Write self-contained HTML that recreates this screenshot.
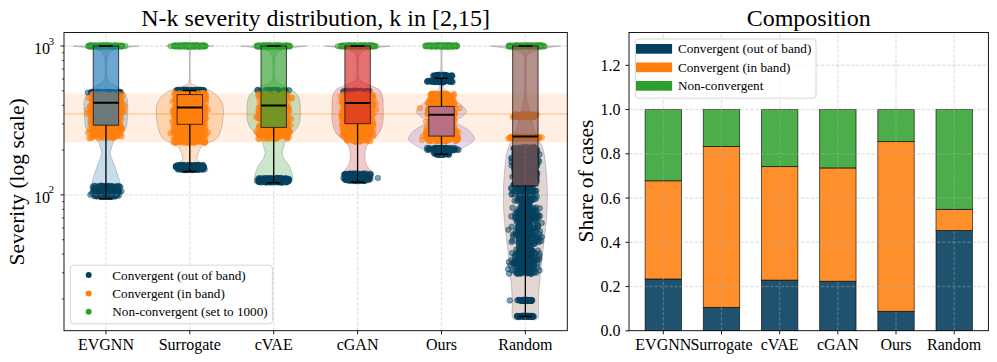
<!DOCTYPE html>
<html><head><meta charset="utf-8"><style>
html,body{margin:0;padding:0;background:#fff;width:997px;height:362px;overflow:hidden;position:relative}
svg text{font-family:"Liberation Serif",serif;fill:#000}
.tk{font-size:16px}.sup{font-size:11.2px}.ti{font-size:24px}.lb{font-size:21.5px}.lg{font-size:13.2px}
</style></head><body>
<svg width="997" height="362" viewBox="0 0 997 362" style="position:absolute;left:0;top:0">
<rect width="997" height="362" fill="#fff"/>
<defs><clipPath id="cl"><rect x="64.0" y="32.5" width="503.29999999999995" height="298.2"/></clipPath><clipPath id="cr"><rect x="629" y="32.5" width="359.4" height="298.2"/></clipPath></defs>
<g clip-path="url(#cl)">
<rect x="64.0" y="93.5" width="503.29999999999995" height="48.80000000000001" fill="rgb(255,127,14)" fill-opacity="0.12"/>
<line x1="64.0" x2="567.3" y1="114" y2="114" stroke="rgb(255,127,14)" stroke-opacity="0.45" stroke-width="1.2"/>
<path d="M138.94,46.00 C136.94,46.25 130.44,47.00 126.94,47.50 C123.44,48.00 120.52,48.42 117.94,49.00 C115.36,49.58 113.02,50.17 111.44,51.00 C109.86,51.83 109.19,52.50 108.44,54.00 C107.69,55.50 107.19,56.17 106.94,60.00 C106.69,63.83 106.36,73.17 106.94,77.00 C107.52,80.83 108.94,81.50 110.44,83.00 C111.94,84.50 113.86,84.50 115.94,86.00 C118.02,87.50 121.02,89.67 122.94,92.00 C124.86,94.33 126.69,96.17 127.44,100.00 C128.19,103.83 127.69,110.33 127.44,115.00 C127.19,119.67 127.19,124.67 125.94,128.00 C124.69,131.33 121.91,132.83 119.94,135.00 C117.97,137.17 115.47,139.17 114.14,141.00 C112.81,142.83 112.54,144.33 111.94,146.00 C111.34,147.67 110.79,149.50 110.54,151.00 C110.29,152.50 109.82,152.67 110.44,155.00 C111.06,157.33 113.02,161.67 114.24,165.00 C115.46,168.33 116.84,172.17 117.74,175.00 C118.64,177.83 119.11,179.50 119.64,182.00 C120.17,184.50 121.22,187.67 120.94,190.00 C120.66,192.33 120.44,194.42 117.94,196.00 C115.44,197.58 107.94,198.92 105.94,199.50 L105.94,199.50 C103.94,198.92 96.44,197.58 93.94,196.00 C91.44,194.42 91.22,192.33 90.94,190.00 C90.66,187.67 91.71,184.50 92.24,182.00 C92.77,179.50 93.24,177.83 94.14,175.00 C95.04,172.17 96.42,168.33 97.64,165.00 C98.86,161.67 100.82,157.33 101.44,155.00 C102.06,152.67 101.59,152.50 101.34,151.00 C101.09,149.50 100.54,147.67 99.94,146.00 C99.34,144.33 99.07,142.83 97.74,141.00 C96.41,139.17 93.91,137.17 91.94,135.00 C89.97,132.83 87.19,131.33 85.94,128.00 C84.69,124.67 84.69,119.67 84.44,115.00 C84.19,110.33 83.69,103.83 84.44,100.00 C85.19,96.17 87.02,94.33 88.94,92.00 C90.86,89.67 93.86,87.50 95.94,86.00 C98.02,84.50 99.94,84.50 101.44,83.00 C102.94,81.50 104.36,80.83 104.94,77.00 C105.52,73.17 105.19,63.83 104.94,60.00 C104.69,56.17 104.19,55.50 103.44,54.00 C102.69,52.50 102.02,51.83 100.44,51.00 C98.86,50.17 96.52,49.58 93.94,49.00 C91.36,48.42 88.44,48.00 84.94,47.50 C81.44,47.00 74.94,46.25 72.94,46.00Z" fill="rgb(31,119,180)" fill-opacity="0.25" stroke="rgb(128,128,128)" stroke-opacity="0.5" stroke-width="0.8"/>
<path d="M213.82,46.00 C211.16,46.25 201.49,46.92 197.82,47.50 C194.16,48.08 193.06,48.58 191.82,49.50 C190.59,50.42 190.66,47.92 190.42,53.00 C190.19,58.08 189.86,74.67 190.42,80.00 C190.99,85.33 191.17,83.50 193.82,85.00 C196.47,86.50 202.57,87.33 206.32,89.00 C210.07,90.67 213.57,92.33 216.32,95.00 C219.07,97.67 221.74,100.83 222.82,105.00 C223.91,109.17 223.16,115.83 222.82,120.00 C222.49,124.17 221.66,127.17 220.82,130.00 C219.99,132.83 219.16,135.17 217.82,137.00 C216.49,138.83 214.82,139.83 212.82,141.00 C210.82,142.17 207.74,143.00 205.82,144.00 C203.91,145.00 202.52,145.67 201.32,147.00 C200.12,148.33 199.34,150.33 198.62,152.00 C197.91,153.67 197.16,155.58 197.02,157.00 C196.89,158.42 196.69,159.00 197.82,160.50 C198.96,162.00 203.16,164.42 203.82,166.00 C204.49,167.58 204.16,168.92 201.82,170.00 C199.49,171.08 191.82,172.08 189.82,172.50 L189.82,172.50 C187.82,172.08 180.16,171.08 177.82,170.00 C175.49,168.92 175.16,167.58 175.82,166.00 C176.49,164.42 180.69,162.00 181.82,160.50 C182.96,159.00 182.76,158.42 182.62,157.00 C182.49,155.58 181.74,153.67 181.02,152.00 C180.31,150.33 179.52,148.33 178.32,147.00 C177.12,145.67 175.74,145.00 173.82,144.00 C171.91,143.00 168.82,142.17 166.82,141.00 C164.82,139.83 163.16,138.83 161.82,137.00 C160.49,135.17 159.66,132.83 158.82,130.00 C157.99,127.17 157.16,124.17 156.82,120.00 C156.49,115.83 155.74,109.17 156.82,105.00 C157.91,100.83 160.57,97.67 163.32,95.00 C166.07,92.33 169.57,90.67 173.32,89.00 C177.07,87.33 183.17,86.50 185.82,85.00 C188.47,83.50 188.66,85.33 189.22,80.00 C189.79,74.67 189.46,58.08 189.22,53.00 C188.99,47.92 189.06,50.42 187.82,49.50 C186.59,48.58 185.49,48.08 181.82,47.50 C178.16,46.92 168.49,46.25 165.82,46.00Z" fill="rgb(255,127,14)" fill-opacity="0.25" stroke="rgb(128,128,128)" stroke-opacity="0.5" stroke-width="0.8"/>
<path d="M306.71,46.00 C304.71,46.25 298.21,47.00 294.71,47.50 C291.21,48.00 288.29,48.42 285.71,49.00 C283.12,49.58 280.79,50.17 279.21,51.00 C277.62,51.83 276.96,52.50 276.21,54.00 C275.46,55.50 274.96,56.17 274.71,60.00 C274.46,63.83 274.12,73.17 274.71,77.00 C275.29,80.83 276.54,81.50 278.21,83.00 C279.87,84.50 282.29,84.83 284.71,86.00 C287.12,87.17 290.37,88.17 292.71,90.00 C295.04,91.83 297.46,94.50 298.71,97.00 C299.96,99.50 299.96,101.50 300.21,105.00 C300.46,108.50 300.54,114.50 300.21,118.00 C299.87,121.50 299.62,123.33 298.21,126.00 C296.79,128.67 293.79,131.50 291.71,134.00 C289.62,136.50 287.04,138.83 285.71,141.00 C284.37,143.17 284.27,145.00 283.71,147.00 C283.14,149.00 282.22,151.00 282.31,153.00 C282.39,155.00 283.14,157.00 284.21,159.00 C285.27,161.00 287.54,163.00 288.71,165.00 C289.87,167.00 290.54,169.00 291.21,171.00 C291.87,173.00 292.62,175.33 292.71,177.00 C292.79,178.67 292.87,179.83 291.71,181.00 C290.54,182.17 288.71,183.25 285.71,184.00 C282.71,184.75 275.71,185.25 273.71,185.50 L273.71,185.50 C271.71,185.25 264.71,184.75 261.71,184.00 C258.71,183.25 256.87,182.17 255.71,181.00 C254.54,179.83 254.62,178.67 254.71,177.00 C254.79,175.33 255.54,173.00 256.21,171.00 C256.87,169.00 257.54,167.00 258.71,165.00 C259.87,163.00 262.14,161.00 263.21,159.00 C264.27,157.00 265.02,155.00 265.11,153.00 C265.19,151.00 264.27,149.00 263.71,147.00 C263.14,145.00 263.04,143.17 261.71,141.00 C260.37,138.83 257.79,136.50 255.71,134.00 C253.62,131.50 250.62,128.67 249.21,126.00 C247.79,123.33 247.54,121.50 247.21,118.00 C246.87,114.50 246.96,108.50 247.21,105.00 C247.46,101.50 247.46,99.50 248.71,97.00 C249.96,94.50 252.37,91.83 254.71,90.00 C257.04,88.17 260.29,87.17 262.71,86.00 C265.12,84.83 267.54,84.50 269.21,83.00 C270.87,81.50 272.12,80.83 272.71,77.00 C273.29,73.17 272.96,63.83 272.71,60.00 C272.46,56.17 271.96,55.50 271.21,54.00 C270.46,52.50 269.79,51.83 268.21,51.00 C266.62,50.17 264.29,49.58 261.71,49.00 C259.12,48.42 256.21,48.00 252.71,47.50 C249.21,47.00 242.71,46.25 240.71,46.00Z" fill="rgb(44,160,44)" fill-opacity="0.25" stroke="rgb(128,128,128)" stroke-opacity="0.5" stroke-width="0.8"/>
<path d="M390.59,46.00 C388.59,46.25 382.09,47.00 378.59,47.50 C375.09,48.00 372.17,48.42 369.59,49.00 C367.01,49.58 364.67,50.17 363.09,51.00 C361.51,51.83 360.84,52.50 360.09,54.00 C359.34,55.50 358.84,56.17 358.59,60.00 C358.34,63.83 357.92,73.33 358.59,77.00 C359.26,80.67 360.42,80.50 362.59,82.00 C364.76,83.50 368.76,84.67 371.59,86.00 C374.42,87.33 377.76,88.17 379.59,90.00 C381.42,91.83 382.01,94.50 382.59,97.00 C383.17,99.50 383.01,101.17 383.09,105.00 C383.17,108.83 383.51,115.83 383.09,120.00 C382.67,124.17 381.67,127.33 380.59,130.00 C379.51,132.67 378.26,134.17 376.59,136.00 C374.92,137.83 372.26,139.33 370.59,141.00 C368.92,142.67 367.51,144.17 366.59,146.00 C365.67,147.83 365.34,149.67 365.09,152.00 C364.84,154.33 364.76,157.67 365.09,160.00 C365.42,162.33 366.01,164.00 367.09,166.00 C368.17,168.00 370.51,170.00 371.59,172.00 C372.67,174.00 373.59,176.33 373.59,178.00 C373.59,179.67 374.26,181.00 371.59,182.00 C368.92,183.00 359.92,183.67 357.59,184.00 L357.59,184.00 C355.26,183.67 346.26,183.00 343.59,182.00 C340.92,181.00 341.59,179.67 341.59,178.00 C341.59,176.33 342.51,174.00 343.59,172.00 C344.67,170.00 347.01,168.00 348.09,166.00 C349.17,164.00 349.76,162.33 350.09,160.00 C350.42,157.67 350.34,154.33 350.09,152.00 C349.84,149.67 349.51,147.83 348.59,146.00 C347.67,144.17 346.26,142.67 344.59,141.00 C342.92,139.33 340.26,137.83 338.59,136.00 C336.92,134.17 335.67,132.67 334.59,130.00 C333.51,127.33 332.51,124.17 332.09,120.00 C331.67,115.83 332.01,108.83 332.09,105.00 C332.17,101.17 332.01,99.50 332.59,97.00 C333.17,94.50 333.76,91.83 335.59,90.00 C337.42,88.17 340.76,87.33 343.59,86.00 C346.42,84.67 350.42,83.50 352.59,82.00 C354.76,80.50 355.92,80.67 356.59,77.00 C357.26,73.33 356.84,63.83 356.59,60.00 C356.34,56.17 355.84,55.50 355.09,54.00 C354.34,52.50 353.67,51.83 352.09,51.00 C350.51,50.17 348.17,49.58 345.59,49.00 C343.01,48.42 340.09,48.00 336.59,47.50 C333.09,47.00 326.59,46.25 324.59,46.00Z" fill="rgb(214,39,40)" fill-opacity="0.25" stroke="rgb(128,128,128)" stroke-opacity="0.5" stroke-width="0.8"/>
<path d="M453.47,46.00 C452.14,46.17 447.27,46.50 445.47,47.00 C443.67,47.50 443.24,48.17 442.67,49.00 C442.11,49.83 442.17,48.83 442.07,52.00 C441.97,55.17 441.84,64.67 442.07,68.00 C442.31,71.33 443.07,70.33 443.47,72.00 C443.87,73.67 444.39,76.00 444.47,78.00 C444.56,80.00 444.14,82.33 443.97,84.00 C443.81,85.67 442.72,86.50 443.47,88.00 C444.22,89.50 446.81,91.00 448.47,93.00 C450.14,95.00 451.31,98.00 453.47,100.00 C455.64,102.00 459.31,103.07 461.47,105.00 C463.64,106.93 466.47,109.60 466.47,111.60 C466.47,113.60 463.47,115.35 461.47,117.00 C459.47,118.65 454.47,120.00 454.47,121.50 C454.47,123.00 458.97,124.42 461.47,126.00 C463.97,127.58 467.31,128.85 469.47,131.00 C471.64,133.15 474.47,136.73 474.47,138.90 C474.47,141.07 471.81,142.32 469.47,144.00 C467.14,145.68 463.64,147.23 460.47,149.00 C457.31,150.77 453.64,153.27 450.47,154.60 C447.31,155.93 442.97,156.60 441.47,157.00 L441.47,157.00 C439.97,156.60 435.64,155.93 432.47,154.60 C429.31,153.27 425.64,150.77 422.47,149.00 C419.31,147.23 415.81,145.68 413.47,144.00 C411.14,142.32 408.47,141.07 408.47,138.90 C408.47,136.73 411.31,133.15 413.47,131.00 C415.64,128.85 418.97,127.58 421.47,126.00 C423.97,124.42 428.47,123.00 428.47,121.50 C428.47,120.00 423.47,118.65 421.47,117.00 C419.47,115.35 416.47,113.60 416.47,111.60 C416.47,109.60 419.31,106.93 421.47,105.00 C423.64,103.07 427.31,102.00 429.47,100.00 C431.64,98.00 432.81,95.00 434.47,93.00 C436.14,91.00 438.72,89.50 439.47,88.00 C440.22,86.50 439.14,85.67 438.97,84.00 C438.81,82.33 438.39,80.00 438.47,78.00 C438.56,76.00 439.07,73.67 439.47,72.00 C439.87,70.33 440.64,71.33 440.87,68.00 C441.11,64.67 440.97,55.17 440.87,52.00 C440.77,48.83 440.84,49.83 440.27,49.00 C439.71,48.17 439.27,47.50 437.47,47.00 C435.67,46.50 430.81,46.17 429.47,46.00Z" fill="rgb(148,103,189)" fill-opacity="0.25" stroke="rgb(128,128,128)" stroke-opacity="0.5" stroke-width="0.8"/>
<path d="M560.36,46.00 C558.52,46.25 552.86,46.92 549.36,47.50 C545.86,48.08 542.36,48.75 539.36,49.50 C536.36,50.25 533.27,51.08 531.36,52.00 C529.44,52.92 528.71,53.67 527.86,55.00 C527.01,56.33 526.51,53.33 526.26,60.00 C526.01,66.67 525.84,86.67 526.36,95.00 C526.87,103.33 528.27,105.00 529.36,110.00 C530.44,115.00 531.69,120.83 532.86,125.00 C534.02,129.17 534.62,130.83 536.36,135.00 C538.09,139.17 541.64,144.17 543.26,150.00 C544.87,155.83 545.37,162.50 546.06,170.00 C546.74,177.50 547.31,186.67 547.36,195.00 C547.41,203.33 547.19,210.00 546.36,220.00 C545.52,230.00 543.44,245.00 542.36,255.00 C541.27,265.00 540.52,272.50 539.86,280.00 C539.19,287.50 538.72,293.58 538.36,300.00 C537.99,306.42 539.82,315.40 537.66,318.50 C535.49,321.60 527.41,318.58 525.36,318.60 L525.36,318.60 C523.31,318.58 515.22,321.60 513.06,318.50 C510.89,315.40 512.72,306.42 512.36,300.00 C511.99,293.58 511.52,287.50 510.86,280.00 C510.19,272.50 509.44,265.00 508.36,255.00 C507.27,245.00 505.19,230.00 504.36,220.00 C503.52,210.00 503.31,203.33 503.36,195.00 C503.41,186.67 503.97,177.50 504.66,170.00 C505.34,162.50 505.84,155.83 507.46,150.00 C509.07,144.17 512.62,139.17 514.36,135.00 C516.09,130.83 516.69,129.17 517.86,125.00 C519.02,120.83 520.27,115.00 521.36,110.00 C522.44,105.00 523.84,103.33 524.36,95.00 C524.87,86.67 524.71,66.67 524.46,60.00 C524.21,53.33 523.71,56.33 522.86,55.00 C522.01,53.67 521.27,52.92 519.36,52.00 C517.44,51.08 514.36,50.25 511.36,49.50 C508.36,48.75 504.86,48.08 501.36,47.50 C497.86,46.92 492.19,46.25 490.36,46.00Z" fill="rgb(140,86,75)" fill-opacity="0.25" stroke="rgb(128,128,128)" stroke-opacity="0.5" stroke-width="0.8"/>
<g fill="rgb(5,65,95)" fill-opacity="0.5" stroke="rgb(5,65,95)" stroke-opacity="0.5" stroke-width="0.8">
<circle cx="108.4" cy="92.1" r="2.8"/><circle cx="99.2" cy="92.4" r="2.8"/><circle cx="97.8" cy="92.1" r="2.8"/><circle cx="91.3" cy="92.1" r="2.8"/><circle cx="90.8" cy="92.5" r="2.8"/><circle cx="105.7" cy="92.3" r="2.8"/><circle cx="103.7" cy="92.6" r="2.8"/><circle cx="120.7" cy="92.1" r="2.8"/><circle cx="106.2" cy="92.7" r="2.8"/><circle cx="96.8" cy="92.6" r="2.8"/><circle cx="96.5" cy="92.1" r="2.8"/><circle cx="93.1" cy="92.6" r="2.8"/><circle cx="105.5" cy="92.5" r="2.8"/><circle cx="108.8" cy="92.2" r="2.8"/><circle cx="97.4" cy="92.1" r="2.8"/><circle cx="119.7" cy="92.3" r="2.8"/><circle cx="103.7" cy="92.1" r="2.8"/><circle cx="105.6" cy="92.5" r="2.8"/><circle cx="99.0" cy="92.0" r="2.8"/><circle cx="106.5" cy="92.4" r="2.8"/><circle cx="120.0" cy="92.1" r="2.8"/><circle cx="110.0" cy="92.3" r="2.8"/><circle cx="109.5" cy="92.5" r="2.8"/><circle cx="115.0" cy="92.2" r="2.8"/><circle cx="109.4" cy="92.0" r="2.8"/><circle cx="97.0" cy="92.0" r="2.8"/><circle cx="103.5" cy="92.5" r="2.8"/><circle cx="107.2" cy="92.5" r="2.8"/><circle cx="95.6" cy="92.2" r="2.8"/><circle cx="105.2" cy="92.8" r="2.8"/><circle cx="112.7" cy="92.8" r="2.8"/><circle cx="105.3" cy="92.1" r="2.8"/><circle cx="104.3" cy="92.5" r="2.8"/><circle cx="99.1" cy="92.2" r="2.8"/><circle cx="107.9" cy="92.2" r="2.8"/><circle cx="113.3" cy="92.4" r="2.8"/><circle cx="109.8" cy="92.2" r="2.8"/><circle cx="107.8" cy="92.6" r="2.8"/><circle cx="117.4" cy="92.6" r="2.8"/><circle cx="116.8" cy="92.6" r="2.8"/><circle cx="96.8" cy="92.0" r="2.8"/><circle cx="100.0" cy="92.6" r="2.8"/><circle cx="105.3" cy="92.1" r="2.8"/><circle cx="113.2" cy="92.8" r="2.8"/><circle cx="110.6" cy="92.3" r="2.8"/><circle cx="107.3" cy="92.6" r="2.8"/><circle cx="108.9" cy="92.1" r="2.8"/><circle cx="108.1" cy="92.4" r="2.8"/><circle cx="117.7" cy="92.4" r="2.8"/><circle cx="98.7" cy="92.1" r="2.8"/><circle cx="107.9" cy="92.4" r="2.8"/><circle cx="98.3" cy="92.0" r="2.8"/><circle cx="101.3" cy="92.8" r="2.8"/><circle cx="87.8" cy="92.6" r="2.8"/><circle cx="111.6" cy="92.1" r="2.8"/><circle cx="97.1" cy="92.5" r="2.8"/><circle cx="92.2" cy="92.0" r="2.8"/><circle cx="107.9" cy="92.0" r="2.8"/><circle cx="97.5" cy="92.4" r="2.8"/><circle cx="100.5" cy="92.5" r="2.8"/><circle cx="94.9" cy="92.2" r="2.8"/><circle cx="118.5" cy="92.3" r="2.8"/><circle cx="108.8" cy="92.1" r="2.8"/><circle cx="104.6" cy="92.5" r="2.8"/><circle cx="107.0" cy="92.6" r="2.8"/><circle cx="117.3" cy="92.0" r="2.8"/><circle cx="111.1" cy="92.3" r="2.8"/><circle cx="104.6" cy="92.5" r="2.8"/><circle cx="100.4" cy="92.4" r="2.8"/><circle cx="118.6" cy="92.5" r="2.8"/><circle cx="97.8" cy="92.8" r="2.8"/><circle cx="102.6" cy="92.6" r="2.8"/><circle cx="96.8" cy="189.7" r="2.8"/><circle cx="99.4" cy="192.9" r="2.8"/><circle cx="108.2" cy="188.3" r="2.8"/><circle cx="98.2" cy="190.7" r="2.8"/><circle cx="118.4" cy="186.1" r="2.8"/><circle cx="113.7" cy="193.1" r="2.8"/><circle cx="97.8" cy="191.1" r="2.8"/><circle cx="104.1" cy="187.7" r="2.8"/><circle cx="109.0" cy="192.7" r="2.8"/><circle cx="100.9" cy="187.6" r="2.8"/><circle cx="105.5" cy="191.7" r="2.8"/><circle cx="100.8" cy="192.4" r="2.8"/><circle cx="109.1" cy="193.1" r="2.8"/><circle cx="98.4" cy="194.1" r="2.8"/><circle cx="101.0" cy="190.5" r="2.8"/><circle cx="101.1" cy="191.9" r="2.8"/><circle cx="111.5" cy="196.2" r="2.8"/><circle cx="109.0" cy="192.8" r="2.8"/><circle cx="116.7" cy="186.2" r="2.8"/><circle cx="104.0" cy="188.7" r="2.8"/><circle cx="104.7" cy="187.7" r="2.8"/><circle cx="114.9" cy="195.3" r="2.8"/><circle cx="115.7" cy="193.2" r="2.8"/><circle cx="105.8" cy="188.0" r="2.8"/><circle cx="101.5" cy="189.4" r="2.8"/><circle cx="109.3" cy="186.5" r="2.8"/><circle cx="100.3" cy="187.1" r="2.8"/><circle cx="117.2" cy="188.8" r="2.8"/><circle cx="113.9" cy="196.4" r="2.8"/><circle cx="98.3" cy="188.8" r="2.8"/><circle cx="106.4" cy="194.5" r="2.8"/><circle cx="109.0" cy="195.7" r="2.8"/><circle cx="111.3" cy="195.0" r="2.8"/><circle cx="108.9" cy="190.8" r="2.8"/><circle cx="118.3" cy="190.7" r="2.8"/><circle cx="108.4" cy="188.8" r="2.8"/><circle cx="98.5" cy="193.2" r="2.8"/><circle cx="101.5" cy="188.1" r="2.8"/><circle cx="106.0" cy="189.7" r="2.8"/><circle cx="105.5" cy="186.1" r="2.8"/><circle cx="101.8" cy="189.6" r="2.8"/><circle cx="92.2" cy="193.6" r="2.8"/><circle cx="96.6" cy="190.1" r="2.8"/><circle cx="106.1" cy="195.6" r="2.8"/><circle cx="111.9" cy="194.2" r="2.8"/><circle cx="110.4" cy="189.6" r="2.8"/><circle cx="102.6" cy="192.6" r="2.8"/><circle cx="104.3" cy="192.0" r="2.8"/><circle cx="109.0" cy="185.8" r="2.8"/><circle cx="97.3" cy="188.5" r="2.8"/><circle cx="113.4" cy="192.5" r="2.8"/><circle cx="103.0" cy="188.9" r="2.8"/><circle cx="108.8" cy="194.2" r="2.8"/><circle cx="99.3" cy="193.0" r="2.8"/><circle cx="103.6" cy="187.8" r="2.8"/><circle cx="98.4" cy="191.3" r="2.8"/><circle cx="96.5" cy="195.1" r="2.8"/><circle cx="97.6" cy="187.8" r="2.8"/><circle cx="104.3" cy="190.9" r="2.8"/><circle cx="121.4" cy="191.2" r="2.8"/><circle cx="113.2" cy="187.9" r="2.8"/><circle cx="98.3" cy="191.9" r="2.8"/><circle cx="112.1" cy="194.2" r="2.8"/><circle cx="109.9" cy="188.2" r="2.8"/><circle cx="94.2" cy="189.8" r="2.8"/><circle cx="107.6" cy="192.7" r="2.8"/><circle cx="112.2" cy="187.4" r="2.8"/><circle cx="107.4" cy="186.9" r="2.8"/><circle cx="99.3" cy="188.5" r="2.8"/><circle cx="99.2" cy="186.7" r="2.8"/><circle cx="102.5" cy="189.0" r="2.8"/><circle cx="104.4" cy="194.2" r="2.8"/><circle cx="92.7" cy="187.0" r="2.8"/><circle cx="111.3" cy="189.3" r="2.8"/><circle cx="106.4" cy="194.1" r="2.8"/><circle cx="117.6" cy="193.9" r="2.8"/><circle cx="94.4" cy="190.0" r="2.8"/><circle cx="104.3" cy="195.9" r="2.8"/><circle cx="107.7" cy="190.5" r="2.8"/><circle cx="97.3" cy="194.7" r="2.8"/><circle cx="97.6" cy="190.1" r="2.8"/><circle cx="108.0" cy="191.8" r="2.8"/><circle cx="115.8" cy="188.4" r="2.8"/><circle cx="116.2" cy="186.7" r="2.8"/><circle cx="109.4" cy="196.3" r="2.8"/><circle cx="111.4" cy="192.6" r="2.8"/><circle cx="100.5" cy="190.8" r="2.8"/><circle cx="108.7" cy="193.4" r="2.8"/><circle cx="115.2" cy="192.8" r="2.8"/><circle cx="101.2" cy="186.0" r="2.8"/><circle cx="95.9" cy="192.2" r="2.8"/><circle cx="113.8" cy="193.0" r="2.8"/><circle cx="114.3" cy="189.1" r="2.8"/><circle cx="120.4" cy="187.0" r="2.8"/><circle cx="112.5" cy="186.1" r="2.8"/><circle cx="103.1" cy="189.7" r="2.8"/><circle cx="95.7" cy="191.2" r="2.8"/><circle cx="118.6" cy="191.4" r="2.8"/><circle cx="98.6" cy="189.9" r="2.8"/><circle cx="109.9" cy="196.2" r="2.8"/><circle cx="112.8" cy="194.7" r="2.8"/><circle cx="93.6" cy="188.8" r="2.8"/><circle cx="108.1" cy="190.6" r="2.8"/><circle cx="96.6" cy="194.0" r="2.8"/><circle cx="117.8" cy="191.4" r="2.8"/><circle cx="107.6" cy="195.4" r="2.8"/><circle cx="104.4" cy="190.3" r="2.8"/><circle cx="108.3" cy="195.6" r="2.8"/><circle cx="117.4" cy="193.4" r="2.8"/><circle cx="111.8" cy="187.0" r="2.8"/><circle cx="95.9" cy="186.0" r="2.8"/><circle cx="96.5" cy="190.9" r="2.8"/><circle cx="94.9" cy="188.2" r="2.8"/><circle cx="96.1" cy="187.9" r="2.8"/><circle cx="99.2" cy="194.6" r="2.8"/><circle cx="112.9" cy="188.4" r="2.8"/><circle cx="119.2" cy="186.3" r="2.8"/><circle cx="115.7" cy="190.2" r="2.8"/><circle cx="111.2" cy="186.9" r="2.8"/><circle cx="115.3" cy="192.1" r="2.8"/><circle cx="97.5" cy="188.8" r="2.8"/><circle cx="108.3" cy="190.5" r="2.8"/><circle cx="109.8" cy="189.0" r="2.8"/><circle cx="101.1" cy="186.7" r="2.8"/><circle cx="106.0" cy="187.0" r="2.8"/><circle cx="103.6" cy="193.5" r="2.8"/><circle cx="118.9" cy="195.4" r="2.8"/><circle cx="106.1" cy="195.4" r="2.8"/><circle cx="114.4" cy="195.9" r="2.8"/><circle cx="119.4" cy="192.3" r="2.8"/><circle cx="103.4" cy="192.7" r="2.8"/><circle cx="99.4" cy="195.0" r="2.8"/><circle cx="104.9" cy="192.4" r="2.8"/><circle cx="110.3" cy="193.4" r="2.8"/><circle cx="110.0" cy="186.9" r="2.8"/><circle cx="97.6" cy="193.2" r="2.8"/><circle cx="103.9" cy="196.1" r="2.8"/><circle cx="105.0" cy="189.8" r="2.8"/><circle cx="98.8" cy="193.7" r="2.8"/><circle cx="118.1" cy="191.3" r="2.8"/><circle cx="111.0" cy="196.1" r="2.8"/><circle cx="115.1" cy="196.4" r="2.8"/><circle cx="102.5" cy="188.4" r="2.8"/><circle cx="90.4" cy="194.7" r="2.8"/><circle cx="100.2" cy="188.7" r="2.8"/><circle cx="106.8" cy="189.7" r="2.8"/><circle cx="103.9" cy="194.8" r="2.8"/><circle cx="98.2" cy="187.5" r="2.8"/><circle cx="96.6" cy="189.4" r="2.8"/><circle cx="115.3" cy="193.5" r="2.8"/><circle cx="102.3" cy="189.3" r="2.8"/><circle cx="103.1" cy="189.0" r="2.8"/><circle cx="102.7" cy="185.9" r="2.8"/><circle cx="105.8" cy="185.9" r="2.8"/><circle cx="99.3" cy="196.1" r="2.8"/><circle cx="111.6" cy="186.1" r="2.8"/><circle cx="99.1" cy="192.0" r="2.8"/><circle cx="106.1" cy="188.9" r="2.8"/><circle cx="108.6" cy="189.8" r="2.8"/><circle cx="111.6" cy="194.9" r="2.8"/><circle cx="103.7" cy="194.5" r="2.8"/><circle cx="110.7" cy="191.7" r="2.8"/><circle cx="97.6" cy="188.6" r="2.8"/><circle cx="113.5" cy="193.4" r="2.8"/><circle cx="117.3" cy="192.5" r="2.8"/><circle cx="101.2" cy="194.5" r="2.8"/><circle cx="95.2" cy="195.7" r="2.8"/><circle cx="112.9" cy="189.4" r="2.8"/><circle cx="97.6" cy="195.8" r="2.8"/><circle cx="104.9" cy="194.1" r="2.8"/><circle cx="95.4" cy="193.9" r="2.8"/><circle cx="92.4" cy="192.4" r="2.8"/><circle cx="108.7" cy="188.5" r="2.8"/><circle cx="101.5" cy="187.3" r="2.8"/><circle cx="103.7" cy="196.0" r="2.8"/><circle cx="103.1" cy="190.6" r="2.8"/><circle cx="94.5" cy="196.2" r="2.8"/><circle cx="105.4" cy="190.6" r="2.8"/><circle cx="102.9" cy="190.2" r="2.8"/><circle cx="107.6" cy="190.2" r="2.8"/><circle cx="105.7" cy="188.3" r="2.8"/><circle cx="97.1" cy="190.0" r="2.8"/><circle cx="108.8" cy="191.2" r="2.8"/><circle cx="101.5" cy="196.5" r="2.8"/><circle cx="93.9" cy="185.9" r="2.8"/><circle cx="100.3" cy="190.3" r="2.8"/><circle cx="108.1" cy="194.8" r="2.8"/><circle cx="99.5" cy="185.9" r="2.8"/><circle cx="107.1" cy="192.4" r="2.8"/><circle cx="103.4" cy="189.8" r="2.8"/><circle cx="108.8" cy="186.9" r="2.8"/><circle cx="116.0" cy="187.0" r="2.8"/><circle cx="97.3" cy="196.4" r="2.8"/><circle cx="103.2" cy="186.3" r="2.8"/><circle cx="101.3" cy="195.6" r="2.8"/><circle cx="108.0" cy="195.4" r="2.8"/><circle cx="113.0" cy="189.9" r="2.8"/><circle cx="107.1" cy="192.4" r="2.8"/><circle cx="117.1" cy="195.7" r="2.8"/><circle cx="113.3" cy="191.9" r="2.8"/><circle cx="107.3" cy="191.7" r="2.8"/><circle cx="96.5" cy="196.2" r="2.8"/><circle cx="107.3" cy="191.5" r="2.8"/><circle cx="101.1" cy="195.9" r="2.8"/><circle cx="113.8" cy="195.2" r="2.8"/><circle cx="107.5" cy="186.1" r="2.8"/><circle cx="111.5" cy="189.9" r="2.8"/><circle cx="101.2" cy="191.5" r="2.8"/><circle cx="118.2" cy="189.3" r="2.8"/><circle cx="106.1" cy="194.1" r="2.8"/><circle cx="114.1" cy="189.9" r="2.8"/><circle cx="113.3" cy="187.7" r="2.8"/><circle cx="99.8" cy="195.8" r="2.8"/><circle cx="114.1" cy="191.1" r="2.8"/><circle cx="99.2" cy="187.5" r="2.8"/><circle cx="101.3" cy="195.7" r="2.8"/><circle cx="100.6" cy="187.5" r="2.8"/><circle cx="95.7" cy="193.3" r="2.8"/><circle cx="96.3" cy="194.4" r="2.8"/><circle cx="111.1" cy="194.6" r="2.8"/><circle cx="107.7" cy="188.1" r="2.8"/><circle cx="101.4" cy="185.8" r="2.8"/><circle cx="113.1" cy="194.6" r="2.8"/><circle cx="115.6" cy="194.1" r="2.8"/><circle cx="111.1" cy="189.3" r="2.8"/><circle cx="186.8" cy="90.4" r="2.8"/><circle cx="184.5" cy="90.1" r="2.8"/><circle cx="187.4" cy="90.0" r="2.8"/><circle cx="194.0" cy="90.5" r="2.8"/><circle cx="186.4" cy="90.0" r="2.8"/><circle cx="190.5" cy="90.0" r="2.8"/><circle cx="197.7" cy="90.3" r="2.8"/><circle cx="183.7" cy="90.0" r="2.8"/><circle cx="185.4" cy="90.6" r="2.8"/><circle cx="177.5" cy="90.5" r="2.8"/><circle cx="194.7" cy="90.0" r="2.8"/><circle cx="194.6" cy="90.6" r="2.8"/><circle cx="188.1" cy="90.2" r="2.8"/><circle cx="198.2" cy="90.5" r="2.8"/><circle cx="190.4" cy="90.3" r="2.8"/><circle cx="194.8" cy="90.1" r="2.8"/><circle cx="196.8" cy="90.1" r="2.8"/><circle cx="195.0" cy="90.1" r="2.8"/><circle cx="184.5" cy="90.2" r="2.8"/><circle cx="183.5" cy="90.7" r="2.8"/><circle cx="176.6" cy="90.1" r="2.8"/><circle cx="178.3" cy="90.3" r="2.8"/><circle cx="183.9" cy="90.0" r="2.8"/><circle cx="198.1" cy="90.2" r="2.8"/><circle cx="189.3" cy="90.6" r="2.8"/><circle cx="197.2" cy="90.5" r="2.8"/><circle cx="197.0" cy="90.4" r="2.8"/><circle cx="183.9" cy="90.3" r="2.8"/><circle cx="189.3" cy="90.6" r="2.8"/><circle cx="197.2" cy="90.7" r="2.8"/><circle cx="202.0" cy="90.4" r="2.8"/><circle cx="186.1" cy="90.2" r="2.8"/><circle cx="203.7" cy="90.6" r="2.8"/><circle cx="192.0" cy="90.6" r="2.8"/><circle cx="197.1" cy="90.3" r="2.8"/><circle cx="194.1" cy="90.5" r="2.8"/><circle cx="203.7" cy="90.1" r="2.8"/><circle cx="202.1" cy="90.2" r="2.8"/><circle cx="203.3" cy="90.4" r="2.8"/><circle cx="178.7" cy="90.0" r="2.8"/><circle cx="190.4" cy="90.4" r="2.8"/><circle cx="197.3" cy="90.2" r="2.8"/><circle cx="189.0" cy="90.0" r="2.8"/><circle cx="182.2" cy="90.2" r="2.8"/><circle cx="184.5" cy="90.3" r="2.8"/><circle cx="184.9" cy="90.7" r="2.8"/><circle cx="190.5" cy="90.0" r="2.8"/><circle cx="192.1" cy="90.5" r="2.8"/><circle cx="190.9" cy="90.3" r="2.8"/><circle cx="202.4" cy="90.3" r="2.8"/><circle cx="177.2" cy="90.4" r="2.8"/><circle cx="177.9" cy="90.6" r="2.8"/><circle cx="200.9" cy="90.0" r="2.8"/><circle cx="186.9" cy="89.9" r="2.8"/><circle cx="185.6" cy="89.9" r="2.8"/><circle cx="185.7" cy="90.3" r="2.8"/><circle cx="180.7" cy="90.0" r="2.8"/><circle cx="185.7" cy="90.3" r="2.8"/><circle cx="182.3" cy="90.4" r="2.8"/><circle cx="200.6" cy="90.2" r="2.8"/><circle cx="197.0" cy="90.4" r="2.8"/><circle cx="187.7" cy="90.2" r="2.8"/><circle cx="199.8" cy="89.9" r="2.8"/><circle cx="187.3" cy="90.6" r="2.8"/><circle cx="188.6" cy="90.1" r="2.8"/><circle cx="183.8" cy="90.1" r="2.8"/><circle cx="182.6" cy="90.4" r="2.8"/><circle cx="199.7" cy="90.7" r="2.8"/><circle cx="190.8" cy="90.6" r="2.8"/><circle cx="191.1" cy="90.2" r="2.8"/><circle cx="189.7" cy="90.2" r="2.8"/><circle cx="198.1" cy="90.3" r="2.8"/><circle cx="186.1" cy="167.5" r="2.8"/><circle cx="198.7" cy="168.1" r="2.8"/><circle cx="195.7" cy="169.4" r="2.8"/><circle cx="204.7" cy="169.3" r="2.8"/><circle cx="190.0" cy="165.4" r="2.8"/><circle cx="201.1" cy="168.4" r="2.8"/><circle cx="202.4" cy="169.0" r="2.8"/><circle cx="196.4" cy="169.8" r="2.8"/><circle cx="189.8" cy="168.4" r="2.8"/><circle cx="183.1" cy="167.5" r="2.8"/><circle cx="186.4" cy="169.2" r="2.8"/><circle cx="194.5" cy="167.6" r="2.8"/><circle cx="203.0" cy="165.0" r="2.8"/><circle cx="178.0" cy="166.0" r="2.8"/><circle cx="179.7" cy="166.3" r="2.8"/><circle cx="194.0" cy="165.2" r="2.8"/><circle cx="176.4" cy="166.3" r="2.8"/><circle cx="202.4" cy="166.9" r="2.8"/><circle cx="190.4" cy="167.7" r="2.8"/><circle cx="198.9" cy="166.3" r="2.8"/><circle cx="190.3" cy="166.2" r="2.8"/><circle cx="195.7" cy="168.4" r="2.8"/><circle cx="178.0" cy="166.6" r="2.8"/><circle cx="180.5" cy="169.2" r="2.8"/><circle cx="184.9" cy="166.7" r="2.8"/><circle cx="179.6" cy="168.7" r="2.8"/><circle cx="176.2" cy="166.2" r="2.8"/><circle cx="179.6" cy="165.2" r="2.8"/><circle cx="196.8" cy="169.4" r="2.8"/><circle cx="191.0" cy="169.0" r="2.8"/><circle cx="184.6" cy="170.0" r="2.8"/><circle cx="188.8" cy="166.9" r="2.8"/><circle cx="184.7" cy="166.5" r="2.8"/><circle cx="188.2" cy="168.3" r="2.8"/><circle cx="185.7" cy="170.0" r="2.8"/><circle cx="197.2" cy="167.5" r="2.8"/><circle cx="195.7" cy="168.9" r="2.8"/><circle cx="189.2" cy="168.4" r="2.8"/><circle cx="183.7" cy="166.3" r="2.8"/><circle cx="200.8" cy="167.7" r="2.8"/><circle cx="181.0" cy="166.4" r="2.8"/><circle cx="194.5" cy="165.6" r="2.8"/><circle cx="185.9" cy="169.6" r="2.8"/><circle cx="186.9" cy="169.5" r="2.8"/><circle cx="182.8" cy="166.5" r="2.8"/><circle cx="182.9" cy="167.5" r="2.8"/><circle cx="191.8" cy="167.4" r="2.8"/><circle cx="179.2" cy="166.7" r="2.8"/><circle cx="192.8" cy="165.5" r="2.8"/><circle cx="198.3" cy="169.4" r="2.8"/><circle cx="185.8" cy="169.2" r="2.8"/><circle cx="202.6" cy="165.4" r="2.8"/><circle cx="202.2" cy="166.1" r="2.8"/><circle cx="178.5" cy="168.8" r="2.8"/><circle cx="194.5" cy="168.2" r="2.8"/><circle cx="189.2" cy="168.4" r="2.8"/><circle cx="182.5" cy="166.1" r="2.8"/><circle cx="200.6" cy="168.1" r="2.8"/><circle cx="192.4" cy="168.9" r="2.8"/><circle cx="182.0" cy="167.5" r="2.8"/><circle cx="190.3" cy="167.7" r="2.8"/><circle cx="190.4" cy="166.1" r="2.8"/><circle cx="191.9" cy="169.4" r="2.8"/><circle cx="188.7" cy="167.9" r="2.8"/><circle cx="197.9" cy="167.5" r="2.8"/><circle cx="197.8" cy="169.4" r="2.8"/><circle cx="183.1" cy="168.4" r="2.8"/><circle cx="189.6" cy="166.6" r="2.8"/><circle cx="189.2" cy="166.5" r="2.8"/><circle cx="183.1" cy="168.5" r="2.8"/><circle cx="196.4" cy="165.8" r="2.8"/><circle cx="188.1" cy="169.4" r="2.8"/><circle cx="198.4" cy="166.6" r="2.8"/><circle cx="188.8" cy="167.1" r="2.8"/><circle cx="200.2" cy="168.6" r="2.8"/><circle cx="176.0" cy="165.9" r="2.8"/><circle cx="180.8" cy="166.0" r="2.8"/><circle cx="194.1" cy="167.4" r="2.8"/><circle cx="195.0" cy="167.1" r="2.8"/><circle cx="199.3" cy="166.6" r="2.8"/><circle cx="183.8" cy="168.8" r="2.8"/><circle cx="195.3" cy="166.5" r="2.8"/><circle cx="184.8" cy="165.7" r="2.8"/><circle cx="187.7" cy="165.3" r="2.8"/><circle cx="192.4" cy="169.9" r="2.8"/><circle cx="182.6" cy="165.4" r="2.8"/><circle cx="189.8" cy="168.7" r="2.8"/><circle cx="191.3" cy="166.2" r="2.8"/><circle cx="180.7" cy="165.4" r="2.8"/><circle cx="185.4" cy="169.6" r="2.8"/><circle cx="191.9" cy="166.4" r="2.8"/><circle cx="193.1" cy="166.9" r="2.8"/><circle cx="177.8" cy="165.5" r="2.8"/><circle cx="178.6" cy="166.7" r="2.8"/><circle cx="197.2" cy="168.6" r="2.8"/><circle cx="181.7" cy="166.0" r="2.8"/><circle cx="186.4" cy="169.3" r="2.8"/><circle cx="197.4" cy="165.8" r="2.8"/><circle cx="191.7" cy="166.3" r="2.8"/><circle cx="190.5" cy="168.6" r="2.8"/><circle cx="191.8" cy="168.2" r="2.8"/><circle cx="195.1" cy="165.0" r="2.8"/><circle cx="185.8" cy="167.6" r="2.8"/><circle cx="177.9" cy="169.6" r="2.8"/><circle cx="191.1" cy="167.4" r="2.8"/><circle cx="186.9" cy="167.1" r="2.8"/><circle cx="196.7" cy="166.1" r="2.8"/><circle cx="199.5" cy="169.4" r="2.8"/><circle cx="196.7" cy="165.6" r="2.8"/><circle cx="180.5" cy="168.9" r="2.8"/><circle cx="188.6" cy="169.8" r="2.8"/><circle cx="179.0" cy="168.3" r="2.8"/><circle cx="200.7" cy="167.9" r="2.8"/><circle cx="179.2" cy="168.3" r="2.8"/><circle cx="184.9" cy="165.7" r="2.8"/><circle cx="181.1" cy="167.9" r="2.8"/><circle cx="188.3" cy="165.5" r="2.8"/><circle cx="197.3" cy="166.3" r="2.8"/><circle cx="179.6" cy="168.2" r="2.8"/><circle cx="199.6" cy="165.4" r="2.8"/><circle cx="187.6" cy="167.7" r="2.8"/><circle cx="190.6" cy="168.3" r="2.8"/><circle cx="198.1" cy="165.4" r="2.8"/><circle cx="195.8" cy="165.6" r="2.8"/><circle cx="182.0" cy="166.0" r="2.8"/><circle cx="187.4" cy="167.1" r="2.8"/><circle cx="202.5" cy="169.7" r="2.8"/><circle cx="197.1" cy="167.1" r="2.8"/><circle cx="198.5" cy="165.1" r="2.8"/><circle cx="190.6" cy="165.6" r="2.8"/><circle cx="178.9" cy="167.6" r="2.8"/><circle cx="178.4" cy="168.4" r="2.8"/><circle cx="203.8" cy="167.4" r="2.8"/><circle cx="177.9" cy="165.2" r="2.8"/><circle cx="189.8" cy="167.8" r="2.8"/><circle cx="190.9" cy="168.9" r="2.8"/><circle cx="187.3" cy="166.8" r="2.8"/><circle cx="190.6" cy="166.3" r="2.8"/><circle cx="178.3" cy="166.9" r="2.8"/><circle cx="180.6" cy="167.1" r="2.8"/><circle cx="196.9" cy="167.0" r="2.8"/><circle cx="181.7" cy="169.1" r="2.8"/><circle cx="197.3" cy="166.0" r="2.8"/><circle cx="180.7" cy="165.1" r="2.8"/><circle cx="204.0" cy="166.8" r="2.8"/><circle cx="191.7" cy="165.5" r="2.8"/><circle cx="198.8" cy="169.7" r="2.8"/><circle cx="175.8" cy="167.2" r="2.8"/><circle cx="182.6" cy="165.2" r="2.8"/><circle cx="190.5" cy="165.7" r="2.8"/><circle cx="180.1" cy="168.0" r="2.8"/><circle cx="203.0" cy="165.9" r="2.8"/><circle cx="200.0" cy="166.3" r="2.8"/><circle cx="188.9" cy="167.2" r="2.8"/><circle cx="183.7" cy="165.6" r="2.8"/><circle cx="187.3" cy="165.9" r="2.8"/><circle cx="176.0" cy="166.8" r="2.8"/><circle cx="184.1" cy="169.5" r="2.8"/><circle cx="191.6" cy="167.2" r="2.8"/><circle cx="199.4" cy="166.6" r="2.8"/><circle cx="191.0" cy="166.7" r="2.8"/><circle cx="192.5" cy="169.9" r="2.8"/><circle cx="198.1" cy="166.8" r="2.8"/><circle cx="197.9" cy="167.8" r="2.8"/><circle cx="187.5" cy="167.4" r="2.8"/><circle cx="186.8" cy="169.6" r="2.8"/><circle cx="177.6" cy="165.7" r="2.8"/><circle cx="181.5" cy="165.9" r="2.8"/><circle cx="188.0" cy="166.9" r="2.8"/><circle cx="190.5" cy="165.3" r="2.8"/><circle cx="194.7" cy="168.2" r="2.8"/><circle cx="182.8" cy="165.1" r="2.8"/><circle cx="185.7" cy="167.1" r="2.8"/><circle cx="203.7" cy="167.6" r="2.8"/><circle cx="185.8" cy="166.7" r="2.8"/><circle cx="181.6" cy="169.1" r="2.8"/><circle cx="182.1" cy="169.2" r="2.8"/><circle cx="188.5" cy="165.1" r="2.8"/><circle cx="190.2" cy="169.8" r="2.8"/><circle cx="178.8" cy="167.0" r="2.8"/><circle cx="180.5" cy="168.8" r="2.8"/><circle cx="181.2" cy="169.4" r="2.8"/><circle cx="193.4" cy="167.4" r="2.8"/><circle cx="201.8" cy="169.0" r="2.8"/><circle cx="184.5" cy="165.1" r="2.8"/><circle cx="194.7" cy="169.2" r="2.8"/><circle cx="194.0" cy="169.4" r="2.8"/><circle cx="189.4" cy="169.0" r="2.8"/><circle cx="182.6" cy="166.1" r="2.8"/><circle cx="179.5" cy="168.7" r="2.8"/><circle cx="201.8" cy="166.4" r="2.8"/><circle cx="202.7" cy="168.8" r="2.8"/><circle cx="182.9" cy="169.9" r="2.8"/><circle cx="182.8" cy="166.0" r="2.8"/><circle cx="184.6" cy="168.9" r="2.8"/><circle cx="185.1" cy="168.3" r="2.8"/><circle cx="179.7" cy="165.2" r="2.8"/><circle cx="199.3" cy="168.7" r="2.8"/><circle cx="181.6" cy="168.3" r="2.8"/><circle cx="185.3" cy="169.9" r="2.8"/><circle cx="201.6" cy="166.7" r="2.8"/><circle cx="199.2" cy="165.3" r="2.8"/><circle cx="268.9" cy="90.5" r="2.8"/><circle cx="269.0" cy="90.0" r="2.8"/><circle cx="270.5" cy="90.4" r="2.8"/><circle cx="275.6" cy="90.2" r="2.8"/><circle cx="285.7" cy="90.5" r="2.8"/><circle cx="277.2" cy="90.4" r="2.8"/><circle cx="269.1" cy="90.7" r="2.8"/><circle cx="265.9" cy="90.2" r="2.8"/><circle cx="273.9" cy="90.6" r="2.8"/><circle cx="274.7" cy="90.2" r="2.8"/><circle cx="272.3" cy="90.7" r="2.8"/><circle cx="266.8" cy="90.0" r="2.8"/><circle cx="267.8" cy="90.3" r="2.8"/><circle cx="274.6" cy="90.2" r="2.8"/><circle cx="277.9" cy="90.6" r="2.8"/><circle cx="276.3" cy="90.3" r="2.8"/><circle cx="277.9" cy="89.9" r="2.8"/><circle cx="274.4" cy="90.1" r="2.8"/><circle cx="257.8" cy="89.9" r="2.8"/><circle cx="274.2" cy="90.8" r="2.8"/><circle cx="278.7" cy="90.4" r="2.8"/><circle cx="284.6" cy="90.5" r="2.8"/><circle cx="266.3" cy="90.0" r="2.8"/><circle cx="257.5" cy="90.2" r="2.8"/><circle cx="279.1" cy="90.7" r="2.8"/><circle cx="274.5" cy="90.7" r="2.8"/><circle cx="275.0" cy="90.5" r="2.8"/><circle cx="267.7" cy="90.6" r="2.8"/><circle cx="279.5" cy="90.8" r="2.8"/><circle cx="274.5" cy="90.4" r="2.8"/><circle cx="282.9" cy="90.2" r="2.8"/><circle cx="270.3" cy="90.6" r="2.8"/><circle cx="289.0" cy="90.4" r="2.8"/><circle cx="272.1" cy="90.3" r="2.8"/><circle cx="260.6" cy="90.9" r="2.8"/><circle cx="272.4" cy="89.9" r="2.8"/><circle cx="264.9" cy="180.8" r="2.8"/><circle cx="277.3" cy="181.8" r="2.8"/><circle cx="281.0" cy="181.7" r="2.8"/><circle cx="282.6" cy="180.4" r="2.8"/><circle cx="272.2" cy="178.8" r="2.8"/><circle cx="272.4" cy="180.4" r="2.8"/><circle cx="270.2" cy="179.5" r="2.8"/><circle cx="274.3" cy="181.9" r="2.8"/><circle cx="268.8" cy="180.7" r="2.8"/><circle cx="283.1" cy="182.3" r="2.8"/><circle cx="278.4" cy="180.5" r="2.8"/><circle cx="270.2" cy="181.3" r="2.8"/><circle cx="265.4" cy="181.2" r="2.8"/><circle cx="263.5" cy="178.4" r="2.8"/><circle cx="269.7" cy="179.3" r="2.8"/><circle cx="266.9" cy="179.9" r="2.8"/><circle cx="270.6" cy="180.4" r="2.8"/><circle cx="264.5" cy="180.5" r="2.8"/><circle cx="264.8" cy="179.6" r="2.8"/><circle cx="259.5" cy="178.4" r="2.8"/><circle cx="261.8" cy="179.9" r="2.8"/><circle cx="277.5" cy="181.4" r="2.8"/><circle cx="272.4" cy="179.9" r="2.8"/><circle cx="275.2" cy="181.1" r="2.8"/><circle cx="269.9" cy="179.2" r="2.8"/><circle cx="277.7" cy="178.2" r="2.8"/><circle cx="287.1" cy="178.5" r="2.8"/><circle cx="271.6" cy="178.2" r="2.8"/><circle cx="280.4" cy="181.1" r="2.8"/><circle cx="258.4" cy="178.4" r="2.8"/><circle cx="272.6" cy="179.2" r="2.8"/><circle cx="266.5" cy="182.0" r="2.8"/><circle cx="270.6" cy="182.0" r="2.8"/><circle cx="264.9" cy="178.3" r="2.8"/><circle cx="273.8" cy="180.8" r="2.8"/><circle cx="267.1" cy="181.7" r="2.8"/><circle cx="272.7" cy="179.9" r="2.8"/><circle cx="277.6" cy="180.0" r="2.8"/><circle cx="262.1" cy="180.1" r="2.8"/><circle cx="278.9" cy="180.4" r="2.8"/><circle cx="278.8" cy="180.2" r="2.8"/><circle cx="270.6" cy="180.7" r="2.8"/><circle cx="282.2" cy="182.4" r="2.8"/><circle cx="263.7" cy="180.5" r="2.8"/><circle cx="271.6" cy="179.9" r="2.8"/><circle cx="276.0" cy="179.2" r="2.8"/><circle cx="272.4" cy="178.5" r="2.8"/><circle cx="272.8" cy="179.1" r="2.8"/><circle cx="276.5" cy="181.0" r="2.8"/><circle cx="259.9" cy="180.7" r="2.8"/><circle cx="268.8" cy="180.3" r="2.8"/><circle cx="266.3" cy="181.2" r="2.8"/><circle cx="274.4" cy="178.6" r="2.8"/><circle cx="280.1" cy="178.4" r="2.8"/><circle cx="285.7" cy="181.5" r="2.8"/><circle cx="264.6" cy="179.8" r="2.8"/><circle cx="266.0" cy="182.0" r="2.8"/><circle cx="270.4" cy="178.4" r="2.8"/><circle cx="286.8" cy="180.2" r="2.8"/><circle cx="259.2" cy="180.4" r="2.8"/><circle cx="270.7" cy="180.6" r="2.8"/><circle cx="258.7" cy="181.9" r="2.8"/><circle cx="276.2" cy="178.3" r="2.8"/><circle cx="260.3" cy="179.9" r="2.8"/><circle cx="271.1" cy="181.9" r="2.8"/><circle cx="277.7" cy="181.9" r="2.8"/><circle cx="282.0" cy="179.0" r="2.8"/><circle cx="266.9" cy="181.6" r="2.8"/><circle cx="287.8" cy="179.4" r="2.8"/><circle cx="279.9" cy="182.4" r="2.8"/><circle cx="278.7" cy="182.1" r="2.8"/><circle cx="286.7" cy="182.1" r="2.8"/><circle cx="269.4" cy="181.6" r="2.8"/><circle cx="266.1" cy="181.1" r="2.8"/><circle cx="286.4" cy="178.9" r="2.8"/><circle cx="260.9" cy="182.5" r="2.8"/><circle cx="274.3" cy="181.1" r="2.8"/><circle cx="268.9" cy="178.6" r="2.8"/><circle cx="273.4" cy="179.6" r="2.8"/><circle cx="285.3" cy="179.1" r="2.8"/><circle cx="274.6" cy="181.5" r="2.8"/><circle cx="268.7" cy="180.2" r="2.8"/><circle cx="273.2" cy="181.6" r="2.8"/><circle cx="265.8" cy="180.7" r="2.8"/><circle cx="264.2" cy="181.3" r="2.8"/><circle cx="260.8" cy="180.4" r="2.8"/><circle cx="277.0" cy="181.3" r="2.8"/><circle cx="279.3" cy="180.0" r="2.8"/><circle cx="263.2" cy="181.6" r="2.8"/><circle cx="260.9" cy="178.2" r="2.8"/><circle cx="276.4" cy="181.3" r="2.8"/><circle cx="277.7" cy="178.4" r="2.8"/><circle cx="266.7" cy="179.5" r="2.8"/><circle cx="269.9" cy="181.6" r="2.8"/><circle cx="285.9" cy="178.8" r="2.8"/><circle cx="256.9" cy="180.7" r="2.8"/><circle cx="276.5" cy="181.1" r="2.8"/><circle cx="267.7" cy="180.6" r="2.8"/><circle cx="258.7" cy="181.6" r="2.8"/><circle cx="265.9" cy="182.3" r="2.8"/><circle cx="273.5" cy="181.2" r="2.8"/><circle cx="269.0" cy="182.2" r="2.8"/><circle cx="277.9" cy="178.2" r="2.8"/><circle cx="259.8" cy="179.9" r="2.8"/><circle cx="271.5" cy="180.2" r="2.8"/><circle cx="286.3" cy="181.4" r="2.8"/><circle cx="279.1" cy="180.7" r="2.8"/><circle cx="266.5" cy="180.6" r="2.8"/><circle cx="273.0" cy="182.1" r="2.8"/><circle cx="276.6" cy="179.5" r="2.8"/><circle cx="283.1" cy="182.0" r="2.8"/><circle cx="265.6" cy="179.0" r="2.8"/><circle cx="270.4" cy="181.6" r="2.8"/><circle cx="264.7" cy="179.7" r="2.8"/><circle cx="261.4" cy="181.1" r="2.8"/><circle cx="288.8" cy="179.7" r="2.8"/><circle cx="288.3" cy="179.7" r="2.8"/><circle cx="270.5" cy="181.2" r="2.8"/><circle cx="272.9" cy="179.0" r="2.8"/><circle cx="273.0" cy="180.9" r="2.8"/><circle cx="277.8" cy="178.8" r="2.8"/><circle cx="275.3" cy="179.6" r="2.8"/><circle cx="264.8" cy="179.7" r="2.8"/><circle cx="266.0" cy="180.8" r="2.8"/><circle cx="280.1" cy="178.6" r="2.8"/><circle cx="269.9" cy="180.4" r="2.8"/><circle cx="280.6" cy="179.5" r="2.8"/><circle cx="275.7" cy="180.2" r="2.8"/><circle cx="267.3" cy="178.5" r="2.8"/><circle cx="280.0" cy="178.8" r="2.8"/><circle cx="279.0" cy="180.4" r="2.8"/><circle cx="273.9" cy="179.9" r="2.8"/><circle cx="274.7" cy="180.6" r="2.8"/><circle cx="268.8" cy="179.7" r="2.8"/><circle cx="277.8" cy="179.1" r="2.8"/><circle cx="262.3" cy="180.5" r="2.8"/><circle cx="288.9" cy="181.3" r="2.8"/><circle cx="269.0" cy="182.1" r="2.8"/><circle cx="283.3" cy="179.2" r="2.8"/><circle cx="279.2" cy="178.5" r="2.8"/><circle cx="285.1" cy="178.2" r="2.8"/><circle cx="288.3" cy="180.3" r="2.8"/><circle cx="280.1" cy="181.5" r="2.8"/><circle cx="267.9" cy="179.7" r="2.8"/><circle cx="266.7" cy="179.0" r="2.8"/><circle cx="284.5" cy="178.9" r="2.8"/><circle cx="283.4" cy="179.7" r="2.8"/><circle cx="287.7" cy="181.1" r="2.8"/><circle cx="266.7" cy="182.2" r="2.8"/><circle cx="269.9" cy="180.9" r="2.8"/><circle cx="287.6" cy="181.1" r="2.8"/><circle cx="286.5" cy="181.6" r="2.8"/><circle cx="286.4" cy="182.4" r="2.8"/><circle cx="281.5" cy="178.0" r="2.8"/><circle cx="277.9" cy="180.0" r="2.8"/><circle cx="265.8" cy="181.5" r="2.8"/><circle cx="258.8" cy="181.5" r="2.8"/><circle cx="278.5" cy="179.4" r="2.8"/><circle cx="272.2" cy="179.2" r="2.8"/><circle cx="265.1" cy="182.0" r="2.8"/><circle cx="269.7" cy="178.1" r="2.8"/><circle cx="259.5" cy="180.9" r="2.8"/><circle cx="259.9" cy="181.8" r="2.8"/><circle cx="267.1" cy="178.4" r="2.8"/><circle cx="281.3" cy="180.6" r="2.8"/><circle cx="268.5" cy="179.3" r="2.8"/><circle cx="277.6" cy="180.6" r="2.8"/><circle cx="276.2" cy="178.0" r="2.8"/><circle cx="266.4" cy="178.8" r="2.8"/><circle cx="283.2" cy="180.9" r="2.8"/><circle cx="264.3" cy="181.8" r="2.8"/><circle cx="274.0" cy="179.6" r="2.8"/><circle cx="281.4" cy="182.4" r="2.8"/><circle cx="266.4" cy="179.5" r="2.8"/><circle cx="267.8" cy="181.2" r="2.8"/><circle cx="261.2" cy="180.0" r="2.8"/><circle cx="270.5" cy="182.1" r="2.8"/><circle cx="287.1" cy="181.0" r="2.8"/><circle cx="276.4" cy="178.9" r="2.8"/><circle cx="276.9" cy="180.0" r="2.8"/><circle cx="281.4" cy="178.4" r="2.8"/><circle cx="272.0" cy="181.6" r="2.8"/><circle cx="259.5" cy="179.8" r="2.8"/><circle cx="275.7" cy="181.4" r="2.8"/><circle cx="287.7" cy="179.2" r="2.8"/><circle cx="270.0" cy="180.8" r="2.8"/><circle cx="285.3" cy="180.7" r="2.8"/><circle cx="265.0" cy="178.3" r="2.8"/><circle cx="286.8" cy="180.7" r="2.8"/><circle cx="286.6" cy="179.0" r="2.8"/><circle cx="269.8" cy="181.2" r="2.8"/><circle cx="280.6" cy="181.3" r="2.8"/><circle cx="289.1" cy="179.0" r="2.8"/><circle cx="263.2" cy="181.9" r="2.8"/><circle cx="281.4" cy="182.1" r="2.8"/><circle cx="268.6" cy="179.3" r="2.8"/><circle cx="262.6" cy="181.1" r="2.8"/><circle cx="270.9" cy="181.8" r="2.8"/><circle cx="279.4" cy="179.1" r="2.8"/><circle cx="274.5" cy="179.7" r="2.8"/><circle cx="266.0" cy="182.3" r="2.8"/><circle cx="274.7" cy="180.2" r="2.8"/><circle cx="357.5" cy="90.8" r="2.8"/><circle cx="346.7" cy="91.2" r="2.8"/><circle cx="364.6" cy="91.6" r="2.8"/><circle cx="356.1" cy="90.8" r="2.8"/><circle cx="354.5" cy="90.8" r="2.8"/><circle cx="348.6" cy="90.9" r="2.8"/><circle cx="365.4" cy="91.3" r="2.8"/><circle cx="356.9" cy="91.2" r="2.8"/><circle cx="365.8" cy="91.3" r="2.8"/><circle cx="366.7" cy="91.0" r="2.8"/><circle cx="367.0" cy="91.0" r="2.8"/><circle cx="368.0" cy="91.3" r="2.8"/><circle cx="343.1" cy="91.5" r="2.8"/><circle cx="349.7" cy="91.1" r="2.8"/><circle cx="367.8" cy="91.5" r="2.8"/><circle cx="355.5" cy="91.1" r="2.8"/><circle cx="353.6" cy="90.7" r="2.8"/><circle cx="347.1" cy="90.9" r="2.8"/><circle cx="361.2" cy="90.8" r="2.8"/><circle cx="353.4" cy="90.8" r="2.8"/><circle cx="353.1" cy="91.2" r="2.8"/><circle cx="353.2" cy="91.2" r="2.8"/><circle cx="357.6" cy="91.5" r="2.8"/><circle cx="346.5" cy="91.3" r="2.8"/><circle cx="346.9" cy="90.7" r="2.8"/><circle cx="347.9" cy="91.0" r="2.8"/><circle cx="369.4" cy="90.8" r="2.8"/><circle cx="359.6" cy="91.5" r="2.8"/><circle cx="360.1" cy="91.0" r="2.8"/><circle cx="356.4" cy="91.4" r="2.8"/><circle cx="357.0" cy="90.9" r="2.8"/><circle cx="362.2" cy="91.4" r="2.8"/><circle cx="344.2" cy="91.2" r="2.8"/><circle cx="354.8" cy="91.3" r="2.8"/><circle cx="358.6" cy="91.6" r="2.8"/><circle cx="347.0" cy="91.4" r="2.8"/><circle cx="356.6" cy="178.3" r="2.8"/><circle cx="359.6" cy="175.1" r="2.8"/><circle cx="358.6" cy="180.2" r="2.8"/><circle cx="357.1" cy="180.6" r="2.8"/><circle cx="369.6" cy="177.5" r="2.8"/><circle cx="349.5" cy="180.8" r="2.8"/><circle cx="365.9" cy="177.5" r="2.8"/><circle cx="348.8" cy="180.4" r="2.8"/><circle cx="347.6" cy="174.1" r="2.8"/><circle cx="354.1" cy="177.5" r="2.8"/><circle cx="350.9" cy="174.7" r="2.8"/><circle cx="345.5" cy="180.0" r="2.8"/><circle cx="354.8" cy="178.6" r="2.8"/><circle cx="347.9" cy="176.3" r="2.8"/><circle cx="355.7" cy="178.4" r="2.8"/><circle cx="348.5" cy="179.1" r="2.8"/><circle cx="362.1" cy="175.5" r="2.8"/><circle cx="350.4" cy="178.3" r="2.8"/><circle cx="347.5" cy="177.9" r="2.8"/><circle cx="366.6" cy="178.2" r="2.8"/><circle cx="361.6" cy="180.6" r="2.8"/><circle cx="367.4" cy="175.3" r="2.8"/><circle cx="358.9" cy="175.5" r="2.8"/><circle cx="349.5" cy="173.6" r="2.8"/><circle cx="349.5" cy="179.5" r="2.8"/><circle cx="370.7" cy="174.2" r="2.8"/><circle cx="345.9" cy="174.7" r="2.8"/><circle cx="364.9" cy="179.0" r="2.8"/><circle cx="369.5" cy="178.9" r="2.8"/><circle cx="358.3" cy="175.7" r="2.8"/><circle cx="345.9" cy="177.7" r="2.8"/><circle cx="346.7" cy="179.9" r="2.8"/><circle cx="355.7" cy="177.3" r="2.8"/><circle cx="350.5" cy="178.9" r="2.8"/><circle cx="370.2" cy="174.7" r="2.8"/><circle cx="360.6" cy="178.2" r="2.8"/><circle cx="361.9" cy="175.4" r="2.8"/><circle cx="362.4" cy="174.3" r="2.8"/><circle cx="364.3" cy="180.7" r="2.8"/><circle cx="344.5" cy="174.6" r="2.8"/><circle cx="358.5" cy="173.7" r="2.8"/><circle cx="355.1" cy="174.6" r="2.8"/><circle cx="366.1" cy="175.9" r="2.8"/><circle cx="357.0" cy="174.3" r="2.8"/><circle cx="360.7" cy="174.6" r="2.8"/><circle cx="356.3" cy="180.9" r="2.8"/><circle cx="360.8" cy="178.5" r="2.8"/><circle cx="362.1" cy="177.6" r="2.8"/><circle cx="354.5" cy="178.6" r="2.8"/><circle cx="358.8" cy="179.6" r="2.8"/><circle cx="358.5" cy="177.6" r="2.8"/><circle cx="354.4" cy="176.4" r="2.8"/><circle cx="352.7" cy="174.0" r="2.8"/><circle cx="348.2" cy="176.9" r="2.8"/><circle cx="363.1" cy="173.6" r="2.8"/><circle cx="364.3" cy="180.6" r="2.8"/><circle cx="362.3" cy="177.9" r="2.8"/><circle cx="350.3" cy="179.6" r="2.8"/><circle cx="368.1" cy="176.6" r="2.8"/><circle cx="363.7" cy="177.9" r="2.8"/><circle cx="344.3" cy="174.6" r="2.8"/><circle cx="356.6" cy="177.8" r="2.8"/><circle cx="349.8" cy="177.7" r="2.8"/><circle cx="357.6" cy="177.9" r="2.8"/><circle cx="364.2" cy="180.4" r="2.8"/><circle cx="345.5" cy="174.0" r="2.8"/><circle cx="354.5" cy="175.0" r="2.8"/><circle cx="355.8" cy="174.7" r="2.8"/><circle cx="365.3" cy="174.0" r="2.8"/><circle cx="363.1" cy="177.6" r="2.8"/><circle cx="346.1" cy="178.1" r="2.8"/><circle cx="350.1" cy="176.9" r="2.8"/><circle cx="349.0" cy="179.5" r="2.8"/><circle cx="363.3" cy="178.2" r="2.8"/><circle cx="349.7" cy="177.0" r="2.8"/><circle cx="370.4" cy="173.8" r="2.8"/><circle cx="360.9" cy="177.8" r="2.8"/><circle cx="355.3" cy="180.8" r="2.8"/><circle cx="361.9" cy="179.7" r="2.8"/><circle cx="355.7" cy="175.2" r="2.8"/><circle cx="368.8" cy="179.5" r="2.8"/><circle cx="363.6" cy="177.1" r="2.8"/><circle cx="345.0" cy="174.5" r="2.8"/><circle cx="350.1" cy="179.9" r="2.8"/><circle cx="352.4" cy="180.8" r="2.8"/><circle cx="358.3" cy="174.5" r="2.8"/><circle cx="363.8" cy="179.5" r="2.8"/><circle cx="365.2" cy="179.8" r="2.8"/><circle cx="355.6" cy="180.0" r="2.8"/><circle cx="350.2" cy="178.3" r="2.8"/><circle cx="363.7" cy="178.6" r="2.8"/><circle cx="355.7" cy="174.4" r="2.8"/><circle cx="362.8" cy="174.7" r="2.8"/><circle cx="360.8" cy="174.5" r="2.8"/><circle cx="357.6" cy="179.2" r="2.8"/><circle cx="359.2" cy="179.8" r="2.8"/><circle cx="360.2" cy="178.0" r="2.8"/><circle cx="362.1" cy="176.4" r="2.8"/><circle cx="348.3" cy="180.1" r="2.8"/><circle cx="366.4" cy="175.4" r="2.8"/><circle cx="357.9" cy="178.4" r="2.8"/><circle cx="354.7" cy="179.6" r="2.8"/><circle cx="358.8" cy="180.9" r="2.8"/><circle cx="343.4" cy="178.0" r="2.8"/><circle cx="355.7" cy="176.9" r="2.8"/><circle cx="345.5" cy="178.1" r="2.8"/><circle cx="352.2" cy="177.1" r="2.8"/><circle cx="351.0" cy="179.8" r="2.8"/><circle cx="353.6" cy="175.0" r="2.8"/><circle cx="365.9" cy="176.9" r="2.8"/><circle cx="351.4" cy="174.7" r="2.8"/><circle cx="357.4" cy="178.3" r="2.8"/><circle cx="349.3" cy="179.9" r="2.8"/><circle cx="355.2" cy="174.0" r="2.8"/><circle cx="357.3" cy="180.3" r="2.8"/><circle cx="353.2" cy="179.0" r="2.8"/><circle cx="349.1" cy="174.0" r="2.8"/><circle cx="356.9" cy="180.6" r="2.8"/><circle cx="368.2" cy="178.3" r="2.8"/><circle cx="359.6" cy="180.4" r="2.8"/><circle cx="360.8" cy="179.3" r="2.8"/><circle cx="362.8" cy="178.9" r="2.8"/><circle cx="351.8" cy="176.8" r="2.8"/><circle cx="363.2" cy="179.4" r="2.8"/><circle cx="362.4" cy="177.9" r="2.8"/><circle cx="357.8" cy="175.4" r="2.8"/><circle cx="358.1" cy="180.4" r="2.8"/><circle cx="359.8" cy="174.6" r="2.8"/><circle cx="362.9" cy="179.2" r="2.8"/><circle cx="348.7" cy="176.0" r="2.8"/><circle cx="347.1" cy="176.6" r="2.8"/><circle cx="363.8" cy="180.5" r="2.8"/><circle cx="348.0" cy="176.1" r="2.8"/><circle cx="362.7" cy="175.6" r="2.8"/><circle cx="354.0" cy="176.3" r="2.8"/><circle cx="351.3" cy="178.5" r="2.8"/><circle cx="361.7" cy="176.0" r="2.8"/><circle cx="348.5" cy="177.8" r="2.8"/><circle cx="358.3" cy="176.7" r="2.8"/><circle cx="364.4" cy="176.5" r="2.8"/><circle cx="360.2" cy="179.0" r="2.8"/><circle cx="362.5" cy="180.9" r="2.8"/><circle cx="350.4" cy="175.2" r="2.8"/><circle cx="357.6" cy="174.7" r="2.8"/><circle cx="357.1" cy="179.6" r="2.8"/><circle cx="354.2" cy="173.8" r="2.8"/><circle cx="353.5" cy="173.6" r="2.8"/><circle cx="352.3" cy="174.5" r="2.8"/><circle cx="368.9" cy="179.5" r="2.8"/><circle cx="345.6" cy="179.8" r="2.8"/><circle cx="347.2" cy="175.3" r="2.8"/><circle cx="345.4" cy="174.5" r="2.8"/><circle cx="350.9" cy="175.7" r="2.8"/><circle cx="367.1" cy="175.3" r="2.8"/><circle cx="356.0" cy="173.6" r="2.8"/><circle cx="357.1" cy="180.2" r="2.8"/><circle cx="349.1" cy="174.3" r="2.8"/><circle cx="363.1" cy="175.1" r="2.8"/><circle cx="345.0" cy="178.8" r="2.8"/><circle cx="353.4" cy="177.8" r="2.8"/><circle cx="347.3" cy="180.0" r="2.8"/><circle cx="353.1" cy="178.7" r="2.8"/><circle cx="347.9" cy="177.8" r="2.8"/><circle cx="352.2" cy="173.9" r="2.8"/><circle cx="347.2" cy="176.7" r="2.8"/><circle cx="350.9" cy="178.7" r="2.8"/><circle cx="353.0" cy="177.9" r="2.8"/><circle cx="359.1" cy="179.6" r="2.8"/><circle cx="364.3" cy="176.3" r="2.8"/><circle cx="355.4" cy="180.0" r="2.8"/><circle cx="361.3" cy="177.6" r="2.8"/><circle cx="369.6" cy="178.1" r="2.8"/><circle cx="354.9" cy="180.6" r="2.8"/><circle cx="366.0" cy="175.5" r="2.8"/><circle cx="368.5" cy="178.0" r="2.8"/><circle cx="352.6" cy="177.4" r="2.8"/><circle cx="345.9" cy="178.4" r="2.8"/><circle cx="350.8" cy="177.1" r="2.8"/><circle cx="355.3" cy="174.8" r="2.8"/><circle cx="349.4" cy="179.1" r="2.8"/><circle cx="367.9" cy="178.3" r="2.8"/><circle cx="366.5" cy="173.6" r="2.8"/><circle cx="358.0" cy="179.2" r="2.8"/><circle cx="346.3" cy="176.5" r="2.8"/><circle cx="362.3" cy="175.2" r="2.8"/><circle cx="359.2" cy="174.9" r="2.8"/><circle cx="355.3" cy="178.7" r="2.8"/><circle cx="363.3" cy="173.6" r="2.8"/><circle cx="349.7" cy="176.3" r="2.8"/><circle cx="352.9" cy="177.2" r="2.8"/><circle cx="358.3" cy="174.3" r="2.8"/><circle cx="367.6" cy="176.0" r="2.8"/><circle cx="352.0" cy="173.9" r="2.8"/><circle cx="356.0" cy="173.9" r="2.8"/><circle cx="354.3" cy="178.7" r="2.8"/><circle cx="353.2" cy="180.3" r="2.8"/><circle cx="359.2" cy="179.4" r="2.8"/><circle cx="352.2" cy="175.3" r="2.8"/><circle cx="350.6" cy="173.7" r="2.8"/><circle cx="363.1" cy="175.0" r="2.8"/><circle cx="365.7" cy="180.6" r="2.8"/><circle cx="349.3" cy="175.8" r="2.8"/><circle cx="377.9" cy="178.0" r="2.8"/><circle cx="434.8" cy="75.9" r="2.8"/><circle cx="437.5" cy="75.5" r="2.8"/><circle cx="438.5" cy="75.7" r="2.8"/><circle cx="451.7" cy="75.2" r="2.8"/><circle cx="436.0" cy="75.6" r="2.8"/><circle cx="440.3" cy="75.6" r="2.8"/><circle cx="450.4" cy="76.0" r="2.8"/><circle cx="446.2" cy="76.0" r="2.8"/><circle cx="437.0" cy="76.0" r="2.8"/><circle cx="436.8" cy="75.8" r="2.8"/><circle cx="444.2" cy="75.8" r="2.8"/><circle cx="435.8" cy="76.0" r="2.8"/><circle cx="442.8" cy="75.6" r="2.8"/><circle cx="438.6" cy="75.1" r="2.8"/><circle cx="445.5" cy="75.7" r="2.8"/><circle cx="437.8" cy="75.1" r="2.8"/><circle cx="434.6" cy="75.5" r="2.8"/><circle cx="434.0" cy="75.9" r="2.8"/><circle cx="449.2" cy="75.9" r="2.8"/><circle cx="438.4" cy="75.1" r="2.8"/><circle cx="440.1" cy="75.2" r="2.8"/><circle cx="452.3" cy="75.9" r="2.8"/><circle cx="452.0" cy="76.0" r="2.8"/><circle cx="441.8" cy="75.9" r="2.8"/><circle cx="437.5" cy="75.6" r="2.8"/><circle cx="444.7" cy="75.3" r="2.8"/><circle cx="443.8" cy="75.8" r="2.8"/><circle cx="441.3" cy="75.7" r="2.8"/><circle cx="438.3" cy="75.1" r="2.8"/><circle cx="441.5" cy="75.3" r="2.8"/><circle cx="440.5" cy="75.5" r="2.8"/><circle cx="437.2" cy="75.4" r="2.8"/><circle cx="444.3" cy="75.1" r="2.8"/><circle cx="445.5" cy="75.9" r="2.8"/><circle cx="439.6" cy="75.8" r="2.8"/><circle cx="444.1" cy="75.0" r="2.8"/><circle cx="451.4" cy="75.7" r="2.8"/><circle cx="433.0" cy="75.6" r="2.8"/><circle cx="442.7" cy="75.6" r="2.8"/><circle cx="441.0" cy="75.8" r="2.8"/><circle cx="436.3" cy="75.5" r="2.8"/><circle cx="435.3" cy="75.6" r="2.8"/><circle cx="444.2" cy="75.2" r="2.8"/><circle cx="440.8" cy="75.6" r="2.8"/><circle cx="445.3" cy="75.0" r="2.8"/><circle cx="441.2" cy="75.0" r="2.8"/><circle cx="434.9" cy="75.9" r="2.8"/><circle cx="446.8" cy="75.5" r="2.8"/><circle cx="447.2" cy="75.3" r="2.8"/><circle cx="440.7" cy="75.0" r="2.8"/><circle cx="445.8" cy="75.9" r="2.8"/><circle cx="443.7" cy="75.2" r="2.8"/><circle cx="442.0" cy="75.3" r="2.8"/><circle cx="440.8" cy="75.1" r="2.8"/><circle cx="443.4" cy="82.0" r="2.8"/><circle cx="447.9" cy="80.6" r="2.8"/><circle cx="443.0" cy="80.9" r="2.8"/><circle cx="432.9" cy="81.7" r="2.8"/><circle cx="434.4" cy="82.0" r="2.8"/><circle cx="437.9" cy="81.7" r="2.8"/><circle cx="443.3" cy="80.6" r="2.8"/><circle cx="450.6" cy="81.2" r="2.8"/><circle cx="434.9" cy="81.0" r="2.8"/><circle cx="451.8" cy="81.3" r="2.8"/><circle cx="434.6" cy="81.8" r="2.8"/><circle cx="452.6" cy="82.0" r="2.8"/><circle cx="428.1" cy="80.8" r="2.8"/><circle cx="445.9" cy="80.7" r="2.8"/><circle cx="441.2" cy="81.1" r="2.8"/><circle cx="444.2" cy="80.6" r="2.8"/><circle cx="437.6" cy="81.2" r="2.8"/><circle cx="443.6" cy="81.0" r="2.8"/><circle cx="440.5" cy="81.3" r="2.8"/><circle cx="438.9" cy="81.2" r="2.8"/><circle cx="443.5" cy="81.7" r="2.8"/><circle cx="427.7" cy="81.2" r="2.8"/><circle cx="430.3" cy="80.7" r="2.8"/><circle cx="431.5" cy="80.8" r="2.8"/><circle cx="448.9" cy="81.5" r="2.8"/><circle cx="444.1" cy="81.3" r="2.8"/><circle cx="430.3" cy="81.7" r="2.8"/><circle cx="427.1" cy="81.8" r="2.8"/><circle cx="438.2" cy="81.9" r="2.8"/><circle cx="443.1" cy="81.8" r="2.8"/><circle cx="451.7" cy="81.6" r="2.8"/><circle cx="442.6" cy="81.4" r="2.8"/><circle cx="440.3" cy="81.4" r="2.8"/><circle cx="449.0" cy="81.2" r="2.8"/><circle cx="440.1" cy="80.6" r="2.8"/><circle cx="434.5" cy="81.5" r="2.8"/><circle cx="449.1" cy="80.9" r="2.8"/><circle cx="438.3" cy="81.0" r="2.8"/><circle cx="450.6" cy="81.7" r="2.8"/><circle cx="444.6" cy="81.2" r="2.8"/><circle cx="442.2" cy="82.0" r="2.8"/><circle cx="444.5" cy="81.7" r="2.8"/><circle cx="440.1" cy="80.6" r="2.8"/><circle cx="436.7" cy="81.6" r="2.8"/><circle cx="438.8" cy="81.2" r="2.8"/><circle cx="438.2" cy="80.8" r="2.8"/><circle cx="438.3" cy="82.0" r="2.8"/><circle cx="437.7" cy="80.9" r="2.8"/><circle cx="432.5" cy="81.2" r="2.8"/><circle cx="443.2" cy="80.6" r="2.8"/><circle cx="442.1" cy="81.2" r="2.8"/><circle cx="434.5" cy="81.8" r="2.8"/><circle cx="438.1" cy="80.7" r="2.8"/><circle cx="443.3" cy="82.2" r="2.8"/><circle cx="436.3" cy="81.3" r="2.8"/><circle cx="434.1" cy="80.7" r="2.8"/><circle cx="435.2" cy="80.8" r="2.8"/><circle cx="436.4" cy="81.8" r="2.8"/><circle cx="437.8" cy="81.3" r="2.8"/><circle cx="439.4" cy="81.3" r="2.8"/><circle cx="442.7" cy="82.1" r="2.8"/><circle cx="427.3" cy="81.2" r="2.8"/><circle cx="431.8" cy="81.7" r="2.8"/><circle cx="438.0" cy="81.2" r="2.8"/><circle cx="444.2" cy="80.9" r="2.8"/><circle cx="450.1" cy="81.7" r="2.8"/><circle cx="442.6" cy="82.0" r="2.8"/><circle cx="442.7" cy="81.7" r="2.8"/><circle cx="431.7" cy="81.1" r="2.8"/><circle cx="447.0" cy="81.0" r="2.8"/><circle cx="439.3" cy="81.8" r="2.8"/><circle cx="447.2" cy="80.5" r="2.8"/><circle cx="440.6" cy="149.3" r="2.8"/><circle cx="437.8" cy="149.3" r="2.8"/><circle cx="447.8" cy="149.1" r="2.8"/><circle cx="448.6" cy="150.2" r="2.8"/><circle cx="438.1" cy="148.2" r="2.8"/><circle cx="452.8" cy="149.8" r="2.8"/><circle cx="445.3" cy="148.2" r="2.8"/><circle cx="452.4" cy="148.6" r="2.8"/><circle cx="453.5" cy="149.3" r="2.8"/><circle cx="436.7" cy="149.9" r="2.8"/><circle cx="443.8" cy="149.5" r="2.8"/><circle cx="448.9" cy="149.8" r="2.8"/><circle cx="444.6" cy="148.6" r="2.8"/><circle cx="447.7" cy="149.6" r="2.8"/><circle cx="441.6" cy="148.6" r="2.8"/><circle cx="433.4" cy="148.6" r="2.8"/><circle cx="445.3" cy="149.1" r="2.8"/><circle cx="450.6" cy="149.6" r="2.8"/><circle cx="445.3" cy="150.3" r="2.8"/><circle cx="434.9" cy="148.8" r="2.8"/><circle cx="430.0" cy="149.5" r="2.8"/><circle cx="433.5" cy="150.1" r="2.8"/><circle cx="427.1" cy="147.9" r="2.8"/><circle cx="447.0" cy="149.2" r="2.8"/><circle cx="449.2" cy="149.0" r="2.8"/><circle cx="457.2" cy="149.4" r="2.8"/><circle cx="427.3" cy="149.9" r="2.8"/><circle cx="453.9" cy="150.0" r="2.8"/><circle cx="435.6" cy="148.8" r="2.8"/><circle cx="435.1" cy="147.9" r="2.8"/><circle cx="433.6" cy="148.8" r="2.8"/><circle cx="434.3" cy="148.8" r="2.8"/><circle cx="453.1" cy="150.1" r="2.8"/><circle cx="449.0" cy="148.7" r="2.8"/><circle cx="440.7" cy="148.2" r="2.8"/><circle cx="439.9" cy="148.1" r="2.8"/><circle cx="435.3" cy="149.6" r="2.8"/><circle cx="440.3" cy="150.5" r="2.8"/><circle cx="433.6" cy="149.5" r="2.8"/><circle cx="440.0" cy="148.9" r="2.8"/><circle cx="439.0" cy="148.9" r="2.8"/><circle cx="440.7" cy="149.9" r="2.8"/><circle cx="448.2" cy="148.4" r="2.8"/><circle cx="441.8" cy="150.4" r="2.8"/><circle cx="438.3" cy="148.4" r="2.8"/><circle cx="435.2" cy="148.1" r="2.8"/><circle cx="441.4" cy="148.9" r="2.8"/><circle cx="436.4" cy="150.2" r="2.8"/><circle cx="432.7" cy="150.0" r="2.8"/><circle cx="433.6" cy="149.6" r="2.8"/><circle cx="438.7" cy="148.5" r="2.8"/><circle cx="450.8" cy="147.9" r="2.8"/><circle cx="443.3" cy="149.4" r="2.8"/><circle cx="453.8" cy="149.5" r="2.8"/><circle cx="434.0" cy="149.6" r="2.8"/><circle cx="437.3" cy="148.1" r="2.8"/><circle cx="455.1" cy="149.9" r="2.8"/><circle cx="443.2" cy="148.4" r="2.8"/><circle cx="454.8" cy="149.0" r="2.8"/><circle cx="440.0" cy="147.9" r="2.8"/><circle cx="435.3" cy="148.2" r="2.8"/><circle cx="429.4" cy="147.9" r="2.8"/><circle cx="446.7" cy="148.7" r="2.8"/><circle cx="433.9" cy="149.5" r="2.8"/><circle cx="458.5" cy="149.9" r="2.8"/><circle cx="437.5" cy="148.7" r="2.8"/><circle cx="445.9" cy="148.5" r="2.8"/><circle cx="454.4" cy="147.9" r="2.8"/><circle cx="439.7" cy="148.5" r="2.8"/><circle cx="443.6" cy="147.9" r="2.8"/><circle cx="437.2" cy="148.2" r="2.8"/><circle cx="440.2" cy="148.7" r="2.8"/><circle cx="444.0" cy="149.5" r="2.8"/><circle cx="451.7" cy="149.5" r="2.8"/><circle cx="434.3" cy="149.3" r="2.8"/><circle cx="433.3" cy="150.1" r="2.8"/><circle cx="446.1" cy="148.0" r="2.8"/><circle cx="442.4" cy="148.0" r="2.8"/><circle cx="437.9" cy="148.4" r="2.8"/><circle cx="437.1" cy="149.3" r="2.8"/><circle cx="428.9" cy="148.9" r="2.8"/><circle cx="433.9" cy="148.4" r="2.8"/><circle cx="444.3" cy="148.3" r="2.8"/><circle cx="437.7" cy="149.4" r="2.8"/><circle cx="428.6" cy="149.3" r="2.8"/><circle cx="437.6" cy="149.5" r="2.8"/><circle cx="436.4" cy="148.2" r="2.8"/><circle cx="447.3" cy="148.2" r="2.8"/><circle cx="437.8" cy="148.5" r="2.8"/><circle cx="447.2" cy="148.7" r="2.8"/><circle cx="448.7" cy="153.9" r="2.8"/><circle cx="446.5" cy="153.2" r="2.8"/><circle cx="436.7" cy="154.5" r="2.8"/><circle cx="441.1" cy="154.6" r="2.8"/><circle cx="434.7" cy="153.2" r="2.8"/><circle cx="438.4" cy="154.6" r="2.8"/><circle cx="442.0" cy="154.0" r="2.8"/><circle cx="445.7" cy="153.0" r="2.8"/><circle cx="440.4" cy="154.9" r="2.8"/><circle cx="442.0" cy="154.2" r="2.8"/><circle cx="445.9" cy="154.5" r="2.8"/><circle cx="447.8" cy="154.0" r="2.8"/><circle cx="439.0" cy="153.4" r="2.8"/><circle cx="437.9" cy="153.1" r="2.8"/><circle cx="435.6" cy="153.4" r="2.8"/><circle cx="439.3" cy="154.6" r="2.8"/><circle cx="434.1" cy="153.7" r="2.8"/><circle cx="445.6" cy="153.6" r="2.8"/><circle cx="438.2" cy="153.6" r="2.8"/><circle cx="438.4" cy="154.2" r="2.8"/><circle cx="440.6" cy="154.2" r="2.8"/><circle cx="444.2" cy="153.9" r="2.8"/><circle cx="440.9" cy="154.0" r="2.8"/><circle cx="442.6" cy="154.8" r="2.8"/><circle cx="445.7" cy="153.6" r="2.8"/><circle cx="440.6" cy="153.7" r="2.8"/><circle cx="438.3" cy="155.0" r="2.8"/><circle cx="446.1" cy="153.4" r="2.8"/><circle cx="437.1" cy="154.1" r="2.8"/><circle cx="441.1" cy="154.1" r="2.8"/><circle cx="448.9" cy="154.9" r="2.8"/><circle cx="436.3" cy="154.2" r="2.8"/><circle cx="442.2" cy="154.9" r="2.8"/><circle cx="438.3" cy="154.2" r="2.8"/><circle cx="441.0" cy="153.8" r="2.8"/><circle cx="441.9" cy="153.9" r="2.8"/><circle cx="443.0" cy="154.9" r="2.8"/><circle cx="448.4" cy="153.5" r="2.8"/><circle cx="447.1" cy="153.4" r="2.8"/><circle cx="449.2" cy="153.0" r="2.8"/><circle cx="438.3" cy="154.1" r="2.8"/><circle cx="438.4" cy="154.5" r="2.8"/><circle cx="441.2" cy="153.2" r="2.8"/><circle cx="438.5" cy="153.3" r="2.8"/><circle cx="437.5" cy="153.8" r="2.8"/><circle cx="529.1" cy="160.2" r="2.8"/><circle cx="522.6" cy="177.5" r="2.8"/><circle cx="525.8" cy="172.9" r="2.8"/><circle cx="534.6" cy="174.4" r="2.8"/><circle cx="521.8" cy="154.4" r="2.8"/><circle cx="528.0" cy="181.8" r="2.8"/><circle cx="530.2" cy="161.0" r="2.8"/><circle cx="522.2" cy="153.5" r="2.8"/><circle cx="529.6" cy="167.2" r="2.8"/><circle cx="528.9" cy="150.1" r="2.8"/><circle cx="526.2" cy="176.9" r="2.8"/><circle cx="529.3" cy="153.2" r="2.8"/><circle cx="525.8" cy="171.0" r="2.8"/><circle cx="520.4" cy="161.8" r="2.8"/><circle cx="516.0" cy="158.9" r="2.8"/><circle cx="527.3" cy="174.1" r="2.8"/><circle cx="526.9" cy="182.2" r="2.8"/><circle cx="532.7" cy="178.1" r="2.8"/><circle cx="520.0" cy="147.5" r="2.8"/><circle cx="527.0" cy="172.8" r="2.8"/><circle cx="532.2" cy="157.9" r="2.8"/><circle cx="524.2" cy="147.4" r="2.8"/><circle cx="528.9" cy="178.4" r="2.8"/><circle cx="519.3" cy="176.9" r="2.8"/><circle cx="519.2" cy="177.1" r="2.8"/><circle cx="531.7" cy="170.3" r="2.8"/><circle cx="527.2" cy="180.1" r="2.8"/><circle cx="524.1" cy="149.6" r="2.8"/><circle cx="513.5" cy="148.8" r="2.8"/><circle cx="517.6" cy="173.8" r="2.8"/><circle cx="529.8" cy="179.9" r="2.8"/><circle cx="529.1" cy="172.2" r="2.8"/><circle cx="520.6" cy="178.3" r="2.8"/><circle cx="530.4" cy="165.8" r="2.8"/><circle cx="527.3" cy="176.4" r="2.8"/><circle cx="536.4" cy="159.0" r="2.8"/><circle cx="520.8" cy="164.5" r="2.8"/><circle cx="527.2" cy="167.6" r="2.8"/><circle cx="525.4" cy="154.1" r="2.8"/><circle cx="521.7" cy="176.9" r="2.8"/><circle cx="517.6" cy="183.9" r="2.8"/><circle cx="519.4" cy="160.2" r="2.8"/><circle cx="532.6" cy="178.3" r="2.8"/><circle cx="535.9" cy="149.9" r="2.8"/><circle cx="518.5" cy="169.9" r="2.8"/><circle cx="535.7" cy="177.6" r="2.8"/><circle cx="530.9" cy="163.3" r="2.8"/><circle cx="526.6" cy="175.1" r="2.8"/><circle cx="525.1" cy="147.4" r="2.8"/><circle cx="523.7" cy="181.8" r="2.8"/><circle cx="520.3" cy="160.3" r="2.8"/><circle cx="514.3" cy="165.4" r="2.8"/><circle cx="520.0" cy="159.2" r="2.8"/><circle cx="522.2" cy="160.6" r="2.8"/><circle cx="536.2" cy="173.0" r="2.8"/><circle cx="530.8" cy="150.0" r="2.8"/><circle cx="520.2" cy="171.8" r="2.8"/><circle cx="532.7" cy="174.2" r="2.8"/><circle cx="529.5" cy="181.5" r="2.8"/><circle cx="534.8" cy="155.9" r="2.8"/><circle cx="526.9" cy="171.1" r="2.8"/><circle cx="526.4" cy="159.9" r="2.8"/><circle cx="519.4" cy="160.7" r="2.8"/><circle cx="528.7" cy="154.9" r="2.8"/><circle cx="528.2" cy="150.4" r="2.8"/><circle cx="533.9" cy="153.0" r="2.8"/><circle cx="521.2" cy="166.8" r="2.8"/><circle cx="523.3" cy="166.6" r="2.8"/><circle cx="527.9" cy="154.0" r="2.8"/><circle cx="527.1" cy="165.2" r="2.8"/><circle cx="530.6" cy="161.8" r="2.8"/><circle cx="524.1" cy="159.2" r="2.8"/><circle cx="537.0" cy="163.2" r="2.8"/><circle cx="516.4" cy="162.2" r="2.8"/><circle cx="515.1" cy="152.6" r="2.8"/><circle cx="534.7" cy="167.8" r="2.8"/><circle cx="532.7" cy="179.3" r="2.8"/><circle cx="518.1" cy="175.4" r="2.8"/><circle cx="525.3" cy="154.7" r="2.8"/><circle cx="528.4" cy="156.2" r="2.8"/><circle cx="523.2" cy="163.3" r="2.8"/><circle cx="519.9" cy="178.8" r="2.8"/><circle cx="532.4" cy="166.1" r="2.8"/><circle cx="520.3" cy="154.3" r="2.8"/><circle cx="531.9" cy="183.8" r="2.8"/><circle cx="522.2" cy="183.6" r="2.8"/><circle cx="531.9" cy="184.4" r="2.8"/><circle cx="524.2" cy="178.7" r="2.8"/><circle cx="521.8" cy="182.0" r="2.8"/><circle cx="527.1" cy="151.4" r="2.8"/><circle cx="527.1" cy="158.7" r="2.8"/><circle cx="535.1" cy="170.3" r="2.8"/><circle cx="514.4" cy="153.3" r="2.8"/><circle cx="518.3" cy="167.7" r="2.8"/><circle cx="529.8" cy="166.0" r="2.8"/><circle cx="523.5" cy="152.1" r="2.8"/><circle cx="539.5" cy="154.4" r="2.8"/><circle cx="530.1" cy="156.5" r="2.8"/><circle cx="520.5" cy="181.2" r="2.8"/><circle cx="527.6" cy="177.6" r="2.8"/><circle cx="533.0" cy="174.0" r="2.8"/><circle cx="519.0" cy="168.1" r="2.8"/><circle cx="535.1" cy="147.4" r="2.8"/><circle cx="511.7" cy="165.5" r="2.8"/><circle cx="517.4" cy="149.9" r="2.8"/><circle cx="522.7" cy="180.1" r="2.8"/><circle cx="519.3" cy="154.3" r="2.8"/><circle cx="525.0" cy="170.0" r="2.8"/><circle cx="522.1" cy="164.2" r="2.8"/><circle cx="514.3" cy="164.3" r="2.8"/><circle cx="521.8" cy="183.8" r="2.8"/><circle cx="515.6" cy="184.2" r="2.8"/><circle cx="528.9" cy="180.1" r="2.8"/><circle cx="518.6" cy="158.3" r="2.8"/><circle cx="529.3" cy="176.1" r="2.8"/><circle cx="529.7" cy="174.7" r="2.8"/><circle cx="523.8" cy="154.4" r="2.8"/><circle cx="532.0" cy="179.0" r="2.8"/><circle cx="536.6" cy="178.4" r="2.8"/><circle cx="532.8" cy="151.1" r="2.8"/><circle cx="527.4" cy="155.3" r="2.8"/><circle cx="523.6" cy="173.5" r="2.8"/><circle cx="517.5" cy="160.7" r="2.8"/><circle cx="516.0" cy="157.2" r="2.8"/><circle cx="519.6" cy="168.9" r="2.8"/><circle cx="524.8" cy="148.7" r="2.8"/><circle cx="516.5" cy="148.6" r="2.8"/><circle cx="517.3" cy="172.1" r="2.8"/><circle cx="518.9" cy="157.7" r="2.8"/><circle cx="521.5" cy="161.6" r="2.8"/><circle cx="528.1" cy="171.0" r="2.8"/><circle cx="530.3" cy="176.9" r="2.8"/><circle cx="531.0" cy="157.8" r="2.8"/><circle cx="520.7" cy="177.9" r="2.8"/><circle cx="523.0" cy="167.2" r="2.8"/><circle cx="535.7" cy="158.4" r="2.8"/><circle cx="523.3" cy="160.3" r="2.8"/><circle cx="518.1" cy="153.8" r="2.8"/><circle cx="523.3" cy="151.0" r="2.8"/><circle cx="525.7" cy="165.7" r="2.8"/><circle cx="521.6" cy="172.8" r="2.8"/><circle cx="526.0" cy="148.4" r="2.8"/><circle cx="514.6" cy="184.8" r="2.8"/><circle cx="527.0" cy="167.1" r="2.8"/><circle cx="517.9" cy="155.9" r="2.8"/><circle cx="519.9" cy="179.1" r="2.8"/><circle cx="513.9" cy="160.7" r="2.8"/><circle cx="523.2" cy="178.6" r="2.8"/><circle cx="530.2" cy="182.4" r="2.8"/><circle cx="532.2" cy="181.8" r="2.8"/><circle cx="530.4" cy="159.1" r="2.8"/><circle cx="530.1" cy="152.5" r="2.8"/><circle cx="533.9" cy="160.1" r="2.8"/><circle cx="528.2" cy="153.1" r="2.8"/><circle cx="518.6" cy="155.9" r="2.8"/><circle cx="535.4" cy="171.1" r="2.8"/><circle cx="532.2" cy="182.6" r="2.8"/><circle cx="528.5" cy="158.7" r="2.8"/><circle cx="520.7" cy="183.3" r="2.8"/><circle cx="528.3" cy="154.0" r="2.8"/><circle cx="530.1" cy="182.4" r="2.8"/><circle cx="537.3" cy="150.1" r="2.8"/><circle cx="522.7" cy="169.6" r="2.8"/><circle cx="525.1" cy="171.7" r="2.8"/><circle cx="536.4" cy="156.2" r="2.8"/><circle cx="523.9" cy="182.0" r="2.8"/><circle cx="520.2" cy="171.5" r="2.8"/><circle cx="526.2" cy="149.9" r="2.8"/><circle cx="531.1" cy="147.9" r="2.8"/><circle cx="527.0" cy="156.2" r="2.8"/><circle cx="532.1" cy="176.1" r="2.8"/><circle cx="535.6" cy="155.1" r="2.8"/><circle cx="528.7" cy="160.3" r="2.8"/><circle cx="522.6" cy="149.7" r="2.8"/><circle cx="536.7" cy="152.6" r="2.8"/><circle cx="519.5" cy="148.4" r="2.8"/><circle cx="528.2" cy="177.9" r="2.8"/><circle cx="532.8" cy="183.9" r="2.8"/><circle cx="537.3" cy="165.3" r="2.8"/><circle cx="534.5" cy="152.3" r="2.8"/><circle cx="534.7" cy="175.3" r="2.8"/><circle cx="535.3" cy="148.5" r="2.8"/><circle cx="523.0" cy="181.9" r="2.8"/><circle cx="530.5" cy="174.7" r="2.8"/><circle cx="515.9" cy="153.6" r="2.8"/><circle cx="536.8" cy="181.4" r="2.8"/><circle cx="527.8" cy="151.1" r="2.8"/><circle cx="522.9" cy="161.1" r="2.8"/><circle cx="534.7" cy="157.0" r="2.8"/><circle cx="532.2" cy="167.4" r="2.8"/><circle cx="525.2" cy="150.9" r="2.8"/><circle cx="524.4" cy="179.6" r="2.8"/><circle cx="522.6" cy="170.8" r="2.8"/><circle cx="519.2" cy="167.5" r="2.8"/><circle cx="517.6" cy="172.0" r="2.8"/><circle cx="528.1" cy="147.1" r="2.8"/><circle cx="519.0" cy="179.0" r="2.8"/><circle cx="522.9" cy="183.8" r="2.8"/><circle cx="517.8" cy="183.0" r="2.8"/><circle cx="527.0" cy="155.8" r="2.8"/><circle cx="527.3" cy="159.3" r="2.8"/><circle cx="523.1" cy="182.1" r="2.8"/><circle cx="514.1" cy="167.9" r="2.8"/><circle cx="513.9" cy="148.1" r="2.8"/><circle cx="524.8" cy="180.0" r="2.8"/><circle cx="526.0" cy="152.7" r="2.8"/><circle cx="535.6" cy="172.7" r="2.8"/><circle cx="533.6" cy="169.4" r="2.8"/><circle cx="533.2" cy="150.5" r="2.8"/><circle cx="534.8" cy="156.0" r="2.8"/><circle cx="527.9" cy="173.6" r="2.8"/><circle cx="532.9" cy="158.3" r="2.8"/><circle cx="519.4" cy="162.2" r="2.8"/><circle cx="531.3" cy="177.4" r="2.8"/><circle cx="534.5" cy="183.7" r="2.8"/><circle cx="514.3" cy="170.8" r="2.8"/><circle cx="518.5" cy="174.2" r="2.8"/><circle cx="536.0" cy="167.3" r="2.8"/><circle cx="529.1" cy="179.2" r="2.8"/><circle cx="525.2" cy="165.4" r="2.8"/><circle cx="530.7" cy="181.3" r="2.8"/><circle cx="520.2" cy="168.0" r="2.8"/><circle cx="519.3" cy="155.4" r="2.8"/><circle cx="518.3" cy="183.6" r="2.8"/><circle cx="514.2" cy="184.3" r="2.8"/><circle cx="529.1" cy="161.9" r="2.8"/><circle cx="529.9" cy="180.0" r="2.8"/><circle cx="526.9" cy="147.5" r="2.8"/><circle cx="526.4" cy="178.3" r="2.8"/><circle cx="528.7" cy="182.4" r="2.8"/><circle cx="516.0" cy="176.1" r="2.8"/><circle cx="535.6" cy="173.4" r="2.8"/><circle cx="516.8" cy="165.3" r="2.8"/><circle cx="529.0" cy="167.4" r="2.8"/><circle cx="526.4" cy="150.5" r="2.8"/><circle cx="533.4" cy="176.4" r="2.8"/><circle cx="518.6" cy="148.0" r="2.8"/><circle cx="530.6" cy="184.4" r="2.8"/><circle cx="525.6" cy="160.7" r="2.8"/><circle cx="528.0" cy="166.0" r="2.8"/><circle cx="528.2" cy="179.0" r="2.8"/><circle cx="533.9" cy="167.4" r="2.8"/><circle cx="536.7" cy="152.2" r="2.8"/><circle cx="531.0" cy="157.3" r="2.8"/><circle cx="526.0" cy="172.2" r="2.8"/><circle cx="530.4" cy="163.7" r="2.8"/><circle cx="528.4" cy="162.5" r="2.8"/><circle cx="523.0" cy="150.5" r="2.8"/><circle cx="514.7" cy="173.0" r="2.8"/><circle cx="515.1" cy="173.5" r="2.8"/><circle cx="520.6" cy="148.7" r="2.8"/><circle cx="514.9" cy="166.1" r="2.8"/><circle cx="514.5" cy="168.2" r="2.8"/><circle cx="527.3" cy="167.6" r="2.8"/><circle cx="528.3" cy="151.1" r="2.8"/><circle cx="522.7" cy="147.1" r="2.8"/><circle cx="516.9" cy="179.9" r="2.8"/><circle cx="526.3" cy="152.5" r="2.8"/><circle cx="522.2" cy="160.3" r="2.8"/><circle cx="521.4" cy="170.5" r="2.8"/><circle cx="533.4" cy="160.6" r="2.8"/><circle cx="525.8" cy="184.1" r="2.8"/><circle cx="519.5" cy="174.7" r="2.8"/><circle cx="513.4" cy="184.5" r="2.8"/><circle cx="518.7" cy="166.5" r="2.8"/><circle cx="535.7" cy="154.5" r="2.8"/><circle cx="511.4" cy="161.7" r="2.8"/><circle cx="516.6" cy="152.4" r="2.8"/><circle cx="514.7" cy="176.5" r="2.8"/><circle cx="533.9" cy="184.0" r="2.8"/><circle cx="523.9" cy="181.9" r="2.8"/><circle cx="517.7" cy="172.8" r="2.8"/><circle cx="533.6" cy="147.0" r="2.8"/><circle cx="520.6" cy="167.2" r="2.8"/><circle cx="532.2" cy="159.6" r="2.8"/><circle cx="526.0" cy="180.6" r="2.8"/><circle cx="523.6" cy="170.4" r="2.8"/><circle cx="532.7" cy="149.6" r="2.8"/><circle cx="524.3" cy="160.4" r="2.8"/><circle cx="527.8" cy="153.6" r="2.8"/><circle cx="515.8" cy="180.5" r="2.8"/><circle cx="516.3" cy="154.3" r="2.8"/><circle cx="520.6" cy="153.0" r="2.8"/><circle cx="519.9" cy="173.3" r="2.8"/><circle cx="530.2" cy="167.2" r="2.8"/><circle cx="519.7" cy="174.2" r="2.8"/><circle cx="525.7" cy="173.9" r="2.8"/><circle cx="525.3" cy="168.7" r="2.8"/><circle cx="525.8" cy="150.2" r="2.8"/><circle cx="522.4" cy="177.9" r="2.8"/><circle cx="527.5" cy="184.1" r="2.8"/><circle cx="529.6" cy="151.6" r="2.8"/><circle cx="518.6" cy="168.4" r="2.8"/><circle cx="519.8" cy="173.1" r="2.8"/><circle cx="534.9" cy="163.9" r="2.8"/><circle cx="514.7" cy="175.1" r="2.8"/><circle cx="532.8" cy="159.4" r="2.8"/><circle cx="535.9" cy="172.8" r="2.8"/><circle cx="515.2" cy="164.6" r="2.8"/><circle cx="522.4" cy="152.6" r="2.8"/><circle cx="526.1" cy="173.9" r="2.8"/><circle cx="527.9" cy="160.5" r="2.8"/><circle cx="525.0" cy="157.1" r="2.8"/><circle cx="529.4" cy="173.2" r="2.8"/><circle cx="527.0" cy="164.9" r="2.8"/><circle cx="531.8" cy="153.3" r="2.8"/><circle cx="530.0" cy="150.5" r="2.8"/><circle cx="515.6" cy="175.4" r="2.8"/><circle cx="537.3" cy="173.1" r="2.8"/><circle cx="523.6" cy="164.9" r="2.8"/><circle cx="525.5" cy="162.6" r="2.8"/><circle cx="528.2" cy="156.5" r="2.8"/><circle cx="524.9" cy="179.6" r="2.8"/><circle cx="536.8" cy="175.5" r="2.8"/><circle cx="527.3" cy="151.6" r="2.8"/><circle cx="522.6" cy="156.3" r="2.8"/><circle cx="539.2" cy="161.4" r="2.8"/><circle cx="532.3" cy="147.2" r="2.8"/><circle cx="511.2" cy="158.0" r="2.8"/><circle cx="524.2" cy="161.8" r="2.8"/><circle cx="515.7" cy="148.0" r="2.8"/><circle cx="514.7" cy="154.4" r="2.8"/><circle cx="526.3" cy="170.9" r="2.8"/><circle cx="512.5" cy="158.3" r="2.8"/><circle cx="538.0" cy="160.0" r="2.8"/><circle cx="515.5" cy="156.0" r="2.8"/><circle cx="515.6" cy="148.9" r="2.8"/><circle cx="518.8" cy="165.7" r="2.8"/><circle cx="521.6" cy="164.9" r="2.8"/><circle cx="521.1" cy="159.5" r="2.8"/><circle cx="529.1" cy="173.6" r="2.8"/><circle cx="523.3" cy="151.3" r="2.8"/><circle cx="529.5" cy="172.7" r="2.8"/><circle cx="524.2" cy="169.0" r="2.8"/><circle cx="527.6" cy="160.2" r="2.8"/><circle cx="517.0" cy="181.4" r="2.8"/><circle cx="515.3" cy="158.0" r="2.8"/><circle cx="512.4" cy="176.8" r="2.8"/><circle cx="535.9" cy="155.4" r="2.8"/><circle cx="531.1" cy="168.4" r="2.8"/><circle cx="524.5" cy="161.1" r="2.8"/><circle cx="524.0" cy="176.7" r="2.8"/><circle cx="518.5" cy="187.4" r="2.8"/><circle cx="532.5" cy="196.8" r="2.8"/><circle cx="526.2" cy="191.9" r="2.8"/><circle cx="535.6" cy="199.0" r="2.8"/><circle cx="532.7" cy="194.9" r="2.8"/><circle cx="522.6" cy="199.5" r="2.8"/><circle cx="517.4" cy="200.6" r="2.8"/><circle cx="527.2" cy="195.6" r="2.8"/><circle cx="527.6" cy="199.9" r="2.8"/><circle cx="530.6" cy="189.5" r="2.8"/><circle cx="522.0" cy="188.2" r="2.8"/><circle cx="518.5" cy="195.0" r="2.8"/><circle cx="525.7" cy="196.3" r="2.8"/><circle cx="528.5" cy="189.6" r="2.8"/><circle cx="532.3" cy="192.5" r="2.8"/><circle cx="524.8" cy="189.6" r="2.8"/><circle cx="528.6" cy="188.9" r="2.8"/><circle cx="524.3" cy="194.3" r="2.8"/><circle cx="523.2" cy="200.6" r="2.8"/><circle cx="526.0" cy="190.6" r="2.8"/><circle cx="522.9" cy="196.0" r="2.8"/><circle cx="525.1" cy="200.5" r="2.8"/><circle cx="530.6" cy="188.8" r="2.8"/><circle cx="528.8" cy="198.0" r="2.8"/><circle cx="525.2" cy="191.1" r="2.8"/><circle cx="536.2" cy="190.6" r="2.8"/><circle cx="526.2" cy="198.4" r="2.8"/><circle cx="520.3" cy="196.1" r="2.8"/><circle cx="517.9" cy="188.8" r="2.8"/><circle cx="519.5" cy="197.7" r="2.8"/><circle cx="520.8" cy="200.6" r="2.8"/><circle cx="530.4" cy="195.6" r="2.8"/><circle cx="524.3" cy="190.5" r="2.8"/><circle cx="523.6" cy="198.6" r="2.8"/><circle cx="523.2" cy="199.2" r="2.8"/><circle cx="531.6" cy="194.3" r="2.8"/><circle cx="530.7" cy="199.6" r="2.8"/><circle cx="520.1" cy="199.8" r="2.8"/><circle cx="514.5" cy="189.5" r="2.8"/><circle cx="533.3" cy="190.9" r="2.8"/><circle cx="535.4" cy="191.0" r="2.8"/><circle cx="518.3" cy="198.8" r="2.8"/><circle cx="521.6" cy="198.0" r="2.8"/><circle cx="526.3" cy="199.4" r="2.8"/><circle cx="525.3" cy="198.4" r="2.8"/><circle cx="534.0" cy="199.3" r="2.8"/><circle cx="530.9" cy="192.8" r="2.8"/><circle cx="527.4" cy="198.8" r="2.8"/><circle cx="525.9" cy="195.4" r="2.8"/><circle cx="533.0" cy="195.4" r="2.8"/><circle cx="520.5" cy="199.6" r="2.8"/><circle cx="523.4" cy="193.1" r="2.8"/><circle cx="525.1" cy="192.3" r="2.8"/><circle cx="531.5" cy="191.0" r="2.8"/><circle cx="531.9" cy="200.1" r="2.8"/><circle cx="529.8" cy="199.5" r="2.8"/><circle cx="523.6" cy="199.8" r="2.8"/><circle cx="523.0" cy="196.5" r="2.8"/><circle cx="528.6" cy="189.5" r="2.8"/><circle cx="511.1" cy="187.9" r="2.8"/><circle cx="529.6" cy="198.9" r="2.8"/><circle cx="530.1" cy="187.9" r="2.8"/><circle cx="518.3" cy="188.6" r="2.8"/><circle cx="533.5" cy="189.3" r="2.8"/><circle cx="520.9" cy="196.8" r="2.8"/><circle cx="527.6" cy="189.8" r="2.8"/><circle cx="526.6" cy="191.0" r="2.8"/><circle cx="520.2" cy="188.0" r="2.8"/><circle cx="525.4" cy="188.1" r="2.8"/><circle cx="524.1" cy="198.9" r="2.8"/><circle cx="520.4" cy="189.4" r="2.8"/><circle cx="522.9" cy="188.2" r="2.8"/><circle cx="528.4" cy="187.7" r="2.8"/><circle cx="528.7" cy="195.0" r="2.8"/><circle cx="517.5" cy="200.5" r="2.8"/><circle cx="528.4" cy="191.3" r="2.8"/><circle cx="529.2" cy="194.0" r="2.8"/><circle cx="523.5" cy="191.1" r="2.8"/><circle cx="511.9" cy="194.6" r="2.8"/><circle cx="519.8" cy="195.4" r="2.8"/><circle cx="535.7" cy="194.1" r="2.8"/><circle cx="519.9" cy="198.0" r="2.8"/><circle cx="521.7" cy="189.3" r="2.8"/><circle cx="531.6" cy="200.4" r="2.8"/><circle cx="532.1" cy="193.6" r="2.8"/><circle cx="517.9" cy="188.8" r="2.8"/><circle cx="527.8" cy="193.6" r="2.8"/><circle cx="514.6" cy="200.8" r="2.8"/><circle cx="514.2" cy="191.9" r="2.8"/><circle cx="529.2" cy="197.5" r="2.8"/><circle cx="525.5" cy="190.0" r="2.8"/><circle cx="522.7" cy="200.9" r="2.8"/><circle cx="520.5" cy="194.4" r="2.8"/><circle cx="533.3" cy="196.5" r="2.8"/><circle cx="526.1" cy="196.8" r="2.8"/><circle cx="526.2" cy="196.3" r="2.8"/><circle cx="523.8" cy="196.8" r="2.8"/><circle cx="520.4" cy="193.3" r="2.8"/><circle cx="526.4" cy="197.7" r="2.8"/><circle cx="522.9" cy="199.5" r="2.8"/><circle cx="511.5" cy="189.1" r="2.8"/><circle cx="530.5" cy="195.9" r="2.8"/><circle cx="530.2" cy="199.7" r="2.8"/><circle cx="530.9" cy="200.0" r="2.8"/><circle cx="527.8" cy="198.8" r="2.8"/><circle cx="520.9" cy="193.9" r="2.8"/><circle cx="528.9" cy="192.0" r="2.8"/><circle cx="529.5" cy="195.3" r="2.8"/><circle cx="532.8" cy="195.0" r="2.8"/><circle cx="530.4" cy="194.3" r="2.8"/><circle cx="525.3" cy="194.4" r="2.8"/><circle cx="523.7" cy="195.4" r="2.8"/><circle cx="526.2" cy="191.8" r="2.8"/><circle cx="530.4" cy="195.6" r="2.8"/><circle cx="527.0" cy="190.4" r="2.8"/><circle cx="523.1" cy="199.7" r="2.8"/><circle cx="511.5" cy="194.0" r="2.8"/><circle cx="524.6" cy="188.9" r="2.8"/><circle cx="532.9" cy="190.2" r="2.8"/><circle cx="515.2" cy="192.5" r="2.8"/><circle cx="523.9" cy="190.6" r="2.8"/><circle cx="524.3" cy="194.4" r="2.8"/><circle cx="526.0" cy="189.1" r="2.8"/><circle cx="524.8" cy="196.5" r="2.8"/><circle cx="522.8" cy="190.1" r="2.8"/><circle cx="519.1" cy="188.9" r="2.8"/><circle cx="523.1" cy="199.2" r="2.8"/><circle cx="531.5" cy="195.2" r="2.8"/><circle cx="526.1" cy="188.6" r="2.8"/><circle cx="516.4" cy="188.3" r="2.8"/><circle cx="531.3" cy="200.0" r="2.8"/><circle cx="530.2" cy="189.0" r="2.8"/><circle cx="536.7" cy="196.7" r="2.8"/><circle cx="514.3" cy="194.4" r="2.8"/><circle cx="519.6" cy="196.0" r="2.8"/><circle cx="524.9" cy="204.9" r="2.8"/><circle cx="528.9" cy="204.8" r="2.8"/><circle cx="527.2" cy="205.1" r="2.8"/><circle cx="523.1" cy="204.0" r="2.8"/><circle cx="522.9" cy="205.4" r="2.8"/><circle cx="526.9" cy="205.0" r="2.8"/><circle cx="523.3" cy="204.2" r="2.8"/><circle cx="528.4" cy="204.5" r="2.8"/><circle cx="527.0" cy="204.8" r="2.8"/><circle cx="521.4" cy="203.6" r="2.8"/><circle cx="521.6" cy="204.8" r="2.8"/><circle cx="529.6" cy="204.8" r="2.8"/><circle cx="529.0" cy="204.9" r="2.8"/><circle cx="524.1" cy="204.9" r="2.8"/><circle cx="521.7" cy="205.4" r="2.8"/><circle cx="528.0" cy="204.7" r="2.8"/><circle cx="528.9" cy="205.2" r="2.8"/><circle cx="528.8" cy="204.2" r="2.8"/><circle cx="530.0" cy="219.5" r="2.8"/><circle cx="527.3" cy="215.3" r="2.8"/><circle cx="527.2" cy="212.2" r="2.8"/><circle cx="528.5" cy="216.6" r="2.8"/><circle cx="524.1" cy="217.6" r="2.8"/><circle cx="533.4" cy="208.0" r="2.8"/><circle cx="519.1" cy="214.8" r="2.8"/><circle cx="511.3" cy="216.4" r="2.8"/><circle cx="527.5" cy="207.5" r="2.8"/><circle cx="526.5" cy="208.1" r="2.8"/><circle cx="527.7" cy="208.0" r="2.8"/><circle cx="520.2" cy="221.6" r="2.8"/><circle cx="527.4" cy="212.5" r="2.8"/><circle cx="533.2" cy="212.9" r="2.8"/><circle cx="534.8" cy="218.9" r="2.8"/><circle cx="527.5" cy="217.4" r="2.8"/><circle cx="525.2" cy="218.4" r="2.8"/><circle cx="533.8" cy="216.8" r="2.8"/><circle cx="528.3" cy="218.2" r="2.8"/><circle cx="522.3" cy="215.0" r="2.8"/><circle cx="519.8" cy="219.3" r="2.8"/><circle cx="530.1" cy="210.4" r="2.8"/><circle cx="515.5" cy="213.4" r="2.8"/><circle cx="523.3" cy="221.6" r="2.8"/><circle cx="527.3" cy="207.2" r="2.8"/><circle cx="527.5" cy="213.5" r="2.8"/><circle cx="538.2" cy="218.2" r="2.8"/><circle cx="534.5" cy="208.6" r="2.8"/><circle cx="519.1" cy="217.2" r="2.8"/><circle cx="531.1" cy="211.1" r="2.8"/><circle cx="525.4" cy="209.8" r="2.8"/><circle cx="520.7" cy="217.9" r="2.8"/><circle cx="535.7" cy="216.6" r="2.8"/><circle cx="523.0" cy="220.6" r="2.8"/><circle cx="526.1" cy="218.0" r="2.8"/><circle cx="536.1" cy="207.5" r="2.8"/><circle cx="530.6" cy="216.1" r="2.8"/><circle cx="529.9" cy="217.5" r="2.8"/><circle cx="520.8" cy="207.3" r="2.8"/><circle cx="519.2" cy="211.0" r="2.8"/><circle cx="536.4" cy="211.2" r="2.8"/><circle cx="536.5" cy="220.9" r="2.8"/><circle cx="527.9" cy="219.8" r="2.8"/><circle cx="523.1" cy="217.9" r="2.8"/><circle cx="530.2" cy="209.3" r="2.8"/><circle cx="530.1" cy="221.8" r="2.8"/><circle cx="523.6" cy="208.9" r="2.8"/><circle cx="517.8" cy="219.3" r="2.8"/><circle cx="536.1" cy="216.1" r="2.8"/><circle cx="528.1" cy="220.1" r="2.8"/><circle cx="533.9" cy="214.4" r="2.8"/><circle cx="530.1" cy="219.2" r="2.8"/><circle cx="534.6" cy="210.5" r="2.8"/><circle cx="522.1" cy="211.5" r="2.8"/><circle cx="525.3" cy="216.5" r="2.8"/><circle cx="531.1" cy="221.8" r="2.8"/><circle cx="515.1" cy="216.1" r="2.8"/><circle cx="539.7" cy="208.3" r="2.8"/><circle cx="522.4" cy="208.2" r="2.8"/><circle cx="525.2" cy="211.7" r="2.8"/><circle cx="528.3" cy="215.8" r="2.8"/><circle cx="531.0" cy="212.0" r="2.8"/><circle cx="519.1" cy="220.0" r="2.8"/><circle cx="525.8" cy="216.2" r="2.8"/><circle cx="527.2" cy="210.9" r="2.8"/><circle cx="518.2" cy="208.9" r="2.8"/><circle cx="525.1" cy="220.0" r="2.8"/><circle cx="526.0" cy="211.7" r="2.8"/><circle cx="523.7" cy="218.3" r="2.8"/><circle cx="523.1" cy="214.4" r="2.8"/><circle cx="528.3" cy="207.4" r="2.8"/><circle cx="524.8" cy="213.7" r="2.8"/><circle cx="518.2" cy="219.6" r="2.8"/><circle cx="521.5" cy="217.1" r="2.8"/><circle cx="526.2" cy="216.9" r="2.8"/><circle cx="532.9" cy="217.0" r="2.8"/><circle cx="534.6" cy="211.1" r="2.8"/><circle cx="523.8" cy="207.5" r="2.8"/><circle cx="531.2" cy="219.1" r="2.8"/><circle cx="528.0" cy="211.0" r="2.8"/><circle cx="527.6" cy="209.9" r="2.8"/><circle cx="526.0" cy="217.6" r="2.8"/><circle cx="521.0" cy="221.5" r="2.8"/><circle cx="525.4" cy="211.0" r="2.8"/><circle cx="526.6" cy="218.4" r="2.8"/><circle cx="516.7" cy="221.9" r="2.8"/><circle cx="539.9" cy="215.9" r="2.8"/><circle cx="521.3" cy="211.3" r="2.8"/><circle cx="521.9" cy="211.7" r="2.8"/><circle cx="517.3" cy="211.9" r="2.8"/><circle cx="521.1" cy="218.2" r="2.8"/><circle cx="538.5" cy="216.1" r="2.8"/><circle cx="537.7" cy="214.4" r="2.8"/><circle cx="532.7" cy="213.1" r="2.8"/><circle cx="519.5" cy="221.7" r="2.8"/><circle cx="523.9" cy="214.4" r="2.8"/><circle cx="519.4" cy="214.2" r="2.8"/><circle cx="515.4" cy="218.7" r="2.8"/><circle cx="534.0" cy="213.6" r="2.8"/><circle cx="520.9" cy="209.0" r="2.8"/><circle cx="512.5" cy="207.8" r="2.8"/><circle cx="516.0" cy="217.9" r="2.8"/><circle cx="522.0" cy="220.1" r="2.8"/><circle cx="519.3" cy="212.7" r="2.8"/><circle cx="535.7" cy="219.9" r="2.8"/><circle cx="531.4" cy="210.5" r="2.8"/><circle cx="527.5" cy="213.1" r="2.8"/><circle cx="529.7" cy="207.6" r="2.8"/><circle cx="526.4" cy="213.6" r="2.8"/><circle cx="529.1" cy="209.9" r="2.8"/><circle cx="525.9" cy="211.6" r="2.8"/><circle cx="528.8" cy="219.1" r="2.8"/><circle cx="536.6" cy="215.4" r="2.8"/><circle cx="518.9" cy="211.7" r="2.8"/><circle cx="519.2" cy="219.7" r="2.8"/><circle cx="534.5" cy="219.1" r="2.8"/><circle cx="516.6" cy="213.1" r="2.8"/><circle cx="525.1" cy="237.1" r="2.8"/><circle cx="527.3" cy="236.2" r="2.8"/><circle cx="512.5" cy="240.6" r="2.8"/><circle cx="521.9" cy="231.4" r="2.8"/><circle cx="528.2" cy="223.8" r="2.8"/><circle cx="520.9" cy="223.6" r="2.8"/><circle cx="526.5" cy="232.6" r="2.8"/><circle cx="520.2" cy="224.5" r="2.8"/><circle cx="516.3" cy="234.8" r="2.8"/><circle cx="519.2" cy="230.5" r="2.8"/><circle cx="526.0" cy="232.9" r="2.8"/><circle cx="525.0" cy="235.0" r="2.8"/><circle cx="524.8" cy="240.7" r="2.8"/><circle cx="524.8" cy="223.8" r="2.8"/><circle cx="525.2" cy="243.8" r="2.8"/><circle cx="527.0" cy="223.2" r="2.8"/><circle cx="525.1" cy="226.3" r="2.8"/><circle cx="529.1" cy="230.7" r="2.8"/><circle cx="519.5" cy="239.1" r="2.8"/><circle cx="519.1" cy="239.8" r="2.8"/><circle cx="518.5" cy="243.1" r="2.8"/><circle cx="537.1" cy="236.7" r="2.8"/><circle cx="518.5" cy="233.2" r="2.8"/><circle cx="526.5" cy="230.5" r="2.8"/><circle cx="520.2" cy="231.1" r="2.8"/><circle cx="536.8" cy="224.3" r="2.8"/><circle cx="521.9" cy="233.9" r="2.8"/><circle cx="523.8" cy="224.5" r="2.8"/><circle cx="527.8" cy="243.3" r="2.8"/><circle cx="518.1" cy="232.8" r="2.8"/><circle cx="523.4" cy="238.5" r="2.8"/><circle cx="539.7" cy="237.7" r="2.8"/><circle cx="522.2" cy="227.7" r="2.8"/><circle cx="528.1" cy="232.3" r="2.8"/><circle cx="529.1" cy="223.8" r="2.8"/><circle cx="534.9" cy="231.1" r="2.8"/><circle cx="518.9" cy="243.2" r="2.8"/><circle cx="535.0" cy="241.2" r="2.8"/><circle cx="528.1" cy="230.7" r="2.8"/><circle cx="523.1" cy="223.5" r="2.8"/><circle cx="536.4" cy="238.3" r="2.8"/><circle cx="535.2" cy="239.2" r="2.8"/><circle cx="535.0" cy="243.7" r="2.8"/><circle cx="533.2" cy="235.4" r="2.8"/><circle cx="530.9" cy="229.2" r="2.8"/><circle cx="530.1" cy="242.5" r="2.8"/><circle cx="539.4" cy="234.2" r="2.8"/><circle cx="511.8" cy="226.7" r="2.8"/><circle cx="533.0" cy="235.8" r="2.8"/><circle cx="522.6" cy="230.5" r="2.8"/><circle cx="524.4" cy="242.0" r="2.8"/><circle cx="508.4" cy="229.7" r="2.8"/><circle cx="527.7" cy="224.6" r="2.8"/><circle cx="531.9" cy="234.4" r="2.8"/><circle cx="518.7" cy="237.0" r="2.8"/><circle cx="526.3" cy="230.8" r="2.8"/><circle cx="528.9" cy="243.2" r="2.8"/><circle cx="518.8" cy="225.5" r="2.8"/><circle cx="529.5" cy="239.6" r="2.8"/><circle cx="523.1" cy="237.3" r="2.8"/><circle cx="521.4" cy="225.5" r="2.8"/><circle cx="534.1" cy="235.8" r="2.8"/><circle cx="521.7" cy="243.8" r="2.8"/><circle cx="527.8" cy="240.4" r="2.8"/><circle cx="529.8" cy="232.9" r="2.8"/><circle cx="528.6" cy="235.3" r="2.8"/><circle cx="526.1" cy="225.3" r="2.8"/><circle cx="530.6" cy="239.6" r="2.8"/><circle cx="534.0" cy="243.7" r="2.8"/><circle cx="538.2" cy="225.9" r="2.8"/><circle cx="533.0" cy="229.8" r="2.8"/><circle cx="524.3" cy="242.2" r="2.8"/><circle cx="527.7" cy="237.1" r="2.8"/><circle cx="522.2" cy="237.3" r="2.8"/><circle cx="530.5" cy="226.3" r="2.8"/><circle cx="532.2" cy="227.8" r="2.8"/><circle cx="517.7" cy="229.8" r="2.8"/><circle cx="538.9" cy="241.9" r="2.8"/><circle cx="537.4" cy="228.7" r="2.8"/><circle cx="519.0" cy="229.2" r="2.8"/><circle cx="538.8" cy="241.0" r="2.8"/><circle cx="515.4" cy="234.1" r="2.8"/><circle cx="540.0" cy="231.3" r="2.8"/><circle cx="518.0" cy="235.3" r="2.8"/><circle cx="541.8" cy="237.0" r="2.8"/><circle cx="534.0" cy="242.4" r="2.8"/><circle cx="524.6" cy="225.4" r="2.8"/><circle cx="528.8" cy="242.9" r="2.8"/><circle cx="522.7" cy="229.8" r="2.8"/><circle cx="520.9" cy="229.2" r="2.8"/><circle cx="513.1" cy="234.5" r="2.8"/><circle cx="527.3" cy="239.1" r="2.8"/><circle cx="534.5" cy="225.9" r="2.8"/><circle cx="529.8" cy="243.5" r="2.8"/><circle cx="534.2" cy="228.1" r="2.8"/><circle cx="521.6" cy="233.6" r="2.8"/><circle cx="517.3" cy="227.7" r="2.8"/><circle cx="526.7" cy="234.4" r="2.8"/><circle cx="519.7" cy="227.7" r="2.8"/><circle cx="529.6" cy="233.7" r="2.8"/><circle cx="529.4" cy="223.3" r="2.8"/><circle cx="518.5" cy="242.5" r="2.8"/><circle cx="521.3" cy="229.9" r="2.8"/><circle cx="518.6" cy="223.0" r="2.8"/><circle cx="526.3" cy="235.9" r="2.8"/><circle cx="529.6" cy="231.1" r="2.8"/><circle cx="541.7" cy="223.0" r="2.8"/><circle cx="522.2" cy="243.9" r="2.8"/><circle cx="531.2" cy="233.5" r="2.8"/><circle cx="537.9" cy="226.6" r="2.8"/><circle cx="526.4" cy="239.1" r="2.8"/><circle cx="518.8" cy="240.0" r="2.8"/><circle cx="526.1" cy="236.4" r="2.8"/><circle cx="532.9" cy="238.0" r="2.8"/><circle cx="533.9" cy="234.5" r="2.8"/><circle cx="526.2" cy="240.3" r="2.8"/><circle cx="521.4" cy="226.0" r="2.8"/><circle cx="515.6" cy="231.7" r="2.8"/><circle cx="520.8" cy="224.4" r="2.8"/><circle cx="511.5" cy="242.0" r="2.8"/><circle cx="513.2" cy="236.4" r="2.8"/><circle cx="524.4" cy="237.8" r="2.8"/><circle cx="528.9" cy="229.5" r="2.8"/><circle cx="518.7" cy="227.5" r="2.8"/><circle cx="526.8" cy="236.6" r="2.8"/><circle cx="527.1" cy="234.3" r="2.8"/><circle cx="541.1" cy="241.0" r="2.8"/><circle cx="525.4" cy="223.3" r="2.8"/><circle cx="526.3" cy="226.4" r="2.8"/><circle cx="521.8" cy="233.3" r="2.8"/><circle cx="525.4" cy="243.7" r="2.8"/><circle cx="521.7" cy="232.4" r="2.8"/><circle cx="518.4" cy="225.5" r="2.8"/><circle cx="519.9" cy="223.8" r="2.8"/><circle cx="536.2" cy="231.1" r="2.8"/><circle cx="519.7" cy="247.2" r="2.8"/><circle cx="521.5" cy="247.1" r="2.8"/><circle cx="526.2" cy="246.0" r="2.8"/><circle cx="525.0" cy="247.1" r="2.8"/><circle cx="518.8" cy="247.4" r="2.8"/><circle cx="531.2" cy="247.2" r="2.8"/><circle cx="525.6" cy="246.6" r="2.8"/><circle cx="526.7" cy="247.7" r="2.8"/><circle cx="529.1" cy="246.2" r="2.8"/><circle cx="529.9" cy="246.7" r="2.8"/><circle cx="524.1" cy="246.1" r="2.8"/><circle cx="526.0" cy="246.5" r="2.8"/><circle cx="521.6" cy="247.8" r="2.8"/><circle cx="529.3" cy="247.0" r="2.8"/><circle cx="525.9" cy="246.4" r="2.8"/><circle cx="526.2" cy="246.3" r="2.8"/><circle cx="524.1" cy="246.5" r="2.8"/><circle cx="521.4" cy="246.1" r="2.8"/><circle cx="529.9" cy="260.3" r="2.8"/><circle cx="527.6" cy="249.8" r="2.8"/><circle cx="539.4" cy="259.1" r="2.8"/><circle cx="523.8" cy="256.8" r="2.8"/><circle cx="536.7" cy="258.9" r="2.8"/><circle cx="533.4" cy="259.3" r="2.8"/><circle cx="533.3" cy="259.3" r="2.8"/><circle cx="530.0" cy="254.9" r="2.8"/><circle cx="520.7" cy="257.9" r="2.8"/><circle cx="531.6" cy="252.1" r="2.8"/><circle cx="521.7" cy="252.6" r="2.8"/><circle cx="526.3" cy="249.5" r="2.8"/><circle cx="529.5" cy="258.8" r="2.8"/><circle cx="530.2" cy="251.0" r="2.8"/><circle cx="532.3" cy="250.3" r="2.8"/><circle cx="527.8" cy="261.0" r="2.8"/><circle cx="524.1" cy="251.0" r="2.8"/><circle cx="515.4" cy="256.9" r="2.8"/><circle cx="523.0" cy="260.5" r="2.8"/><circle cx="524.4" cy="253.5" r="2.8"/><circle cx="517.5" cy="258.4" r="2.8"/><circle cx="532.0" cy="254.3" r="2.8"/><circle cx="525.7" cy="256.1" r="2.8"/><circle cx="521.5" cy="258.5" r="2.8"/><circle cx="526.1" cy="254.6" r="2.8"/><circle cx="520.9" cy="254.9" r="2.8"/><circle cx="525.9" cy="258.9" r="2.8"/><circle cx="526.5" cy="259.9" r="2.8"/><circle cx="525.6" cy="256.5" r="2.8"/><circle cx="529.1" cy="255.6" r="2.8"/><circle cx="532.0" cy="251.9" r="2.8"/><circle cx="528.9" cy="254.8" r="2.8"/><circle cx="522.8" cy="255.5" r="2.8"/><circle cx="516.4" cy="249.5" r="2.8"/><circle cx="530.7" cy="253.2" r="2.8"/><circle cx="515.8" cy="260.8" r="2.8"/><circle cx="530.6" cy="256.4" r="2.8"/><circle cx="522.5" cy="260.5" r="2.8"/><circle cx="526.7" cy="255.7" r="2.8"/><circle cx="534.2" cy="253.2" r="2.8"/><circle cx="511.7" cy="259.8" r="2.8"/><circle cx="520.0" cy="260.5" r="2.8"/><circle cx="528.2" cy="253.2" r="2.8"/><circle cx="515.0" cy="259.7" r="2.8"/><circle cx="528.3" cy="256.9" r="2.8"/><circle cx="532.2" cy="250.7" r="2.8"/><circle cx="519.1" cy="252.6" r="2.8"/><circle cx="522.5" cy="259.0" r="2.8"/><circle cx="534.2" cy="254.7" r="2.8"/><circle cx="537.9" cy="250.5" r="2.8"/><circle cx="529.7" cy="254.3" r="2.8"/><circle cx="529.9" cy="251.4" r="2.8"/><circle cx="530.3" cy="261.9" r="2.8"/><circle cx="527.0" cy="251.8" r="2.8"/><circle cx="520.6" cy="254.6" r="2.8"/><circle cx="516.4" cy="253.4" r="2.8"/><circle cx="515.0" cy="255.1" r="2.8"/><circle cx="526.3" cy="249.8" r="2.8"/><circle cx="524.3" cy="259.2" r="2.8"/><circle cx="531.3" cy="250.6" r="2.8"/><circle cx="524.5" cy="251.1" r="2.8"/><circle cx="520.5" cy="250.3" r="2.8"/><circle cx="520.1" cy="250.4" r="2.8"/><circle cx="520.1" cy="249.5" r="2.8"/><circle cx="525.9" cy="255.5" r="2.8"/><circle cx="519.8" cy="250.1" r="2.8"/><circle cx="519.7" cy="250.0" r="2.8"/><circle cx="523.2" cy="254.2" r="2.8"/><circle cx="518.5" cy="252.1" r="2.8"/><circle cx="534.6" cy="260.5" r="2.8"/><circle cx="523.5" cy="254.9" r="2.8"/><circle cx="530.5" cy="250.4" r="2.8"/><circle cx="519.5" cy="259.5" r="2.8"/><circle cx="535.8" cy="253.2" r="2.8"/><circle cx="527.4" cy="249.6" r="2.8"/><circle cx="519.4" cy="250.0" r="2.8"/><circle cx="522.9" cy="256.6" r="2.8"/><circle cx="539.5" cy="253.7" r="2.8"/><circle cx="515.1" cy="261.6" r="2.8"/><circle cx="539.2" cy="256.3" r="2.8"/><circle cx="518.4" cy="254.0" r="2.8"/><circle cx="526.0" cy="250.2" r="2.8"/><circle cx="531.1" cy="253.8" r="2.8"/><circle cx="519.4" cy="254.6" r="2.8"/><circle cx="521.3" cy="250.4" r="2.8"/><circle cx="512.2" cy="253.1" r="2.8"/><circle cx="526.2" cy="254.8" r="2.8"/><circle cx="520.0" cy="255.9" r="2.8"/><circle cx="537.7" cy="260.3" r="2.8"/><circle cx="534.7" cy="261.0" r="2.8"/><circle cx="527.5" cy="269.0" r="2.8"/><circle cx="526.0" cy="264.9" r="2.8"/><circle cx="521.0" cy="265.9" r="2.8"/><circle cx="532.3" cy="265.4" r="2.8"/><circle cx="526.1" cy="271.5" r="2.8"/><circle cx="537.3" cy="267.2" r="2.8"/><circle cx="523.5" cy="271.4" r="2.8"/><circle cx="524.9" cy="266.9" r="2.8"/><circle cx="508.9" cy="262.0" r="2.8"/><circle cx="523.8" cy="266.8" r="2.8"/><circle cx="513.3" cy="263.6" r="2.8"/><circle cx="516.8" cy="262.7" r="2.8"/><circle cx="527.2" cy="273.0" r="2.8"/><circle cx="521.2" cy="269.1" r="2.8"/><circle cx="521.8" cy="270.2" r="2.8"/><circle cx="517.3" cy="265.9" r="2.8"/><circle cx="520.2" cy="268.1" r="2.8"/><circle cx="524.5" cy="267.8" r="2.8"/><circle cx="515.1" cy="262.6" r="2.8"/><circle cx="521.1" cy="270.1" r="2.8"/><circle cx="523.9" cy="263.0" r="2.8"/><circle cx="536.2" cy="272.7" r="2.8"/><circle cx="517.7" cy="271.4" r="2.8"/><circle cx="523.5" cy="268.5" r="2.8"/><circle cx="509.1" cy="273.6" r="2.8"/><circle cx="520.7" cy="273.3" r="2.8"/><circle cx="522.9" cy="263.3" r="2.8"/><circle cx="529.2" cy="270.4" r="2.8"/><circle cx="531.4" cy="273.6" r="2.8"/><circle cx="527.2" cy="271.8" r="2.8"/><circle cx="527.0" cy="271.9" r="2.8"/><circle cx="522.9" cy="265.8" r="2.8"/><circle cx="518.8" cy="270.3" r="2.8"/><circle cx="526.3" cy="268.1" r="2.8"/><circle cx="528.3" cy="262.8" r="2.8"/><circle cx="531.1" cy="273.9" r="2.8"/><circle cx="518.9" cy="263.3" r="2.8"/><circle cx="524.4" cy="268.5" r="2.8"/><circle cx="519.8" cy="273.2" r="2.8"/><circle cx="508.1" cy="269.3" r="2.8"/><circle cx="517.3" cy="264.0" r="2.8"/><circle cx="512.4" cy="270.4" r="2.8"/><circle cx="526.0" cy="268.4" r="2.8"/><circle cx="522.4" cy="265.7" r="2.8"/><circle cx="528.7" cy="272.9" r="2.8"/><circle cx="522.5" cy="264.3" r="2.8"/><circle cx="525.8" cy="267.3" r="2.8"/><circle cx="526.2" cy="267.7" r="2.8"/><circle cx="531.0" cy="262.6" r="2.8"/><circle cx="513.5" cy="263.7" r="2.8"/><circle cx="533.8" cy="268.8" r="2.8"/><circle cx="527.6" cy="263.7" r="2.8"/><circle cx="520.6" cy="272.5" r="2.8"/><circle cx="530.4" cy="270.3" r="2.8"/><circle cx="525.4" cy="267.9" r="2.8"/><circle cx="531.7" cy="263.3" r="2.8"/><circle cx="517.5" cy="273.9" r="2.8"/><circle cx="534.0" cy="263.2" r="2.8"/><circle cx="522.6" cy="271.4" r="2.8"/><circle cx="531.6" cy="268.5" r="2.8"/><circle cx="529.5" cy="262.9" r="2.8"/><circle cx="513.4" cy="263.0" r="2.8"/><circle cx="526.9" cy="263.7" r="2.8"/><circle cx="528.6" cy="268.2" r="2.8"/><circle cx="517.8" cy="267.3" r="2.8"/><circle cx="522.4" cy="272.5" r="2.8"/><circle cx="526.7" cy="268.3" r="2.8"/><circle cx="520.3" cy="268.8" r="2.8"/><circle cx="514.8" cy="263.0" r="2.8"/><circle cx="525.1" cy="264.3" r="2.8"/><circle cx="530.3" cy="273.3" r="2.8"/><circle cx="510.2" cy="265.2" r="2.8"/><circle cx="534.8" cy="271.6" r="2.8"/><circle cx="525.8" cy="264.8" r="2.8"/><circle cx="520.8" cy="273.5" r="2.8"/><circle cx="524.3" cy="262.6" r="2.8"/><circle cx="537.5" cy="263.6" r="2.8"/><circle cx="517.7" cy="273.3" r="2.8"/><circle cx="531.8" cy="270.9" r="2.8"/><circle cx="525.1" cy="267.8" r="2.8"/><circle cx="527.2" cy="273.3" r="2.8"/><circle cx="516.0" cy="266.1" r="2.8"/><circle cx="523.6" cy="270.9" r="2.8"/><circle cx="533.8" cy="267.5" r="2.8"/><circle cx="524.5" cy="272.6" r="2.8"/><circle cx="516.2" cy="272.9" r="2.8"/><circle cx="534.0" cy="265.6" r="2.8"/><circle cx="514.5" cy="270.2" r="2.8"/><circle cx="518.5" cy="263.7" r="2.8"/><circle cx="533.8" cy="272.5" r="2.8"/><circle cx="539.5" cy="270.4" r="2.8"/><circle cx="515.3" cy="262.1" r="2.8"/><circle cx="532.2" cy="265.5" r="2.8"/><circle cx="528.4" cy="262.4" r="2.8"/><circle cx="521.5" cy="262.6" r="2.8"/><circle cx="523.2" cy="262.1" r="2.8"/><circle cx="531.4" cy="272.1" r="2.8"/><circle cx="517.0" cy="272.5" r="2.8"/><circle cx="522.3" cy="262.5" r="2.8"/><circle cx="529.7" cy="300.4" r="2.8"/><circle cx="531.6" cy="300.3" r="2.8"/><circle cx="525.6" cy="299.9" r="2.8"/><circle cx="527.0" cy="300.1" r="2.8"/><circle cx="517.3" cy="300.3" r="2.8"/><circle cx="531.2" cy="300.2" r="2.8"/><circle cx="528.0" cy="300.6" r="2.8"/><circle cx="525.4" cy="300.7" r="2.8"/><circle cx="527.3" cy="300.0" r="2.8"/><circle cx="522.2" cy="300.2" r="2.8"/><circle cx="527.6" cy="300.9" r="2.8"/><circle cx="525.7" cy="300.3" r="2.8"/><circle cx="523.0" cy="300.1" r="2.8"/><circle cx="531.2" cy="300.4" r="2.8"/><circle cx="527.6" cy="300.8" r="2.8"/><circle cx="526.5" cy="300.1" r="2.8"/><circle cx="525.0" cy="300.8" r="2.8"/><circle cx="518.6" cy="300.1" r="2.8"/><circle cx="525.6" cy="300.7" r="2.8"/><circle cx="522.9" cy="300.2" r="2.8"/><circle cx="521.6" cy="300.7" r="2.8"/><circle cx="530.3" cy="300.9" r="2.8"/><circle cx="524.4" cy="300.0" r="2.8"/><circle cx="523.2" cy="299.9" r="2.8"/><circle cx="529.0" cy="300.4" r="2.8"/><circle cx="527.1" cy="300.4" r="2.8"/><circle cx="523.7" cy="300.3" r="2.8"/><circle cx="523.5" cy="300.4" r="2.8"/><circle cx="527.8" cy="300.4" r="2.8"/><circle cx="518.8" cy="300.0" r="2.8"/><circle cx="525.0" cy="300.7" r="2.8"/><circle cx="526.9" cy="300.0" r="2.8"/><circle cx="524.6" cy="300.6" r="2.8"/><circle cx="523.0" cy="300.7" r="2.8"/><circle cx="528.3" cy="300.4" r="2.8"/><circle cx="522.9" cy="300.5" r="2.8"/><circle cx="525.4" cy="300.7" r="2.8"/><circle cx="530.6" cy="300.9" r="2.8"/><circle cx="520.9" cy="300.9" r="2.8"/><circle cx="521.9" cy="300.9" r="2.8"/><circle cx="526.5" cy="300.9" r="2.8"/><circle cx="529.2" cy="300.2" r="2.8"/><circle cx="531.5" cy="300.6" r="2.8"/><circle cx="531.8" cy="300.8" r="2.8"/><circle cx="528.7" cy="300.4" r="2.8"/><circle cx="522.8" cy="300.1" r="2.8"/><circle cx="520.5" cy="300.6" r="2.8"/><circle cx="531.7" cy="300.7" r="2.8"/><circle cx="532.1" cy="300.0" r="2.8"/><circle cx="520.0" cy="300.0" r="2.8"/><circle cx="526.2" cy="300.5" r="2.8"/><circle cx="529.9" cy="300.6" r="2.8"/><circle cx="522.1" cy="300.3" r="2.8"/><circle cx="524.4" cy="300.3" r="2.8"/><circle cx="509.8" cy="300.4" r="2.8"/><circle cx="528.8" cy="316.3" r="2.8"/><circle cx="528.6" cy="316.3" r="2.8"/><circle cx="524.4" cy="316.8" r="2.8"/><circle cx="522.2" cy="316.0" r="2.8"/><circle cx="517.4" cy="316.6" r="2.8"/><circle cx="531.3" cy="316.4" r="2.8"/><circle cx="532.3" cy="316.5" r="2.8"/><circle cx="529.6" cy="316.6" r="2.8"/><circle cx="530.5" cy="316.1" r="2.8"/><circle cx="525.5" cy="315.9" r="2.8"/><circle cx="533.0" cy="316.7" r="2.8"/><circle cx="523.3" cy="316.3" r="2.8"/><circle cx="530.2" cy="316.6" r="2.8"/><circle cx="522.1" cy="316.3" r="2.8"/><circle cx="528.9" cy="315.8" r="2.8"/><circle cx="526.9" cy="316.5" r="2.8"/><circle cx="517.8" cy="315.9" r="2.8"/><circle cx="524.7" cy="316.0" r="2.8"/><circle cx="523.1" cy="315.8" r="2.8"/><circle cx="531.0" cy="316.4" r="2.8"/><circle cx="521.5" cy="316.2" r="2.8"/><circle cx="527.4" cy="316.0" r="2.8"/><circle cx="519.5" cy="316.6" r="2.8"/><circle cx="518.6" cy="316.4" r="2.8"/><circle cx="532.5" cy="316.5" r="2.8"/><circle cx="524.1" cy="315.9" r="2.8"/><circle cx="526.8" cy="316.3" r="2.8"/><circle cx="532.5" cy="316.3" r="2.8"/><circle cx="523.6" cy="316.3" r="2.8"/><circle cx="525.0" cy="316.6" r="2.8"/><circle cx="524.1" cy="316.7" r="2.8"/><circle cx="518.6" cy="316.8" r="2.8"/><circle cx="531.6" cy="316.7" r="2.8"/><circle cx="524.2" cy="316.4" r="2.8"/><circle cx="526.8" cy="316.8" r="2.8"/><circle cx="527.2" cy="316.2" r="2.8"/><circle cx="531.6" cy="315.9" r="2.8"/><circle cx="527.4" cy="316.8" r="2.8"/><circle cx="533.5" cy="316.4" r="2.8"/><circle cx="522.1" cy="315.9" r="2.8"/><circle cx="530.6" cy="316.5" r="2.8"/><circle cx="530.0" cy="316.7" r="2.8"/><circle cx="522.5" cy="316.4" r="2.8"/><circle cx="526.7" cy="316.0" r="2.8"/><circle cx="517.1" cy="316.4" r="2.8"/><circle cx="527.6" cy="316.3" r="2.8"/><circle cx="526.0" cy="315.8" r="2.8"/><circle cx="519.4" cy="316.4" r="2.8"/><circle cx="527.1" cy="316.2" r="2.8"/><circle cx="523.4" cy="316.3" r="2.8"/><circle cx="523.1" cy="315.9" r="2.8"/><circle cx="529.7" cy="316.5" r="2.8"/><circle cx="516.8" cy="316.0" r="2.8"/><circle cx="520.9" cy="316.6" r="2.8"/><circle cx="533.5" cy="316.5" r="2.8"/><circle cx="523.9" cy="316.4" r="2.8"/><circle cx="532.6" cy="315.9" r="2.8"/><circle cx="527.6" cy="316.3" r="2.8"/><circle cx="527.5" cy="316.4" r="2.8"/><circle cx="520.8" cy="316.1" r="2.8"/><circle cx="526.6" cy="316.3" r="2.8"/><circle cx="528.0" cy="316.0" r="2.8"/><circle cx="521.2" cy="316.2" r="2.8"/>
</g>
<g fill="rgb(255,127,14)" fill-opacity="0.5" stroke="rgb(255,127,14)" stroke-opacity="0.5" stroke-width="0.8">
<circle cx="105.8" cy="130.7" r="2.8"/><circle cx="103.7" cy="98.2" r="2.8"/><circle cx="91.5" cy="129.7" r="2.8"/><circle cx="108.2" cy="104.7" r="2.8"/><circle cx="117.7" cy="135.4" r="2.8"/><circle cx="94.9" cy="134.9" r="2.8"/><circle cx="123.0" cy="94.8" r="2.8"/><circle cx="115.8" cy="125.6" r="2.8"/><circle cx="93.3" cy="101.2" r="2.8"/><circle cx="119.0" cy="129.0" r="2.8"/><circle cx="117.2" cy="134.8" r="2.8"/><circle cx="94.8" cy="118.7" r="2.8"/><circle cx="105.8" cy="120.5" r="2.8"/><circle cx="107.4" cy="97.5" r="2.8"/><circle cx="90.2" cy="106.9" r="2.8"/><circle cx="116.5" cy="127.2" r="2.8"/><circle cx="93.9" cy="130.1" r="2.8"/><circle cx="103.7" cy="122.9" r="2.8"/><circle cx="98.8" cy="98.9" r="2.8"/><circle cx="103.8" cy="98.2" r="2.8"/><circle cx="112.1" cy="131.8" r="2.8"/><circle cx="110.5" cy="107.5" r="2.8"/><circle cx="119.5" cy="100.6" r="2.8"/><circle cx="93.6" cy="94.3" r="2.8"/><circle cx="106.6" cy="124.8" r="2.8"/><circle cx="109.5" cy="114.3" r="2.8"/><circle cx="104.1" cy="122.9" r="2.8"/><circle cx="119.0" cy="126.6" r="2.8"/><circle cx="111.7" cy="125.9" r="2.8"/><circle cx="118.0" cy="131.8" r="2.8"/><circle cx="98.0" cy="102.0" r="2.8"/><circle cx="105.8" cy="113.7" r="2.8"/><circle cx="93.0" cy="109.5" r="2.8"/><circle cx="112.7" cy="113.7" r="2.8"/><circle cx="107.1" cy="123.1" r="2.8"/><circle cx="90.8" cy="138.2" r="2.8"/><circle cx="103.1" cy="106.2" r="2.8"/><circle cx="118.3" cy="94.9" r="2.8"/><circle cx="114.6" cy="135.0" r="2.8"/><circle cx="108.7" cy="128.5" r="2.8"/><circle cx="96.5" cy="98.7" r="2.8"/><circle cx="99.3" cy="108.0" r="2.8"/><circle cx="106.9" cy="137.0" r="2.8"/><circle cx="120.0" cy="122.9" r="2.8"/><circle cx="113.3" cy="112.1" r="2.8"/><circle cx="110.6" cy="124.7" r="2.8"/><circle cx="108.9" cy="106.8" r="2.8"/><circle cx="112.8" cy="94.6" r="2.8"/><circle cx="104.0" cy="138.0" r="2.8"/><circle cx="105.6" cy="124.6" r="2.8"/><circle cx="90.8" cy="105.1" r="2.8"/><circle cx="98.2" cy="124.8" r="2.8"/><circle cx="92.6" cy="136.9" r="2.8"/><circle cx="95.9" cy="120.3" r="2.8"/><circle cx="92.1" cy="107.5" r="2.8"/><circle cx="94.5" cy="94.6" r="2.8"/><circle cx="121.0" cy="99.0" r="2.8"/><circle cx="114.6" cy="124.6" r="2.8"/><circle cx="99.6" cy="101.9" r="2.8"/><circle cx="98.8" cy="112.2" r="2.8"/><circle cx="121.3" cy="113.8" r="2.8"/><circle cx="116.4" cy="109.2" r="2.8"/><circle cx="108.3" cy="95.4" r="2.8"/><circle cx="121.5" cy="129.7" r="2.8"/><circle cx="96.0" cy="106.4" r="2.8"/><circle cx="111.0" cy="134.3" r="2.8"/><circle cx="107.8" cy="120.1" r="2.8"/><circle cx="110.0" cy="98.3" r="2.8"/><circle cx="100.8" cy="111.0" r="2.8"/><circle cx="117.2" cy="96.9" r="2.8"/><circle cx="103.5" cy="99.8" r="2.8"/><circle cx="115.0" cy="110.2" r="2.8"/><circle cx="106.7" cy="105.2" r="2.8"/><circle cx="115.4" cy="99.0" r="2.8"/><circle cx="114.4" cy="106.7" r="2.8"/><circle cx="97.0" cy="104.0" r="2.8"/><circle cx="110.5" cy="111.1" r="2.8"/><circle cx="116.7" cy="115.0" r="2.8"/><circle cx="109.0" cy="96.3" r="2.8"/><circle cx="93.6" cy="95.3" r="2.8"/><circle cx="100.9" cy="114.5" r="2.8"/><circle cx="105.3" cy="98.2" r="2.8"/><circle cx="104.0" cy="101.7" r="2.8"/><circle cx="101.5" cy="99.3" r="2.8"/><circle cx="103.0" cy="114.9" r="2.8"/><circle cx="104.9" cy="103.9" r="2.8"/><circle cx="121.3" cy="119.0" r="2.8"/><circle cx="102.2" cy="98.9" r="2.8"/><circle cx="95.4" cy="117.4" r="2.8"/><circle cx="92.6" cy="132.5" r="2.8"/><circle cx="93.4" cy="105.8" r="2.8"/><circle cx="100.1" cy="97.3" r="2.8"/><circle cx="109.1" cy="103.1" r="2.8"/><circle cx="121.4" cy="110.1" r="2.8"/><circle cx="90.3" cy="115.4" r="2.8"/><circle cx="90.7" cy="123.1" r="2.8"/><circle cx="100.3" cy="114.9" r="2.8"/><circle cx="104.6" cy="116.2" r="2.8"/><circle cx="115.7" cy="123.0" r="2.8"/><circle cx="110.7" cy="136.1" r="2.8"/><circle cx="97.2" cy="134.2" r="2.8"/><circle cx="100.0" cy="120.6" r="2.8"/><circle cx="91.1" cy="97.6" r="2.8"/><circle cx="96.1" cy="113.5" r="2.8"/><circle cx="120.0" cy="127.3" r="2.8"/><circle cx="107.5" cy="111.9" r="2.8"/><circle cx="106.3" cy="104.4" r="2.8"/><circle cx="121.7" cy="136.2" r="2.8"/><circle cx="116.6" cy="121.6" r="2.8"/><circle cx="100.4" cy="103.0" r="2.8"/><circle cx="103.0" cy="136.8" r="2.8"/><circle cx="107.5" cy="109.3" r="2.8"/><circle cx="95.1" cy="95.0" r="2.8"/><circle cx="109.4" cy="130.8" r="2.8"/><circle cx="107.9" cy="105.5" r="2.8"/><circle cx="97.6" cy="125.7" r="2.8"/><circle cx="108.5" cy="99.4" r="2.8"/><circle cx="118.3" cy="117.2" r="2.8"/><circle cx="95.3" cy="96.5" r="2.8"/><circle cx="103.0" cy="120.1" r="2.8"/><circle cx="109.4" cy="133.5" r="2.8"/><circle cx="103.7" cy="132.3" r="2.8"/><circle cx="119.2" cy="112.1" r="2.8"/><circle cx="99.2" cy="98.6" r="2.8"/><circle cx="124.9" cy="106.9" r="2.8"/><circle cx="106.9" cy="132.7" r="2.8"/><circle cx="100.5" cy="131.8" r="2.8"/><circle cx="111.0" cy="99.2" r="2.8"/><circle cx="98.1" cy="120.1" r="2.8"/><circle cx="107.1" cy="134.0" r="2.8"/><circle cx="95.8" cy="133.9" r="2.8"/><circle cx="97.5" cy="124.8" r="2.8"/><circle cx="111.6" cy="110.3" r="2.8"/><circle cx="108.9" cy="97.3" r="2.8"/><circle cx="111.4" cy="121.8" r="2.8"/><circle cx="105.2" cy="129.6" r="2.8"/><circle cx="102.9" cy="124.2" r="2.8"/><circle cx="101.9" cy="136.7" r="2.8"/><circle cx="120.6" cy="104.4" r="2.8"/><circle cx="120.7" cy="103.2" r="2.8"/><circle cx="113.5" cy="134.1" r="2.8"/><circle cx="106.4" cy="110.0" r="2.8"/><circle cx="98.5" cy="103.9" r="2.8"/><circle cx="102.9" cy="95.6" r="2.8"/><circle cx="108.6" cy="112.7" r="2.8"/><circle cx="101.3" cy="135.9" r="2.8"/><circle cx="95.6" cy="125.3" r="2.8"/><circle cx="111.6" cy="115.4" r="2.8"/><circle cx="120.7" cy="101.2" r="2.8"/><circle cx="101.8" cy="128.1" r="2.8"/><circle cx="100.1" cy="122.6" r="2.8"/><circle cx="104.0" cy="102.7" r="2.8"/><circle cx="111.8" cy="130.6" r="2.8"/><circle cx="101.4" cy="131.8" r="2.8"/><circle cx="113.2" cy="94.7" r="2.8"/><circle cx="90.1" cy="106.1" r="2.8"/><circle cx="103.1" cy="101.7" r="2.8"/><circle cx="98.4" cy="94.2" r="2.8"/><circle cx="109.9" cy="125.6" r="2.8"/><circle cx="106.4" cy="135.6" r="2.8"/><circle cx="106.7" cy="100.6" r="2.8"/><circle cx="105.3" cy="108.2" r="2.8"/><circle cx="92.6" cy="105.5" r="2.8"/><circle cx="109.9" cy="101.2" r="2.8"/><circle cx="115.3" cy="125.0" r="2.8"/><circle cx="105.7" cy="126.4" r="2.8"/><circle cx="103.5" cy="102.4" r="2.8"/><circle cx="105.0" cy="100.8" r="2.8"/><circle cx="107.8" cy="111.1" r="2.8"/><circle cx="108.7" cy="129.7" r="2.8"/><circle cx="120.1" cy="102.5" r="2.8"/><circle cx="106.4" cy="129.8" r="2.8"/><circle cx="94.4" cy="123.5" r="2.8"/><circle cx="93.4" cy="102.6" r="2.8"/><circle cx="98.2" cy="122.2" r="2.8"/><circle cx="113.1" cy="112.8" r="2.8"/><circle cx="109.5" cy="95.4" r="2.8"/><circle cx="110.4" cy="103.8" r="2.8"/><circle cx="110.4" cy="124.8" r="2.8"/><circle cx="102.8" cy="107.8" r="2.8"/><circle cx="97.2" cy="105.6" r="2.8"/><circle cx="101.7" cy="128.3" r="2.8"/><circle cx="100.0" cy="129.3" r="2.8"/><circle cx="109.4" cy="126.1" r="2.8"/><circle cx="106.4" cy="98.0" r="2.8"/><circle cx="112.3" cy="100.7" r="2.8"/><circle cx="106.2" cy="102.8" r="2.8"/><circle cx="112.9" cy="117.2" r="2.8"/><circle cx="99.7" cy="117.6" r="2.8"/><circle cx="102.3" cy="98.7" r="2.8"/><circle cx="111.3" cy="115.5" r="2.8"/><circle cx="105.2" cy="103.9" r="2.8"/><circle cx="99.9" cy="125.7" r="2.8"/><circle cx="112.2" cy="135.3" r="2.8"/><circle cx="104.5" cy="121.5" r="2.8"/><circle cx="91.1" cy="122.3" r="2.8"/><circle cx="112.1" cy="137.7" r="2.8"/><circle cx="92.1" cy="121.6" r="2.8"/><circle cx="112.4" cy="127.4" r="2.8"/><circle cx="102.5" cy="113.5" r="2.8"/><circle cx="112.2" cy="98.2" r="2.8"/><circle cx="93.4" cy="128.2" r="2.8"/><circle cx="107.0" cy="97.1" r="2.8"/><circle cx="95.5" cy="131.1" r="2.8"/><circle cx="100.8" cy="128.0" r="2.8"/><circle cx="121.0" cy="99.5" r="2.8"/><circle cx="113.6" cy="99.2" r="2.8"/><circle cx="108.0" cy="133.7" r="2.8"/><circle cx="100.7" cy="115.0" r="2.8"/><circle cx="101.9" cy="114.7" r="2.8"/><circle cx="96.1" cy="126.7" r="2.8"/><circle cx="116.0" cy="136.6" r="2.8"/><circle cx="98.1" cy="109.1" r="2.8"/><circle cx="115.3" cy="114.9" r="2.8"/><circle cx="113.8" cy="108.3" r="2.8"/><circle cx="103.3" cy="109.2" r="2.8"/><circle cx="118.6" cy="130.6" r="2.8"/><circle cx="114.4" cy="119.6" r="2.8"/><circle cx="112.7" cy="121.0" r="2.8"/><circle cx="103.8" cy="131.8" r="2.8"/><circle cx="101.9" cy="105.8" r="2.8"/><circle cx="93.5" cy="109.7" r="2.8"/><circle cx="96.3" cy="104.1" r="2.8"/><circle cx="112.0" cy="133.5" r="2.8"/><circle cx="114.1" cy="104.9" r="2.8"/><circle cx="108.3" cy="126.4" r="2.8"/><circle cx="116.8" cy="123.2" r="2.8"/><circle cx="100.7" cy="99.9" r="2.8"/><circle cx="116.9" cy="130.5" r="2.8"/><circle cx="100.3" cy="131.7" r="2.8"/><circle cx="105.5" cy="100.2" r="2.8"/><circle cx="117.8" cy="123.0" r="2.8"/><circle cx="100.8" cy="118.4" r="2.8"/><circle cx="93.9" cy="128.8" r="2.8"/><circle cx="100.8" cy="132.7" r="2.8"/><circle cx="100.4" cy="105.1" r="2.8"/><circle cx="106.4" cy="95.2" r="2.8"/><circle cx="109.0" cy="97.0" r="2.8"/><circle cx="102.8" cy="102.8" r="2.8"/><circle cx="101.8" cy="129.7" r="2.8"/><circle cx="118.7" cy="133.8" r="2.8"/><circle cx="117.9" cy="126.7" r="2.8"/><circle cx="108.7" cy="119.5" r="2.8"/><circle cx="105.4" cy="130.9" r="2.8"/><circle cx="116.5" cy="112.5" r="2.8"/><circle cx="101.5" cy="123.6" r="2.8"/><circle cx="104.6" cy="110.2" r="2.8"/><circle cx="108.8" cy="134.7" r="2.8"/><circle cx="102.0" cy="113.2" r="2.8"/><circle cx="106.7" cy="113.1" r="2.8"/><circle cx="102.4" cy="130.5" r="2.8"/><circle cx="110.4" cy="127.1" r="2.8"/><circle cx="114.5" cy="103.7" r="2.8"/><circle cx="105.5" cy="110.9" r="2.8"/><circle cx="99.6" cy="135.4" r="2.8"/><circle cx="109.8" cy="108.6" r="2.8"/><circle cx="115.2" cy="116.3" r="2.8"/><circle cx="116.2" cy="100.4" r="2.8"/><circle cx="119.1" cy="129.4" r="2.8"/><circle cx="105.9" cy="118.5" r="2.8"/><circle cx="119.5" cy="132.6" r="2.8"/><circle cx="106.0" cy="103.2" r="2.8"/><circle cx="115.1" cy="134.0" r="2.8"/><circle cx="94.5" cy="135.5" r="2.8"/><circle cx="103.3" cy="122.1" r="2.8"/><circle cx="105.6" cy="112.9" r="2.8"/><circle cx="104.9" cy="112.7" r="2.8"/><circle cx="100.8" cy="98.1" r="2.8"/><circle cx="112.4" cy="125.9" r="2.8"/><circle cx="106.5" cy="104.5" r="2.8"/><circle cx="110.4" cy="101.8" r="2.8"/><circle cx="102.9" cy="120.1" r="2.8"/><circle cx="104.4" cy="127.3" r="2.8"/><circle cx="99.8" cy="131.3" r="2.8"/><circle cx="102.8" cy="96.3" r="2.8"/><circle cx="107.1" cy="97.1" r="2.8"/><circle cx="104.7" cy="124.2" r="2.8"/><circle cx="98.9" cy="122.4" r="2.8"/><circle cx="95.1" cy="104.9" r="2.8"/><circle cx="117.6" cy="112.3" r="2.8"/><circle cx="96.9" cy="107.5" r="2.8"/><circle cx="100.0" cy="97.8" r="2.8"/><circle cx="105.3" cy="116.5" r="2.8"/><circle cx="86.8" cy="113.6" r="2.8"/><circle cx="108.9" cy="115.0" r="2.8"/><circle cx="92.3" cy="100.4" r="2.8"/><circle cx="107.6" cy="125.2" r="2.8"/><circle cx="103.5" cy="112.0" r="2.8"/><circle cx="102.4" cy="109.7" r="2.8"/><circle cx="90.1" cy="132.5" r="2.8"/><circle cx="108.8" cy="131.8" r="2.8"/><circle cx="113.1" cy="109.8" r="2.8"/><circle cx="107.7" cy="113.2" r="2.8"/><circle cx="102.0" cy="123.5" r="2.8"/><circle cx="101.6" cy="136.2" r="2.8"/><circle cx="95.8" cy="131.9" r="2.8"/><circle cx="99.5" cy="109.1" r="2.8"/><circle cx="95.8" cy="118.4" r="2.8"/><circle cx="106.5" cy="99.1" r="2.8"/><circle cx="105.8" cy="108.4" r="2.8"/><circle cx="104.2" cy="110.2" r="2.8"/><circle cx="119.7" cy="109.6" r="2.8"/><circle cx="100.6" cy="122.4" r="2.8"/><circle cx="107.3" cy="111.2" r="2.8"/><circle cx="101.6" cy="110.5" r="2.8"/><circle cx="98.8" cy="134.6" r="2.8"/><circle cx="99.9" cy="108.8" r="2.8"/><circle cx="111.1" cy="101.1" r="2.8"/><circle cx="106.7" cy="96.6" r="2.8"/><circle cx="91.8" cy="100.5" r="2.8"/><circle cx="102.7" cy="105.7" r="2.8"/><circle cx="119.4" cy="136.1" r="2.8"/><circle cx="88.7" cy="98.0" r="2.8"/><circle cx="113.9" cy="113.3" r="2.8"/><circle cx="92.9" cy="132.2" r="2.8"/><circle cx="87.9" cy="132.8" r="2.8"/><circle cx="93.9" cy="95.7" r="2.8"/><circle cx="93.4" cy="95.0" r="2.8"/><circle cx="95.1" cy="122.0" r="2.8"/><circle cx="96.0" cy="102.1" r="2.8"/><circle cx="87.3" cy="110.0" r="2.8"/><circle cx="98.0" cy="113.3" r="2.8"/><circle cx="118.5" cy="104.4" r="2.8"/><circle cx="94.8" cy="101.8" r="2.8"/><circle cx="105.5" cy="109.6" r="2.8"/><circle cx="111.7" cy="96.6" r="2.8"/><circle cx="115.3" cy="95.5" r="2.8"/><circle cx="118.1" cy="119.6" r="2.8"/><circle cx="102.6" cy="120.7" r="2.8"/><circle cx="114.8" cy="136.0" r="2.8"/><circle cx="102.2" cy="100.3" r="2.8"/><circle cx="115.6" cy="124.7" r="2.8"/><circle cx="90.1" cy="129.0" r="2.8"/><circle cx="111.4" cy="129.5" r="2.8"/><circle cx="100.7" cy="119.4" r="2.8"/><circle cx="123.6" cy="112.2" r="2.8"/><circle cx="102.0" cy="121.4" r="2.8"/><circle cx="100.9" cy="106.0" r="2.8"/><circle cx="116.5" cy="129.3" r="2.8"/><circle cx="114.2" cy="124.6" r="2.8"/><circle cx="114.5" cy="105.7" r="2.8"/><circle cx="119.5" cy="115.7" r="2.8"/><circle cx="119.2" cy="97.7" r="2.8"/><circle cx="114.3" cy="127.7" r="2.8"/><circle cx="98.7" cy="119.5" r="2.8"/><circle cx="114.8" cy="135.5" r="2.8"/><circle cx="93.6" cy="98.6" r="2.8"/><circle cx="113.2" cy="132.8" r="2.8"/><circle cx="101.6" cy="105.4" r="2.8"/><circle cx="105.7" cy="122.9" r="2.8"/><circle cx="110.9" cy="126.1" r="2.8"/><circle cx="119.4" cy="106.4" r="2.8"/><circle cx="96.6" cy="136.0" r="2.8"/><circle cx="110.6" cy="130.0" r="2.8"/><circle cx="90.0" cy="114.3" r="2.8"/><circle cx="113.9" cy="115.0" r="2.8"/><circle cx="117.3" cy="100.4" r="2.8"/><circle cx="93.2" cy="96.4" r="2.8"/><circle cx="102.6" cy="99.8" r="2.8"/><circle cx="116.0" cy="110.8" r="2.8"/><circle cx="92.7" cy="95.5" r="2.8"/><circle cx="114.7" cy="131.9" r="2.8"/><circle cx="107.9" cy="114.9" r="2.8"/><circle cx="119.8" cy="126.4" r="2.8"/><circle cx="116.0" cy="102.2" r="2.8"/><circle cx="105.9" cy="99.3" r="2.8"/><circle cx="119.7" cy="109.0" r="2.8"/><circle cx="105.9" cy="115.1" r="2.8"/><circle cx="123.6" cy="103.8" r="2.8"/><circle cx="107.4" cy="121.3" r="2.8"/><circle cx="94.7" cy="117.7" r="2.8"/><circle cx="119.2" cy="113.7" r="2.8"/><circle cx="105.7" cy="129.8" r="2.8"/><circle cx="100.1" cy="114.6" r="2.8"/><circle cx="112.4" cy="136.8" r="2.8"/><circle cx="95.3" cy="118.7" r="2.8"/><circle cx="105.7" cy="100.1" r="2.8"/><circle cx="107.7" cy="105.9" r="2.8"/><circle cx="95.1" cy="127.9" r="2.8"/><circle cx="120.7" cy="133.4" r="2.8"/><circle cx="108.6" cy="137.7" r="2.8"/><circle cx="107.5" cy="137.0" r="2.8"/><circle cx="96.5" cy="108.0" r="2.8"/><circle cx="110.1" cy="99.5" r="2.8"/><circle cx="116.2" cy="119.1" r="2.8"/><circle cx="120.3" cy="124.5" r="2.8"/><circle cx="117.5" cy="122.2" r="2.8"/><circle cx="109.3" cy="123.8" r="2.8"/><circle cx="106.7" cy="107.4" r="2.8"/><circle cx="107.6" cy="96.9" r="2.8"/><circle cx="93.7" cy="103.2" r="2.8"/><circle cx="98.6" cy="131.2" r="2.8"/><circle cx="89.2" cy="138.1" r="2.8"/><circle cx="91.5" cy="125.7" r="2.8"/><circle cx="101.9" cy="113.0" r="2.8"/><circle cx="118.8" cy="94.4" r="2.8"/><circle cx="115.5" cy="120.2" r="2.8"/><circle cx="95.7" cy="94.6" r="2.8"/><circle cx="119.8" cy="131.0" r="2.8"/><circle cx="98.9" cy="105.9" r="2.8"/><circle cx="112.3" cy="137.0" r="2.8"/><circle cx="105.3" cy="97.0" r="2.8"/><circle cx="113.8" cy="137.7" r="2.8"/><circle cx="101.6" cy="106.0" r="2.8"/><circle cx="105.0" cy="123.5" r="2.8"/><circle cx="112.8" cy="121.7" r="2.8"/><circle cx="118.7" cy="118.5" r="2.8"/><circle cx="95.0" cy="105.4" r="2.8"/><circle cx="115.6" cy="100.6" r="2.8"/><circle cx="108.3" cy="101.1" r="2.8"/><circle cx="107.3" cy="118.9" r="2.8"/><circle cx="103.5" cy="94.7" r="2.8"/><circle cx="116.9" cy="104.5" r="2.8"/><circle cx="106.1" cy="104.8" r="2.8"/><circle cx="100.7" cy="115.2" r="2.8"/><circle cx="111.4" cy="128.0" r="2.8"/><circle cx="106.0" cy="131.1" r="2.8"/><circle cx="109.5" cy="135.1" r="2.8"/><circle cx="92.6" cy="102.1" r="2.8"/><circle cx="110.7" cy="108.8" r="2.8"/><circle cx="106.3" cy="112.8" r="2.8"/><circle cx="94.9" cy="135.7" r="2.8"/><circle cx="119.1" cy="107.6" r="2.8"/><circle cx="95.3" cy="125.4" r="2.8"/><circle cx="117.1" cy="96.0" r="2.8"/><circle cx="109.9" cy="122.8" r="2.8"/><circle cx="100.7" cy="96.6" r="2.8"/><circle cx="104.0" cy="98.6" r="2.8"/><circle cx="96.6" cy="101.5" r="2.8"/><circle cx="120.4" cy="113.3" r="2.8"/><circle cx="102.7" cy="94.2" r="2.8"/><circle cx="111.9" cy="102.8" r="2.8"/><circle cx="98.5" cy="138.2" r="2.8"/><circle cx="102.8" cy="123.8" r="2.8"/><circle cx="94.9" cy="124.6" r="2.8"/><circle cx="121.6" cy="97.1" r="2.8"/><circle cx="106.0" cy="134.9" r="2.8"/><circle cx="111.4" cy="115.7" r="2.8"/><circle cx="115.3" cy="116.1" r="2.8"/><circle cx="109.5" cy="107.0" r="2.8"/><circle cx="94.0" cy="100.3" r="2.8"/><circle cx="97.6" cy="124.5" r="2.8"/><circle cx="118.1" cy="119.7" r="2.8"/><circle cx="100.2" cy="129.6" r="2.8"/><circle cx="113.1" cy="96.4" r="2.8"/><circle cx="109.5" cy="109.5" r="2.8"/><circle cx="102.2" cy="110.3" r="2.8"/><circle cx="92.9" cy="113.5" r="2.8"/><circle cx="102.9" cy="126.3" r="2.8"/><circle cx="102.4" cy="132.8" r="2.8"/><circle cx="111.4" cy="99.1" r="2.8"/><circle cx="101.3" cy="94.2" r="2.8"/><circle cx="98.7" cy="132.9" r="2.8"/><circle cx="121.9" cy="129.0" r="2.8"/><circle cx="93.9" cy="120.2" r="2.8"/><circle cx="106.5" cy="119.2" r="2.8"/><circle cx="101.9" cy="115.5" r="2.8"/><circle cx="97.1" cy="116.7" r="2.8"/><circle cx="106.1" cy="106.3" r="2.8"/><circle cx="90.6" cy="112.6" r="2.8"/><circle cx="98.8" cy="102.3" r="2.8"/><circle cx="107.8" cy="128.3" r="2.8"/><circle cx="96.5" cy="105.1" r="2.8"/><circle cx="99.2" cy="116.7" r="2.8"/><circle cx="109.8" cy="111.9" r="2.8"/><circle cx="104.4" cy="126.5" r="2.8"/><circle cx="101.4" cy="109.9" r="2.8"/><circle cx="97.6" cy="127.6" r="2.8"/><circle cx="115.0" cy="103.2" r="2.8"/><circle cx="97.8" cy="123.1" r="2.8"/><circle cx="101.5" cy="106.1" r="2.8"/><circle cx="96.7" cy="95.4" r="2.8"/><circle cx="120.1" cy="117.4" r="2.8"/><circle cx="93.4" cy="104.2" r="2.8"/><circle cx="102.9" cy="129.4" r="2.8"/><circle cx="98.6" cy="115.7" r="2.8"/><circle cx="118.3" cy="115.7" r="2.8"/><circle cx="103.4" cy="132.6" r="2.8"/><circle cx="96.4" cy="108.0" r="2.8"/><circle cx="98.9" cy="102.2" r="2.8"/><circle cx="98.3" cy="135.0" r="2.8"/><circle cx="96.1" cy="133.6" r="2.8"/><circle cx="93.8" cy="128.4" r="2.8"/><circle cx="102.7" cy="134.2" r="2.8"/><circle cx="90.6" cy="120.5" r="2.8"/><circle cx="90.3" cy="111.4" r="2.8"/><circle cx="119.6" cy="110.5" r="2.8"/><circle cx="102.3" cy="108.8" r="2.8"/><circle cx="102.3" cy="94.9" r="2.8"/><circle cx="96.3" cy="121.2" r="2.8"/><circle cx="107.1" cy="132.1" r="2.8"/><circle cx="91.1" cy="119.6" r="2.8"/><circle cx="116.5" cy="108.5" r="2.8"/><circle cx="93.9" cy="120.8" r="2.8"/><circle cx="103.3" cy="103.5" r="2.8"/><circle cx="123.4" cy="110.2" r="2.8"/><circle cx="121.6" cy="104.7" r="2.8"/><circle cx="102.0" cy="104.8" r="2.8"/><circle cx="108.3" cy="95.7" r="2.8"/><circle cx="121.5" cy="128.5" r="2.8"/><circle cx="97.2" cy="96.4" r="2.8"/><circle cx="100.1" cy="121.8" r="2.8"/><circle cx="102.3" cy="131.5" r="2.8"/><circle cx="98.3" cy="129.6" r="2.8"/><circle cx="121.7" cy="127.5" r="2.8"/><circle cx="96.7" cy="98.0" r="2.8"/><circle cx="92.9" cy="94.1" r="2.8"/><circle cx="106.2" cy="110.4" r="2.8"/><circle cx="103.7" cy="106.9" r="2.8"/><circle cx="105.7" cy="101.5" r="2.8"/><circle cx="110.1" cy="110.5" r="2.8"/><circle cx="109.6" cy="109.9" r="2.8"/><circle cx="92.6" cy="119.1" r="2.8"/><circle cx="93.6" cy="136.5" r="2.8"/><circle cx="100.4" cy="123.2" r="2.8"/><circle cx="121.8" cy="108.6" r="2.8"/><circle cx="120.6" cy="109.1" r="2.8"/><circle cx="174.5" cy="130.8" r="2.8"/><circle cx="188.9" cy="131.6" r="2.8"/><circle cx="195.3" cy="93.0" r="2.8"/><circle cx="177.3" cy="131.2" r="2.8"/><circle cx="191.0" cy="126.4" r="2.8"/><circle cx="194.5" cy="122.9" r="2.8"/><circle cx="184.6" cy="102.9" r="2.8"/><circle cx="197.4" cy="97.8" r="2.8"/><circle cx="197.5" cy="121.9" r="2.8"/><circle cx="192.1" cy="98.8" r="2.8"/><circle cx="182.2" cy="105.6" r="2.8"/><circle cx="192.8" cy="137.2" r="2.8"/><circle cx="186.3" cy="107.2" r="2.8"/><circle cx="179.8" cy="105.7" r="2.8"/><circle cx="184.2" cy="140.8" r="2.8"/><circle cx="187.5" cy="109.1" r="2.8"/><circle cx="200.9" cy="137.9" r="2.8"/><circle cx="203.0" cy="108.4" r="2.8"/><circle cx="177.2" cy="106.6" r="2.8"/><circle cx="179.3" cy="111.4" r="2.8"/><circle cx="188.0" cy="105.5" r="2.8"/><circle cx="198.9" cy="108.3" r="2.8"/><circle cx="203.6" cy="129.2" r="2.8"/><circle cx="189.0" cy="132.6" r="2.8"/><circle cx="202.5" cy="109.5" r="2.8"/><circle cx="203.9" cy="123.4" r="2.8"/><circle cx="196.4" cy="137.4" r="2.8"/><circle cx="200.9" cy="104.9" r="2.8"/><circle cx="195.3" cy="110.5" r="2.8"/><circle cx="200.4" cy="102.6" r="2.8"/><circle cx="196.2" cy="102.4" r="2.8"/><circle cx="190.8" cy="98.9" r="2.8"/><circle cx="191.5" cy="101.7" r="2.8"/><circle cx="192.6" cy="97.8" r="2.8"/><circle cx="186.5" cy="103.9" r="2.8"/><circle cx="185.5" cy="116.5" r="2.8"/><circle cx="205.2" cy="140.9" r="2.8"/><circle cx="191.3" cy="137.6" r="2.8"/><circle cx="201.3" cy="140.1" r="2.8"/><circle cx="196.9" cy="131.7" r="2.8"/><circle cx="205.0" cy="123.0" r="2.8"/><circle cx="188.6" cy="98.1" r="2.8"/><circle cx="198.1" cy="127.2" r="2.8"/><circle cx="182.7" cy="95.2" r="2.8"/><circle cx="175.0" cy="112.2" r="2.8"/><circle cx="174.2" cy="108.1" r="2.8"/><circle cx="201.7" cy="117.5" r="2.8"/><circle cx="205.5" cy="126.9" r="2.8"/><circle cx="192.5" cy="140.3" r="2.8"/><circle cx="188.2" cy="97.1" r="2.8"/><circle cx="178.7" cy="93.8" r="2.8"/><circle cx="200.2" cy="114.9" r="2.8"/><circle cx="203.8" cy="106.8" r="2.8"/><circle cx="177.8" cy="106.5" r="2.8"/><circle cx="191.0" cy="142.7" r="2.8"/><circle cx="194.3" cy="137.9" r="2.8"/><circle cx="187.0" cy="122.2" r="2.8"/><circle cx="187.2" cy="140.3" r="2.8"/><circle cx="206.0" cy="95.9" r="2.8"/><circle cx="202.3" cy="135.1" r="2.8"/><circle cx="180.2" cy="95.1" r="2.8"/><circle cx="199.8" cy="100.3" r="2.8"/><circle cx="190.2" cy="99.6" r="2.8"/><circle cx="181.2" cy="114.0" r="2.8"/><circle cx="174.1" cy="116.0" r="2.8"/><circle cx="206.0" cy="118.6" r="2.8"/><circle cx="184.2" cy="103.8" r="2.8"/><circle cx="187.1" cy="108.7" r="2.8"/><circle cx="182.5" cy="94.7" r="2.8"/><circle cx="185.5" cy="117.2" r="2.8"/><circle cx="197.4" cy="130.9" r="2.8"/><circle cx="193.0" cy="103.3" r="2.8"/><circle cx="184.7" cy="131.8" r="2.8"/><circle cx="177.2" cy="134.2" r="2.8"/><circle cx="180.3" cy="141.9" r="2.8"/><circle cx="189.5" cy="98.3" r="2.8"/><circle cx="191.9" cy="132.0" r="2.8"/><circle cx="177.9" cy="139.1" r="2.8"/><circle cx="189.6" cy="125.8" r="2.8"/><circle cx="177.6" cy="130.8" r="2.8"/><circle cx="187.6" cy="114.3" r="2.8"/><circle cx="186.2" cy="121.0" r="2.8"/><circle cx="205.4" cy="114.3" r="2.8"/><circle cx="197.1" cy="97.5" r="2.8"/><circle cx="192.9" cy="112.8" r="2.8"/><circle cx="173.8" cy="111.3" r="2.8"/><circle cx="187.8" cy="136.7" r="2.8"/><circle cx="202.8" cy="109.2" r="2.8"/><circle cx="181.7" cy="134.8" r="2.8"/><circle cx="198.8" cy="127.9" r="2.8"/><circle cx="181.0" cy="116.5" r="2.8"/><circle cx="192.4" cy="132.9" r="2.8"/><circle cx="186.7" cy="122.7" r="2.8"/><circle cx="178.1" cy="128.8" r="2.8"/><circle cx="203.5" cy="96.0" r="2.8"/><circle cx="202.7" cy="126.3" r="2.8"/><circle cx="196.1" cy="139.6" r="2.8"/><circle cx="187.2" cy="98.0" r="2.8"/><circle cx="189.3" cy="105.5" r="2.8"/><circle cx="192.2" cy="104.4" r="2.8"/><circle cx="200.2" cy="109.2" r="2.8"/><circle cx="185.7" cy="102.1" r="2.8"/><circle cx="196.8" cy="109.5" r="2.8"/><circle cx="186.9" cy="123.3" r="2.8"/><circle cx="187.6" cy="124.2" r="2.8"/><circle cx="177.4" cy="110.1" r="2.8"/><circle cx="183.4" cy="121.0" r="2.8"/><circle cx="183.5" cy="123.9" r="2.8"/><circle cx="199.1" cy="122.3" r="2.8"/><circle cx="187.8" cy="100.8" r="2.8"/><circle cx="179.7" cy="138.4" r="2.8"/><circle cx="184.3" cy="99.6" r="2.8"/><circle cx="189.2" cy="112.8" r="2.8"/><circle cx="186.4" cy="113.2" r="2.8"/><circle cx="173.2" cy="131.7" r="2.8"/><circle cx="198.2" cy="105.5" r="2.8"/><circle cx="185.0" cy="119.3" r="2.8"/><circle cx="194.3" cy="99.8" r="2.8"/><circle cx="180.0" cy="111.0" r="2.8"/><circle cx="184.4" cy="103.3" r="2.8"/><circle cx="173.4" cy="127.1" r="2.8"/><circle cx="175.6" cy="128.5" r="2.8"/><circle cx="200.5" cy="106.0" r="2.8"/><circle cx="181.5" cy="120.5" r="2.8"/><circle cx="184.8" cy="107.6" r="2.8"/><circle cx="192.3" cy="132.5" r="2.8"/><circle cx="187.5" cy="127.9" r="2.8"/><circle cx="181.8" cy="95.2" r="2.8"/><circle cx="186.5" cy="119.4" r="2.8"/><circle cx="181.3" cy="122.3" r="2.8"/><circle cx="188.5" cy="142.1" r="2.8"/><circle cx="201.3" cy="142.1" r="2.8"/><circle cx="192.0" cy="98.9" r="2.8"/><circle cx="188.7" cy="110.8" r="2.8"/><circle cx="193.5" cy="102.9" r="2.8"/><circle cx="187.0" cy="141.9" r="2.8"/><circle cx="205.8" cy="106.6" r="2.8"/><circle cx="183.7" cy="95.2" r="2.8"/><circle cx="187.7" cy="110.5" r="2.8"/><circle cx="178.8" cy="139.5" r="2.8"/><circle cx="184.6" cy="124.5" r="2.8"/><circle cx="179.1" cy="136.7" r="2.8"/><circle cx="189.0" cy="105.1" r="2.8"/><circle cx="189.5" cy="120.7" r="2.8"/><circle cx="174.7" cy="137.7" r="2.8"/><circle cx="183.8" cy="134.5" r="2.8"/><circle cx="190.7" cy="100.2" r="2.8"/><circle cx="185.6" cy="107.7" r="2.8"/><circle cx="196.0" cy="127.5" r="2.8"/><circle cx="178.4" cy="132.7" r="2.8"/><circle cx="177.7" cy="126.0" r="2.8"/><circle cx="177.5" cy="101.2" r="2.8"/><circle cx="191.5" cy="112.3" r="2.8"/><circle cx="196.1" cy="113.2" r="2.8"/><circle cx="193.7" cy="139.7" r="2.8"/><circle cx="175.7" cy="139.0" r="2.8"/><circle cx="181.8" cy="121.6" r="2.8"/><circle cx="186.6" cy="97.9" r="2.8"/><circle cx="191.1" cy="109.1" r="2.8"/><circle cx="194.0" cy="98.0" r="2.8"/><circle cx="178.1" cy="137.1" r="2.8"/><circle cx="175.7" cy="131.1" r="2.8"/><circle cx="178.4" cy="111.6" r="2.8"/><circle cx="200.1" cy="134.6" r="2.8"/><circle cx="190.3" cy="110.0" r="2.8"/><circle cx="182.2" cy="130.3" r="2.8"/><circle cx="199.9" cy="113.2" r="2.8"/><circle cx="185.3" cy="131.0" r="2.8"/><circle cx="192.0" cy="106.7" r="2.8"/><circle cx="205.1" cy="97.2" r="2.8"/><circle cx="183.1" cy="95.0" r="2.8"/><circle cx="191.1" cy="119.4" r="2.8"/><circle cx="176.3" cy="113.5" r="2.8"/><circle cx="177.9" cy="139.0" r="2.8"/><circle cx="194.2" cy="126.6" r="2.8"/><circle cx="173.7" cy="139.5" r="2.8"/><circle cx="177.9" cy="104.8" r="2.8"/><circle cx="198.7" cy="100.6" r="2.8"/><circle cx="203.0" cy="100.8" r="2.8"/><circle cx="189.1" cy="130.4" r="2.8"/><circle cx="192.4" cy="106.9" r="2.8"/><circle cx="177.6" cy="108.2" r="2.8"/><circle cx="178.6" cy="117.3" r="2.8"/><circle cx="191.9" cy="127.2" r="2.8"/><circle cx="205.0" cy="133.2" r="2.8"/><circle cx="202.7" cy="93.4" r="2.8"/><circle cx="201.4" cy="128.7" r="2.8"/><circle cx="196.9" cy="100.4" r="2.8"/><circle cx="206.1" cy="134.2" r="2.8"/><circle cx="177.4" cy="125.4" r="2.8"/><circle cx="183.9" cy="96.8" r="2.8"/><circle cx="175.9" cy="106.1" r="2.8"/><circle cx="181.5" cy="138.4" r="2.8"/><circle cx="186.6" cy="108.4" r="2.8"/><circle cx="202.6" cy="110.3" r="2.8"/><circle cx="177.4" cy="134.3" r="2.8"/><circle cx="187.3" cy="110.3" r="2.8"/><circle cx="186.2" cy="142.3" r="2.8"/><circle cx="180.6" cy="140.9" r="2.8"/><circle cx="175.2" cy="94.2" r="2.8"/><circle cx="195.6" cy="119.4" r="2.8"/><circle cx="183.2" cy="121.1" r="2.8"/><circle cx="187.8" cy="129.7" r="2.8"/><circle cx="174.6" cy="116.2" r="2.8"/><circle cx="180.7" cy="116.3" r="2.8"/><circle cx="201.5" cy="102.3" r="2.8"/><circle cx="179.1" cy="133.8" r="2.8"/><circle cx="178.7" cy="106.6" r="2.8"/><circle cx="173.5" cy="142.2" r="2.8"/><circle cx="193.0" cy="110.7" r="2.8"/><circle cx="180.3" cy="98.6" r="2.8"/><circle cx="179.1" cy="109.5" r="2.8"/><circle cx="200.6" cy="141.3" r="2.8"/><circle cx="197.5" cy="96.2" r="2.8"/><circle cx="205.2" cy="142.2" r="2.8"/><circle cx="206.3" cy="98.2" r="2.8"/><circle cx="189.8" cy="119.7" r="2.8"/><circle cx="191.8" cy="140.3" r="2.8"/><circle cx="204.1" cy="111.0" r="2.8"/><circle cx="191.7" cy="140.3" r="2.8"/><circle cx="198.3" cy="105.8" r="2.8"/><circle cx="185.4" cy="140.2" r="2.8"/><circle cx="196.7" cy="122.1" r="2.8"/><circle cx="203.7" cy="125.6" r="2.8"/><circle cx="190.8" cy="96.6" r="2.8"/><circle cx="175.9" cy="110.4" r="2.8"/><circle cx="175.6" cy="142.9" r="2.8"/><circle cx="193.6" cy="141.5" r="2.8"/><circle cx="190.4" cy="119.6" r="2.8"/><circle cx="182.2" cy="142.1" r="2.8"/><circle cx="201.3" cy="113.4" r="2.8"/><circle cx="175.9" cy="103.0" r="2.8"/><circle cx="192.3" cy="94.2" r="2.8"/><circle cx="184.9" cy="100.3" r="2.8"/><circle cx="187.5" cy="113.6" r="2.8"/><circle cx="196.9" cy="93.1" r="2.8"/><circle cx="200.0" cy="99.6" r="2.8"/><circle cx="191.8" cy="136.1" r="2.8"/><circle cx="198.2" cy="101.7" r="2.8"/><circle cx="173.9" cy="122.9" r="2.8"/><circle cx="192.7" cy="114.6" r="2.8"/><circle cx="175.8" cy="142.0" r="2.8"/><circle cx="180.7" cy="127.7" r="2.8"/><circle cx="186.6" cy="115.0" r="2.8"/><circle cx="186.6" cy="116.8" r="2.8"/><circle cx="199.6" cy="128.0" r="2.8"/><circle cx="194.0" cy="102.2" r="2.8"/><circle cx="196.2" cy="115.6" r="2.8"/><circle cx="186.0" cy="98.3" r="2.8"/><circle cx="182.9" cy="99.4" r="2.8"/><circle cx="188.9" cy="130.9" r="2.8"/><circle cx="185.1" cy="127.3" r="2.8"/><circle cx="202.9" cy="116.2" r="2.8"/><circle cx="184.2" cy="142.7" r="2.8"/><circle cx="192.3" cy="104.1" r="2.8"/><circle cx="196.1" cy="129.9" r="2.8"/><circle cx="204.3" cy="143.0" r="2.8"/><circle cx="193.5" cy="114.8" r="2.8"/><circle cx="185.7" cy="110.3" r="2.8"/><circle cx="189.0" cy="96.3" r="2.8"/><circle cx="200.9" cy="130.2" r="2.8"/><circle cx="174.5" cy="93.1" r="2.8"/><circle cx="190.7" cy="114.6" r="2.8"/><circle cx="201.6" cy="124.6" r="2.8"/><circle cx="184.6" cy="113.7" r="2.8"/><circle cx="183.6" cy="110.9" r="2.8"/><circle cx="181.6" cy="132.0" r="2.8"/><circle cx="188.1" cy="109.0" r="2.8"/><circle cx="183.2" cy="118.0" r="2.8"/><circle cx="200.9" cy="123.5" r="2.8"/><circle cx="187.2" cy="112.5" r="2.8"/><circle cx="198.9" cy="114.9" r="2.8"/><circle cx="188.7" cy="139.0" r="2.8"/><circle cx="200.7" cy="100.1" r="2.8"/><circle cx="177.1" cy="126.7" r="2.8"/><circle cx="203.7" cy="108.6" r="2.8"/><circle cx="184.6" cy="119.6" r="2.8"/><circle cx="205.6" cy="110.4" r="2.8"/><circle cx="198.4" cy="138.1" r="2.8"/><circle cx="190.1" cy="98.6" r="2.8"/><circle cx="190.9" cy="133.5" r="2.8"/><circle cx="201.1" cy="93.7" r="2.8"/><circle cx="181.1" cy="134.5" r="2.8"/><circle cx="184.0" cy="135.8" r="2.8"/><circle cx="185.8" cy="93.1" r="2.8"/><circle cx="193.3" cy="113.8" r="2.8"/><circle cx="179.5" cy="142.3" r="2.8"/><circle cx="201.8" cy="139.4" r="2.8"/><circle cx="184.6" cy="104.3" r="2.8"/><circle cx="187.7" cy="142.4" r="2.8"/><circle cx="196.6" cy="99.4" r="2.8"/><circle cx="175.9" cy="117.8" r="2.8"/><circle cx="197.9" cy="109.8" r="2.8"/><circle cx="188.0" cy="128.1" r="2.8"/><circle cx="189.0" cy="108.5" r="2.8"/><circle cx="175.9" cy="113.4" r="2.8"/><circle cx="177.4" cy="97.9" r="2.8"/><circle cx="179.1" cy="95.4" r="2.8"/><circle cx="193.4" cy="129.6" r="2.8"/><circle cx="202.5" cy="134.3" r="2.8"/><circle cx="186.4" cy="104.4" r="2.8"/><circle cx="201.9" cy="106.4" r="2.8"/><circle cx="192.9" cy="124.6" r="2.8"/><circle cx="183.3" cy="118.5" r="2.8"/><circle cx="203.3" cy="120.0" r="2.8"/><circle cx="195.5" cy="121.9" r="2.8"/><circle cx="189.6" cy="122.3" r="2.8"/><circle cx="190.0" cy="142.0" r="2.8"/><circle cx="180.7" cy="99.3" r="2.8"/><circle cx="174.0" cy="125.9" r="2.8"/><circle cx="181.9" cy="117.7" r="2.8"/><circle cx="173.4" cy="112.1" r="2.8"/><circle cx="184.0" cy="106.0" r="2.8"/><circle cx="184.0" cy="113.7" r="2.8"/><circle cx="189.1" cy="94.0" r="2.8"/><circle cx="203.0" cy="93.1" r="2.8"/><circle cx="200.4" cy="115.9" r="2.8"/><circle cx="189.9" cy="137.6" r="2.8"/><circle cx="183.9" cy="121.1" r="2.8"/><circle cx="180.2" cy="123.9" r="2.8"/><circle cx="187.6" cy="124.4" r="2.8"/><circle cx="192.0" cy="93.8" r="2.8"/><circle cx="202.4" cy="136.2" r="2.8"/><circle cx="179.9" cy="101.6" r="2.8"/><circle cx="196.3" cy="136.0" r="2.8"/><circle cx="204.2" cy="134.6" r="2.8"/><circle cx="195.5" cy="106.0" r="2.8"/><circle cx="176.6" cy="104.7" r="2.8"/><circle cx="177.8" cy="132.8" r="2.8"/><circle cx="183.3" cy="106.9" r="2.8"/><circle cx="182.2" cy="135.7" r="2.8"/><circle cx="178.9" cy="103.5" r="2.8"/><circle cx="175.9" cy="105.1" r="2.8"/><circle cx="187.9" cy="110.5" r="2.8"/><circle cx="190.8" cy="104.0" r="2.8"/><circle cx="192.0" cy="94.3" r="2.8"/><circle cx="198.8" cy="123.1" r="2.8"/><circle cx="190.8" cy="105.0" r="2.8"/><circle cx="186.9" cy="110.0" r="2.8"/><circle cx="191.2" cy="112.8" r="2.8"/><circle cx="191.1" cy="135.0" r="2.8"/><circle cx="179.6" cy="128.8" r="2.8"/><circle cx="190.2" cy="141.0" r="2.8"/><circle cx="181.0" cy="121.4" r="2.8"/><circle cx="196.7" cy="132.1" r="2.8"/><circle cx="196.6" cy="117.5" r="2.8"/><circle cx="184.1" cy="129.2" r="2.8"/><circle cx="188.8" cy="142.9" r="2.8"/><circle cx="202.0" cy="117.8" r="2.8"/><circle cx="174.2" cy="115.4" r="2.8"/><circle cx="183.5" cy="116.5" r="2.8"/><circle cx="175.7" cy="98.3" r="2.8"/><circle cx="184.8" cy="101.6" r="2.8"/><circle cx="186.1" cy="118.0" r="2.8"/><circle cx="191.8" cy="99.7" r="2.8"/><circle cx="184.9" cy="141.5" r="2.8"/><circle cx="175.1" cy="109.0" r="2.8"/><circle cx="180.1" cy="93.3" r="2.8"/><circle cx="186.0" cy="111.4" r="2.8"/><circle cx="192.3" cy="141.3" r="2.8"/><circle cx="190.5" cy="141.2" r="2.8"/><circle cx="188.7" cy="122.7" r="2.8"/><circle cx="192.5" cy="140.9" r="2.8"/><circle cx="191.8" cy="96.3" r="2.8"/><circle cx="186.0" cy="111.7" r="2.8"/><circle cx="202.8" cy="111.4" r="2.8"/><circle cx="189.4" cy="104.1" r="2.8"/><circle cx="180.3" cy="142.0" r="2.8"/><circle cx="187.0" cy="132.8" r="2.8"/><circle cx="207.9" cy="132.2" r="2.8"/><circle cx="202.7" cy="132.7" r="2.8"/><circle cx="172.7" cy="110.9" r="2.8"/><circle cx="178.3" cy="116.9" r="2.8"/><circle cx="178.7" cy="117.8" r="2.8"/><circle cx="201.8" cy="136.7" r="2.8"/><circle cx="188.8" cy="100.5" r="2.8"/><circle cx="203.7" cy="98.4" r="2.8"/><circle cx="193.4" cy="129.2" r="2.8"/><circle cx="192.9" cy="136.0" r="2.8"/><circle cx="202.1" cy="122.7" r="2.8"/><circle cx="177.8" cy="101.2" r="2.8"/><circle cx="188.5" cy="118.6" r="2.8"/><circle cx="197.0" cy="116.5" r="2.8"/><circle cx="200.8" cy="119.9" r="2.8"/><circle cx="192.9" cy="140.0" r="2.8"/><circle cx="181.8" cy="112.4" r="2.8"/><circle cx="189.5" cy="130.2" r="2.8"/><circle cx="205.3" cy="99.9" r="2.8"/><circle cx="176.8" cy="137.4" r="2.8"/><circle cx="199.3" cy="115.8" r="2.8"/><circle cx="205.8" cy="102.3" r="2.8"/><circle cx="201.2" cy="93.6" r="2.8"/><circle cx="197.6" cy="114.2" r="2.8"/><circle cx="190.2" cy="104.2" r="2.8"/><circle cx="186.1" cy="97.3" r="2.8"/><circle cx="197.0" cy="141.6" r="2.8"/><circle cx="191.1" cy="94.7" r="2.8"/><circle cx="188.0" cy="97.9" r="2.8"/><circle cx="192.4" cy="109.4" r="2.8"/><circle cx="176.8" cy="127.6" r="2.8"/><circle cx="194.3" cy="95.6" r="2.8"/><circle cx="192.6" cy="141.4" r="2.8"/><circle cx="186.6" cy="132.6" r="2.8"/><circle cx="186.5" cy="116.6" r="2.8"/><circle cx="193.5" cy="103.8" r="2.8"/><circle cx="187.4" cy="124.2" r="2.8"/><circle cx="205.4" cy="93.5" r="2.8"/><circle cx="201.9" cy="106.1" r="2.8"/><circle cx="198.3" cy="98.6" r="2.8"/><circle cx="193.3" cy="123.4" r="2.8"/><circle cx="183.4" cy="123.7" r="2.8"/><circle cx="180.7" cy="118.9" r="2.8"/><circle cx="176.9" cy="125.7" r="2.8"/><circle cx="182.4" cy="105.5" r="2.8"/><circle cx="181.2" cy="141.2" r="2.8"/><circle cx="187.6" cy="121.3" r="2.8"/><circle cx="192.4" cy="111.4" r="2.8"/><circle cx="194.4" cy="142.4" r="2.8"/><circle cx="196.9" cy="109.1" r="2.8"/><circle cx="183.7" cy="94.0" r="2.8"/><circle cx="199.7" cy="123.0" r="2.8"/><circle cx="188.3" cy="116.4" r="2.8"/><circle cx="180.7" cy="118.5" r="2.8"/><circle cx="185.1" cy="131.3" r="2.8"/><circle cx="196.0" cy="105.7" r="2.8"/><circle cx="189.9" cy="138.1" r="2.8"/><circle cx="201.6" cy="124.6" r="2.8"/><circle cx="187.9" cy="127.0" r="2.8"/><circle cx="185.4" cy="127.1" r="2.8"/><circle cx="193.0" cy="132.3" r="2.8"/><circle cx="180.5" cy="122.3" r="2.8"/><circle cx="194.4" cy="105.8" r="2.8"/><circle cx="172.4" cy="121.6" r="2.8"/><circle cx="182.6" cy="116.4" r="2.8"/><circle cx="183.6" cy="116.2" r="2.8"/><circle cx="185.0" cy="117.4" r="2.8"/><circle cx="180.5" cy="102.9" r="2.8"/><circle cx="189.3" cy="139.4" r="2.8"/><circle cx="196.4" cy="97.4" r="2.8"/><circle cx="187.6" cy="122.8" r="2.8"/><circle cx="189.8" cy="115.6" r="2.8"/><circle cx="177.4" cy="123.1" r="2.8"/><circle cx="178.8" cy="138.2" r="2.8"/><circle cx="197.7" cy="128.3" r="2.8"/><circle cx="188.6" cy="133.4" r="2.8"/><circle cx="178.1" cy="133.5" r="2.8"/><circle cx="180.9" cy="136.3" r="2.8"/><circle cx="191.7" cy="93.4" r="2.8"/><circle cx="192.6" cy="140.7" r="2.8"/><circle cx="184.3" cy="121.8" r="2.8"/><circle cx="174.8" cy="100.5" r="2.8"/><circle cx="187.1" cy="125.8" r="2.8"/><circle cx="204.6" cy="138.2" r="2.8"/><circle cx="197.4" cy="120.1" r="2.8"/><circle cx="196.6" cy="117.6" r="2.8"/><circle cx="172.6" cy="101.7" r="2.8"/><circle cx="195.2" cy="117.6" r="2.8"/><circle cx="182.4" cy="128.5" r="2.8"/><circle cx="185.5" cy="114.0" r="2.8"/><circle cx="189.3" cy="104.4" r="2.8"/><circle cx="182.3" cy="125.9" r="2.8"/><circle cx="198.8" cy="141.6" r="2.8"/><circle cx="189.4" cy="108.3" r="2.8"/><circle cx="202.1" cy="136.5" r="2.8"/><circle cx="195.3" cy="124.0" r="2.8"/><circle cx="196.3" cy="119.1" r="2.8"/><circle cx="201.4" cy="99.4" r="2.8"/><circle cx="196.8" cy="121.4" r="2.8"/><circle cx="191.5" cy="117.6" r="2.8"/><circle cx="174.6" cy="94.1" r="2.8"/><circle cx="193.7" cy="142.8" r="2.8"/><circle cx="201.5" cy="125.7" r="2.8"/><circle cx="183.3" cy="107.1" r="2.8"/><circle cx="200.9" cy="130.1" r="2.8"/><circle cx="180.7" cy="120.1" r="2.8"/><circle cx="186.9" cy="135.0" r="2.8"/><circle cx="202.2" cy="111.1" r="2.8"/><circle cx="191.3" cy="127.3" r="2.8"/><circle cx="185.1" cy="137.0" r="2.8"/><circle cx="189.7" cy="127.3" r="2.8"/><circle cx="195.4" cy="105.9" r="2.8"/><circle cx="207.7" cy="110.0" r="2.8"/><circle cx="176.8" cy="106.8" r="2.8"/><circle cx="189.9" cy="111.0" r="2.8"/><circle cx="177.2" cy="140.8" r="2.8"/><circle cx="204.1" cy="111.2" r="2.8"/><circle cx="191.7" cy="95.6" r="2.8"/><circle cx="187.4" cy="140.6" r="2.8"/><circle cx="193.4" cy="112.4" r="2.8"/><circle cx="195.6" cy="119.3" r="2.8"/><circle cx="185.3" cy="93.4" r="2.8"/><circle cx="192.8" cy="125.4" r="2.8"/><circle cx="188.9" cy="137.9" r="2.8"/><circle cx="194.3" cy="141.7" r="2.8"/><circle cx="197.7" cy="96.1" r="2.8"/><circle cx="191.3" cy="100.9" r="2.8"/><circle cx="194.9" cy="141.4" r="2.8"/><circle cx="200.5" cy="128.8" r="2.8"/><circle cx="170.5" cy="133.3" r="2.8"/><circle cx="184.5" cy="126.4" r="2.8"/><circle cx="191.2" cy="109.3" r="2.8"/><circle cx="175.4" cy="142.7" r="2.8"/><circle cx="204.7" cy="109.4" r="2.8"/><circle cx="201.5" cy="110.9" r="2.8"/><circle cx="183.1" cy="119.6" r="2.8"/><circle cx="204.9" cy="115.0" r="2.8"/><circle cx="189.1" cy="106.9" r="2.8"/><circle cx="190.0" cy="100.1" r="2.8"/><circle cx="175.3" cy="132.9" r="2.8"/><circle cx="202.5" cy="139.8" r="2.8"/><circle cx="193.7" cy="95.3" r="2.8"/><circle cx="194.9" cy="114.1" r="2.8"/><circle cx="186.6" cy="114.8" r="2.8"/><circle cx="204.8" cy="119.0" r="2.8"/><circle cx="191.4" cy="102.5" r="2.8"/><circle cx="201.8" cy="110.6" r="2.8"/><circle cx="192.9" cy="111.2" r="2.8"/><circle cx="183.8" cy="108.0" r="2.8"/><circle cx="195.4" cy="119.7" r="2.8"/><circle cx="187.5" cy="113.6" r="2.8"/><circle cx="198.6" cy="120.9" r="2.8"/><circle cx="176.2" cy="125.6" r="2.8"/><circle cx="179.4" cy="98.6" r="2.8"/><circle cx="180.1" cy="102.2" r="2.8"/><circle cx="179.4" cy="104.7" r="2.8"/><circle cx="205.0" cy="100.2" r="2.8"/><circle cx="200.1" cy="121.9" r="2.8"/><circle cx="193.4" cy="126.8" r="2.8"/><circle cx="176.3" cy="125.8" r="2.8"/><circle cx="181.6" cy="111.2" r="2.8"/><circle cx="198.2" cy="97.4" r="2.8"/><circle cx="185.6" cy="136.2" r="2.8"/><circle cx="180.3" cy="118.6" r="2.8"/><circle cx="188.6" cy="99.4" r="2.8"/><circle cx="204.6" cy="141.1" r="2.8"/><circle cx="205.5" cy="94.2" r="2.8"/><circle cx="184.4" cy="136.7" r="2.8"/><circle cx="187.3" cy="124.0" r="2.8"/><circle cx="182.4" cy="100.3" r="2.8"/><circle cx="174.8" cy="99.1" r="2.8"/><circle cx="182.5" cy="107.7" r="2.8"/><circle cx="194.7" cy="134.5" r="2.8"/><circle cx="176.0" cy="120.7" r="2.8"/><circle cx="200.3" cy="117.3" r="2.8"/><circle cx="183.4" cy="103.2" r="2.8"/><circle cx="194.2" cy="133.1" r="2.8"/><circle cx="196.7" cy="94.6" r="2.8"/><circle cx="188.9" cy="117.8" r="2.8"/><circle cx="191.7" cy="140.0" r="2.8"/><circle cx="174.8" cy="114.0" r="2.8"/><circle cx="184.8" cy="137.1" r="2.8"/><circle cx="204.1" cy="107.2" r="2.8"/><circle cx="193.2" cy="135.0" r="2.8"/><circle cx="174.4" cy="120.6" r="2.8"/><circle cx="192.0" cy="129.8" r="2.8"/><circle cx="178.7" cy="93.9" r="2.8"/><circle cx="182.2" cy="125.7" r="2.8"/><circle cx="188.5" cy="142.6" r="2.8"/><circle cx="201.6" cy="140.9" r="2.8"/><circle cx="189.6" cy="95.1" r="2.8"/><circle cx="186.7" cy="116.8" r="2.8"/><circle cx="180.6" cy="96.8" r="2.8"/><circle cx="196.1" cy="128.1" r="2.8"/><circle cx="196.4" cy="123.9" r="2.8"/><circle cx="202.8" cy="127.1" r="2.8"/><circle cx="187.7" cy="134.3" r="2.8"/><circle cx="203.3" cy="123.0" r="2.8"/><circle cx="181.8" cy="141.4" r="2.8"/><circle cx="202.9" cy="126.9" r="2.8"/><circle cx="186.4" cy="133.1" r="2.8"/><circle cx="173.6" cy="132.8" r="2.8"/><circle cx="188.7" cy="94.6" r="2.8"/><circle cx="185.7" cy="97.9" r="2.8"/><circle cx="190.5" cy="97.4" r="2.8"/><circle cx="194.2" cy="130.7" r="2.8"/><circle cx="191.6" cy="113.5" r="2.8"/><circle cx="191.1" cy="140.4" r="2.8"/><circle cx="196.1" cy="116.1" r="2.8"/><circle cx="202.4" cy="98.6" r="2.8"/><circle cx="176.5" cy="120.1" r="2.8"/><circle cx="202.4" cy="97.6" r="2.8"/><circle cx="198.0" cy="136.3" r="2.8"/><circle cx="201.6" cy="133.4" r="2.8"/><circle cx="190.3" cy="102.3" r="2.8"/><circle cx="183.3" cy="129.3" r="2.8"/><circle cx="187.2" cy="136.3" r="2.8"/><circle cx="196.6" cy="104.2" r="2.8"/><circle cx="183.8" cy="111.1" r="2.8"/><circle cx="205.1" cy="117.7" r="2.8"/><circle cx="205.0" cy="107.4" r="2.8"/><circle cx="180.1" cy="103.3" r="2.8"/><circle cx="187.4" cy="100.6" r="2.8"/><circle cx="179.1" cy="106.6" r="2.8"/><circle cx="189.6" cy="108.3" r="2.8"/><circle cx="193.0" cy="115.2" r="2.8"/><circle cx="194.7" cy="98.6" r="2.8"/><circle cx="183.5" cy="97.4" r="2.8"/><circle cx="199.3" cy="130.2" r="2.8"/><circle cx="196.5" cy="102.2" r="2.8"/><circle cx="187.1" cy="133.5" r="2.8"/><circle cx="202.1" cy="107.1" r="2.8"/><circle cx="183.7" cy="121.0" r="2.8"/><circle cx="193.7" cy="131.2" r="2.8"/><circle cx="190.8" cy="111.8" r="2.8"/><circle cx="201.0" cy="126.4" r="2.8"/><circle cx="201.3" cy="101.1" r="2.8"/><circle cx="204.7" cy="142.3" r="2.8"/><circle cx="190.5" cy="94.9" r="2.8"/><circle cx="198.1" cy="131.1" r="2.8"/><circle cx="185.1" cy="93.4" r="2.8"/><circle cx="184.7" cy="97.2" r="2.8"/><circle cx="205.2" cy="129.9" r="2.8"/><circle cx="203.6" cy="135.2" r="2.8"/><circle cx="190.7" cy="137.7" r="2.8"/><circle cx="180.6" cy="101.5" r="2.8"/><circle cx="191.9" cy="102.8" r="2.8"/><circle cx="176.0" cy="109.2" r="2.8"/><circle cx="183.0" cy="97.4" r="2.8"/><circle cx="190.7" cy="118.4" r="2.8"/><circle cx="202.5" cy="113.3" r="2.8"/><circle cx="183.2" cy="122.2" r="2.8"/><circle cx="194.2" cy="130.6" r="2.8"/><circle cx="185.4" cy="120.3" r="2.8"/><circle cx="198.1" cy="116.8" r="2.8"/><circle cx="181.9" cy="96.6" r="2.8"/><circle cx="180.1" cy="122.5" r="2.8"/><circle cx="178.7" cy="104.6" r="2.8"/><circle cx="191.6" cy="129.8" r="2.8"/><circle cx="202.7" cy="93.4" r="2.8"/><circle cx="190.4" cy="124.5" r="2.8"/><circle cx="278.3" cy="104.7" r="2.8"/><circle cx="266.6" cy="101.4" r="2.8"/><circle cx="274.7" cy="119.2" r="2.8"/><circle cx="271.4" cy="117.1" r="2.8"/><circle cx="281.7" cy="123.4" r="2.8"/><circle cx="284.6" cy="136.1" r="2.8"/><circle cx="271.4" cy="104.0" r="2.8"/><circle cx="265.7" cy="93.8" r="2.8"/><circle cx="265.3" cy="116.1" r="2.8"/><circle cx="276.5" cy="125.0" r="2.8"/><circle cx="287.1" cy="96.0" r="2.8"/><circle cx="276.1" cy="106.4" r="2.8"/><circle cx="277.8" cy="110.5" r="2.8"/><circle cx="272.0" cy="103.7" r="2.8"/><circle cx="273.3" cy="106.4" r="2.8"/><circle cx="259.0" cy="133.8" r="2.8"/><circle cx="262.4" cy="98.6" r="2.8"/><circle cx="280.8" cy="113.1" r="2.8"/><circle cx="263.9" cy="137.5" r="2.8"/><circle cx="279.0" cy="99.5" r="2.8"/><circle cx="276.7" cy="133.7" r="2.8"/><circle cx="277.3" cy="134.5" r="2.8"/><circle cx="277.4" cy="128.2" r="2.8"/><circle cx="275.6" cy="94.5" r="2.8"/><circle cx="267.1" cy="93.6" r="2.8"/><circle cx="269.1" cy="138.9" r="2.8"/><circle cx="278.9" cy="130.4" r="2.8"/><circle cx="289.1" cy="110.1" r="2.8"/><circle cx="267.8" cy="113.0" r="2.8"/><circle cx="258.8" cy="126.5" r="2.8"/><circle cx="283.1" cy="111.7" r="2.8"/><circle cx="276.6" cy="137.7" r="2.8"/><circle cx="290.5" cy="125.6" r="2.8"/><circle cx="258.4" cy="117.7" r="2.8"/><circle cx="258.2" cy="117.5" r="2.8"/><circle cx="287.1" cy="138.7" r="2.8"/><circle cx="282.5" cy="94.2" r="2.8"/><circle cx="264.4" cy="124.1" r="2.8"/><circle cx="284.0" cy="115.7" r="2.8"/><circle cx="275.6" cy="128.1" r="2.8"/><circle cx="272.9" cy="130.1" r="2.8"/><circle cx="273.1" cy="115.5" r="2.8"/><circle cx="279.1" cy="128.8" r="2.8"/><circle cx="266.7" cy="110.7" r="2.8"/><circle cx="268.4" cy="136.3" r="2.8"/><circle cx="278.6" cy="113.2" r="2.8"/><circle cx="287.0" cy="95.0" r="2.8"/><circle cx="261.9" cy="96.4" r="2.8"/><circle cx="273.9" cy="126.4" r="2.8"/><circle cx="265.6" cy="98.9" r="2.8"/><circle cx="275.6" cy="133.4" r="2.8"/><circle cx="273.4" cy="116.9" r="2.8"/><circle cx="282.6" cy="114.3" r="2.8"/><circle cx="277.8" cy="122.0" r="2.8"/><circle cx="276.7" cy="128.6" r="2.8"/><circle cx="271.1" cy="119.1" r="2.8"/><circle cx="264.5" cy="107.2" r="2.8"/><circle cx="283.6" cy="116.0" r="2.8"/><circle cx="258.4" cy="138.8" r="2.8"/><circle cx="278.2" cy="134.3" r="2.8"/><circle cx="256.4" cy="131.3" r="2.8"/><circle cx="288.7" cy="111.3" r="2.8"/><circle cx="271.2" cy="131.3" r="2.8"/><circle cx="271.0" cy="110.2" r="2.8"/><circle cx="288.9" cy="132.1" r="2.8"/><circle cx="278.1" cy="129.5" r="2.8"/><circle cx="279.1" cy="107.1" r="2.8"/><circle cx="266.0" cy="116.2" r="2.8"/><circle cx="268.3" cy="132.3" r="2.8"/><circle cx="274.0" cy="113.8" r="2.8"/><circle cx="263.9" cy="109.8" r="2.8"/><circle cx="266.3" cy="118.2" r="2.8"/><circle cx="281.2" cy="127.2" r="2.8"/><circle cx="259.2" cy="127.6" r="2.8"/><circle cx="276.2" cy="131.8" r="2.8"/><circle cx="286.3" cy="124.7" r="2.8"/><circle cx="274.3" cy="93.9" r="2.8"/><circle cx="286.3" cy="121.5" r="2.8"/><circle cx="258.5" cy="134.2" r="2.8"/><circle cx="276.0" cy="121.9" r="2.8"/><circle cx="284.4" cy="131.3" r="2.8"/><circle cx="259.4" cy="107.6" r="2.8"/><circle cx="274.6" cy="98.4" r="2.8"/><circle cx="267.2" cy="136.3" r="2.8"/><circle cx="266.7" cy="110.5" r="2.8"/><circle cx="276.2" cy="100.3" r="2.8"/><circle cx="259.7" cy="126.4" r="2.8"/><circle cx="286.9" cy="123.9" r="2.8"/><circle cx="270.9" cy="124.9" r="2.8"/><circle cx="269.1" cy="96.0" r="2.8"/><circle cx="282.9" cy="133.4" r="2.8"/><circle cx="265.7" cy="127.8" r="2.8"/><circle cx="270.5" cy="123.3" r="2.8"/><circle cx="270.8" cy="131.6" r="2.8"/><circle cx="269.0" cy="124.4" r="2.8"/><circle cx="270.7" cy="109.2" r="2.8"/><circle cx="282.7" cy="103.1" r="2.8"/><circle cx="267.0" cy="102.0" r="2.8"/><circle cx="280.4" cy="119.8" r="2.8"/><circle cx="279.6" cy="102.0" r="2.8"/><circle cx="265.4" cy="124.3" r="2.8"/><circle cx="285.9" cy="107.3" r="2.8"/><circle cx="267.0" cy="133.3" r="2.8"/><circle cx="287.7" cy="102.7" r="2.8"/><circle cx="264.3" cy="97.7" r="2.8"/><circle cx="273.3" cy="131.9" r="2.8"/><circle cx="279.0" cy="95.9" r="2.8"/><circle cx="271.4" cy="116.9" r="2.8"/><circle cx="276.7" cy="105.5" r="2.8"/><circle cx="261.1" cy="95.7" r="2.8"/><circle cx="269.4" cy="126.3" r="2.8"/><circle cx="282.2" cy="97.0" r="2.8"/><circle cx="279.5" cy="98.8" r="2.8"/><circle cx="285.3" cy="114.9" r="2.8"/><circle cx="274.8" cy="133.2" r="2.8"/><circle cx="283.6" cy="120.2" r="2.8"/><circle cx="273.5" cy="125.6" r="2.8"/><circle cx="258.7" cy="118.2" r="2.8"/><circle cx="263.1" cy="130.5" r="2.8"/><circle cx="281.2" cy="132.4" r="2.8"/><circle cx="282.9" cy="127.2" r="2.8"/><circle cx="268.5" cy="135.1" r="2.8"/><circle cx="274.1" cy="101.0" r="2.8"/><circle cx="275.0" cy="99.7" r="2.8"/><circle cx="258.6" cy="114.2" r="2.8"/><circle cx="261.0" cy="117.5" r="2.8"/><circle cx="270.6" cy="96.1" r="2.8"/><circle cx="263.3" cy="101.1" r="2.8"/><circle cx="275.5" cy="126.9" r="2.8"/><circle cx="288.1" cy="108.2" r="2.8"/><circle cx="274.1" cy="97.3" r="2.8"/><circle cx="280.5" cy="134.0" r="2.8"/><circle cx="264.8" cy="134.8" r="2.8"/><circle cx="274.1" cy="132.1" r="2.8"/><circle cx="266.1" cy="132.1" r="2.8"/><circle cx="262.6" cy="94.9" r="2.8"/><circle cx="269.1" cy="135.8" r="2.8"/><circle cx="270.4" cy="137.8" r="2.8"/><circle cx="287.6" cy="110.1" r="2.8"/><circle cx="275.2" cy="112.6" r="2.8"/><circle cx="286.1" cy="105.8" r="2.8"/><circle cx="268.5" cy="96.9" r="2.8"/><circle cx="288.7" cy="131.5" r="2.8"/><circle cx="270.1" cy="118.9" r="2.8"/><circle cx="279.6" cy="135.8" r="2.8"/><circle cx="285.4" cy="126.6" r="2.8"/><circle cx="261.2" cy="128.2" r="2.8"/><circle cx="261.5" cy="96.6" r="2.8"/><circle cx="289.1" cy="132.1" r="2.8"/><circle cx="263.9" cy="126.9" r="2.8"/><circle cx="275.4" cy="112.9" r="2.8"/><circle cx="272.9" cy="132.7" r="2.8"/><circle cx="275.2" cy="123.7" r="2.8"/><circle cx="277.8" cy="123.0" r="2.8"/><circle cx="287.5" cy="130.9" r="2.8"/><circle cx="263.4" cy="123.8" r="2.8"/><circle cx="287.3" cy="122.7" r="2.8"/><circle cx="273.8" cy="106.2" r="2.8"/><circle cx="285.9" cy="136.3" r="2.8"/><circle cx="287.5" cy="126.4" r="2.8"/><circle cx="263.7" cy="133.7" r="2.8"/><circle cx="265.0" cy="118.3" r="2.8"/><circle cx="278.1" cy="123.1" r="2.8"/><circle cx="283.7" cy="109.3" r="2.8"/><circle cx="264.6" cy="131.8" r="2.8"/><circle cx="276.9" cy="138.3" r="2.8"/><circle cx="286.2" cy="121.1" r="2.8"/><circle cx="278.6" cy="95.6" r="2.8"/><circle cx="271.9" cy="102.4" r="2.8"/><circle cx="269.4" cy="134.8" r="2.8"/><circle cx="276.5" cy="123.4" r="2.8"/><circle cx="265.4" cy="131.0" r="2.8"/><circle cx="269.8" cy="125.2" r="2.8"/><circle cx="263.4" cy="125.5" r="2.8"/><circle cx="272.9" cy="114.3" r="2.8"/><circle cx="277.9" cy="98.0" r="2.8"/><circle cx="291.4" cy="98.4" r="2.8"/><circle cx="277.6" cy="122.8" r="2.8"/><circle cx="277.2" cy="118.5" r="2.8"/><circle cx="281.8" cy="131.5" r="2.8"/><circle cx="285.5" cy="104.6" r="2.8"/><circle cx="274.1" cy="95.9" r="2.8"/><circle cx="261.5" cy="113.1" r="2.8"/><circle cx="267.3" cy="131.8" r="2.8"/><circle cx="260.7" cy="114.0" r="2.8"/><circle cx="275.9" cy="131.2" r="2.8"/><circle cx="274.4" cy="97.0" r="2.8"/><circle cx="284.5" cy="127.7" r="2.8"/><circle cx="259.6" cy="138.9" r="2.8"/><circle cx="280.1" cy="99.6" r="2.8"/><circle cx="276.2" cy="99.4" r="2.8"/><circle cx="275.4" cy="138.8" r="2.8"/><circle cx="268.6" cy="120.6" r="2.8"/><circle cx="274.6" cy="110.3" r="2.8"/><circle cx="277.3" cy="129.1" r="2.8"/><circle cx="269.0" cy="135.2" r="2.8"/><circle cx="281.5" cy="121.5" r="2.8"/><circle cx="264.5" cy="94.7" r="2.8"/><circle cx="276.8" cy="131.7" r="2.8"/><circle cx="276.0" cy="107.9" r="2.8"/><circle cx="262.9" cy="126.0" r="2.8"/><circle cx="261.9" cy="128.3" r="2.8"/><circle cx="279.6" cy="136.7" r="2.8"/><circle cx="286.2" cy="130.2" r="2.8"/><circle cx="268.7" cy="107.8" r="2.8"/><circle cx="283.8" cy="120.0" r="2.8"/><circle cx="276.4" cy="110.4" r="2.8"/><circle cx="286.1" cy="130.1" r="2.8"/><circle cx="262.7" cy="103.4" r="2.8"/><circle cx="259.7" cy="101.3" r="2.8"/><circle cx="264.7" cy="119.4" r="2.8"/><circle cx="262.4" cy="111.5" r="2.8"/><circle cx="258.9" cy="97.4" r="2.8"/><circle cx="270.4" cy="100.8" r="2.8"/><circle cx="269.9" cy="99.7" r="2.8"/><circle cx="283.3" cy="124.1" r="2.8"/><circle cx="288.8" cy="137.4" r="2.8"/><circle cx="268.4" cy="128.2" r="2.8"/><circle cx="256.1" cy="117.3" r="2.8"/><circle cx="268.7" cy="98.0" r="2.8"/><circle cx="270.8" cy="112.0" r="2.8"/><circle cx="280.3" cy="126.1" r="2.8"/><circle cx="258.8" cy="133.4" r="2.8"/><circle cx="283.4" cy="136.3" r="2.8"/><circle cx="258.6" cy="111.9" r="2.8"/><circle cx="259.9" cy="113.0" r="2.8"/><circle cx="285.5" cy="94.0" r="2.8"/><circle cx="270.7" cy="127.6" r="2.8"/><circle cx="264.6" cy="112.5" r="2.8"/><circle cx="273.8" cy="106.5" r="2.8"/><circle cx="281.4" cy="104.3" r="2.8"/><circle cx="269.0" cy="116.5" r="2.8"/><circle cx="270.2" cy="119.4" r="2.8"/><circle cx="263.9" cy="119.0" r="2.8"/><circle cx="286.3" cy="133.3" r="2.8"/><circle cx="275.1" cy="97.8" r="2.8"/><circle cx="278.8" cy="112.1" r="2.8"/><circle cx="285.4" cy="96.2" r="2.8"/><circle cx="269.2" cy="120.7" r="2.8"/><circle cx="279.6" cy="111.2" r="2.8"/><circle cx="277.5" cy="119.3" r="2.8"/><circle cx="279.7" cy="125.0" r="2.8"/><circle cx="282.3" cy="114.7" r="2.8"/><circle cx="280.7" cy="108.5" r="2.8"/><circle cx="266.5" cy="107.0" r="2.8"/><circle cx="280.5" cy="126.4" r="2.8"/><circle cx="269.5" cy="96.5" r="2.8"/><circle cx="265.3" cy="105.2" r="2.8"/><circle cx="281.4" cy="94.9" r="2.8"/><circle cx="274.3" cy="114.4" r="2.8"/><circle cx="288.7" cy="130.2" r="2.8"/><circle cx="274.7" cy="93.6" r="2.8"/><circle cx="279.7" cy="96.0" r="2.8"/><circle cx="272.6" cy="105.8" r="2.8"/><circle cx="278.9" cy="106.7" r="2.8"/><circle cx="288.4" cy="122.0" r="2.8"/><circle cx="266.9" cy="98.3" r="2.8"/><circle cx="286.2" cy="110.1" r="2.8"/><circle cx="277.6" cy="98.1" r="2.8"/><circle cx="272.0" cy="105.2" r="2.8"/><circle cx="282.0" cy="133.9" r="2.8"/><circle cx="269.3" cy="115.3" r="2.8"/><circle cx="270.3" cy="130.7" r="2.8"/><circle cx="278.3" cy="122.6" r="2.8"/><circle cx="271.1" cy="124.7" r="2.8"/><circle cx="274.6" cy="132.4" r="2.8"/><circle cx="270.3" cy="109.2" r="2.8"/><circle cx="263.8" cy="109.2" r="2.8"/><circle cx="269.5" cy="108.7" r="2.8"/><circle cx="279.3" cy="132.9" r="2.8"/><circle cx="266.6" cy="101.5" r="2.8"/><circle cx="287.7" cy="135.1" r="2.8"/><circle cx="275.3" cy="119.3" r="2.8"/><circle cx="278.2" cy="135.9" r="2.8"/><circle cx="284.0" cy="121.6" r="2.8"/><circle cx="264.8" cy="122.6" r="2.8"/><circle cx="267.0" cy="107.3" r="2.8"/><circle cx="272.6" cy="138.6" r="2.8"/><circle cx="271.2" cy="124.4" r="2.8"/><circle cx="266.5" cy="137.0" r="2.8"/><circle cx="273.7" cy="124.0" r="2.8"/><circle cx="278.8" cy="95.6" r="2.8"/><circle cx="264.6" cy="114.7" r="2.8"/><circle cx="266.0" cy="94.5" r="2.8"/><circle cx="277.0" cy="121.2" r="2.8"/><circle cx="261.8" cy="134.3" r="2.8"/><circle cx="265.5" cy="94.1" r="2.8"/><circle cx="258.2" cy="94.9" r="2.8"/><circle cx="268.2" cy="134.3" r="2.8"/><circle cx="265.1" cy="115.0" r="2.8"/><circle cx="275.4" cy="122.9" r="2.8"/><circle cx="267.4" cy="138.3" r="2.8"/><circle cx="264.8" cy="98.2" r="2.8"/><circle cx="271.7" cy="94.9" r="2.8"/><circle cx="286.4" cy="130.5" r="2.8"/><circle cx="284.6" cy="94.6" r="2.8"/><circle cx="260.8" cy="122.3" r="2.8"/><circle cx="273.6" cy="117.8" r="2.8"/><circle cx="279.1" cy="115.0" r="2.8"/><circle cx="280.2" cy="131.5" r="2.8"/><circle cx="282.0" cy="94.0" r="2.8"/><circle cx="279.4" cy="99.5" r="2.8"/><circle cx="258.7" cy="117.8" r="2.8"/><circle cx="276.8" cy="125.5" r="2.8"/><circle cx="289.7" cy="117.4" r="2.8"/><circle cx="287.2" cy="127.5" r="2.8"/><circle cx="265.0" cy="101.9" r="2.8"/><circle cx="287.6" cy="125.3" r="2.8"/><circle cx="280.4" cy="113.4" r="2.8"/><circle cx="282.0" cy="100.4" r="2.8"/><circle cx="276.1" cy="108.6" r="2.8"/><circle cx="271.8" cy="120.4" r="2.8"/><circle cx="276.9" cy="102.6" r="2.8"/><circle cx="275.3" cy="127.0" r="2.8"/><circle cx="280.4" cy="120.0" r="2.8"/><circle cx="275.5" cy="118.4" r="2.8"/><circle cx="278.0" cy="130.7" r="2.8"/><circle cx="280.0" cy="106.7" r="2.8"/><circle cx="265.6" cy="123.8" r="2.8"/><circle cx="286.7" cy="116.8" r="2.8"/><circle cx="287.7" cy="110.6" r="2.8"/><circle cx="282.0" cy="128.1" r="2.8"/><circle cx="273.4" cy="100.6" r="2.8"/><circle cx="273.0" cy="111.1" r="2.8"/><circle cx="275.2" cy="104.9" r="2.8"/><circle cx="280.7" cy="131.3" r="2.8"/><circle cx="272.8" cy="106.0" r="2.8"/><circle cx="279.9" cy="104.7" r="2.8"/><circle cx="274.7" cy="136.3" r="2.8"/><circle cx="275.2" cy="113.5" r="2.8"/><circle cx="285.4" cy="118.4" r="2.8"/><circle cx="260.2" cy="105.4" r="2.8"/><circle cx="272.8" cy="111.4" r="2.8"/><circle cx="274.9" cy="107.9" r="2.8"/><circle cx="280.1" cy="134.3" r="2.8"/><circle cx="279.0" cy="103.9" r="2.8"/><circle cx="285.4" cy="112.5" r="2.8"/><circle cx="288.6" cy="107.0" r="2.8"/><circle cx="278.3" cy="107.4" r="2.8"/><circle cx="260.8" cy="108.7" r="2.8"/><circle cx="280.6" cy="118.8" r="2.8"/><circle cx="270.3" cy="119.6" r="2.8"/><circle cx="258.7" cy="110.0" r="2.8"/><circle cx="273.1" cy="128.5" r="2.8"/><circle cx="262.1" cy="125.6" r="2.8"/><circle cx="285.1" cy="126.1" r="2.8"/><circle cx="276.5" cy="116.6" r="2.8"/><circle cx="268.9" cy="132.6" r="2.8"/><circle cx="261.7" cy="113.2" r="2.8"/><circle cx="276.6" cy="138.6" r="2.8"/><circle cx="263.5" cy="116.9" r="2.8"/><circle cx="274.1" cy="112.6" r="2.8"/><circle cx="275.5" cy="138.4" r="2.8"/><circle cx="287.0" cy="98.2" r="2.8"/><circle cx="273.3" cy="104.5" r="2.8"/><circle cx="282.2" cy="106.3" r="2.8"/><circle cx="286.0" cy="95.0" r="2.8"/><circle cx="267.7" cy="117.3" r="2.8"/><circle cx="275.0" cy="118.7" r="2.8"/><circle cx="276.4" cy="104.0" r="2.8"/><circle cx="272.6" cy="111.8" r="2.8"/><circle cx="277.1" cy="120.3" r="2.8"/><circle cx="278.9" cy="123.0" r="2.8"/><circle cx="266.4" cy="99.8" r="2.8"/><circle cx="271.1" cy="118.4" r="2.8"/><circle cx="269.0" cy="126.8" r="2.8"/><circle cx="274.5" cy="110.7" r="2.8"/><circle cx="262.0" cy="103.4" r="2.8"/><circle cx="286.9" cy="134.9" r="2.8"/><circle cx="264.1" cy="138.7" r="2.8"/><circle cx="262.7" cy="104.6" r="2.8"/><circle cx="284.3" cy="104.3" r="2.8"/><circle cx="275.0" cy="112.1" r="2.8"/><circle cx="264.8" cy="105.3" r="2.8"/><circle cx="269.4" cy="94.2" r="2.8"/><circle cx="275.0" cy="136.0" r="2.8"/><circle cx="285.3" cy="99.9" r="2.8"/><circle cx="278.5" cy="131.0" r="2.8"/><circle cx="259.8" cy="135.1" r="2.8"/><circle cx="266.6" cy="99.4" r="2.8"/><circle cx="277.1" cy="125.9" r="2.8"/><circle cx="282.3" cy="112.5" r="2.8"/><circle cx="271.6" cy="101.9" r="2.8"/><circle cx="272.3" cy="128.1" r="2.8"/><circle cx="279.8" cy="102.8" r="2.8"/><circle cx="269.6" cy="110.4" r="2.8"/><circle cx="281.8" cy="105.6" r="2.8"/><circle cx="285.3" cy="113.2" r="2.8"/><circle cx="263.1" cy="100.5" r="2.8"/><circle cx="291.0" cy="119.0" r="2.8"/><circle cx="277.1" cy="125.5" r="2.8"/><circle cx="261.1" cy="112.7" r="2.8"/><circle cx="270.1" cy="105.4" r="2.8"/><circle cx="290.0" cy="131.4" r="2.8"/><circle cx="284.0" cy="99.9" r="2.8"/><circle cx="258.8" cy="107.7" r="2.8"/><circle cx="264.8" cy="117.8" r="2.8"/><circle cx="280.1" cy="105.3" r="2.8"/><circle cx="262.2" cy="133.2" r="2.8"/><circle cx="261.5" cy="119.5" r="2.8"/><circle cx="266.6" cy="125.8" r="2.8"/><circle cx="285.7" cy="104.7" r="2.8"/><circle cx="276.4" cy="135.2" r="2.8"/><circle cx="276.2" cy="103.5" r="2.8"/><circle cx="271.5" cy="107.4" r="2.8"/><circle cx="262.8" cy="98.9" r="2.8"/><circle cx="277.6" cy="118.4" r="2.8"/><circle cx="273.1" cy="133.8" r="2.8"/><circle cx="285.3" cy="128.6" r="2.8"/><circle cx="283.9" cy="135.8" r="2.8"/><circle cx="263.2" cy="118.5" r="2.8"/><circle cx="278.2" cy="115.4" r="2.8"/><circle cx="257.9" cy="117.1" r="2.8"/><circle cx="271.4" cy="110.4" r="2.8"/><circle cx="273.9" cy="118.1" r="2.8"/><circle cx="284.6" cy="126.4" r="2.8"/><circle cx="274.4" cy="119.3" r="2.8"/><circle cx="287.8" cy="128.6" r="2.8"/><circle cx="276.6" cy="96.1" r="2.8"/><circle cx="275.5" cy="124.3" r="2.8"/><circle cx="259.6" cy="135.5" r="2.8"/><circle cx="270.5" cy="117.9" r="2.8"/><circle cx="271.1" cy="111.5" r="2.8"/><circle cx="286.5" cy="119.3" r="2.8"/><circle cx="264.2" cy="105.1" r="2.8"/><circle cx="285.3" cy="125.4" r="2.8"/><circle cx="276.7" cy="110.1" r="2.8"/><circle cx="278.5" cy="108.9" r="2.8"/><circle cx="283.6" cy="93.6" r="2.8"/><circle cx="265.1" cy="133.0" r="2.8"/><circle cx="266.7" cy="112.9" r="2.8"/><circle cx="291.8" cy="97.6" r="2.8"/><circle cx="285.9" cy="96.1" r="2.8"/><circle cx="287.8" cy="135.1" r="2.8"/><circle cx="282.1" cy="134.6" r="2.8"/><circle cx="270.3" cy="135.3" r="2.8"/><circle cx="286.7" cy="128.6" r="2.8"/><circle cx="263.4" cy="113.2" r="2.8"/><circle cx="271.5" cy="106.0" r="2.8"/><circle cx="277.0" cy="105.4" r="2.8"/><circle cx="261.9" cy="107.2" r="2.8"/><circle cx="264.2" cy="131.2" r="2.8"/><circle cx="287.2" cy="137.3" r="2.8"/><circle cx="286.4" cy="113.5" r="2.8"/><circle cx="272.9" cy="130.8" r="2.8"/><circle cx="264.2" cy="101.8" r="2.8"/><circle cx="264.9" cy="119.5" r="2.8"/><circle cx="258.3" cy="133.4" r="2.8"/><circle cx="259.1" cy="93.9" r="2.8"/><circle cx="272.8" cy="118.9" r="2.8"/><circle cx="350.1" cy="132.5" r="2.8"/><circle cx="369.2" cy="127.8" r="2.8"/><circle cx="347.1" cy="130.9" r="2.8"/><circle cx="357.4" cy="125.3" r="2.8"/><circle cx="362.5" cy="106.8" r="2.8"/><circle cx="373.3" cy="124.1" r="2.8"/><circle cx="363.9" cy="127.5" r="2.8"/><circle cx="367.7" cy="123.1" r="2.8"/><circle cx="342.4" cy="124.2" r="2.8"/><circle cx="349.0" cy="128.1" r="2.8"/><circle cx="355.7" cy="112.2" r="2.8"/><circle cx="361.3" cy="134.1" r="2.8"/><circle cx="361.5" cy="103.5" r="2.8"/><circle cx="353.1" cy="105.6" r="2.8"/><circle cx="369.7" cy="113.6" r="2.8"/><circle cx="353.7" cy="94.6" r="2.8"/><circle cx="373.2" cy="95.4" r="2.8"/><circle cx="369.5" cy="135.0" r="2.8"/><circle cx="360.4" cy="137.4" r="2.8"/><circle cx="358.0" cy="128.6" r="2.8"/><circle cx="362.6" cy="128.1" r="2.8"/><circle cx="356.7" cy="136.9" r="2.8"/><circle cx="355.8" cy="114.9" r="2.8"/><circle cx="365.4" cy="121.4" r="2.8"/><circle cx="347.7" cy="105.2" r="2.8"/><circle cx="342.6" cy="108.0" r="2.8"/><circle cx="352.7" cy="136.4" r="2.8"/><circle cx="347.7" cy="124.1" r="2.8"/><circle cx="343.1" cy="118.5" r="2.8"/><circle cx="351.3" cy="139.2" r="2.8"/><circle cx="363.2" cy="105.1" r="2.8"/><circle cx="372.7" cy="103.0" r="2.8"/><circle cx="350.4" cy="99.6" r="2.8"/><circle cx="363.3" cy="130.0" r="2.8"/><circle cx="370.0" cy="105.9" r="2.8"/><circle cx="376.2" cy="109.4" r="2.8"/><circle cx="361.0" cy="124.1" r="2.8"/><circle cx="365.4" cy="129.4" r="2.8"/><circle cx="370.1" cy="111.9" r="2.8"/><circle cx="343.9" cy="125.6" r="2.8"/><circle cx="349.2" cy="124.9" r="2.8"/><circle cx="365.5" cy="95.8" r="2.8"/><circle cx="355.0" cy="106.4" r="2.8"/><circle cx="371.7" cy="129.0" r="2.8"/><circle cx="368.1" cy="122.7" r="2.8"/><circle cx="347.6" cy="138.1" r="2.8"/><circle cx="372.7" cy="97.7" r="2.8"/><circle cx="358.4" cy="108.8" r="2.8"/><circle cx="358.9" cy="95.2" r="2.8"/><circle cx="350.8" cy="94.9" r="2.8"/><circle cx="362.5" cy="132.6" r="2.8"/><circle cx="373.0" cy="124.5" r="2.8"/><circle cx="370.1" cy="127.2" r="2.8"/><circle cx="363.0" cy="122.3" r="2.8"/><circle cx="347.8" cy="131.8" r="2.8"/><circle cx="346.0" cy="96.9" r="2.8"/><circle cx="366.6" cy="131.4" r="2.8"/><circle cx="358.6" cy="137.6" r="2.8"/><circle cx="367.0" cy="102.8" r="2.8"/><circle cx="351.8" cy="109.6" r="2.8"/><circle cx="367.2" cy="105.9" r="2.8"/><circle cx="364.7" cy="107.2" r="2.8"/><circle cx="347.1" cy="133.5" r="2.8"/><circle cx="351.7" cy="103.7" r="2.8"/><circle cx="357.5" cy="132.5" r="2.8"/><circle cx="360.8" cy="93.7" r="2.8"/><circle cx="346.3" cy="106.1" r="2.8"/><circle cx="363.5" cy="103.8" r="2.8"/><circle cx="355.5" cy="104.2" r="2.8"/><circle cx="359.1" cy="98.6" r="2.8"/><circle cx="365.3" cy="133.2" r="2.8"/><circle cx="348.6" cy="131.1" r="2.8"/><circle cx="346.8" cy="122.3" r="2.8"/><circle cx="345.1" cy="104.9" r="2.8"/><circle cx="359.6" cy="112.4" r="2.8"/><circle cx="370.2" cy="133.5" r="2.8"/><circle cx="360.5" cy="133.8" r="2.8"/><circle cx="348.6" cy="103.0" r="2.8"/><circle cx="342.4" cy="103.4" r="2.8"/><circle cx="359.6" cy="132.5" r="2.8"/><circle cx="355.2" cy="94.6" r="2.8"/><circle cx="364.0" cy="111.6" r="2.8"/><circle cx="346.4" cy="119.1" r="2.8"/><circle cx="359.4" cy="99.0" r="2.8"/><circle cx="350.1" cy="104.3" r="2.8"/><circle cx="350.0" cy="117.1" r="2.8"/><circle cx="367.5" cy="99.2" r="2.8"/><circle cx="367.5" cy="100.2" r="2.8"/><circle cx="371.3" cy="121.1" r="2.8"/><circle cx="356.3" cy="131.2" r="2.8"/><circle cx="356.0" cy="108.0" r="2.8"/><circle cx="348.4" cy="134.1" r="2.8"/><circle cx="345.8" cy="136.5" r="2.8"/><circle cx="344.7" cy="102.0" r="2.8"/><circle cx="367.1" cy="140.7" r="2.8"/><circle cx="348.8" cy="115.4" r="2.8"/><circle cx="354.6" cy="136.5" r="2.8"/><circle cx="354.6" cy="129.4" r="2.8"/><circle cx="355.2" cy="141.7" r="2.8"/><circle cx="348.1" cy="133.4" r="2.8"/><circle cx="349.8" cy="116.6" r="2.8"/><circle cx="361.6" cy="130.8" r="2.8"/><circle cx="366.6" cy="108.1" r="2.8"/><circle cx="353.8" cy="130.9" r="2.8"/><circle cx="354.4" cy="117.7" r="2.8"/><circle cx="361.8" cy="131.4" r="2.8"/><circle cx="368.7" cy="101.7" r="2.8"/><circle cx="354.4" cy="94.4" r="2.8"/><circle cx="369.9" cy="127.3" r="2.8"/><circle cx="345.5" cy="106.6" r="2.8"/><circle cx="372.3" cy="109.4" r="2.8"/><circle cx="343.4" cy="121.3" r="2.8"/><circle cx="366.2" cy="137.6" r="2.8"/><circle cx="346.0" cy="103.4" r="2.8"/><circle cx="359.9" cy="119.3" r="2.8"/><circle cx="345.8" cy="128.0" r="2.8"/><circle cx="355.9" cy="118.4" r="2.8"/><circle cx="345.5" cy="111.3" r="2.8"/><circle cx="343.9" cy="128.6" r="2.8"/><circle cx="352.3" cy="126.7" r="2.8"/><circle cx="356.2" cy="137.6" r="2.8"/><circle cx="373.0" cy="106.1" r="2.8"/><circle cx="357.1" cy="113.1" r="2.8"/><circle cx="350.3" cy="99.5" r="2.8"/><circle cx="354.3" cy="104.8" r="2.8"/><circle cx="369.1" cy="124.6" r="2.8"/><circle cx="344.5" cy="101.0" r="2.8"/><circle cx="370.2" cy="112.6" r="2.8"/><circle cx="363.1" cy="124.2" r="2.8"/><circle cx="370.2" cy="118.7" r="2.8"/><circle cx="351.1" cy="140.3" r="2.8"/><circle cx="354.0" cy="136.2" r="2.8"/><circle cx="354.8" cy="136.4" r="2.8"/><circle cx="346.9" cy="139.3" r="2.8"/><circle cx="355.0" cy="101.8" r="2.8"/><circle cx="342.7" cy="112.0" r="2.8"/><circle cx="343.3" cy="110.0" r="2.8"/><circle cx="346.6" cy="116.8" r="2.8"/><circle cx="342.3" cy="135.0" r="2.8"/><circle cx="368.6" cy="96.4" r="2.8"/><circle cx="365.9" cy="109.5" r="2.8"/><circle cx="345.7" cy="119.5" r="2.8"/><circle cx="364.3" cy="120.3" r="2.8"/><circle cx="368.2" cy="137.1" r="2.8"/><circle cx="352.6" cy="109.0" r="2.8"/><circle cx="343.9" cy="132.5" r="2.8"/><circle cx="342.1" cy="116.4" r="2.8"/><circle cx="356.0" cy="96.0" r="2.8"/><circle cx="370.4" cy="93.5" r="2.8"/><circle cx="341.7" cy="119.8" r="2.8"/><circle cx="354.7" cy="119.7" r="2.8"/><circle cx="366.9" cy="95.9" r="2.8"/><circle cx="346.8" cy="125.5" r="2.8"/><circle cx="350.2" cy="124.4" r="2.8"/><circle cx="352.3" cy="105.5" r="2.8"/><circle cx="356.4" cy="102.3" r="2.8"/><circle cx="349.2" cy="138.3" r="2.8"/><circle cx="348.8" cy="100.4" r="2.8"/><circle cx="362.8" cy="113.7" r="2.8"/><circle cx="355.0" cy="105.1" r="2.8"/><circle cx="344.5" cy="101.7" r="2.8"/><circle cx="366.3" cy="93.7" r="2.8"/><circle cx="360.4" cy="136.4" r="2.8"/><circle cx="355.3" cy="108.3" r="2.8"/><circle cx="346.6" cy="109.0" r="2.8"/><circle cx="352.2" cy="100.4" r="2.8"/><circle cx="360.6" cy="98.5" r="2.8"/><circle cx="365.3" cy="127.0" r="2.8"/><circle cx="348.4" cy="131.2" r="2.8"/><circle cx="366.7" cy="95.6" r="2.8"/><circle cx="344.3" cy="111.3" r="2.8"/><circle cx="342.3" cy="102.2" r="2.8"/><circle cx="348.8" cy="134.3" r="2.8"/><circle cx="360.7" cy="136.3" r="2.8"/><circle cx="355.2" cy="138.7" r="2.8"/><circle cx="360.3" cy="139.7" r="2.8"/><circle cx="358.0" cy="138.3" r="2.8"/><circle cx="360.1" cy="94.5" r="2.8"/><circle cx="363.3" cy="119.7" r="2.8"/><circle cx="347.3" cy="140.4" r="2.8"/><circle cx="356.0" cy="106.6" r="2.8"/><circle cx="357.0" cy="138.9" r="2.8"/><circle cx="363.7" cy="133.3" r="2.8"/><circle cx="371.5" cy="104.7" r="2.8"/><circle cx="353.0" cy="123.1" r="2.8"/><circle cx="370.9" cy="103.0" r="2.8"/><circle cx="360.7" cy="121.1" r="2.8"/><circle cx="349.5" cy="126.8" r="2.8"/><circle cx="367.5" cy="114.7" r="2.8"/><circle cx="349.5" cy="136.1" r="2.8"/><circle cx="366.5" cy="120.1" r="2.8"/><circle cx="349.8" cy="105.1" r="2.8"/><circle cx="361.4" cy="132.3" r="2.8"/><circle cx="366.4" cy="100.3" r="2.8"/><circle cx="360.3" cy="110.1" r="2.8"/><circle cx="350.3" cy="123.2" r="2.8"/><circle cx="367.6" cy="110.3" r="2.8"/><circle cx="357.7" cy="111.9" r="2.8"/><circle cx="350.5" cy="120.0" r="2.8"/><circle cx="361.6" cy="125.9" r="2.8"/><circle cx="347.6" cy="106.0" r="2.8"/><circle cx="355.3" cy="112.2" r="2.8"/><circle cx="346.2" cy="137.7" r="2.8"/><circle cx="350.5" cy="111.7" r="2.8"/><circle cx="347.1" cy="121.3" r="2.8"/><circle cx="350.2" cy="106.8" r="2.8"/><circle cx="366.0" cy="109.1" r="2.8"/><circle cx="349.7" cy="94.2" r="2.8"/><circle cx="359.6" cy="139.7" r="2.8"/><circle cx="355.1" cy="131.4" r="2.8"/><circle cx="358.2" cy="125.0" r="2.8"/><circle cx="365.3" cy="107.4" r="2.8"/><circle cx="353.0" cy="112.6" r="2.8"/><circle cx="370.1" cy="135.7" r="2.8"/><circle cx="363.1" cy="139.7" r="2.8"/><circle cx="352.5" cy="103.6" r="2.8"/><circle cx="351.5" cy="139.2" r="2.8"/><circle cx="351.4" cy="138.3" r="2.8"/><circle cx="367.9" cy="130.1" r="2.8"/><circle cx="343.6" cy="96.7" r="2.8"/><circle cx="369.1" cy="109.7" r="2.8"/><circle cx="349.9" cy="115.1" r="2.8"/><circle cx="356.1" cy="109.9" r="2.8"/><circle cx="358.2" cy="139.4" r="2.8"/><circle cx="355.7" cy="138.5" r="2.8"/><circle cx="343.7" cy="133.8" r="2.8"/><circle cx="365.3" cy="103.4" r="2.8"/><circle cx="369.4" cy="127.9" r="2.8"/><circle cx="344.1" cy="131.8" r="2.8"/><circle cx="361.5" cy="140.8" r="2.8"/><circle cx="362.7" cy="96.8" r="2.8"/><circle cx="346.4" cy="101.8" r="2.8"/><circle cx="359.0" cy="97.9" r="2.8"/><circle cx="352.9" cy="134.4" r="2.8"/><circle cx="346.9" cy="97.0" r="2.8"/><circle cx="350.6" cy="109.5" r="2.8"/><circle cx="363.5" cy="122.8" r="2.8"/><circle cx="368.4" cy="140.4" r="2.8"/><circle cx="362.6" cy="110.1" r="2.8"/><circle cx="347.9" cy="134.6" r="2.8"/><circle cx="357.8" cy="117.7" r="2.8"/><circle cx="355.3" cy="141.3" r="2.8"/><circle cx="360.4" cy="103.3" r="2.8"/><circle cx="359.5" cy="139.3" r="2.8"/><circle cx="348.0" cy="127.3" r="2.8"/><circle cx="347.3" cy="140.2" r="2.8"/><circle cx="360.9" cy="137.8" r="2.8"/><circle cx="345.8" cy="131.6" r="2.8"/><circle cx="354.9" cy="99.3" r="2.8"/><circle cx="354.6" cy="125.3" r="2.8"/><circle cx="354.7" cy="114.2" r="2.8"/><circle cx="341.8" cy="112.0" r="2.8"/><circle cx="361.3" cy="105.9" r="2.8"/><circle cx="347.6" cy="114.8" r="2.8"/><circle cx="346.0" cy="105.2" r="2.8"/><circle cx="358.7" cy="121.9" r="2.8"/><circle cx="355.0" cy="117.3" r="2.8"/><circle cx="362.7" cy="114.3" r="2.8"/><circle cx="372.1" cy="115.5" r="2.8"/><circle cx="342.0" cy="100.1" r="2.8"/><circle cx="342.0" cy="115.8" r="2.8"/><circle cx="356.8" cy="100.8" r="2.8"/><circle cx="352.0" cy="108.2" r="2.8"/><circle cx="360.8" cy="110.3" r="2.8"/><circle cx="364.3" cy="104.1" r="2.8"/><circle cx="362.0" cy="94.2" r="2.8"/><circle cx="353.4" cy="136.7" r="2.8"/><circle cx="359.9" cy="134.0" r="2.8"/><circle cx="371.2" cy="130.0" r="2.8"/><circle cx="372.1" cy="95.9" r="2.8"/><circle cx="367.1" cy="110.8" r="2.8"/><circle cx="342.1" cy="101.6" r="2.8"/><circle cx="359.2" cy="95.3" r="2.8"/><circle cx="365.9" cy="99.3" r="2.8"/><circle cx="356.4" cy="118.0" r="2.8"/><circle cx="364.2" cy="105.4" r="2.8"/><circle cx="351.5" cy="121.2" r="2.8"/><circle cx="346.9" cy="139.5" r="2.8"/><circle cx="366.4" cy="125.7" r="2.8"/><circle cx="371.8" cy="134.4" r="2.8"/><circle cx="362.3" cy="115.6" r="2.8"/><circle cx="363.2" cy="123.3" r="2.8"/><circle cx="363.5" cy="136.6" r="2.8"/><circle cx="353.4" cy="101.1" r="2.8"/><circle cx="353.6" cy="108.0" r="2.8"/><circle cx="365.5" cy="140.0" r="2.8"/><circle cx="356.3" cy="124.8" r="2.8"/><circle cx="350.8" cy="99.1" r="2.8"/><circle cx="353.6" cy="98.3" r="2.8"/><circle cx="361.4" cy="138.6" r="2.8"/><circle cx="352.0" cy="106.2" r="2.8"/><circle cx="357.5" cy="95.2" r="2.8"/><circle cx="356.5" cy="112.4" r="2.8"/><circle cx="358.3" cy="100.3" r="2.8"/><circle cx="348.2" cy="126.7" r="2.8"/><circle cx="353.7" cy="99.5" r="2.8"/><circle cx="352.5" cy="132.0" r="2.8"/><circle cx="342.8" cy="129.5" r="2.8"/><circle cx="355.0" cy="140.5" r="2.8"/><circle cx="366.8" cy="115.7" r="2.8"/><circle cx="363.6" cy="136.3" r="2.8"/><circle cx="362.3" cy="112.8" r="2.8"/><circle cx="373.1" cy="125.8" r="2.8"/><circle cx="365.3" cy="131.9" r="2.8"/><circle cx="358.0" cy="107.7" r="2.8"/><circle cx="368.9" cy="97.1" r="2.8"/><circle cx="348.4" cy="121.4" r="2.8"/><circle cx="370.5" cy="120.5" r="2.8"/><circle cx="355.9" cy="101.8" r="2.8"/><circle cx="353.9" cy="111.7" r="2.8"/><circle cx="351.8" cy="119.7" r="2.8"/><circle cx="355.6" cy="118.9" r="2.8"/><circle cx="342.7" cy="116.8" r="2.8"/><circle cx="345.3" cy="118.5" r="2.8"/><circle cx="349.8" cy="116.4" r="2.8"/><circle cx="343.2" cy="124.0" r="2.8"/><circle cx="368.1" cy="118.9" r="2.8"/><circle cx="352.6" cy="120.4" r="2.8"/><circle cx="358.5" cy="128.2" r="2.8"/><circle cx="357.0" cy="104.5" r="2.8"/><circle cx="357.7" cy="129.9" r="2.8"/><circle cx="354.9" cy="141.2" r="2.8"/><circle cx="349.0" cy="106.3" r="2.8"/><circle cx="345.3" cy="113.7" r="2.8"/><circle cx="358.1" cy="122.7" r="2.8"/><circle cx="353.0" cy="103.4" r="2.8"/><circle cx="367.7" cy="99.8" r="2.8"/><circle cx="366.1" cy="106.1" r="2.8"/><circle cx="352.6" cy="110.2" r="2.8"/><circle cx="359.5" cy="122.5" r="2.8"/><circle cx="345.9" cy="119.8" r="2.8"/><circle cx="356.2" cy="122.6" r="2.8"/><circle cx="372.6" cy="120.4" r="2.8"/><circle cx="361.1" cy="104.2" r="2.8"/><circle cx="360.1" cy="109.6" r="2.8"/><circle cx="354.9" cy="109.1" r="2.8"/><circle cx="357.4" cy="108.5" r="2.8"/><circle cx="363.1" cy="119.0" r="2.8"/><circle cx="355.1" cy="115.0" r="2.8"/><circle cx="368.1" cy="126.3" r="2.8"/><circle cx="342.5" cy="94.9" r="2.8"/><circle cx="368.5" cy="139.5" r="2.8"/><circle cx="370.4" cy="141.3" r="2.8"/><circle cx="359.7" cy="94.5" r="2.8"/><circle cx="350.0" cy="136.5" r="2.8"/><circle cx="346.7" cy="117.5" r="2.8"/><circle cx="358.4" cy="97.2" r="2.8"/><circle cx="344.1" cy="102.6" r="2.8"/><circle cx="363.2" cy="108.1" r="2.8"/><circle cx="365.5" cy="100.0" r="2.8"/><circle cx="375.6" cy="103.7" r="2.8"/><circle cx="347.4" cy="107.1" r="2.8"/><circle cx="356.8" cy="96.9" r="2.8"/><circle cx="352.7" cy="100.2" r="2.8"/><circle cx="355.5" cy="138.8" r="2.8"/><circle cx="367.6" cy="109.3" r="2.8"/><circle cx="371.0" cy="112.3" r="2.8"/><circle cx="358.3" cy="125.3" r="2.8"/><circle cx="363.9" cy="124.4" r="2.8"/><circle cx="362.0" cy="136.8" r="2.8"/><circle cx="342.0" cy="115.7" r="2.8"/><circle cx="344.5" cy="104.1" r="2.8"/><circle cx="364.1" cy="96.1" r="2.8"/><circle cx="360.3" cy="141.6" r="2.8"/><circle cx="368.9" cy="134.5" r="2.8"/><circle cx="358.4" cy="105.0" r="2.8"/><circle cx="364.8" cy="104.3" r="2.8"/><circle cx="352.8" cy="131.6" r="2.8"/><circle cx="356.6" cy="125.1" r="2.8"/><circle cx="370.9" cy="121.8" r="2.8"/><circle cx="349.0" cy="120.9" r="2.8"/><circle cx="357.0" cy="94.9" r="2.8"/><circle cx="345.3" cy="94.1" r="2.8"/><circle cx="358.8" cy="106.4" r="2.8"/><circle cx="360.4" cy="137.7" r="2.8"/><circle cx="351.1" cy="117.0" r="2.8"/><circle cx="359.8" cy="119.3" r="2.8"/><circle cx="353.6" cy="96.7" r="2.8"/><circle cx="354.2" cy="120.9" r="2.8"/><circle cx="344.4" cy="136.5" r="2.8"/><circle cx="355.9" cy="115.4" r="2.8"/><circle cx="365.1" cy="111.5" r="2.8"/><circle cx="352.0" cy="121.8" r="2.8"/><circle cx="355.7" cy="125.1" r="2.8"/><circle cx="361.6" cy="111.8" r="2.8"/><circle cx="362.4" cy="135.9" r="2.8"/><circle cx="362.5" cy="119.2" r="2.8"/><circle cx="341.9" cy="125.5" r="2.8"/><circle cx="361.7" cy="111.0" r="2.8"/><circle cx="353.3" cy="138.3" r="2.8"/><circle cx="369.9" cy="131.9" r="2.8"/><circle cx="363.7" cy="117.1" r="2.8"/><circle cx="351.5" cy="119.7" r="2.8"/><circle cx="360.6" cy="99.3" r="2.8"/><circle cx="373.5" cy="104.4" r="2.8"/><circle cx="353.3" cy="119.1" r="2.8"/><circle cx="345.9" cy="104.4" r="2.8"/><circle cx="355.1" cy="140.7" r="2.8"/><circle cx="360.6" cy="140.6" r="2.8"/><circle cx="350.2" cy="98.1" r="2.8"/><circle cx="341.9" cy="114.8" r="2.8"/><circle cx="369.8" cy="121.3" r="2.8"/><circle cx="350.3" cy="104.3" r="2.8"/><circle cx="370.1" cy="128.0" r="2.8"/><circle cx="350.0" cy="121.3" r="2.8"/><circle cx="351.2" cy="104.8" r="2.8"/><circle cx="367.0" cy="108.8" r="2.8"/><circle cx="363.8" cy="118.0" r="2.8"/><circle cx="358.0" cy="103.5" r="2.8"/><circle cx="356.2" cy="101.7" r="2.8"/><circle cx="345.8" cy="100.8" r="2.8"/><circle cx="360.9" cy="108.7" r="2.8"/><circle cx="365.7" cy="111.6" r="2.8"/><circle cx="369.4" cy="97.1" r="2.8"/><circle cx="347.5" cy="109.3" r="2.8"/><circle cx="347.4" cy="129.4" r="2.8"/><circle cx="351.7" cy="115.8" r="2.8"/><circle cx="367.0" cy="109.9" r="2.8"/><circle cx="365.1" cy="97.9" r="2.8"/><circle cx="365.1" cy="95.1" r="2.8"/><circle cx="359.5" cy="123.2" r="2.8"/><circle cx="362.6" cy="134.2" r="2.8"/><circle cx="358.6" cy="94.2" r="2.8"/><circle cx="368.5" cy="122.3" r="2.8"/><circle cx="346.2" cy="134.3" r="2.8"/><circle cx="360.6" cy="118.3" r="2.8"/><circle cx="363.2" cy="95.3" r="2.8"/><circle cx="358.7" cy="101.5" r="2.8"/><circle cx="363.1" cy="108.0" r="2.8"/><circle cx="346.1" cy="137.2" r="2.8"/><circle cx="359.1" cy="109.6" r="2.8"/><circle cx="368.9" cy="113.8" r="2.8"/><circle cx="356.7" cy="141.3" r="2.8"/><circle cx="344.0" cy="135.0" r="2.8"/><circle cx="366.1" cy="104.3" r="2.8"/><circle cx="358.8" cy="129.0" r="2.8"/><circle cx="352.1" cy="96.2" r="2.8"/><circle cx="351.0" cy="135.5" r="2.8"/><circle cx="356.2" cy="119.5" r="2.8"/><circle cx="348.0" cy="114.8" r="2.8"/><circle cx="373.2" cy="132.0" r="2.8"/><circle cx="350.9" cy="100.7" r="2.8"/><circle cx="369.4" cy="99.6" r="2.8"/><circle cx="355.4" cy="102.0" r="2.8"/><circle cx="359.3" cy="141.2" r="2.8"/><circle cx="345.4" cy="116.9" r="2.8"/><circle cx="368.1" cy="106.4" r="2.8"/><circle cx="343.6" cy="117.6" r="2.8"/><circle cx="373.4" cy="114.1" r="2.8"/><circle cx="341.0" cy="96.6" r="2.8"/><circle cx="361.3" cy="95.8" r="2.8"/><circle cx="356.4" cy="124.1" r="2.8"/><circle cx="354.3" cy="113.9" r="2.8"/><circle cx="369.3" cy="96.6" r="2.8"/><circle cx="354.4" cy="140.4" r="2.8"/><circle cx="365.2" cy="118.3" r="2.8"/><circle cx="353.7" cy="126.9" r="2.8"/><circle cx="373.7" cy="99.4" r="2.8"/><circle cx="359.1" cy="96.6" r="2.8"/><circle cx="364.4" cy="102.8" r="2.8"/><circle cx="364.9" cy="138.8" r="2.8"/><circle cx="356.4" cy="114.3" r="2.8"/><circle cx="364.0" cy="138.8" r="2.8"/><circle cx="368.0" cy="119.7" r="2.8"/><circle cx="368.8" cy="116.5" r="2.8"/><circle cx="356.9" cy="98.7" r="2.8"/><circle cx="360.2" cy="101.6" r="2.8"/><circle cx="368.6" cy="101.1" r="2.8"/><circle cx="372.3" cy="96.0" r="2.8"/><circle cx="371.2" cy="119.3" r="2.8"/><circle cx="344.4" cy="104.5" r="2.8"/><circle cx="351.4" cy="105.6" r="2.8"/><circle cx="348.5" cy="128.3" r="2.8"/><circle cx="373.3" cy="135.9" r="2.8"/><circle cx="356.7" cy="136.2" r="2.8"/><circle cx="352.8" cy="133.6" r="2.8"/><circle cx="344.8" cy="98.2" r="2.8"/><circle cx="358.9" cy="104.1" r="2.8"/><circle cx="345.3" cy="111.3" r="2.8"/><circle cx="355.7" cy="100.8" r="2.8"/><circle cx="364.3" cy="106.1" r="2.8"/><circle cx="351.7" cy="109.1" r="2.8"/><circle cx="346.5" cy="120.0" r="2.8"/><circle cx="346.2" cy="134.3" r="2.8"/><circle cx="349.1" cy="131.1" r="2.8"/><circle cx="343.8" cy="129.7" r="2.8"/><circle cx="356.8" cy="114.1" r="2.8"/><circle cx="366.6" cy="108.1" r="2.8"/><circle cx="345.1" cy="109.1" r="2.8"/><circle cx="357.9" cy="122.1" r="2.8"/><circle cx="364.4" cy="135.4" r="2.8"/><circle cx="355.2" cy="141.5" r="2.8"/><circle cx="348.4" cy="103.0" r="2.8"/><circle cx="356.8" cy="107.7" r="2.8"/><circle cx="349.7" cy="123.2" r="2.8"/><circle cx="436.2" cy="95.6" r="2.8"/><circle cx="437.1" cy="99.4" r="2.8"/><circle cx="453.6" cy="95.0" r="2.8"/><circle cx="440.1" cy="95.9" r="2.8"/><circle cx="433.8" cy="96.5" r="2.8"/><circle cx="435.2" cy="96.9" r="2.8"/><circle cx="440.3" cy="94.7" r="2.8"/><circle cx="444.0" cy="96.6" r="2.8"/><circle cx="431.9" cy="94.4" r="2.8"/><circle cx="444.3" cy="98.7" r="2.8"/><circle cx="445.5" cy="95.5" r="2.8"/><circle cx="442.8" cy="96.2" r="2.8"/><circle cx="442.3" cy="95.0" r="2.8"/><circle cx="445.0" cy="96.4" r="2.8"/><circle cx="434.2" cy="100.0" r="2.8"/><circle cx="439.3" cy="99.2" r="2.8"/><circle cx="439.1" cy="94.4" r="2.8"/><circle cx="444.2" cy="94.0" r="2.8"/><circle cx="444.4" cy="96.1" r="2.8"/><circle cx="441.4" cy="98.0" r="2.8"/><circle cx="449.6" cy="96.2" r="2.8"/><circle cx="434.7" cy="93.8" r="2.8"/><circle cx="446.8" cy="97.4" r="2.8"/><circle cx="445.4" cy="97.2" r="2.8"/><circle cx="440.8" cy="94.0" r="2.8"/><circle cx="446.9" cy="94.3" r="2.8"/><circle cx="438.8" cy="97.5" r="2.8"/><circle cx="432.6" cy="96.1" r="2.8"/><circle cx="439.0" cy="98.7" r="2.8"/><circle cx="441.2" cy="93.8" r="2.8"/><circle cx="438.5" cy="99.9" r="2.8"/><circle cx="437.3" cy="99.8" r="2.8"/><circle cx="435.3" cy="99.9" r="2.8"/><circle cx="430.5" cy="98.7" r="2.8"/><circle cx="446.8" cy="95.9" r="2.8"/><circle cx="439.5" cy="99.8" r="2.8"/><circle cx="453.5" cy="96.0" r="2.8"/><circle cx="430.6" cy="99.7" r="2.8"/><circle cx="447.4" cy="95.5" r="2.8"/><circle cx="451.2" cy="99.2" r="2.8"/><circle cx="438.9" cy="95.0" r="2.8"/><circle cx="450.7" cy="96.4" r="2.8"/><circle cx="435.5" cy="98.4" r="2.8"/><circle cx="444.9" cy="95.3" r="2.8"/><circle cx="443.2" cy="98.5" r="2.8"/><circle cx="438.8" cy="94.0" r="2.8"/><circle cx="446.3" cy="99.7" r="2.8"/><circle cx="438.8" cy="98.9" r="2.8"/><circle cx="445.8" cy="98.5" r="2.8"/><circle cx="449.6" cy="99.7" r="2.8"/><circle cx="449.3" cy="97.7" r="2.8"/><circle cx="441.2" cy="94.0" r="2.8"/><circle cx="447.6" cy="98.8" r="2.8"/><circle cx="440.7" cy="94.1" r="2.8"/><circle cx="449.2" cy="98.1" r="2.8"/><circle cx="441.9" cy="98.0" r="2.8"/><circle cx="441.3" cy="96.0" r="2.8"/><circle cx="435.9" cy="95.5" r="2.8"/><circle cx="439.9" cy="95.1" r="2.8"/><circle cx="437.7" cy="96.2" r="2.8"/><circle cx="451.2" cy="99.7" r="2.8"/><circle cx="435.6" cy="93.9" r="2.8"/><circle cx="453.8" cy="93.7" r="2.8"/><circle cx="438.6" cy="99.5" r="2.8"/><circle cx="440.1" cy="95.0" r="2.8"/><circle cx="438.0" cy="99.1" r="2.8"/><circle cx="435.2" cy="97.5" r="2.8"/><circle cx="444.4" cy="99.1" r="2.8"/><circle cx="449.6" cy="96.1" r="2.8"/><circle cx="451.4" cy="98.3" r="2.8"/><circle cx="435.4" cy="98.7" r="2.8"/><circle cx="442.5" cy="98.2" r="2.8"/><circle cx="445.1" cy="97.0" r="2.8"/><circle cx="443.7" cy="98.8" r="2.8"/><circle cx="440.1" cy="95.0" r="2.8"/><circle cx="437.5" cy="98.3" r="2.8"/><circle cx="435.9" cy="98.5" r="2.8"/><circle cx="434.6" cy="95.2" r="2.8"/><circle cx="432.4" cy="95.7" r="2.8"/><circle cx="437.7" cy="95.5" r="2.8"/><circle cx="448.1" cy="96.8" r="2.8"/><circle cx="433.4" cy="99.0" r="2.8"/><circle cx="442.0" cy="94.1" r="2.8"/><circle cx="434.2" cy="99.4" r="2.8"/><circle cx="447.4" cy="94.1" r="2.8"/><circle cx="432.3" cy="94.1" r="2.8"/><circle cx="444.8" cy="94.9" r="2.8"/><circle cx="435.6" cy="99.6" r="2.8"/><circle cx="431.2" cy="93.9" r="2.8"/><circle cx="442.3" cy="93.5" r="2.8"/><circle cx="432.5" cy="96.5" r="2.8"/><circle cx="433.7" cy="96.7" r="2.8"/><circle cx="441.5" cy="98.1" r="2.8"/><circle cx="440.0" cy="95.7" r="2.8"/><circle cx="431.1" cy="95.3" r="2.8"/><circle cx="437.5" cy="99.2" r="2.8"/><circle cx="445.6" cy="99.9" r="2.8"/><circle cx="430.5" cy="94.8" r="2.8"/><circle cx="437.5" cy="95.7" r="2.8"/><circle cx="434.8" cy="96.6" r="2.8"/><circle cx="440.8" cy="96.4" r="2.8"/><circle cx="441.0" cy="96.4" r="2.8"/><circle cx="438.6" cy="99.5" r="2.8"/><circle cx="445.0" cy="96.4" r="2.8"/><circle cx="433.8" cy="94.7" r="2.8"/><circle cx="436.1" cy="96.2" r="2.8"/><circle cx="437.7" cy="97.5" r="2.8"/><circle cx="435.1" cy="97.4" r="2.8"/><circle cx="445.9" cy="97.4" r="2.8"/><circle cx="431.5" cy="95.4" r="2.8"/><circle cx="436.9" cy="96.7" r="2.8"/><circle cx="434.9" cy="99.8" r="2.8"/><circle cx="444.0" cy="96.6" r="2.8"/><circle cx="447.9" cy="94.3" r="2.8"/><circle cx="446.1" cy="93.7" r="2.8"/><circle cx="432.0" cy="96.2" r="2.8"/><circle cx="442.3" cy="98.4" r="2.8"/><circle cx="440.9" cy="97.9" r="2.8"/><circle cx="450.7" cy="96.1" r="2.8"/><circle cx="434.9" cy="94.0" r="2.8"/><circle cx="443.1" cy="95.1" r="2.8"/><circle cx="431.8" cy="95.5" r="2.8"/><circle cx="444.4" cy="99.3" r="2.8"/><circle cx="441.4" cy="95.4" r="2.8"/><circle cx="442.4" cy="99.0" r="2.8"/><circle cx="439.9" cy="96.8" r="2.8"/><circle cx="446.0" cy="95.2" r="2.8"/><circle cx="441.3" cy="96.5" r="2.8"/><circle cx="433.7" cy="99.8" r="2.8"/><circle cx="445.8" cy="96.7" r="2.8"/><circle cx="441.5" cy="94.8" r="2.8"/><circle cx="434.4" cy="95.4" r="2.8"/><circle cx="440.3" cy="97.7" r="2.8"/><circle cx="432.6" cy="93.9" r="2.8"/><circle cx="448.2" cy="98.9" r="2.8"/><circle cx="432.4" cy="102.1" r="2.8"/><circle cx="445.9" cy="102.3" r="2.8"/><circle cx="436.4" cy="101.7" r="2.8"/><circle cx="435.4" cy="104.1" r="2.8"/><circle cx="434.2" cy="100.6" r="2.8"/><circle cx="440.2" cy="101.1" r="2.8"/><circle cx="446.2" cy="104.2" r="2.8"/><circle cx="450.7" cy="104.3" r="2.8"/><circle cx="428.8" cy="101.0" r="2.8"/><circle cx="442.2" cy="106.4" r="2.8"/><circle cx="427.6" cy="102.9" r="2.8"/><circle cx="435.7" cy="106.3" r="2.8"/><circle cx="435.8" cy="102.9" r="2.8"/><circle cx="429.1" cy="103.3" r="2.8"/><circle cx="431.4" cy="102.7" r="2.8"/><circle cx="447.1" cy="106.3" r="2.8"/><circle cx="436.3" cy="105.1" r="2.8"/><circle cx="441.4" cy="106.6" r="2.8"/><circle cx="439.3" cy="104.5" r="2.8"/><circle cx="440.3" cy="100.9" r="2.8"/><circle cx="432.4" cy="101.8" r="2.8"/><circle cx="449.1" cy="103.2" r="2.8"/><circle cx="435.0" cy="102.9" r="2.8"/><circle cx="447.1" cy="102.2" r="2.8"/><circle cx="430.8" cy="103.0" r="2.8"/><circle cx="436.2" cy="105.1" r="2.8"/><circle cx="431.5" cy="100.2" r="2.8"/><circle cx="452.5" cy="105.8" r="2.8"/><circle cx="446.6" cy="102.4" r="2.8"/><circle cx="439.9" cy="101.3" r="2.8"/><circle cx="445.7" cy="104.4" r="2.8"/><circle cx="436.5" cy="105.5" r="2.8"/><circle cx="450.2" cy="103.5" r="2.8"/><circle cx="436.8" cy="103.8" r="2.8"/><circle cx="446.9" cy="105.7" r="2.8"/><circle cx="436.8" cy="104.9" r="2.8"/><circle cx="440.8" cy="103.4" r="2.8"/><circle cx="453.5" cy="106.0" r="2.8"/><circle cx="431.6" cy="104.2" r="2.8"/><circle cx="432.8" cy="106.3" r="2.8"/><circle cx="445.2" cy="103.7" r="2.8"/><circle cx="448.8" cy="104.0" r="2.8"/><circle cx="452.5" cy="104.7" r="2.8"/><circle cx="446.2" cy="103.5" r="2.8"/><circle cx="444.5" cy="105.3" r="2.8"/><circle cx="454.1" cy="104.9" r="2.8"/><circle cx="436.3" cy="100.3" r="2.8"/><circle cx="439.6" cy="103.5" r="2.8"/><circle cx="437.4" cy="101.0" r="2.8"/><circle cx="443.7" cy="100.8" r="2.8"/><circle cx="451.7" cy="100.2" r="2.8"/><circle cx="438.7" cy="102.8" r="2.8"/><circle cx="454.2" cy="103.7" r="2.8"/><circle cx="448.8" cy="102.8" r="2.8"/><circle cx="450.5" cy="103.5" r="2.8"/><circle cx="444.0" cy="106.5" r="2.8"/><circle cx="439.0" cy="105.3" r="2.8"/><circle cx="440.8" cy="105.0" r="2.8"/><circle cx="442.9" cy="101.4" r="2.8"/><circle cx="445.5" cy="105.5" r="2.8"/><circle cx="435.1" cy="101.7" r="2.8"/><circle cx="441.0" cy="104.5" r="2.8"/><circle cx="448.4" cy="105.5" r="2.8"/><circle cx="447.4" cy="105.9" r="2.8"/><circle cx="437.6" cy="102.0" r="2.8"/><circle cx="448.0" cy="105.5" r="2.8"/><circle cx="443.1" cy="102.7" r="2.8"/><circle cx="445.0" cy="106.1" r="2.8"/><circle cx="440.6" cy="106.0" r="2.8"/><circle cx="438.7" cy="105.0" r="2.8"/><circle cx="441.6" cy="103.8" r="2.8"/><circle cx="447.2" cy="105.9" r="2.8"/><circle cx="440.5" cy="102.0" r="2.8"/><circle cx="432.9" cy="100.9" r="2.8"/><circle cx="454.4" cy="103.1" r="2.8"/><circle cx="444.2" cy="101.5" r="2.8"/><circle cx="450.5" cy="104.7" r="2.8"/><circle cx="439.7" cy="102.6" r="2.8"/><circle cx="447.4" cy="104.4" r="2.8"/><circle cx="437.5" cy="102.2" r="2.8"/><circle cx="447.7" cy="106.5" r="2.8"/><circle cx="433.3" cy="103.7" r="2.8"/><circle cx="432.8" cy="104.1" r="2.8"/><circle cx="444.1" cy="102.9" r="2.8"/><circle cx="437.1" cy="102.7" r="2.8"/><circle cx="447.7" cy="106.4" r="2.8"/><circle cx="433.2" cy="103.3" r="2.8"/><circle cx="452.8" cy="106.1" r="2.8"/><circle cx="451.3" cy="100.2" r="2.8"/><circle cx="450.4" cy="103.0" r="2.8"/><circle cx="446.3" cy="101.7" r="2.8"/><circle cx="440.1" cy="102.7" r="2.8"/><circle cx="441.8" cy="105.3" r="2.8"/><circle cx="431.3" cy="101.6" r="2.8"/><circle cx="446.4" cy="101.8" r="2.8"/><circle cx="453.8" cy="101.0" r="2.8"/><circle cx="451.0" cy="104.5" r="2.8"/><circle cx="449.3" cy="105.3" r="2.8"/><circle cx="430.8" cy="101.0" r="2.8"/><circle cx="450.2" cy="103.2" r="2.8"/><circle cx="431.0" cy="100.5" r="2.8"/><circle cx="439.6" cy="102.5" r="2.8"/><circle cx="443.8" cy="105.5" r="2.8"/><circle cx="436.8" cy="101.3" r="2.8"/><circle cx="434.3" cy="101.7" r="2.8"/><circle cx="443.1" cy="102.4" r="2.8"/><circle cx="429.2" cy="105.1" r="2.8"/><circle cx="433.9" cy="104.0" r="2.8"/><circle cx="433.1" cy="102.9" r="2.8"/><circle cx="446.7" cy="100.3" r="2.8"/><circle cx="435.5" cy="106.1" r="2.8"/><circle cx="452.6" cy="100.4" r="2.8"/><circle cx="442.7" cy="113.1" r="2.8"/><circle cx="450.2" cy="119.3" r="2.8"/><circle cx="431.1" cy="108.5" r="2.8"/><circle cx="442.6" cy="110.9" r="2.8"/><circle cx="449.2" cy="108.2" r="2.8"/><circle cx="451.7" cy="110.8" r="2.8"/><circle cx="446.5" cy="115.3" r="2.8"/><circle cx="432.7" cy="119.1" r="2.8"/><circle cx="434.5" cy="119.9" r="2.8"/><circle cx="451.7" cy="108.1" r="2.8"/><circle cx="455.8" cy="108.4" r="2.8"/><circle cx="447.2" cy="109.9" r="2.8"/><circle cx="451.6" cy="114.5" r="2.8"/><circle cx="447.4" cy="107.5" r="2.8"/><circle cx="434.1" cy="118.1" r="2.8"/><circle cx="434.8" cy="117.4" r="2.8"/><circle cx="445.2" cy="117.1" r="2.8"/><circle cx="442.9" cy="107.2" r="2.8"/><circle cx="434.2" cy="107.5" r="2.8"/><circle cx="452.1" cy="108.7" r="2.8"/><circle cx="442.8" cy="109.9" r="2.8"/><circle cx="451.3" cy="113.2" r="2.8"/><circle cx="440.9" cy="110.7" r="2.8"/><circle cx="444.2" cy="110.6" r="2.8"/><circle cx="443.3" cy="107.9" r="2.8"/><circle cx="443.8" cy="117.1" r="2.8"/><circle cx="441.3" cy="115.9" r="2.8"/><circle cx="433.1" cy="109.3" r="2.8"/><circle cx="450.7" cy="119.0" r="2.8"/><circle cx="441.3" cy="110.3" r="2.8"/><circle cx="445.1" cy="110.5" r="2.8"/><circle cx="436.4" cy="112.3" r="2.8"/><circle cx="444.1" cy="111.1" r="2.8"/><circle cx="437.6" cy="109.0" r="2.8"/><circle cx="435.1" cy="119.9" r="2.8"/><circle cx="447.3" cy="109.8" r="2.8"/><circle cx="439.1" cy="117.4" r="2.8"/><circle cx="436.6" cy="114.2" r="2.8"/><circle cx="430.4" cy="119.2" r="2.8"/><circle cx="432.6" cy="107.1" r="2.8"/><circle cx="446.8" cy="113.1" r="2.8"/><circle cx="428.1" cy="109.6" r="2.8"/><circle cx="435.8" cy="108.3" r="2.8"/><circle cx="446.7" cy="112.7" r="2.8"/><circle cx="440.5" cy="116.9" r="2.8"/><circle cx="444.7" cy="114.1" r="2.8"/><circle cx="450.6" cy="111.1" r="2.8"/><circle cx="427.8" cy="110.2" r="2.8"/><circle cx="439.9" cy="114.8" r="2.8"/><circle cx="452.3" cy="109.4" r="2.8"/><circle cx="430.6" cy="111.3" r="2.8"/><circle cx="441.0" cy="116.6" r="2.8"/><circle cx="444.7" cy="115.4" r="2.8"/><circle cx="433.6" cy="110.5" r="2.8"/><circle cx="449.6" cy="117.3" r="2.8"/><circle cx="432.4" cy="112.6" r="2.8"/><circle cx="452.2" cy="111.0" r="2.8"/><circle cx="445.0" cy="113.8" r="2.8"/><circle cx="439.8" cy="109.3" r="2.8"/><circle cx="443.5" cy="107.9" r="2.8"/><circle cx="429.5" cy="114.8" r="2.8"/><circle cx="427.6" cy="114.4" r="2.8"/><circle cx="447.1" cy="119.5" r="2.8"/><circle cx="439.1" cy="117.0" r="2.8"/><circle cx="435.2" cy="115.2" r="2.8"/><circle cx="443.5" cy="111.9" r="2.8"/><circle cx="428.1" cy="109.4" r="2.8"/><circle cx="434.0" cy="112.2" r="2.8"/><circle cx="442.6" cy="107.2" r="2.8"/><circle cx="442.8" cy="114.5" r="2.8"/><circle cx="445.1" cy="117.4" r="2.8"/><circle cx="437.5" cy="116.4" r="2.8"/><circle cx="449.7" cy="113.7" r="2.8"/><circle cx="441.4" cy="112.7" r="2.8"/><circle cx="432.3" cy="112.6" r="2.8"/><circle cx="429.1" cy="110.9" r="2.8"/><circle cx="442.5" cy="111.0" r="2.8"/><circle cx="429.8" cy="109.6" r="2.8"/><circle cx="448.4" cy="107.8" r="2.8"/><circle cx="453.9" cy="117.8" r="2.8"/><circle cx="436.7" cy="118.4" r="2.8"/><circle cx="450.9" cy="109.5" r="2.8"/><circle cx="444.7" cy="110.0" r="2.8"/><circle cx="431.6" cy="112.1" r="2.8"/><circle cx="449.3" cy="117.3" r="2.8"/><circle cx="437.1" cy="115.0" r="2.8"/><circle cx="431.2" cy="114.8" r="2.8"/><circle cx="445.9" cy="120.0" r="2.8"/><circle cx="445.2" cy="112.7" r="2.8"/><circle cx="445.7" cy="110.0" r="2.8"/><circle cx="444.8" cy="116.0" r="2.8"/><circle cx="431.1" cy="113.2" r="2.8"/><circle cx="439.5" cy="108.8" r="2.8"/><circle cx="430.1" cy="108.7" r="2.8"/><circle cx="444.3" cy="116.1" r="2.8"/><circle cx="448.5" cy="111.5" r="2.8"/><circle cx="431.6" cy="119.1" r="2.8"/><circle cx="429.4" cy="113.2" r="2.8"/><circle cx="443.5" cy="117.9" r="2.8"/><circle cx="443.1" cy="114.6" r="2.8"/><circle cx="436.4" cy="113.5" r="2.8"/><circle cx="434.1" cy="117.6" r="2.8"/><circle cx="435.3" cy="114.6" r="2.8"/><circle cx="441.5" cy="114.1" r="2.8"/><circle cx="435.3" cy="109.4" r="2.8"/><circle cx="445.4" cy="113.8" r="2.8"/><circle cx="441.1" cy="109.2" r="2.8"/><circle cx="431.1" cy="107.2" r="2.8"/><circle cx="452.6" cy="109.6" r="2.8"/><circle cx="445.3" cy="115.0" r="2.8"/><circle cx="439.8" cy="113.6" r="2.8"/><circle cx="442.7" cy="116.1" r="2.8"/><circle cx="439.9" cy="113.7" r="2.8"/><circle cx="442.7" cy="117.7" r="2.8"/><circle cx="441.2" cy="116.9" r="2.8"/><circle cx="430.3" cy="114.6" r="2.8"/><circle cx="449.1" cy="111.9" r="2.8"/><circle cx="443.7" cy="115.7" r="2.8"/><circle cx="436.7" cy="118.4" r="2.8"/><circle cx="454.8" cy="113.9" r="2.8"/><circle cx="446.2" cy="118.1" r="2.8"/><circle cx="454.0" cy="120.0" r="2.8"/><circle cx="444.3" cy="111.7" r="2.8"/><circle cx="454.8" cy="112.2" r="2.8"/><circle cx="438.5" cy="109.4" r="2.8"/><circle cx="434.6" cy="117.7" r="2.8"/><circle cx="443.5" cy="108.8" r="2.8"/><circle cx="446.2" cy="116.9" r="2.8"/><circle cx="434.0" cy="118.6" r="2.8"/><circle cx="441.0" cy="116.7" r="2.8"/><circle cx="441.9" cy="111.2" r="2.8"/><circle cx="449.0" cy="109.4" r="2.8"/><circle cx="446.4" cy="111.5" r="2.8"/><circle cx="447.1" cy="115.9" r="2.8"/><circle cx="451.4" cy="113.6" r="2.8"/><circle cx="431.1" cy="108.7" r="2.8"/><circle cx="436.2" cy="112.4" r="2.8"/><circle cx="454.2" cy="114.9" r="2.8"/><circle cx="453.0" cy="111.9" r="2.8"/><circle cx="441.5" cy="113.7" r="2.8"/><circle cx="454.4" cy="113.5" r="2.8"/><circle cx="441.9" cy="112.3" r="2.8"/><circle cx="451.6" cy="114.2" r="2.8"/><circle cx="419.9" cy="108.2" r="2.8"/><circle cx="446.8" cy="113.7" r="2.8"/><circle cx="459.6" cy="108.3" r="2.8"/><circle cx="427.5" cy="113.8" r="2.8"/><circle cx="444.9" cy="109.3" r="2.8"/><circle cx="452.8" cy="126.5" r="2.8"/><circle cx="441.1" cy="122.8" r="2.8"/><circle cx="447.2" cy="124.8" r="2.8"/><circle cx="438.5" cy="121.8" r="2.8"/><circle cx="447.3" cy="129.0" r="2.8"/><circle cx="436.2" cy="127.3" r="2.8"/><circle cx="444.3" cy="125.2" r="2.8"/><circle cx="426.0" cy="121.7" r="2.8"/><circle cx="443.9" cy="127.1" r="2.8"/><circle cx="435.0" cy="124.1" r="2.8"/><circle cx="434.0" cy="122.1" r="2.8"/><circle cx="447.6" cy="126.3" r="2.8"/><circle cx="432.6" cy="127.5" r="2.8"/><circle cx="437.3" cy="125.3" r="2.8"/><circle cx="441.7" cy="123.1" r="2.8"/><circle cx="445.9" cy="124.4" r="2.8"/><circle cx="454.2" cy="129.9" r="2.8"/><circle cx="439.9" cy="123.2" r="2.8"/><circle cx="440.4" cy="125.8" r="2.8"/><circle cx="452.0" cy="122.4" r="2.8"/><circle cx="436.5" cy="124.8" r="2.8"/><circle cx="443.5" cy="129.5" r="2.8"/><circle cx="446.8" cy="124.2" r="2.8"/><circle cx="431.2" cy="125.6" r="2.8"/><circle cx="449.3" cy="120.3" r="2.8"/><circle cx="441.6" cy="122.8" r="2.8"/><circle cx="432.6" cy="123.2" r="2.8"/><circle cx="438.0" cy="123.3" r="2.8"/><circle cx="429.7" cy="129.6" r="2.8"/><circle cx="444.2" cy="126.7" r="2.8"/><circle cx="434.8" cy="121.7" r="2.8"/><circle cx="429.7" cy="126.8" r="2.8"/><circle cx="445.0" cy="123.7" r="2.8"/><circle cx="435.4" cy="127.6" r="2.8"/><circle cx="441.4" cy="126.5" r="2.8"/><circle cx="453.8" cy="126.3" r="2.8"/><circle cx="439.0" cy="123.5" r="2.8"/><circle cx="445.2" cy="129.0" r="2.8"/><circle cx="442.9" cy="122.4" r="2.8"/><circle cx="449.0" cy="126.9" r="2.8"/><circle cx="434.5" cy="128.7" r="2.8"/><circle cx="451.3" cy="122.6" r="2.8"/><circle cx="436.4" cy="121.4" r="2.8"/><circle cx="433.6" cy="128.2" r="2.8"/><circle cx="429.7" cy="122.9" r="2.8"/><circle cx="439.9" cy="127.2" r="2.8"/><circle cx="443.7" cy="124.6" r="2.8"/><circle cx="443.2" cy="123.8" r="2.8"/><circle cx="448.8" cy="126.9" r="2.8"/><circle cx="446.4" cy="123.1" r="2.8"/><circle cx="454.8" cy="121.3" r="2.8"/><circle cx="451.6" cy="128.2" r="2.8"/><circle cx="443.1" cy="127.8" r="2.8"/><circle cx="431.5" cy="122.6" r="2.8"/><circle cx="436.8" cy="121.0" r="2.8"/><circle cx="450.9" cy="123.8" r="2.8"/><circle cx="426.5" cy="127.9" r="2.8"/><circle cx="431.5" cy="120.1" r="2.8"/><circle cx="448.0" cy="122.1" r="2.8"/><circle cx="447.5" cy="127.2" r="2.8"/><circle cx="452.8" cy="120.9" r="2.8"/><circle cx="445.5" cy="125.7" r="2.8"/><circle cx="441.8" cy="122.2" r="2.8"/><circle cx="450.8" cy="129.3" r="2.8"/><circle cx="434.0" cy="122.3" r="2.8"/><circle cx="432.5" cy="120.3" r="2.8"/><circle cx="431.2" cy="125.2" r="2.8"/><circle cx="436.6" cy="129.2" r="2.8"/><circle cx="439.3" cy="125.2" r="2.8"/><circle cx="441.5" cy="129.1" r="2.8"/><circle cx="450.7" cy="129.2" r="2.8"/><circle cx="445.2" cy="120.7" r="2.8"/><circle cx="445.1" cy="120.9" r="2.8"/><circle cx="438.3" cy="128.9" r="2.8"/><circle cx="441.5" cy="125.2" r="2.8"/><circle cx="454.1" cy="127.2" r="2.8"/><circle cx="429.0" cy="129.5" r="2.8"/><circle cx="448.5" cy="127.1" r="2.8"/><circle cx="446.1" cy="120.2" r="2.8"/><circle cx="432.5" cy="127.7" r="2.8"/><circle cx="442.9" cy="122.7" r="2.8"/><circle cx="441.7" cy="122.7" r="2.8"/><circle cx="444.7" cy="120.2" r="2.8"/><circle cx="438.5" cy="124.5" r="2.8"/><circle cx="442.1" cy="122.8" r="2.8"/><circle cx="429.7" cy="126.7" r="2.8"/><circle cx="434.7" cy="125.3" r="2.8"/><circle cx="453.4" cy="129.2" r="2.8"/><circle cx="429.3" cy="121.6" r="2.8"/><circle cx="450.7" cy="128.4" r="2.8"/><circle cx="436.2" cy="133.1" r="2.8"/><circle cx="440.4" cy="137.3" r="2.8"/><circle cx="429.4" cy="137.5" r="2.8"/><circle cx="450.3" cy="137.5" r="2.8"/><circle cx="447.3" cy="139.7" r="2.8"/><circle cx="438.0" cy="141.2" r="2.8"/><circle cx="441.7" cy="131.7" r="2.8"/><circle cx="437.3" cy="136.7" r="2.8"/><circle cx="441.6" cy="138.2" r="2.8"/><circle cx="435.2" cy="137.2" r="2.8"/><circle cx="430.3" cy="132.8" r="2.8"/><circle cx="428.0" cy="131.1" r="2.8"/><circle cx="438.4" cy="137.2" r="2.8"/><circle cx="445.6" cy="134.4" r="2.8"/><circle cx="448.4" cy="136.4" r="2.8"/><circle cx="447.3" cy="134.0" r="2.8"/><circle cx="431.0" cy="132.6" r="2.8"/><circle cx="450.3" cy="137.5" r="2.8"/><circle cx="433.5" cy="133.9" r="2.8"/><circle cx="443.1" cy="139.6" r="2.8"/><circle cx="445.9" cy="131.4" r="2.8"/><circle cx="433.8" cy="131.4" r="2.8"/><circle cx="457.4" cy="136.4" r="2.8"/><circle cx="444.9" cy="134.5" r="2.8"/><circle cx="448.6" cy="130.4" r="2.8"/><circle cx="436.2" cy="134.3" r="2.8"/><circle cx="455.1" cy="133.5" r="2.8"/><circle cx="440.1" cy="137.4" r="2.8"/><circle cx="440.1" cy="139.1" r="2.8"/><circle cx="438.8" cy="134.7" r="2.8"/><circle cx="448.5" cy="131.3" r="2.8"/><circle cx="432.2" cy="133.8" r="2.8"/><circle cx="454.2" cy="132.9" r="2.8"/><circle cx="435.5" cy="135.2" r="2.8"/><circle cx="430.6" cy="141.0" r="2.8"/><circle cx="457.8" cy="137.8" r="2.8"/><circle cx="439.1" cy="138.5" r="2.8"/><circle cx="443.9" cy="140.5" r="2.8"/><circle cx="430.9" cy="132.3" r="2.8"/><circle cx="426.8" cy="136.7" r="2.8"/><circle cx="435.9" cy="136.0" r="2.8"/><circle cx="451.8" cy="131.2" r="2.8"/><circle cx="448.7" cy="140.2" r="2.8"/><circle cx="454.0" cy="138.5" r="2.8"/><circle cx="428.8" cy="130.5" r="2.8"/><circle cx="443.1" cy="139.5" r="2.8"/><circle cx="438.7" cy="135.9" r="2.8"/><circle cx="435.5" cy="136.5" r="2.8"/><circle cx="445.8" cy="134.2" r="2.8"/><circle cx="444.4" cy="139.4" r="2.8"/><circle cx="427.0" cy="134.5" r="2.8"/><circle cx="453.5" cy="130.4" r="2.8"/><circle cx="441.8" cy="131.5" r="2.8"/><circle cx="440.6" cy="132.3" r="2.8"/><circle cx="428.5" cy="132.6" r="2.8"/><circle cx="425.9" cy="133.9" r="2.8"/><circle cx="426.2" cy="137.2" r="2.8"/><circle cx="426.5" cy="133.5" r="2.8"/><circle cx="449.6" cy="131.1" r="2.8"/><circle cx="437.9" cy="132.7" r="2.8"/><circle cx="434.1" cy="133.1" r="2.8"/><circle cx="429.2" cy="140.9" r="2.8"/><circle cx="449.5" cy="138.5" r="2.8"/><circle cx="448.3" cy="138.9" r="2.8"/><circle cx="445.4" cy="136.0" r="2.8"/><circle cx="426.8" cy="137.0" r="2.8"/><circle cx="437.1" cy="138.6" r="2.8"/><circle cx="428.1" cy="139.7" r="2.8"/><circle cx="454.5" cy="139.1" r="2.8"/><circle cx="434.5" cy="133.9" r="2.8"/><circle cx="432.3" cy="137.9" r="2.8"/><circle cx="443.3" cy="131.7" r="2.8"/><circle cx="438.3" cy="136.1" r="2.8"/><circle cx="446.2" cy="132.3" r="2.8"/><circle cx="440.4" cy="136.4" r="2.8"/><circle cx="442.5" cy="130.2" r="2.8"/><circle cx="441.1" cy="136.5" r="2.8"/><circle cx="455.6" cy="139.7" r="2.8"/><circle cx="431.8" cy="131.7" r="2.8"/><circle cx="446.1" cy="141.3" r="2.8"/><circle cx="440.5" cy="135.0" r="2.8"/><circle cx="437.0" cy="141.4" r="2.8"/><circle cx="432.0" cy="135.3" r="2.8"/><circle cx="441.1" cy="134.9" r="2.8"/><circle cx="444.6" cy="136.6" r="2.8"/><circle cx="441.0" cy="134.8" r="2.8"/><circle cx="429.5" cy="139.7" r="2.8"/><circle cx="435.4" cy="133.5" r="2.8"/><circle cx="434.4" cy="131.6" r="2.8"/><circle cx="442.3" cy="140.5" r="2.8"/><circle cx="429.8" cy="138.9" r="2.8"/><circle cx="445.8" cy="141.4" r="2.8"/><circle cx="445.5" cy="141.1" r="2.8"/><circle cx="436.4" cy="140.8" r="2.8"/><circle cx="422.9" cy="136.2" r="2.8"/><circle cx="450.5" cy="131.7" r="2.8"/><circle cx="455.7" cy="141.1" r="2.8"/><circle cx="444.5" cy="140.1" r="2.8"/><circle cx="449.0" cy="137.6" r="2.8"/><circle cx="447.3" cy="139.6" r="2.8"/><circle cx="426.7" cy="130.3" r="2.8"/><circle cx="446.7" cy="135.9" r="2.8"/><circle cx="430.2" cy="134.7" r="2.8"/><circle cx="441.5" cy="131.4" r="2.8"/><circle cx="446.6" cy="135.8" r="2.8"/><circle cx="452.1" cy="132.8" r="2.8"/><circle cx="437.8" cy="137.6" r="2.8"/><circle cx="428.5" cy="138.8" r="2.8"/><circle cx="440.0" cy="134.1" r="2.8"/><circle cx="436.2" cy="132.7" r="2.8"/><circle cx="427.9" cy="139.9" r="2.8"/><circle cx="439.3" cy="131.5" r="2.8"/><circle cx="442.3" cy="140.7" r="2.8"/><circle cx="443.1" cy="133.1" r="2.8"/><circle cx="450.2" cy="139.6" r="2.8"/><circle cx="446.4" cy="134.2" r="2.8"/><circle cx="437.8" cy="139.3" r="2.8"/><circle cx="440.1" cy="136.0" r="2.8"/><circle cx="441.3" cy="135.5" r="2.8"/><circle cx="455.5" cy="130.3" r="2.8"/><circle cx="433.4" cy="130.1" r="2.8"/><circle cx="452.3" cy="137.9" r="2.8"/><circle cx="445.6" cy="138.6" r="2.8"/><circle cx="455.6" cy="132.6" r="2.8"/><circle cx="442.3" cy="134.6" r="2.8"/><circle cx="451.6" cy="133.6" r="2.8"/><circle cx="441.2" cy="135.2" r="2.8"/><circle cx="428.8" cy="131.2" r="2.8"/><circle cx="445.0" cy="139.7" r="2.8"/><circle cx="437.8" cy="130.6" r="2.8"/><circle cx="457.5" cy="138.1" r="2.8"/><circle cx="440.5" cy="133.8" r="2.8"/><circle cx="426.3" cy="133.9" r="2.8"/><circle cx="438.1" cy="140.5" r="2.8"/><circle cx="426.1" cy="132.2" r="2.8"/><circle cx="435.7" cy="133.9" r="2.8"/><circle cx="458.0" cy="139.6" r="2.8"/><circle cx="450.1" cy="133.5" r="2.8"/><circle cx="438.6" cy="138.4" r="2.8"/><circle cx="452.2" cy="134.3" r="2.8"/><circle cx="445.3" cy="138.0" r="2.8"/><circle cx="440.7" cy="135.3" r="2.8"/><circle cx="449.2" cy="137.0" r="2.8"/><circle cx="437.8" cy="133.9" r="2.8"/><circle cx="458.4" cy="132.0" r="2.8"/><circle cx="449.6" cy="130.6" r="2.8"/><circle cx="441.1" cy="135.0" r="2.8"/><circle cx="442.2" cy="140.7" r="2.8"/><circle cx="441.6" cy="134.2" r="2.8"/><circle cx="445.2" cy="138.4" r="2.8"/><circle cx="447.5" cy="139.2" r="2.8"/><circle cx="456.1" cy="132.4" r="2.8"/><circle cx="429.2" cy="139.8" r="2.8"/><circle cx="455.6" cy="134.2" r="2.8"/><circle cx="437.3" cy="138.6" r="2.8"/><circle cx="455.3" cy="131.7" r="2.8"/><circle cx="446.3" cy="140.7" r="2.8"/><circle cx="440.1" cy="138.2" r="2.8"/><circle cx="431.4" cy="130.1" r="2.8"/><circle cx="437.2" cy="134.7" r="2.8"/><circle cx="447.9" cy="137.8" r="2.8"/><circle cx="433.3" cy="133.8" r="2.8"/><circle cx="438.6" cy="139.7" r="2.8"/><circle cx="439.7" cy="137.6" r="2.8"/><circle cx="457.7" cy="138.7" r="2.8"/><circle cx="450.1" cy="131.7" r="2.8"/><circle cx="456.0" cy="140.5" r="2.8"/><circle cx="443.0" cy="135.9" r="2.8"/><circle cx="447.9" cy="132.7" r="2.8"/><circle cx="455.9" cy="137.2" r="2.8"/><circle cx="433.6" cy="137.8" r="2.8"/><circle cx="421.9" cy="140.0" r="2.8"/><circle cx="432.0" cy="141.1" r="2.8"/><circle cx="438.9" cy="137.1" r="2.8"/><circle cx="438.8" cy="135.7" r="2.8"/><circle cx="442.0" cy="136.8" r="2.8"/><circle cx="431.9" cy="138.1" r="2.8"/><circle cx="439.3" cy="135.6" r="2.8"/><circle cx="453.0" cy="132.6" r="2.8"/><circle cx="454.8" cy="132.3" r="2.8"/><circle cx="524.6" cy="114.7" r="2.8"/><circle cx="520.5" cy="116.3" r="2.8"/><circle cx="536.1" cy="115.1" r="2.8"/><circle cx="522.1" cy="116.3" r="2.8"/><circle cx="531.9" cy="117.1" r="2.8"/><circle cx="514.3" cy="116.2" r="2.8"/><circle cx="533.8" cy="115.7" r="2.8"/><circle cx="528.9" cy="114.3" r="2.8"/><circle cx="523.6" cy="116.9" r="2.8"/><circle cx="524.4" cy="116.8" r="2.8"/><circle cx="522.7" cy="114.3" r="2.8"/><circle cx="517.5" cy="117.1" r="2.8"/><circle cx="519.9" cy="116.8" r="2.8"/><circle cx="526.9" cy="114.8" r="2.8"/><circle cx="529.5" cy="116.3" r="2.8"/><circle cx="525.2" cy="116.8" r="2.8"/><circle cx="522.7" cy="114.5" r="2.8"/><circle cx="533.7" cy="115.1" r="2.8"/><circle cx="524.7" cy="116.2" r="2.8"/><circle cx="531.8" cy="117.0" r="2.8"/><circle cx="522.9" cy="116.5" r="2.8"/><circle cx="526.5" cy="116.8" r="2.8"/><circle cx="521.0" cy="116.0" r="2.8"/><circle cx="530.5" cy="114.4" r="2.8"/><circle cx="516.9" cy="116.0" r="2.8"/><circle cx="521.1" cy="115.7" r="2.8"/><circle cx="519.8" cy="116.1" r="2.8"/><circle cx="535.0" cy="115.8" r="2.8"/><circle cx="517.9" cy="115.0" r="2.8"/><circle cx="517.0" cy="115.1" r="2.8"/><circle cx="530.1" cy="117.0" r="2.8"/><circle cx="533.8" cy="117.1" r="2.8"/><circle cx="522.5" cy="115.4" r="2.8"/><circle cx="528.9" cy="117.1" r="2.8"/><circle cx="531.5" cy="116.3" r="2.8"/><circle cx="524.3" cy="116.4" r="2.8"/><circle cx="530.4" cy="116.8" r="2.8"/><circle cx="532.8" cy="115.5" r="2.8"/><circle cx="532.9" cy="116.6" r="2.8"/><circle cx="520.0" cy="115.6" r="2.8"/><circle cx="533.2" cy="116.2" r="2.8"/><circle cx="525.9" cy="116.6" r="2.8"/><circle cx="524.1" cy="114.6" r="2.8"/><circle cx="533.8" cy="115.0" r="2.8"/><circle cx="535.2" cy="114.8" r="2.8"/><circle cx="515.2" cy="116.8" r="2.8"/><circle cx="515.9" cy="114.7" r="2.8"/><circle cx="529.3" cy="116.6" r="2.8"/><circle cx="530.1" cy="116.2" r="2.8"/><circle cx="526.4" cy="115.7" r="2.8"/><circle cx="518.0" cy="115.1" r="2.8"/><circle cx="533.9" cy="115.9" r="2.8"/><circle cx="520.6" cy="115.2" r="2.8"/><circle cx="517.5" cy="115.6" r="2.8"/><circle cx="522.8" cy="115.3" r="2.8"/><circle cx="534.2" cy="115.1" r="2.8"/><circle cx="527.4" cy="117.0" r="2.8"/><circle cx="521.9" cy="116.2" r="2.8"/><circle cx="517.2" cy="114.5" r="2.8"/><circle cx="524.3" cy="116.2" r="2.8"/><circle cx="530.8" cy="116.7" r="2.8"/><circle cx="526.0" cy="114.5" r="2.8"/><circle cx="527.2" cy="116.7" r="2.8"/><circle cx="532.3" cy="116.2" r="2.8"/><circle cx="523.6" cy="114.4" r="2.8"/><circle cx="517.2" cy="116.5" r="2.8"/><circle cx="527.5" cy="116.9" r="2.8"/><circle cx="518.8" cy="116.5" r="2.8"/><circle cx="533.7" cy="115.0" r="2.8"/><circle cx="520.7" cy="115.1" r="2.8"/><circle cx="531.5" cy="114.4" r="2.8"/><circle cx="522.0" cy="116.0" r="2.8"/><circle cx="525.9" cy="114.7" r="2.8"/><circle cx="522.2" cy="115.2" r="2.8"/><circle cx="525.1" cy="115.7" r="2.8"/><circle cx="527.7" cy="116.6" r="2.8"/><circle cx="531.5" cy="116.0" r="2.8"/><circle cx="532.9" cy="116.9" r="2.8"/><circle cx="512.8" cy="117.1" r="2.8"/><circle cx="515.1" cy="115.7" r="2.8"/><circle cx="524.6" cy="116.0" r="2.8"/><circle cx="515.4" cy="115.7" r="2.8"/><circle cx="524.9" cy="115.8" r="2.8"/><circle cx="525.2" cy="115.2" r="2.8"/><circle cx="527.1" cy="114.9" r="2.8"/><circle cx="527.0" cy="115.4" r="2.8"/><circle cx="525.8" cy="114.5" r="2.8"/><circle cx="529.0" cy="117.0" r="2.8"/><circle cx="521.6" cy="115.7" r="2.8"/><circle cx="519.9" cy="114.7" r="2.8"/><circle cx="515.2" cy="115.0" r="2.8"/><circle cx="534.1" cy="116.1" r="2.8"/><circle cx="521.3" cy="116.2" r="2.8"/><circle cx="533.1" cy="116.7" r="2.8"/><circle cx="525.7" cy="115.3" r="2.8"/><circle cx="525.5" cy="114.9" r="2.8"/><circle cx="527.0" cy="116.1" r="2.8"/><circle cx="516.4" cy="115.5" r="2.8"/><circle cx="528.8" cy="116.6" r="2.8"/><circle cx="525.9" cy="116.1" r="2.8"/><circle cx="527.4" cy="116.9" r="2.8"/><circle cx="524.4" cy="114.9" r="2.8"/><circle cx="520.8" cy="116.9" r="2.8"/><circle cx="532.8" cy="117.1" r="2.8"/><circle cx="532.4" cy="116.1" r="2.8"/><circle cx="525.8" cy="114.6" r="2.8"/><circle cx="515.6" cy="114.7" r="2.8"/><circle cx="528.7" cy="115.7" r="2.8"/><circle cx="520.6" cy="115.7" r="2.8"/><circle cx="536.3" cy="114.3" r="2.8"/><circle cx="518.9" cy="115.7" r="2.8"/><circle cx="516.6" cy="116.0" r="2.8"/><circle cx="526.6" cy="115.8" r="2.8"/><circle cx="525.3" cy="114.9" r="2.8"/><circle cx="520.8" cy="115.3" r="2.8"/><circle cx="515.5" cy="114.6" r="2.8"/><circle cx="517.9" cy="116.6" r="2.8"/><circle cx="527.2" cy="137.6" r="2.8"/><circle cx="533.6" cy="137.7" r="2.8"/><circle cx="538.8" cy="137.6" r="2.8"/><circle cx="526.7" cy="137.6" r="2.8"/><circle cx="511.6" cy="137.6" r="2.8"/><circle cx="518.5" cy="137.1" r="2.8"/><circle cx="533.7" cy="138.2" r="2.8"/><circle cx="537.9" cy="137.4" r="2.8"/><circle cx="510.6" cy="137.4" r="2.8"/><circle cx="526.5" cy="137.5" r="2.8"/><circle cx="517.5" cy="136.7" r="2.8"/><circle cx="535.8" cy="136.9" r="2.8"/><circle cx="525.2" cy="137.8" r="2.8"/><circle cx="522.9" cy="138.5" r="2.8"/><circle cx="529.9" cy="137.2" r="2.8"/><circle cx="537.6" cy="137.8" r="2.8"/><circle cx="513.0" cy="138.2" r="2.8"/><circle cx="524.8" cy="137.1" r="2.8"/><circle cx="510.7" cy="138.3" r="2.8"/><circle cx="515.4" cy="138.3" r="2.8"/><circle cx="520.1" cy="138.5" r="2.8"/><circle cx="532.5" cy="137.9" r="2.8"/><circle cx="539.6" cy="137.4" r="2.8"/><circle cx="517.2" cy="136.7" r="2.8"/><circle cx="538.3" cy="138.1" r="2.8"/><circle cx="519.4" cy="138.2" r="2.8"/><circle cx="527.3" cy="137.2" r="2.8"/><circle cx="518.2" cy="138.2" r="2.8"/><circle cx="530.6" cy="138.0" r="2.8"/><circle cx="523.7" cy="137.9" r="2.8"/><circle cx="536.0" cy="137.8" r="2.8"/><circle cx="524.9" cy="138.0" r="2.8"/><circle cx="532.2" cy="138.3" r="2.8"/><circle cx="532.7" cy="137.3" r="2.8"/><circle cx="510.1" cy="137.7" r="2.8"/><circle cx="513.2" cy="137.0" r="2.8"/><circle cx="513.3" cy="138.3" r="2.8"/><circle cx="520.5" cy="137.7" r="2.8"/><circle cx="532.0" cy="136.8" r="2.8"/><circle cx="529.0" cy="138.0" r="2.8"/><circle cx="529.5" cy="137.7" r="2.8"/><circle cx="525.9" cy="138.2" r="2.8"/><circle cx="533.3" cy="137.8" r="2.8"/><circle cx="526.1" cy="136.8" r="2.8"/><circle cx="511.1" cy="136.7" r="2.8"/><circle cx="524.0" cy="137.0" r="2.8"/><circle cx="516.4" cy="138.4" r="2.8"/><circle cx="522.9" cy="137.7" r="2.8"/><circle cx="525.1" cy="136.7" r="2.8"/><circle cx="515.0" cy="138.4" r="2.8"/><circle cx="512.2" cy="137.0" r="2.8"/><circle cx="516.2" cy="137.4" r="2.8"/><circle cx="519.2" cy="137.8" r="2.8"/><circle cx="508.3" cy="138.4" r="2.8"/><circle cx="530.6" cy="138.5" r="2.8"/><circle cx="525.5" cy="137.7" r="2.8"/><circle cx="513.0" cy="137.1" r="2.8"/><circle cx="512.5" cy="138.2" r="2.8"/><circle cx="521.4" cy="138.0" r="2.8"/><circle cx="537.8" cy="137.1" r="2.8"/><circle cx="517.0" cy="138.5" r="2.8"/><circle cx="530.5" cy="136.7" r="2.8"/><circle cx="541.8" cy="137.5" r="2.8"/><circle cx="528.2" cy="137.0" r="2.8"/><circle cx="532.7" cy="137.4" r="2.8"/><circle cx="529.1" cy="137.0" r="2.8"/><circle cx="520.9" cy="136.7" r="2.8"/><circle cx="514.0" cy="137.6" r="2.8"/><circle cx="538.1" cy="138.2" r="2.8"/><circle cx="526.4" cy="136.8" r="2.8"/><circle cx="534.9" cy="136.8" r="2.8"/><circle cx="517.5" cy="137.0" r="2.8"/><circle cx="517.0" cy="138.5" r="2.8"/><circle cx="529.9" cy="137.1" r="2.8"/><circle cx="522.4" cy="138.4" r="2.8"/><circle cx="538.7" cy="138.1" r="2.8"/><circle cx="522.3" cy="136.8" r="2.8"/><circle cx="524.9" cy="138.5" r="2.8"/><circle cx="537.0" cy="138.4" r="2.8"/><circle cx="533.1" cy="138.2" r="2.8"/><circle cx="525.6" cy="137.3" r="2.8"/><circle cx="526.0" cy="137.3" r="2.8"/><circle cx="519.8" cy="136.9" r="2.8"/><circle cx="530.4" cy="137.2" r="2.8"/><circle cx="527.8" cy="138.3" r="2.8"/><circle cx="519.2" cy="137.9" r="2.8"/><circle cx="527.5" cy="137.0" r="2.8"/><circle cx="538.6" cy="137.2" r="2.8"/><circle cx="533.3" cy="137.2" r="2.8"/><circle cx="520.6" cy="136.6" r="2.8"/><circle cx="511.2" cy="138.2" r="2.8"/><circle cx="534.8" cy="138.1" r="2.8"/><circle cx="519.3" cy="138.2" r="2.8"/><circle cx="521.9" cy="136.9" r="2.8"/><circle cx="525.1" cy="137.9" r="2.8"/><circle cx="527.3" cy="138.0" r="2.8"/><circle cx="526.2" cy="137.8" r="2.8"/><circle cx="511.7" cy="137.7" r="2.8"/><circle cx="536.3" cy="137.1" r="2.8"/>
</g>
<g fill="rgb(44,160,44)" fill-opacity="0.5" stroke="rgb(44,160,44)" stroke-opacity="0.5" stroke-width="0.8">
<circle cx="94.1" cy="46.1" r="2.8"/><circle cx="107.2" cy="45.9" r="2.8"/><circle cx="106.2" cy="45.7" r="2.8"/><circle cx="91.3" cy="45.8" r="2.8"/><circle cx="117.1" cy="45.8" r="2.8"/><circle cx="110.3" cy="46.3" r="2.8"/><circle cx="102.4" cy="46.3" r="2.8"/><circle cx="118.1" cy="45.9" r="2.8"/><circle cx="92.9" cy="45.9" r="2.8"/><circle cx="110.7" cy="46.1" r="2.8"/><circle cx="107.6" cy="45.7" r="2.8"/><circle cx="95.9" cy="46.1" r="2.8"/><circle cx="99.6" cy="46.1" r="2.8"/><circle cx="99.1" cy="46.2" r="2.8"/><circle cx="116.1" cy="45.8" r="2.8"/><circle cx="106.8" cy="46.2" r="2.8"/><circle cx="100.3" cy="45.8" r="2.8"/><circle cx="114.7" cy="45.8" r="2.8"/><circle cx="90.3" cy="46.1" r="2.8"/><circle cx="90.4" cy="45.9" r="2.8"/><circle cx="98.3" cy="46.1" r="2.8"/><circle cx="104.5" cy="46.2" r="2.8"/><circle cx="93.6" cy="45.7" r="2.8"/><circle cx="108.0" cy="46.1" r="2.8"/><circle cx="109.0" cy="45.9" r="2.8"/><circle cx="99.7" cy="45.7" r="2.8"/><circle cx="94.7" cy="45.8" r="2.8"/><circle cx="115.1" cy="45.8" r="2.8"/><circle cx="102.2" cy="46.2" r="2.8"/><circle cx="104.2" cy="46.0" r="2.8"/><circle cx="113.1" cy="45.9" r="2.8"/><circle cx="101.1" cy="46.2" r="2.8"/><circle cx="90.5" cy="45.8" r="2.8"/><circle cx="96.8" cy="45.8" r="2.8"/><circle cx="109.0" cy="45.9" r="2.8"/><circle cx="103.2" cy="45.9" r="2.8"/><circle cx="121.3" cy="46.1" r="2.8"/><circle cx="109.9" cy="46.1" r="2.8"/><circle cx="119.5" cy="46.2" r="2.8"/><circle cx="108.5" cy="45.9" r="2.8"/><circle cx="110.5" cy="45.7" r="2.8"/><circle cx="96.0" cy="45.8" r="2.8"/><circle cx="90.7" cy="45.7" r="2.8"/><circle cx="92.4" cy="45.9" r="2.8"/><circle cx="118.7" cy="46.1" r="2.8"/><circle cx="97.5" cy="45.9" r="2.8"/><circle cx="93.1" cy="46.2" r="2.8"/><circle cx="97.8" cy="46.0" r="2.8"/><circle cx="91.9" cy="45.8" r="2.8"/><circle cx="97.9" cy="46.2" r="2.8"/><circle cx="89.7" cy="46.3" r="2.8"/><circle cx="93.9" cy="46.0" r="2.8"/><circle cx="106.9" cy="46.3" r="2.8"/><circle cx="103.7" cy="45.9" r="2.8"/><circle cx="115.2" cy="46.0" r="2.8"/><circle cx="99.7" cy="45.9" r="2.8"/><circle cx="116.5" cy="46.3" r="2.8"/><circle cx="111.4" cy="46.1" r="2.8"/><circle cx="106.5" cy="45.9" r="2.8"/><circle cx="89.9" cy="45.9" r="2.8"/><circle cx="112.5" cy="46.3" r="2.8"/><circle cx="120.8" cy="46.3" r="2.8"/><circle cx="91.2" cy="45.9" r="2.8"/><circle cx="96.7" cy="45.8" r="2.8"/><circle cx="110.2" cy="46.2" r="2.8"/><circle cx="93.7" cy="46.2" r="2.8"/><circle cx="111.4" cy="46.2" r="2.8"/><circle cx="107.5" cy="46.2" r="2.8"/><circle cx="95.0" cy="46.2" r="2.8"/><circle cx="116.2" cy="46.3" r="2.8"/><circle cx="102.6" cy="46.3" r="2.8"/><circle cx="108.1" cy="45.8" r="2.8"/><circle cx="109.8" cy="46.2" r="2.8"/><circle cx="117.0" cy="46.3" r="2.8"/><circle cx="99.6" cy="45.8" r="2.8"/><circle cx="122.0" cy="46.1" r="2.8"/><circle cx="120.7" cy="46.0" r="2.8"/><circle cx="114.6" cy="46.2" r="2.8"/><circle cx="97.5" cy="45.9" r="2.8"/><circle cx="108.9" cy="45.9" r="2.8"/><circle cx="93.4" cy="46.2" r="2.8"/><circle cx="104.5" cy="46.1" r="2.8"/><circle cx="89.3" cy="46.0" r="2.8"/><circle cx="106.7" cy="45.7" r="2.8"/><circle cx="95.2" cy="45.7" r="2.8"/><circle cx="115.0" cy="45.8" r="2.8"/><circle cx="113.6" cy="46.0" r="2.8"/><circle cx="106.6" cy="46.0" r="2.8"/><circle cx="114.5" cy="45.8" r="2.8"/><circle cx="115.2" cy="46.0" r="2.8"/><circle cx="114.8" cy="46.2" r="2.8"/><circle cx="109.8" cy="46.0" r="2.8"/><circle cx="112.5" cy="46.0" r="2.8"/><circle cx="105.2" cy="46.3" r="2.8"/><circle cx="112.7" cy="46.2" r="2.8"/><circle cx="105.3" cy="46.3" r="2.8"/><circle cx="116.8" cy="45.8" r="2.8"/><circle cx="104.0" cy="45.7" r="2.8"/><circle cx="91.4" cy="46.1" r="2.8"/><circle cx="109.9" cy="46.1" r="2.8"/><circle cx="103.0" cy="45.8" r="2.8"/><circle cx="111.8" cy="46.3" r="2.8"/><circle cx="105.5" cy="46.3" r="2.8"/><circle cx="104.7" cy="45.8" r="2.8"/><circle cx="106.5" cy="45.9" r="2.8"/><circle cx="99.8" cy="46.1" r="2.8"/><circle cx="107.8" cy="46.0" r="2.8"/><circle cx="100.2" cy="46.1" r="2.8"/><circle cx="91.1" cy="46.3" r="2.8"/><circle cx="109.9" cy="45.9" r="2.8"/><circle cx="115.4" cy="45.9" r="2.8"/><circle cx="103.3" cy="46.2" r="2.8"/><circle cx="105.2" cy="45.9" r="2.8"/><circle cx="120.2" cy="46.0" r="2.8"/><circle cx="108.4" cy="46.1" r="2.8"/><circle cx="91.4" cy="46.3" r="2.8"/><circle cx="107.5" cy="46.2" r="2.8"/><circle cx="118.1" cy="45.7" r="2.8"/><circle cx="98.5" cy="46.0" r="2.8"/><circle cx="108.2" cy="45.9" r="2.8"/><circle cx="106.9" cy="45.8" r="2.8"/><circle cx="94.4" cy="45.7" r="2.8"/><circle cx="99.5" cy="45.9" r="2.8"/><circle cx="103.5" cy="45.8" r="2.8"/><circle cx="89.6" cy="45.9" r="2.8"/><circle cx="113.9" cy="46.0" r="2.8"/><circle cx="105.1" cy="46.3" r="2.8"/><circle cx="116.8" cy="46.0" r="2.8"/><circle cx="117.3" cy="45.9" r="2.8"/><circle cx="112.3" cy="46.3" r="2.8"/><circle cx="117.2" cy="46.1" r="2.8"/><circle cx="115.6" cy="45.9" r="2.8"/><circle cx="90.8" cy="45.8" r="2.8"/><circle cx="114.1" cy="45.9" r="2.8"/><circle cx="91.8" cy="46.2" r="2.8"/><circle cx="102.6" cy="45.8" r="2.8"/><circle cx="104.6" cy="45.8" r="2.8"/><circle cx="97.9" cy="46.3" r="2.8"/><circle cx="99.9" cy="46.0" r="2.8"/><circle cx="121.8" cy="45.9" r="2.8"/><circle cx="89.0" cy="45.9" r="2.8"/><circle cx="106.0" cy="45.8" r="2.8"/><circle cx="89.1" cy="45.9" r="2.8"/><circle cx="102.5" cy="45.7" r="2.8"/><circle cx="99.3" cy="45.8" r="2.8"/><circle cx="106.9" cy="46.2" r="2.8"/><circle cx="102.2" cy="45.9" r="2.8"/><circle cx="122.4" cy="45.8" r="2.8"/><circle cx="88.9" cy="46.1" r="2.8"/><circle cx="117.3" cy="46.2" r="2.8"/><circle cx="104.4" cy="45.8" r="2.8"/><circle cx="106.1" cy="46.2" r="2.8"/><circle cx="90.5" cy="46.2" r="2.8"/><circle cx="119.3" cy="46.1" r="2.8"/><circle cx="106.2" cy="45.8" r="2.8"/><circle cx="92.5" cy="46.2" r="2.8"/><circle cx="110.3" cy="46.1" r="2.8"/><circle cx="108.1" cy="46.0" r="2.8"/><circle cx="116.1" cy="46.1" r="2.8"/><circle cx="107.1" cy="46.1" r="2.8"/><circle cx="114.0" cy="45.9" r="2.8"/><circle cx="98.0" cy="46.1" r="2.8"/><circle cx="114.1" cy="46.3" r="2.8"/><circle cx="101.9" cy="46.0" r="2.8"/><circle cx="107.2" cy="46.1" r="2.8"/><circle cx="94.0" cy="45.9" r="2.8"/><circle cx="94.2" cy="45.9" r="2.8"/><circle cx="89.4" cy="45.7" r="2.8"/><circle cx="111.8" cy="46.1" r="2.8"/><circle cx="103.3" cy="46.0" r="2.8"/><circle cx="93.0" cy="46.2" r="2.8"/><circle cx="122.2" cy="46.3" r="2.8"/><circle cx="104.5" cy="46.2" r="2.8"/><circle cx="115.9" cy="46.0" r="2.8"/><circle cx="96.1" cy="46.3" r="2.8"/><circle cx="108.7" cy="45.8" r="2.8"/><circle cx="121.3" cy="45.8" r="2.8"/><circle cx="88.2" cy="46.1" r="2.8"/><circle cx="119.5" cy="46.0" r="2.8"/><circle cx="89.1" cy="46.0" r="2.8"/><circle cx="99.2" cy="45.8" r="2.8"/><circle cx="99.7" cy="46.2" r="2.8"/><circle cx="114.5" cy="46.2" r="2.8"/><circle cx="120.4" cy="46.1" r="2.8"/><circle cx="105.0" cy="45.9" r="2.8"/><circle cx="102.3" cy="46.3" r="2.8"/><circle cx="101.2" cy="46.0" r="2.8"/><circle cx="90.6" cy="45.8" r="2.8"/><circle cx="101.5" cy="45.8" r="2.8"/><circle cx="106.3" cy="45.8" r="2.8"/><circle cx="121.5" cy="46.2" r="2.8"/><circle cx="125.4" cy="46.1" r="2.8"/><circle cx="115.9" cy="46.1" r="2.8"/><circle cx="113.8" cy="46.0" r="2.8"/><circle cx="102.0" cy="46.1" r="2.8"/><circle cx="90.6" cy="46.3" r="2.8"/><circle cx="105.0" cy="45.9" r="2.8"/><circle cx="114.1" cy="46.3" r="2.8"/><circle cx="111.2" cy="45.9" r="2.8"/><circle cx="102.4" cy="45.8" r="2.8"/><circle cx="96.0" cy="46.2" r="2.8"/><circle cx="96.4" cy="46.2" r="2.8"/><circle cx="185.7" cy="45.8" r="2.8"/><circle cx="184.8" cy="45.8" r="2.8"/><circle cx="182.1" cy="46.0" r="2.8"/><circle cx="191.2" cy="46.1" r="2.8"/><circle cx="187.1" cy="46.0" r="2.8"/><circle cx="184.6" cy="45.7" r="2.8"/><circle cx="204.8" cy="45.8" r="2.8"/><circle cx="194.0" cy="46.2" r="2.8"/><circle cx="182.5" cy="45.8" r="2.8"/><circle cx="188.1" cy="46.3" r="2.8"/><circle cx="191.0" cy="45.7" r="2.8"/><circle cx="188.6" cy="46.2" r="2.8"/><circle cx="192.6" cy="45.7" r="2.8"/><circle cx="203.5" cy="46.2" r="2.8"/><circle cx="195.8" cy="45.8" r="2.8"/><circle cx="190.5" cy="46.1" r="2.8"/><circle cx="188.8" cy="46.1" r="2.8"/><circle cx="190.6" cy="46.0" r="2.8"/><circle cx="198.9" cy="45.8" r="2.8"/><circle cx="181.0" cy="46.1" r="2.8"/><circle cx="177.9" cy="45.9" r="2.8"/><circle cx="188.6" cy="45.7" r="2.8"/><circle cx="192.5" cy="45.9" r="2.8"/><circle cx="193.1" cy="45.7" r="2.8"/><circle cx="188.6" cy="46.3" r="2.8"/><circle cx="186.1" cy="46.2" r="2.8"/><circle cx="181.3" cy="45.8" r="2.8"/><circle cx="187.9" cy="45.7" r="2.8"/><circle cx="195.4" cy="46.0" r="2.8"/><circle cx="195.2" cy="46.3" r="2.8"/><circle cx="174.9" cy="45.9" r="2.8"/><circle cx="195.7" cy="45.8" r="2.8"/><circle cx="183.2" cy="46.1" r="2.8"/><circle cx="180.4" cy="46.3" r="2.8"/><circle cx="200.1" cy="45.8" r="2.8"/><circle cx="198.2" cy="45.9" r="2.8"/><circle cx="184.7" cy="45.8" r="2.8"/><circle cx="195.1" cy="46.3" r="2.8"/><circle cx="186.4" cy="45.8" r="2.8"/><circle cx="190.0" cy="45.8" r="2.8"/><circle cx="175.7" cy="45.9" r="2.8"/><circle cx="199.5" cy="46.3" r="2.8"/><circle cx="181.1" cy="45.9" r="2.8"/><circle cx="203.8" cy="46.1" r="2.8"/><circle cx="195.1" cy="45.9" r="2.8"/><circle cx="184.4" cy="45.8" r="2.8"/><circle cx="182.8" cy="45.9" r="2.8"/><circle cx="204.5" cy="45.8" r="2.8"/><circle cx="200.1" cy="46.2" r="2.8"/><circle cx="175.4" cy="46.0" r="2.8"/><circle cx="203.2" cy="45.8" r="2.8"/><circle cx="202.5" cy="45.7" r="2.8"/><circle cx="199.8" cy="46.2" r="2.8"/><circle cx="174.9" cy="45.7" r="2.8"/><circle cx="204.3" cy="45.9" r="2.8"/><circle cx="195.7" cy="45.9" r="2.8"/><circle cx="185.5" cy="46.1" r="2.8"/><circle cx="196.8" cy="45.9" r="2.8"/><circle cx="173.9" cy="46.2" r="2.8"/><circle cx="177.1" cy="45.7" r="2.8"/><circle cx="189.0" cy="46.3" r="2.8"/><circle cx="175.5" cy="45.9" r="2.8"/><circle cx="187.6" cy="46.0" r="2.8"/><circle cx="195.7" cy="46.1" r="2.8"/><circle cx="203.0" cy="46.2" r="2.8"/><circle cx="186.5" cy="45.9" r="2.8"/><circle cx="196.0" cy="45.7" r="2.8"/><circle cx="197.9" cy="45.8" r="2.8"/><circle cx="174.9" cy="46.0" r="2.8"/><circle cx="205.2" cy="46.2" r="2.8"/><circle cx="189.5" cy="45.8" r="2.8"/><circle cx="196.5" cy="46.0" r="2.8"/><circle cx="187.2" cy="46.1" r="2.8"/><circle cx="193.2" cy="46.1" r="2.8"/><circle cx="187.7" cy="46.2" r="2.8"/><circle cx="192.0" cy="45.9" r="2.8"/><circle cx="186.3" cy="45.8" r="2.8"/><circle cx="181.7" cy="45.8" r="2.8"/><circle cx="183.6" cy="45.9" r="2.8"/><circle cx="186.5" cy="46.0" r="2.8"/><circle cx="199.7" cy="46.1" r="2.8"/><circle cx="197.1" cy="46.2" r="2.8"/><circle cx="195.3" cy="46.2" r="2.8"/><circle cx="183.2" cy="45.8" r="2.8"/><circle cx="205.0" cy="46.0" r="2.8"/><circle cx="178.7" cy="46.0" r="2.8"/><circle cx="198.7" cy="46.3" r="2.8"/><circle cx="192.9" cy="46.1" r="2.8"/><circle cx="185.6" cy="45.8" r="2.8"/><circle cx="182.0" cy="46.1" r="2.8"/><circle cx="201.4" cy="45.8" r="2.8"/><circle cx="184.3" cy="46.1" r="2.8"/><circle cx="183.8" cy="45.8" r="2.8"/><circle cx="187.1" cy="45.8" r="2.8"/><circle cx="191.4" cy="46.1" r="2.8"/><circle cx="179.1" cy="46.1" r="2.8"/><circle cx="182.9" cy="45.9" r="2.8"/><circle cx="189.0" cy="45.9" r="2.8"/><circle cx="185.3" cy="45.9" r="2.8"/><circle cx="197.4" cy="45.8" r="2.8"/><circle cx="189.7" cy="45.8" r="2.8"/><circle cx="202.7" cy="46.0" r="2.8"/><circle cx="176.1" cy="46.0" r="2.8"/><circle cx="174.3" cy="46.0" r="2.8"/><circle cx="199.0" cy="46.2" r="2.8"/><circle cx="193.7" cy="45.9" r="2.8"/><circle cx="178.5" cy="45.9" r="2.8"/><circle cx="203.4" cy="45.8" r="2.8"/><circle cx="199.6" cy="46.3" r="2.8"/><circle cx="177.9" cy="46.3" r="2.8"/><circle cx="187.2" cy="46.3" r="2.8"/><circle cx="202.8" cy="46.1" r="2.8"/><circle cx="190.1" cy="45.8" r="2.8"/><circle cx="191.2" cy="46.2" r="2.8"/><circle cx="197.8" cy="45.8" r="2.8"/><circle cx="186.6" cy="46.0" r="2.8"/><circle cx="177.8" cy="45.8" r="2.8"/><circle cx="191.7" cy="46.0" r="2.8"/><circle cx="188.4" cy="45.7" r="2.8"/><circle cx="197.8" cy="46.0" r="2.8"/><circle cx="197.1" cy="45.9" r="2.8"/><circle cx="192.5" cy="46.0" r="2.8"/><circle cx="181.7" cy="45.7" r="2.8"/><circle cx="192.6" cy="46.0" r="2.8"/><circle cx="198.3" cy="46.2" r="2.8"/><circle cx="179.6" cy="46.0" r="2.8"/><circle cx="177.9" cy="46.0" r="2.8"/><circle cx="188.0" cy="46.0" r="2.8"/><circle cx="194.2" cy="45.7" r="2.8"/><circle cx="191.5" cy="45.7" r="2.8"/><circle cx="185.9" cy="46.3" r="2.8"/><circle cx="201.3" cy="46.3" r="2.8"/><circle cx="180.4" cy="46.2" r="2.8"/><circle cx="205.2" cy="46.0" r="2.8"/><circle cx="194.0" cy="46.2" r="2.8"/><circle cx="187.4" cy="45.7" r="2.8"/><circle cx="198.0" cy="45.8" r="2.8"/><circle cx="187.5" cy="45.8" r="2.8"/><circle cx="203.3" cy="45.8" r="2.8"/><circle cx="190.0" cy="45.9" r="2.8"/><circle cx="179.7" cy="45.8" r="2.8"/><circle cx="204.4" cy="46.1" r="2.8"/><circle cx="196.7" cy="45.8" r="2.8"/><circle cx="194.2" cy="45.9" r="2.8"/><circle cx="202.1" cy="46.0" r="2.8"/><circle cx="202.1" cy="45.8" r="2.8"/><circle cx="184.3" cy="46.2" r="2.8"/><circle cx="205.5" cy="46.0" r="2.8"/><circle cx="198.3" cy="46.0" r="2.8"/><circle cx="197.6" cy="45.7" r="2.8"/><circle cx="184.0" cy="45.9" r="2.8"/><circle cx="200.4" cy="46.1" r="2.8"/><circle cx="173.9" cy="45.7" r="2.8"/><circle cx="193.5" cy="46.0" r="2.8"/><circle cx="202.5" cy="45.8" r="2.8"/><circle cx="194.7" cy="45.7" r="2.8"/><circle cx="185.2" cy="45.8" r="2.8"/><circle cx="181.0" cy="46.1" r="2.8"/><circle cx="180.4" cy="46.1" r="2.8"/><circle cx="178.1" cy="46.3" r="2.8"/><circle cx="178.6" cy="45.8" r="2.8"/><circle cx="188.8" cy="46.2" r="2.8"/><circle cx="184.7" cy="45.7" r="2.8"/><circle cx="193.4" cy="46.0" r="2.8"/><circle cx="194.5" cy="46.0" r="2.8"/><circle cx="189.2" cy="46.2" r="2.8"/><circle cx="190.8" cy="45.9" r="2.8"/><circle cx="175.7" cy="46.2" r="2.8"/><circle cx="191.5" cy="46.3" r="2.8"/><circle cx="180.2" cy="46.1" r="2.8"/><circle cx="194.4" cy="46.2" r="2.8"/><circle cx="183.7" cy="45.9" r="2.8"/><circle cx="202.3" cy="46.2" r="2.8"/><circle cx="183.8" cy="45.7" r="2.8"/><circle cx="189.6" cy="46.1" r="2.8"/><circle cx="181.1" cy="45.8" r="2.8"/><circle cx="175.1" cy="45.9" r="2.8"/><circle cx="180.9" cy="46.1" r="2.8"/><circle cx="188.3" cy="46.0" r="2.8"/><circle cx="199.1" cy="46.0" r="2.8"/><circle cx="194.4" cy="46.3" r="2.8"/><circle cx="202.0" cy="45.7" r="2.8"/><circle cx="181.4" cy="46.1" r="2.8"/><circle cx="183.7" cy="46.1" r="2.8"/><circle cx="202.0" cy="45.9" r="2.8"/><circle cx="202.9" cy="46.1" r="2.8"/><circle cx="178.5" cy="46.0" r="2.8"/><circle cx="170.7" cy="46.1" r="2.8"/><circle cx="178.0" cy="46.0" r="2.8"/><circle cx="180.6" cy="46.1" r="2.8"/><circle cx="203.0" cy="45.8" r="2.8"/><circle cx="177.2" cy="46.3" r="2.8"/><circle cx="178.4" cy="45.7" r="2.8"/><circle cx="196.0" cy="46.1" r="2.8"/><circle cx="194.8" cy="46.1" r="2.8"/><circle cx="192.7" cy="45.9" r="2.8"/><circle cx="197.0" cy="45.7" r="2.8"/><circle cx="174.6" cy="46.2" r="2.8"/><circle cx="194.1" cy="45.8" r="2.8"/><circle cx="201.0" cy="46.2" r="2.8"/><circle cx="193.2" cy="46.2" r="2.8"/><circle cx="189.0" cy="45.8" r="2.8"/><circle cx="277.5" cy="45.8" r="2.8"/><circle cx="271.1" cy="45.7" r="2.8"/><circle cx="266.3" cy="46.1" r="2.8"/><circle cx="267.6" cy="46.3" r="2.8"/><circle cx="285.7" cy="46.1" r="2.8"/><circle cx="270.7" cy="46.0" r="2.8"/><circle cx="266.1" cy="46.0" r="2.8"/><circle cx="286.0" cy="45.8" r="2.8"/><circle cx="284.6" cy="45.8" r="2.8"/><circle cx="263.6" cy="46.2" r="2.8"/><circle cx="283.6" cy="46.0" r="2.8"/><circle cx="274.0" cy="45.8" r="2.8"/><circle cx="268.5" cy="46.2" r="2.8"/><circle cx="288.8" cy="45.9" r="2.8"/><circle cx="280.5" cy="46.0" r="2.8"/><circle cx="278.3" cy="45.7" r="2.8"/><circle cx="268.8" cy="46.1" r="2.8"/><circle cx="270.4" cy="45.9" r="2.8"/><circle cx="259.6" cy="45.8" r="2.8"/><circle cx="279.4" cy="45.9" r="2.8"/><circle cx="274.6" cy="46.0" r="2.8"/><circle cx="286.8" cy="45.8" r="2.8"/><circle cx="274.8" cy="46.2" r="2.8"/><circle cx="268.9" cy="45.9" r="2.8"/><circle cx="285.4" cy="46.1" r="2.8"/><circle cx="267.5" cy="45.8" r="2.8"/><circle cx="283.0" cy="46.0" r="2.8"/><circle cx="272.4" cy="46.2" r="2.8"/><circle cx="263.2" cy="45.9" r="2.8"/><circle cx="276.4" cy="45.8" r="2.8"/><circle cx="267.8" cy="46.0" r="2.8"/><circle cx="267.9" cy="45.8" r="2.8"/><circle cx="269.6" cy="46.1" r="2.8"/><circle cx="289.4" cy="45.8" r="2.8"/><circle cx="290.2" cy="46.2" r="2.8"/><circle cx="268.6" cy="46.1" r="2.8"/><circle cx="263.7" cy="45.9" r="2.8"/><circle cx="270.3" cy="46.2" r="2.8"/><circle cx="275.9" cy="46.0" r="2.8"/><circle cx="269.1" cy="46.1" r="2.8"/><circle cx="281.9" cy="46.2" r="2.8"/><circle cx="276.2" cy="46.1" r="2.8"/><circle cx="264.5" cy="46.1" r="2.8"/><circle cx="274.8" cy="46.2" r="2.8"/><circle cx="281.4" cy="46.1" r="2.8"/><circle cx="267.3" cy="46.1" r="2.8"/><circle cx="271.0" cy="46.2" r="2.8"/><circle cx="263.4" cy="46.1" r="2.8"/><circle cx="271.1" cy="46.0" r="2.8"/><circle cx="263.0" cy="46.3" r="2.8"/><circle cx="279.0" cy="46.2" r="2.8"/><circle cx="273.4" cy="46.3" r="2.8"/><circle cx="275.2" cy="45.8" r="2.8"/><circle cx="280.6" cy="46.3" r="2.8"/><circle cx="260.1" cy="46.0" r="2.8"/><circle cx="281.1" cy="46.0" r="2.8"/><circle cx="278.6" cy="45.9" r="2.8"/><circle cx="264.6" cy="45.8" r="2.8"/><circle cx="262.5" cy="45.8" r="2.8"/><circle cx="282.7" cy="45.9" r="2.8"/><circle cx="266.0" cy="45.9" r="2.8"/><circle cx="270.9" cy="46.0" r="2.8"/><circle cx="269.7" cy="45.8" r="2.8"/><circle cx="279.1" cy="46.3" r="2.8"/><circle cx="264.2" cy="46.2" r="2.8"/><circle cx="263.9" cy="45.8" r="2.8"/><circle cx="278.1" cy="46.0" r="2.8"/><circle cx="264.4" cy="46.3" r="2.8"/><circle cx="278.4" cy="46.2" r="2.8"/><circle cx="262.5" cy="46.0" r="2.8"/><circle cx="275.3" cy="45.8" r="2.8"/><circle cx="263.6" cy="45.9" r="2.8"/><circle cx="265.3" cy="46.0" r="2.8"/><circle cx="256.8" cy="46.1" r="2.8"/><circle cx="265.0" cy="45.9" r="2.8"/><circle cx="271.3" cy="46.1" r="2.8"/><circle cx="286.8" cy="45.9" r="2.8"/><circle cx="275.5" cy="46.2" r="2.8"/><circle cx="271.4" cy="46.2" r="2.8"/><circle cx="285.0" cy="46.1" r="2.8"/><circle cx="257.1" cy="46.3" r="2.8"/><circle cx="273.7" cy="45.8" r="2.8"/><circle cx="283.1" cy="45.9" r="2.8"/><circle cx="287.4" cy="46.2" r="2.8"/><circle cx="287.0" cy="46.1" r="2.8"/><circle cx="277.6" cy="46.1" r="2.8"/><circle cx="277.6" cy="45.8" r="2.8"/><circle cx="257.9" cy="46.0" r="2.8"/><circle cx="257.4" cy="46.0" r="2.8"/><circle cx="264.7" cy="45.8" r="2.8"/><circle cx="258.7" cy="46.0" r="2.8"/><circle cx="273.4" cy="46.0" r="2.8"/><circle cx="286.0" cy="45.7" r="2.8"/><circle cx="280.3" cy="46.0" r="2.8"/><circle cx="279.3" cy="46.2" r="2.8"/><circle cx="270.9" cy="46.3" r="2.8"/><circle cx="278.4" cy="46.1" r="2.8"/><circle cx="277.4" cy="46.1" r="2.8"/><circle cx="262.1" cy="46.0" r="2.8"/><circle cx="287.2" cy="45.7" r="2.8"/><circle cx="268.3" cy="46.2" r="2.8"/><circle cx="272.8" cy="46.0" r="2.8"/><circle cx="268.2" cy="45.8" r="2.8"/><circle cx="271.1" cy="46.0" r="2.8"/><circle cx="269.5" cy="45.9" r="2.8"/><circle cx="265.9" cy="46.0" r="2.8"/><circle cx="289.1" cy="46.1" r="2.8"/><circle cx="270.1" cy="45.9" r="2.8"/><circle cx="278.3" cy="46.2" r="2.8"/><circle cx="281.3" cy="46.2" r="2.8"/><circle cx="258.4" cy="45.9" r="2.8"/><circle cx="263.2" cy="46.3" r="2.8"/><circle cx="280.2" cy="46.1" r="2.8"/><circle cx="283.6" cy="46.1" r="2.8"/><circle cx="267.4" cy="46.1" r="2.8"/><circle cx="279.9" cy="45.8" r="2.8"/><circle cx="259.8" cy="45.8" r="2.8"/><circle cx="258.0" cy="46.2" r="2.8"/><circle cx="277.5" cy="46.1" r="2.8"/><circle cx="284.7" cy="46.2" r="2.8"/><circle cx="265.5" cy="45.9" r="2.8"/><circle cx="267.5" cy="46.0" r="2.8"/><circle cx="276.3" cy="46.0" r="2.8"/><circle cx="260.7" cy="46.2" r="2.8"/><circle cx="287.9" cy="46.0" r="2.8"/><circle cx="269.9" cy="46.1" r="2.8"/><circle cx="272.6" cy="46.3" r="2.8"/><circle cx="270.7" cy="45.8" r="2.8"/><circle cx="274.9" cy="45.7" r="2.8"/><circle cx="280.0" cy="45.8" r="2.8"/><circle cx="278.4" cy="45.8" r="2.8"/><circle cx="274.8" cy="46.1" r="2.8"/><circle cx="281.6" cy="45.8" r="2.8"/><circle cx="283.0" cy="46.1" r="2.8"/><circle cx="274.9" cy="46.1" r="2.8"/><circle cx="278.1" cy="46.1" r="2.8"/><circle cx="288.4" cy="45.9" r="2.8"/><circle cx="273.4" cy="45.7" r="2.8"/><circle cx="272.4" cy="46.2" r="2.8"/><circle cx="267.3" cy="46.1" r="2.8"/><circle cx="286.0" cy="46.0" r="2.8"/><circle cx="269.2" cy="46.0" r="2.8"/><circle cx="279.7" cy="45.8" r="2.8"/><circle cx="265.7" cy="46.1" r="2.8"/><circle cx="269.8" cy="46.2" r="2.8"/><circle cx="283.0" cy="46.2" r="2.8"/><circle cx="266.6" cy="45.7" r="2.8"/><circle cx="269.1" cy="45.9" r="2.8"/><circle cx="258.5" cy="46.3" r="2.8"/><circle cx="267.8" cy="46.0" r="2.8"/><circle cx="269.4" cy="45.9" r="2.8"/><circle cx="259.2" cy="46.2" r="2.8"/><circle cx="256.8" cy="45.9" r="2.8"/><circle cx="276.7" cy="46.2" r="2.8"/><circle cx="262.9" cy="45.7" r="2.8"/><circle cx="280.2" cy="46.0" r="2.8"/><circle cx="285.6" cy="46.2" r="2.8"/><circle cx="257.9" cy="46.2" r="2.8"/><circle cx="259.6" cy="46.0" r="2.8"/><circle cx="278.0" cy="46.3" r="2.8"/><circle cx="277.3" cy="46.1" r="2.8"/><circle cx="263.7" cy="45.9" r="2.8"/><circle cx="287.2" cy="46.2" r="2.8"/><circle cx="259.7" cy="46.2" r="2.8"/><circle cx="274.9" cy="46.2" r="2.8"/><circle cx="284.8" cy="46.0" r="2.8"/><circle cx="276.7" cy="45.8" r="2.8"/><circle cx="262.9" cy="46.1" r="2.8"/><circle cx="275.9" cy="45.9" r="2.8"/><circle cx="261.8" cy="45.7" r="2.8"/><circle cx="270.9" cy="46.1" r="2.8"/><circle cx="276.6" cy="45.8" r="2.8"/><circle cx="268.4" cy="46.0" r="2.8"/><circle cx="257.8" cy="46.3" r="2.8"/><circle cx="262.7" cy="45.9" r="2.8"/><circle cx="274.7" cy="46.0" r="2.8"/><circle cx="275.4" cy="46.3" r="2.8"/><circle cx="258.0" cy="45.8" r="2.8"/><circle cx="259.6" cy="45.7" r="2.8"/><circle cx="286.3" cy="46.0" r="2.8"/><circle cx="258.1" cy="46.2" r="2.8"/><circle cx="277.0" cy="45.9" r="2.8"/><circle cx="289.3" cy="45.9" r="2.8"/><circle cx="278.5" cy="46.3" r="2.8"/><circle cx="266.4" cy="45.8" r="2.8"/><circle cx="279.5" cy="46.3" r="2.8"/><circle cx="258.0" cy="45.9" r="2.8"/><circle cx="287.4" cy="46.2" r="2.8"/><circle cx="288.0" cy="46.1" r="2.8"/><circle cx="278.1" cy="46.3" r="2.8"/><circle cx="261.6" cy="46.2" r="2.8"/><circle cx="270.5" cy="46.1" r="2.8"/><circle cx="267.3" cy="45.8" r="2.8"/><circle cx="265.4" cy="45.8" r="2.8"/><circle cx="262.4" cy="45.8" r="2.8"/><circle cx="279.7" cy="45.7" r="2.8"/><circle cx="274.5" cy="46.3" r="2.8"/><circle cx="288.5" cy="46.2" r="2.8"/><circle cx="275.9" cy="45.8" r="2.8"/><circle cx="260.0" cy="46.3" r="2.8"/><circle cx="267.3" cy="45.9" r="2.8"/><circle cx="267.0" cy="46.0" r="2.8"/><circle cx="361.3" cy="45.7" r="2.8"/><circle cx="362.3" cy="46.0" r="2.8"/><circle cx="370.2" cy="45.9" r="2.8"/><circle cx="345.9" cy="45.9" r="2.8"/><circle cx="355.0" cy="46.0" r="2.8"/><circle cx="371.3" cy="45.8" r="2.8"/><circle cx="362.0" cy="45.7" r="2.8"/><circle cx="354.7" cy="46.0" r="2.8"/><circle cx="349.4" cy="45.8" r="2.8"/><circle cx="374.3" cy="46.3" r="2.8"/><circle cx="352.5" cy="45.8" r="2.8"/><circle cx="371.1" cy="45.7" r="2.8"/><circle cx="351.2" cy="45.7" r="2.8"/><circle cx="355.1" cy="45.7" r="2.8"/><circle cx="361.5" cy="46.0" r="2.8"/><circle cx="355.4" cy="46.2" r="2.8"/><circle cx="360.0" cy="45.8" r="2.8"/><circle cx="366.8" cy="46.1" r="2.8"/><circle cx="343.3" cy="45.8" r="2.8"/><circle cx="350.8" cy="45.8" r="2.8"/><circle cx="357.8" cy="46.1" r="2.8"/><circle cx="352.6" cy="45.7" r="2.8"/><circle cx="354.7" cy="45.9" r="2.8"/><circle cx="372.2" cy="45.9" r="2.8"/><circle cx="362.9" cy="46.2" r="2.8"/><circle cx="341.1" cy="46.2" r="2.8"/><circle cx="370.2" cy="45.9" r="2.8"/><circle cx="368.9" cy="45.9" r="2.8"/><circle cx="353.2" cy="46.1" r="2.8"/><circle cx="358.3" cy="46.0" r="2.8"/><circle cx="344.7" cy="46.1" r="2.8"/><circle cx="362.6" cy="46.1" r="2.8"/><circle cx="366.1" cy="45.7" r="2.8"/><circle cx="352.0" cy="46.3" r="2.8"/><circle cx="358.0" cy="46.0" r="2.8"/><circle cx="341.3" cy="46.3" r="2.8"/><circle cx="346.8" cy="45.8" r="2.8"/><circle cx="368.4" cy="45.7" r="2.8"/><circle cx="364.4" cy="45.8" r="2.8"/><circle cx="361.0" cy="46.0" r="2.8"/><circle cx="364.5" cy="45.8" r="2.8"/><circle cx="357.1" cy="45.8" r="2.8"/><circle cx="357.6" cy="45.9" r="2.8"/><circle cx="354.4" cy="45.8" r="2.8"/><circle cx="369.9" cy="45.8" r="2.8"/><circle cx="366.0" cy="45.8" r="2.8"/><circle cx="355.1" cy="46.3" r="2.8"/><circle cx="354.9" cy="46.2" r="2.8"/><circle cx="354.0" cy="46.3" r="2.8"/><circle cx="354.3" cy="45.9" r="2.8"/><circle cx="374.0" cy="46.2" r="2.8"/><circle cx="362.9" cy="46.2" r="2.8"/><circle cx="367.3" cy="46.3" r="2.8"/><circle cx="361.0" cy="45.8" r="2.8"/><circle cx="362.1" cy="45.9" r="2.8"/><circle cx="342.9" cy="46.0" r="2.8"/><circle cx="341.3" cy="45.8" r="2.8"/><circle cx="360.9" cy="46.1" r="2.8"/><circle cx="337.9" cy="46.2" r="2.8"/><circle cx="369.5" cy="45.9" r="2.8"/><circle cx="360.2" cy="45.9" r="2.8"/><circle cx="372.0" cy="46.1" r="2.8"/><circle cx="358.3" cy="46.0" r="2.8"/><circle cx="355.9" cy="46.1" r="2.8"/><circle cx="360.8" cy="46.3" r="2.8"/><circle cx="349.7" cy="46.0" r="2.8"/><circle cx="345.6" cy="45.8" r="2.8"/><circle cx="350.6" cy="45.9" r="2.8"/><circle cx="348.9" cy="45.8" r="2.8"/><circle cx="369.1" cy="46.1" r="2.8"/><circle cx="362.7" cy="45.8" r="2.8"/><circle cx="364.6" cy="46.0" r="2.8"/><circle cx="361.4" cy="46.0" r="2.8"/><circle cx="348.8" cy="45.8" r="2.8"/><circle cx="353.6" cy="46.1" r="2.8"/><circle cx="352.6" cy="46.2" r="2.8"/><circle cx="359.5" cy="46.0" r="2.8"/><circle cx="374.2" cy="45.9" r="2.8"/><circle cx="359.3" cy="46.2" r="2.8"/><circle cx="342.7" cy="45.9" r="2.8"/><circle cx="365.6" cy="45.8" r="2.8"/><circle cx="373.2" cy="46.1" r="2.8"/><circle cx="352.0" cy="45.9" r="2.8"/><circle cx="360.2" cy="46.1" r="2.8"/><circle cx="362.0" cy="46.1" r="2.8"/><circle cx="348.3" cy="46.2" r="2.8"/><circle cx="367.3" cy="46.1" r="2.8"/><circle cx="369.6" cy="45.7" r="2.8"/><circle cx="369.9" cy="46.1" r="2.8"/><circle cx="373.3" cy="46.0" r="2.8"/><circle cx="367.2" cy="46.2" r="2.8"/><circle cx="350.8" cy="46.0" r="2.8"/><circle cx="364.0" cy="45.9" r="2.8"/><circle cx="359.5" cy="45.9" r="2.8"/><circle cx="367.4" cy="46.2" r="2.8"/><circle cx="355.7" cy="45.8" r="2.8"/><circle cx="345.5" cy="46.0" r="2.8"/><circle cx="343.6" cy="46.3" r="2.8"/><circle cx="369.3" cy="46.2" r="2.8"/><circle cx="360.1" cy="46.2" r="2.8"/><circle cx="342.2" cy="46.0" r="2.8"/><circle cx="371.9" cy="46.2" r="2.8"/><circle cx="374.5" cy="46.0" r="2.8"/><circle cx="363.9" cy="45.9" r="2.8"/><circle cx="360.8" cy="45.9" r="2.8"/><circle cx="366.2" cy="46.1" r="2.8"/><circle cx="344.0" cy="45.9" r="2.8"/><circle cx="359.7" cy="46.0" r="2.8"/><circle cx="367.2" cy="46.0" r="2.8"/><circle cx="355.4" cy="46.3" r="2.8"/><circle cx="358.6" cy="46.2" r="2.8"/><circle cx="351.4" cy="46.3" r="2.8"/><circle cx="353.5" cy="46.2" r="2.8"/><circle cx="357.3" cy="46.2" r="2.8"/><circle cx="364.4" cy="45.8" r="2.8"/><circle cx="358.0" cy="46.0" r="2.8"/><circle cx="346.8" cy="46.1" r="2.8"/><circle cx="351.8" cy="45.9" r="2.8"/><circle cx="356.0" cy="45.9" r="2.8"/><circle cx="355.7" cy="45.9" r="2.8"/><circle cx="364.8" cy="46.2" r="2.8"/><circle cx="363.3" cy="45.8" r="2.8"/><circle cx="359.4" cy="45.9" r="2.8"/><circle cx="357.8" cy="46.0" r="2.8"/><circle cx="349.8" cy="45.8" r="2.8"/><circle cx="366.4" cy="45.8" r="2.8"/><circle cx="346.4" cy="46.0" r="2.8"/><circle cx="353.6" cy="46.1" r="2.8"/><circle cx="358.8" cy="46.2" r="2.8"/><circle cx="364.9" cy="45.9" r="2.8"/><circle cx="349.7" cy="45.8" r="2.8"/><circle cx="358.1" cy="46.0" r="2.8"/><circle cx="355.9" cy="45.9" r="2.8"/><circle cx="370.9" cy="46.0" r="2.8"/><circle cx="346.6" cy="45.8" r="2.8"/><circle cx="372.2" cy="46.2" r="2.8"/><circle cx="371.2" cy="46.2" r="2.8"/><circle cx="361.1" cy="46.3" r="2.8"/><circle cx="372.9" cy="45.8" r="2.8"/><circle cx="365.0" cy="45.8" r="2.8"/><circle cx="370.4" cy="46.0" r="2.8"/><circle cx="362.0" cy="45.8" r="2.8"/><circle cx="352.8" cy="45.8" r="2.8"/><circle cx="354.8" cy="45.8" r="2.8"/><circle cx="353.7" cy="45.9" r="2.8"/><circle cx="344.8" cy="46.2" r="2.8"/><circle cx="348.9" cy="45.8" r="2.8"/><circle cx="348.7" cy="45.7" r="2.8"/><circle cx="368.2" cy="45.9" r="2.8"/><circle cx="364.6" cy="45.8" r="2.8"/><circle cx="369.0" cy="45.8" r="2.8"/><circle cx="369.0" cy="46.2" r="2.8"/><circle cx="352.6" cy="46.1" r="2.8"/><circle cx="373.2" cy="45.8" r="2.8"/><circle cx="351.5" cy="46.0" r="2.8"/><circle cx="364.6" cy="45.9" r="2.8"/><circle cx="357.4" cy="46.1" r="2.8"/><circle cx="349.0" cy="46.1" r="2.8"/><circle cx="370.3" cy="45.8" r="2.8"/><circle cx="359.0" cy="45.9" r="2.8"/><circle cx="348.3" cy="46.0" r="2.8"/><circle cx="353.8" cy="45.8" r="2.8"/><circle cx="369.5" cy="45.9" r="2.8"/><circle cx="365.8" cy="45.8" r="2.8"/><circle cx="352.9" cy="46.0" r="2.8"/><circle cx="342.8" cy="45.9" r="2.8"/><circle cx="344.9" cy="46.1" r="2.8"/><circle cx="354.3" cy="46.2" r="2.8"/><circle cx="370.1" cy="45.8" r="2.8"/><circle cx="341.6" cy="46.1" r="2.8"/><circle cx="346.2" cy="45.9" r="2.8"/><circle cx="363.0" cy="46.1" r="2.8"/><circle cx="369.4" cy="45.9" r="2.8"/><circle cx="359.3" cy="46.2" r="2.8"/><circle cx="361.4" cy="46.1" r="2.8"/><circle cx="342.0" cy="45.8" r="2.8"/><circle cx="350.9" cy="45.9" r="2.8"/><circle cx="351.2" cy="46.1" r="2.8"/><circle cx="369.1" cy="46.0" r="2.8"/><circle cx="357.3" cy="46.1" r="2.8"/><circle cx="340.6" cy="46.2" r="2.8"/><circle cx="366.7" cy="45.9" r="2.8"/><circle cx="369.6" cy="46.1" r="2.8"/><circle cx="348.9" cy="45.8" r="2.8"/><circle cx="362.3" cy="46.1" r="2.8"/><circle cx="364.2" cy="45.9" r="2.8"/><circle cx="375.9" cy="46.2" r="2.8"/><circle cx="343.6" cy="46.3" r="2.8"/><circle cx="372.2" cy="46.1" r="2.8"/><circle cx="363.3" cy="46.0" r="2.8"/><circle cx="364.3" cy="46.0" r="2.8"/><circle cx="372.1" cy="45.8" r="2.8"/><circle cx="347.1" cy="45.7" r="2.8"/><circle cx="359.9" cy="46.0" r="2.8"/><circle cx="351.4" cy="46.1" r="2.8"/><circle cx="349.1" cy="45.7" r="2.8"/><circle cx="354.6" cy="45.8" r="2.8"/><circle cx="345.2" cy="46.1" r="2.8"/><circle cx="358.1" cy="46.0" r="2.8"/><circle cx="372.4" cy="45.9" r="2.8"/><circle cx="370.7" cy="45.8" r="2.8"/><circle cx="351.9" cy="46.2" r="2.8"/><circle cx="449.5" cy="45.8" r="2.8"/><circle cx="447.2" cy="46.1" r="2.8"/><circle cx="449.7" cy="46.2" r="2.8"/><circle cx="434.9" cy="45.9" r="2.8"/><circle cx="427.8" cy="45.9" r="2.8"/><circle cx="447.7" cy="46.0" r="2.8"/><circle cx="436.0" cy="46.0" r="2.8"/><circle cx="431.2" cy="45.7" r="2.8"/><circle cx="456.7" cy="46.2" r="2.8"/><circle cx="448.2" cy="46.3" r="2.8"/><circle cx="429.3" cy="46.0" r="2.8"/><circle cx="431.9" cy="46.0" r="2.8"/><circle cx="454.5" cy="46.1" r="2.8"/><circle cx="451.8" cy="45.9" r="2.8"/><circle cx="430.3" cy="45.7" r="2.8"/><circle cx="437.0" cy="46.2" r="2.8"/><circle cx="431.7" cy="46.1" r="2.8"/><circle cx="445.7" cy="46.2" r="2.8"/><circle cx="439.4" cy="46.1" r="2.8"/><circle cx="431.7" cy="46.2" r="2.8"/><circle cx="437.4" cy="46.0" r="2.8"/><circle cx="451.7" cy="45.8" r="2.8"/><circle cx="443.5" cy="46.1" r="2.8"/><circle cx="436.8" cy="46.3" r="2.8"/><circle cx="441.5" cy="45.8" r="2.8"/><circle cx="444.0" cy="45.7" r="2.8"/><circle cx="425.3" cy="45.8" r="2.8"/><circle cx="456.0" cy="45.8" r="2.8"/><circle cx="439.6" cy="45.8" r="2.8"/><circle cx="456.3" cy="46.2" r="2.8"/><circle cx="441.7" cy="46.0" r="2.8"/><circle cx="446.5" cy="46.0" r="2.8"/><circle cx="436.5" cy="46.0" r="2.8"/><circle cx="449.2" cy="45.8" r="2.8"/><circle cx="439.7" cy="46.0" r="2.8"/><circle cx="432.0" cy="45.8" r="2.8"/><circle cx="440.2" cy="46.3" r="2.8"/><circle cx="426.6" cy="46.2" r="2.8"/><circle cx="451.9" cy="46.2" r="2.8"/><circle cx="446.9" cy="46.1" r="2.8"/><circle cx="443.7" cy="46.3" r="2.8"/><circle cx="446.0" cy="45.9" r="2.8"/><circle cx="453.4" cy="45.7" r="2.8"/><circle cx="447.0" cy="46.0" r="2.8"/><circle cx="446.4" cy="45.9" r="2.8"/><circle cx="438.9" cy="46.0" r="2.8"/><circle cx="438.3" cy="45.8" r="2.8"/><circle cx="453.6" cy="46.0" r="2.8"/><circle cx="452.7" cy="45.9" r="2.8"/><circle cx="442.4" cy="45.9" r="2.8"/><circle cx="443.1" cy="45.8" r="2.8"/><circle cx="429.5" cy="46.0" r="2.8"/><circle cx="428.5" cy="45.9" r="2.8"/><circle cx="439.6" cy="46.2" r="2.8"/><circle cx="448.1" cy="46.2" r="2.8"/><circle cx="456.7" cy="46.1" r="2.8"/><circle cx="451.7" cy="45.9" r="2.8"/><circle cx="455.7" cy="46.0" r="2.8"/><circle cx="438.9" cy="45.8" r="2.8"/><circle cx="446.8" cy="45.9" r="2.8"/><circle cx="444.4" cy="45.8" r="2.8"/><circle cx="447.9" cy="46.0" r="2.8"/><circle cx="443.5" cy="46.1" r="2.8"/><circle cx="425.5" cy="46.2" r="2.8"/><circle cx="449.1" cy="45.9" r="2.8"/><circle cx="434.8" cy="46.1" r="2.8"/><circle cx="446.8" cy="46.1" r="2.8"/><circle cx="446.7" cy="46.1" r="2.8"/><circle cx="444.7" cy="45.8" r="2.8"/><circle cx="450.9" cy="45.8" r="2.8"/><circle cx="438.8" cy="45.8" r="2.8"/><circle cx="452.0" cy="46.0" r="2.8"/><circle cx="426.6" cy="45.8" r="2.8"/><circle cx="436.2" cy="45.8" r="2.8"/><circle cx="435.0" cy="46.1" r="2.8"/><circle cx="430.4" cy="46.2" r="2.8"/><circle cx="447.3" cy="46.2" r="2.8"/><circle cx="448.5" cy="45.8" r="2.8"/><circle cx="453.0" cy="46.2" r="2.8"/><circle cx="431.6" cy="46.2" r="2.8"/><circle cx="442.1" cy="45.9" r="2.8"/><circle cx="430.9" cy="46.2" r="2.8"/><circle cx="453.0" cy="46.1" r="2.8"/><circle cx="436.2" cy="45.8" r="2.8"/><circle cx="439.5" cy="45.8" r="2.8"/><circle cx="440.5" cy="46.0" r="2.8"/><circle cx="436.9" cy="45.7" r="2.8"/><circle cx="436.3" cy="45.7" r="2.8"/><circle cx="456.6" cy="45.7" r="2.8"/><circle cx="446.8" cy="45.9" r="2.8"/><circle cx="441.5" cy="45.9" r="2.8"/><circle cx="442.3" cy="46.3" r="2.8"/><circle cx="440.2" cy="45.7" r="2.8"/><circle cx="449.9" cy="46.2" r="2.8"/><circle cx="434.1" cy="45.9" r="2.8"/><circle cx="450.6" cy="46.2" r="2.8"/><circle cx="433.3" cy="46.1" r="2.8"/><circle cx="449.6" cy="46.1" r="2.8"/><circle cx="445.7" cy="45.9" r="2.8"/><circle cx="438.6" cy="45.7" r="2.8"/><circle cx="436.0" cy="46.3" r="2.8"/><circle cx="437.4" cy="45.8" r="2.8"/><circle cx="436.8" cy="45.8" r="2.8"/><circle cx="453.0" cy="46.0" r="2.8"/><circle cx="443.6" cy="45.9" r="2.8"/><circle cx="428.0" cy="45.9" r="2.8"/><circle cx="448.5" cy="46.0" r="2.8"/><circle cx="432.1" cy="46.1" r="2.8"/><circle cx="431.5" cy="46.0" r="2.8"/><circle cx="456.2" cy="45.9" r="2.8"/><circle cx="427.4" cy="45.7" r="2.8"/><circle cx="453.8" cy="45.9" r="2.8"/><circle cx="426.7" cy="45.8" r="2.8"/><circle cx="447.8" cy="45.8" r="2.8"/><circle cx="432.2" cy="46.1" r="2.8"/><circle cx="448.3" cy="46.1" r="2.8"/><circle cx="448.7" cy="46.3" r="2.8"/><circle cx="453.9" cy="46.2" r="2.8"/><circle cx="430.2" cy="45.8" r="2.8"/><circle cx="453.1" cy="46.1" r="2.8"/><circle cx="448.2" cy="45.8" r="2.8"/><circle cx="449.2" cy="46.1" r="2.8"/><circle cx="447.0" cy="45.9" r="2.8"/><circle cx="438.8" cy="45.7" r="2.8"/><circle cx="436.9" cy="46.1" r="2.8"/><circle cx="440.3" cy="45.7" r="2.8"/><circle cx="449.3" cy="46.0" r="2.8"/><circle cx="451.5" cy="46.1" r="2.8"/><circle cx="428.9" cy="45.8" r="2.8"/><circle cx="449.8" cy="45.8" r="2.8"/><circle cx="445.2" cy="46.0" r="2.8"/><circle cx="444.2" cy="46.0" r="2.8"/><circle cx="435.9" cy="46.1" r="2.8"/><circle cx="448.0" cy="46.2" r="2.8"/><circle cx="437.3" cy="45.9" r="2.8"/><circle cx="449.9" cy="45.9" r="2.8"/><circle cx="455.1" cy="45.8" r="2.8"/><circle cx="440.7" cy="46.1" r="2.8"/><circle cx="440.3" cy="45.9" r="2.8"/><circle cx="443.3" cy="45.8" r="2.8"/><circle cx="430.1" cy="45.7" r="2.8"/><circle cx="443.2" cy="45.8" r="2.8"/><circle cx="454.4" cy="45.9" r="2.8"/><circle cx="431.5" cy="46.1" r="2.8"/><circle cx="442.5" cy="46.2" r="2.8"/><circle cx="456.4" cy="46.0" r="2.8"/><circle cx="443.1" cy="45.9" r="2.8"/><circle cx="434.8" cy="46.2" r="2.8"/><circle cx="448.7" cy="45.7" r="2.8"/><circle cx="443.2" cy="45.9" r="2.8"/><circle cx="450.8" cy="45.9" r="2.8"/><circle cx="445.1" cy="46.3" r="2.8"/><circle cx="442.4" cy="45.9" r="2.8"/><circle cx="433.1" cy="45.8" r="2.8"/><circle cx="447.3" cy="46.1" r="2.8"/><circle cx="456.8" cy="45.8" r="2.8"/><circle cx="430.8" cy="46.2" r="2.8"/><circle cx="440.1" cy="46.2" r="2.8"/><circle cx="436.3" cy="46.0" r="2.8"/><circle cx="454.3" cy="45.8" r="2.8"/><circle cx="434.5" cy="46.0" r="2.8"/><circle cx="436.6" cy="45.8" r="2.8"/><circle cx="432.9" cy="46.2" r="2.8"/><circle cx="452.8" cy="46.3" r="2.8"/><circle cx="426.7" cy="45.8" r="2.8"/><circle cx="451.8" cy="45.7" r="2.8"/><circle cx="448.9" cy="45.8" r="2.8"/><circle cx="447.1" cy="45.8" r="2.8"/><circle cx="454.4" cy="46.1" r="2.8"/><circle cx="451.7" cy="46.3" r="2.8"/><circle cx="433.2" cy="46.2" r="2.8"/><circle cx="450.4" cy="45.8" r="2.8"/><circle cx="429.2" cy="45.7" r="2.8"/><circle cx="443.6" cy="45.9" r="2.8"/><circle cx="448.0" cy="45.8" r="2.8"/><circle cx="431.5" cy="46.1" r="2.8"/><circle cx="448.9" cy="46.0" r="2.8"/><circle cx="436.9" cy="46.0" r="2.8"/><circle cx="447.6" cy="45.9" r="2.8"/><circle cx="456.0" cy="46.2" r="2.8"/><circle cx="440.8" cy="45.9" r="2.8"/><circle cx="427.3" cy="46.0" r="2.8"/><circle cx="443.2" cy="45.9" r="2.8"/><circle cx="447.3" cy="46.1" r="2.8"/><circle cx="443.0" cy="46.1" r="2.8"/><circle cx="446.3" cy="46.2" r="2.8"/><circle cx="436.0" cy="46.0" r="2.8"/><circle cx="445.5" cy="45.9" r="2.8"/><circle cx="438.7" cy="45.8" r="2.8"/><circle cx="452.1" cy="46.3" r="2.8"/><circle cx="444.9" cy="45.9" r="2.8"/><circle cx="432.1" cy="45.8" r="2.8"/><circle cx="441.8" cy="46.2" r="2.8"/><circle cx="452.8" cy="45.9" r="2.8"/><circle cx="445.1" cy="46.0" r="2.8"/><circle cx="456.1" cy="45.7" r="2.8"/><circle cx="447.1" cy="46.1" r="2.8"/><circle cx="434.1" cy="45.8" r="2.8"/><circle cx="441.2" cy="46.1" r="2.8"/><circle cx="442.3" cy="46.1" r="2.8"/><circle cx="433.9" cy="45.9" r="2.8"/><circle cx="436.2" cy="46.1" r="2.8"/><circle cx="539.7" cy="46.0" r="2.8"/><circle cx="523.7" cy="46.0" r="2.8"/><circle cx="515.6" cy="45.8" r="2.8"/><circle cx="514.9" cy="46.0" r="2.8"/><circle cx="523.4" cy="45.8" r="2.8"/><circle cx="536.6" cy="46.0" r="2.8"/><circle cx="534.0" cy="46.2" r="2.8"/><circle cx="521.2" cy="46.2" r="2.8"/><circle cx="509.0" cy="45.8" r="2.8"/><circle cx="516.7" cy="45.8" r="2.8"/><circle cx="536.0" cy="46.0" r="2.8"/><circle cx="510.9" cy="45.9" r="2.8"/><circle cx="522.1" cy="46.0" r="2.8"/><circle cx="516.4" cy="46.2" r="2.8"/><circle cx="531.7" cy="45.9" r="2.8"/><circle cx="516.2" cy="45.9" r="2.8"/><circle cx="521.2" cy="45.7" r="2.8"/><circle cx="527.8" cy="45.7" r="2.8"/><circle cx="533.0" cy="45.9" r="2.8"/><circle cx="516.3" cy="46.2" r="2.8"/><circle cx="530.1" cy="46.2" r="2.8"/><circle cx="522.7" cy="46.2" r="2.8"/><circle cx="523.5" cy="46.0" r="2.8"/><circle cx="532.8" cy="45.9" r="2.8"/><circle cx="530.5" cy="46.2" r="2.8"/><circle cx="521.3" cy="46.0" r="2.8"/><circle cx="527.2" cy="45.8" r="2.8"/><circle cx="523.4" cy="46.1" r="2.8"/><circle cx="510.3" cy="46.2" r="2.8"/><circle cx="526.3" cy="46.0" r="2.8"/><circle cx="517.2" cy="46.2" r="2.8"/><circle cx="528.6" cy="46.0" r="2.8"/><circle cx="537.2" cy="45.9" r="2.8"/><circle cx="539.0" cy="46.0" r="2.8"/><circle cx="525.8" cy="46.2" r="2.8"/><circle cx="524.8" cy="45.7" r="2.8"/><circle cx="516.5" cy="46.0" r="2.8"/><circle cx="525.9" cy="45.8" r="2.8"/><circle cx="536.5" cy="45.8" r="2.8"/><circle cx="534.2" cy="46.0" r="2.8"/><circle cx="531.7" cy="46.1" r="2.8"/><circle cx="509.8" cy="46.1" r="2.8"/><circle cx="528.3" cy="46.3" r="2.8"/><circle cx="521.0" cy="46.2" r="2.8"/><circle cx="519.6" cy="46.0" r="2.8"/><circle cx="542.5" cy="45.9" r="2.8"/><circle cx="518.8" cy="45.9" r="2.8"/><circle cx="515.5" cy="46.0" r="2.8"/><circle cx="518.5" cy="46.2" r="2.8"/><circle cx="521.8" cy="46.2" r="2.8"/><circle cx="514.9" cy="45.7" r="2.8"/><circle cx="520.9" cy="46.0" r="2.8"/><circle cx="528.3" cy="45.9" r="2.8"/><circle cx="531.4" cy="46.0" r="2.8"/><circle cx="518.9" cy="46.0" r="2.8"/><circle cx="527.6" cy="45.9" r="2.8"/><circle cx="535.7" cy="45.9" r="2.8"/><circle cx="544.0" cy="46.2" r="2.8"/><circle cx="523.8" cy="46.3" r="2.8"/><circle cx="538.6" cy="45.7" r="2.8"/><circle cx="530.2" cy="45.7" r="2.8"/><circle cx="536.0" cy="45.8" r="2.8"/><circle cx="530.5" cy="46.0" r="2.8"/><circle cx="512.3" cy="46.1" r="2.8"/><circle cx="515.2" cy="46.2" r="2.8"/><circle cx="540.0" cy="45.8" r="2.8"/><circle cx="511.2" cy="46.2" r="2.8"/><circle cx="525.5" cy="45.9" r="2.8"/><circle cx="524.4" cy="46.1" r="2.8"/><circle cx="509.8" cy="46.1" r="2.8"/><circle cx="537.1" cy="45.9" r="2.8"/><circle cx="528.2" cy="45.9" r="2.8"/><circle cx="513.2" cy="46.2" r="2.8"/><circle cx="537.3" cy="45.8" r="2.8"/><circle cx="544.4" cy="46.3" r="2.8"/><circle cx="509.0" cy="45.9" r="2.8"/><circle cx="527.2" cy="45.8" r="2.8"/><circle cx="533.3" cy="46.0" r="2.8"/><circle cx="536.2" cy="45.8" r="2.8"/><circle cx="539.6" cy="46.3" r="2.8"/><circle cx="539.1" cy="46.0" r="2.8"/><circle cx="520.0" cy="46.2" r="2.8"/><circle cx="540.4" cy="45.8" r="2.8"/><circle cx="538.1" cy="46.1" r="2.8"/><circle cx="511.0" cy="45.8" r="2.8"/><circle cx="539.1" cy="46.2" r="2.8"/><circle cx="540.2" cy="45.7" r="2.8"/><circle cx="541.7" cy="45.9" r="2.8"/><circle cx="523.8" cy="45.9" r="2.8"/><circle cx="516.5" cy="46.1" r="2.8"/><circle cx="535.4" cy="45.9" r="2.8"/><circle cx="527.4" cy="45.8" r="2.8"/><circle cx="535.4" cy="46.1" r="2.8"/><circle cx="509.0" cy="46.0" r="2.8"/><circle cx="530.5" cy="45.8" r="2.8"/><circle cx="520.2" cy="45.9" r="2.8"/><circle cx="523.0" cy="45.8" r="2.8"/><circle cx="540.8" cy="45.9" r="2.8"/><circle cx="532.4" cy="45.8" r="2.8"/><circle cx="538.6" cy="45.8" r="2.8"/><circle cx="526.6" cy="45.8" r="2.8"/><circle cx="513.6" cy="46.0" r="2.8"/><circle cx="520.7" cy="45.8" r="2.8"/><circle cx="515.0" cy="45.8" r="2.8"/><circle cx="538.4" cy="46.0" r="2.8"/><circle cx="518.2" cy="45.7" r="2.8"/><circle cx="509.9" cy="46.0" r="2.8"/><circle cx="526.5" cy="45.8" r="2.8"/><circle cx="529.3" cy="45.7" r="2.8"/><circle cx="526.0" cy="45.9" r="2.8"/><circle cx="531.0" cy="45.8" r="2.8"/><circle cx="516.0" cy="46.1" r="2.8"/><circle cx="524.6" cy="45.8" r="2.8"/><circle cx="542.3" cy="45.7" r="2.8"/><circle cx="522.3" cy="46.1" r="2.8"/><circle cx="516.6" cy="46.0" r="2.8"/><circle cx="538.7" cy="45.7" r="2.8"/><circle cx="517.7" cy="45.8" r="2.8"/><circle cx="533.5" cy="46.1" r="2.8"/><circle cx="519.9" cy="45.8" r="2.8"/><circle cx="515.5" cy="45.9" r="2.8"/><circle cx="530.1" cy="46.3" r="2.8"/><circle cx="515.2" cy="46.2" r="2.8"/><circle cx="526.7" cy="46.2" r="2.8"/><circle cx="529.2" cy="46.2" r="2.8"/><circle cx="537.0" cy="45.8" r="2.8"/><circle cx="522.3" cy="46.3" r="2.8"/><circle cx="529.6" cy="46.1" r="2.8"/><circle cx="536.9" cy="46.3" r="2.8"/><circle cx="524.8" cy="46.2" r="2.8"/><circle cx="523.1" cy="46.2" r="2.8"/><circle cx="508.8" cy="46.2" r="2.8"/><circle cx="541.5" cy="46.0" r="2.8"/><circle cx="542.5" cy="46.2" r="2.8"/><circle cx="537.2" cy="45.8" r="2.8"/><circle cx="523.9" cy="45.8" r="2.8"/><circle cx="539.6" cy="46.1" r="2.8"/><circle cx="540.7" cy="45.9" r="2.8"/><circle cx="528.9" cy="46.3" r="2.8"/><circle cx="512.6" cy="45.9" r="2.8"/><circle cx="530.7" cy="46.2" r="2.8"/><circle cx="528.7" cy="46.2" r="2.8"/><circle cx="535.5" cy="45.7" r="2.8"/><circle cx="536.3" cy="46.0" r="2.8"/><circle cx="525.6" cy="46.0" r="2.8"/><circle cx="515.3" cy="45.9" r="2.8"/><circle cx="520.0" cy="45.8" r="2.8"/><circle cx="532.4" cy="46.0" r="2.8"/><circle cx="520.4" cy="46.2" r="2.8"/><circle cx="531.8" cy="45.7" r="2.8"/><circle cx="528.2" cy="46.3" r="2.8"/><circle cx="515.7" cy="46.2" r="2.8"/><circle cx="531.7" cy="46.2" r="2.8"/><circle cx="525.3" cy="46.3" r="2.8"/><circle cx="542.5" cy="45.8" r="2.8"/><circle cx="531.0" cy="45.7" r="2.8"/><circle cx="540.9" cy="46.0" r="2.8"/><circle cx="534.5" cy="45.9" r="2.8"/><circle cx="511.4" cy="46.0" r="2.8"/><circle cx="516.9" cy="46.3" r="2.8"/><circle cx="524.6" cy="46.1" r="2.8"/><circle cx="529.7" cy="46.0" r="2.8"/><circle cx="517.0" cy="46.1" r="2.8"/><circle cx="526.1" cy="46.1" r="2.8"/><circle cx="535.2" cy="46.0" r="2.8"/><circle cx="542.0" cy="45.7" r="2.8"/><circle cx="520.8" cy="46.0" r="2.8"/><circle cx="515.1" cy="46.2" r="2.8"/><circle cx="525.4" cy="45.9" r="2.8"/><circle cx="541.2" cy="46.2" r="2.8"/><circle cx="528.4" cy="46.0" r="2.8"/><circle cx="521.6" cy="46.1" r="2.8"/><circle cx="523.0" cy="45.9" r="2.8"/><circle cx="522.6" cy="46.0" r="2.8"/><circle cx="536.0" cy="46.1" r="2.8"/><circle cx="521.5" cy="46.3" r="2.8"/><circle cx="517.7" cy="46.1" r="2.8"/><circle cx="513.5" cy="46.0" r="2.8"/><circle cx="527.5" cy="45.8" r="2.8"/><circle cx="538.6" cy="45.8" r="2.8"/><circle cx="517.6" cy="45.8" r="2.8"/><circle cx="509.7" cy="45.9" r="2.8"/><circle cx="541.7" cy="46.3" r="2.8"/><circle cx="518.7" cy="46.3" r="2.8"/><circle cx="519.1" cy="46.0" r="2.8"/><circle cx="517.0" cy="45.9" r="2.8"/><circle cx="541.6" cy="45.9" r="2.8"/><circle cx="539.7" cy="46.0" r="2.8"/><circle cx="515.5" cy="45.9" r="2.8"/><circle cx="534.4" cy="46.0" r="2.8"/><circle cx="531.3" cy="46.2" r="2.8"/><circle cx="520.6" cy="46.3" r="2.8"/><circle cx="517.9" cy="46.1" r="2.8"/><circle cx="534.9" cy="45.7" r="2.8"/><circle cx="513.8" cy="46.0" r="2.8"/><circle cx="540.8" cy="45.9" r="2.8"/><circle cx="510.3" cy="46.0" r="2.8"/><circle cx="521.4" cy="46.2" r="2.8"/><circle cx="518.6" cy="46.1" r="2.8"/><circle cx="517.2" cy="46.1" r="2.8"/><circle cx="526.7" cy="46.3" r="2.8"/><circle cx="516.7" cy="45.9" r="2.8"/>
</g>
<line x1="105.94" x2="105.94" y1="330.7" y2="32.5" stroke="rgb(176,176,176)" stroke-opacity="0.33" stroke-width="1.4" stroke-dasharray="3.5 1.55"/>
<line x1="189.82" x2="189.82" y1="330.7" y2="32.5" stroke="rgb(176,176,176)" stroke-opacity="0.33" stroke-width="1.4" stroke-dasharray="3.5 1.55"/>
<line x1="273.71" x2="273.71" y1="330.7" y2="32.5" stroke="rgb(176,176,176)" stroke-opacity="0.33" stroke-width="1.4" stroke-dasharray="3.5 1.55"/>
<line x1="357.59" x2="357.59" y1="330.7" y2="32.5" stroke="rgb(176,176,176)" stroke-opacity="0.33" stroke-width="1.4" stroke-dasharray="3.5 1.55"/>
<line x1="441.47" x2="441.47" y1="330.7" y2="32.5" stroke="rgb(176,176,176)" stroke-opacity="0.33" stroke-width="1.4" stroke-dasharray="3.5 1.55"/>
<line x1="525.36" x2="525.36" y1="330.7" y2="32.5" stroke="rgb(176,176,176)" stroke-opacity="0.33" stroke-width="1.4" stroke-dasharray="3.5 1.55"/>
<line x1="64.0" x2="567.3" y1="46.0" y2="46.0" stroke="rgb(176,176,176)" stroke-opacity="0.33" stroke-width="1.4" stroke-dasharray="3.5 1.55"/>
<line x1="64.0" x2="567.3" y1="194.9" y2="194.9" stroke="rgb(176,176,176)" stroke-opacity="0.33" stroke-width="1.4" stroke-dasharray="3.5 1.55"/>
<rect x="93.24" y="46" width="25.4" height="79.20" fill="rgb(31,119,180)" fill-opacity="0.65" stroke="#000" stroke-opacity="0.7" stroke-width="1"/>
<line x1="105.94" x2="105.94" y1="125.2" y2="199" stroke="#000" stroke-width="1.3"/>
<line x1="105.94" x2="105.94" y1="46" y2="46" stroke="#000" stroke-width="1.3"/>
<line x1="99.14" x2="112.74" y1="199" y2="199" stroke="#000" stroke-width="1.5"/>
<line x1="99.14" x2="112.74" y1="46" y2="46" stroke="#000" stroke-width="1.5"/>
<line x1="93.24" x2="118.64" y1="102.7" y2="102.7" stroke="#000" stroke-width="2"/>
<rect x="177.12" y="94.6" width="25.4" height="29.70" fill="rgb(255,127,14)" fill-opacity="0.65" stroke="#000" stroke-opacity="0.7" stroke-width="1"/>
<line x1="189.82" x2="189.82" y1="124.3" y2="171.6" stroke="#000" stroke-width="1.3"/>
<line x1="189.82" x2="189.82" y1="94.6" y2="90.5" stroke="#000" stroke-width="1.3"/>
<line x1="183.02" x2="196.62" y1="171.6" y2="171.6" stroke="#000" stroke-width="1.5"/>
<line x1="183.02" x2="196.62" y1="90.5" y2="90.5" stroke="#000" stroke-width="1.5"/>
<line x1="177.12" x2="202.52" y1="107.6" y2="107.6" stroke="#000" stroke-width="2"/>
<rect x="261.01" y="46" width="25.4" height="81.40" fill="rgb(44,160,44)" fill-opacity="0.65" stroke="#000" stroke-opacity="0.7" stroke-width="1"/>
<line x1="273.71" x2="273.71" y1="127.4" y2="182.8" stroke="#000" stroke-width="1.3"/>
<line x1="273.71" x2="273.71" y1="46" y2="46" stroke="#000" stroke-width="1.3"/>
<line x1="266.91" x2="280.51" y1="182.8" y2="182.8" stroke="#000" stroke-width="1.5"/>
<line x1="266.91" x2="280.51" y1="46" y2="46" stroke="#000" stroke-width="1.5"/>
<line x1="261.01" x2="286.41" y1="105.6" y2="105.6" stroke="#000" stroke-width="2"/>
<rect x="344.89" y="46" width="25.4" height="77.70" fill="rgb(214,39,40)" fill-opacity="0.65" stroke="#000" stroke-opacity="0.7" stroke-width="1"/>
<line x1="357.59" x2="357.59" y1="123.7" y2="182.2" stroke="#000" stroke-width="1.3"/>
<line x1="357.59" x2="357.59" y1="46" y2="46" stroke="#000" stroke-width="1.3"/>
<line x1="350.79" x2="364.39" y1="182.2" y2="182.2" stroke="#000" stroke-width="1.5"/>
<line x1="350.79" x2="364.39" y1="46" y2="46" stroke="#000" stroke-width="1.5"/>
<line x1="344.89" x2="370.29" y1="103.1" y2="103.1" stroke="#000" stroke-width="2"/>
<rect x="428.77" y="106.4" width="25.4" height="29.70" fill="rgb(148,103,189)" fill-opacity="0.65" stroke="#000" stroke-opacity="0.7" stroke-width="1"/>
<line x1="441.47" x2="441.47" y1="136.1" y2="154.2" stroke="#000" stroke-width="1.3"/>
<line x1="441.47" x2="441.47" y1="106.4" y2="78.3" stroke="#000" stroke-width="1.3"/>
<line x1="434.67" x2="448.27" y1="154.2" y2="154.2" stroke="#000" stroke-width="1.5"/>
<line x1="434.67" x2="448.27" y1="78.3" y2="78.3" stroke="#000" stroke-width="1.5"/>
<line x1="428.77" x2="454.17" y1="114.8" y2="114.8" stroke="#000" stroke-width="2"/>
<rect x="512.66" y="46" width="25.4" height="139.80" fill="rgb(140,86,75)" fill-opacity="0.65" stroke="#000" stroke-opacity="0.7" stroke-width="1"/>
<line x1="525.36" x2="525.36" y1="185.8" y2="316.5" stroke="#000" stroke-width="1.3"/>
<line x1="525.36" x2="525.36" y1="46" y2="46" stroke="#000" stroke-width="1.3"/>
<line x1="518.56" x2="532.16" y1="316.5" y2="316.5" stroke="#000" stroke-width="1.5"/>
<line x1="518.56" x2="532.16" y1="46" y2="46" stroke="#000" stroke-width="1.5"/>
<line x1="512.66" x2="538.06" y1="136.6" y2="136.6" stroke="#000" stroke-width="2"/>
</g>
<rect x="70.4" y="265.2" width="202" height="58.6" rx="3" fill="#fff" fill-opacity="0.8" stroke="rgb(204,204,204)" stroke-width="0.8"/>
<circle cx="88.7" cy="275.0" r="3" fill="rgb(5,65,95)"/>
<text x="112.3" y="279.6" class="lg">Convergent (out of band)</text>
<circle cx="88.7" cy="293.4" r="3" fill="rgb(255,127,14)"/>
<text x="112.3" y="298.0" class="lg">Convergent (in band)</text>
<circle cx="88.7" cy="311.8" r="3" fill="rgb(44,160,44)"/>
<text x="112.3" y="316.4" class="lg">Non-convergent (set to 1000)</text>
<rect x="64.0" y="32.5" width="503.3" height="298.2" fill="none" stroke="#000" stroke-width="0.9"/>
<line x1="60.4" x2="64.0" y1="46.0" y2="46.0" stroke="#000" stroke-width="0.9"/>
<line x1="60.4" x2="64.0" y1="194.9" y2="194.9" stroke="#000" stroke-width="0.9"/>
<line x1="62.0" x2="64.0" y1="298.98" y2="298.98" stroke="#000" stroke-width="0.7"/>
<line x1="62.0" x2="64.0" y1="272.76" y2="272.76" stroke="#000" stroke-width="0.7"/>
<line x1="62.0" x2="64.0" y1="254.15" y2="254.15" stroke="#000" stroke-width="0.7"/>
<line x1="62.0" x2="64.0" y1="239.72" y2="239.72" stroke="#000" stroke-width="0.7"/>
<line x1="62.0" x2="64.0" y1="227.93" y2="227.93" stroke="#000" stroke-width="0.7"/>
<line x1="62.0" x2="64.0" y1="217.96" y2="217.96" stroke="#000" stroke-width="0.7"/>
<line x1="62.0" x2="64.0" y1="209.33" y2="209.33" stroke="#000" stroke-width="0.7"/>
<line x1="62.0" x2="64.0" y1="201.71" y2="201.71" stroke="#000" stroke-width="0.7"/>
<line x1="62.0" x2="64.0" y1="150.08" y2="150.08" stroke="#000" stroke-width="0.7"/>
<line x1="62.0" x2="64.0" y1="123.86" y2="123.86" stroke="#000" stroke-width="0.7"/>
<line x1="62.0" x2="64.0" y1="105.25" y2="105.25" stroke="#000" stroke-width="0.7"/>
<line x1="62.0" x2="64.0" y1="90.82" y2="90.82" stroke="#000" stroke-width="0.7"/>
<line x1="62.0" x2="64.0" y1="79.03" y2="79.03" stroke="#000" stroke-width="0.7"/>
<line x1="62.0" x2="64.0" y1="69.06" y2="69.06" stroke="#000" stroke-width="0.7"/>
<line x1="62.0" x2="64.0" y1="60.43" y2="60.43" stroke="#000" stroke-width="0.7"/>
<line x1="62.0" x2="64.0" y1="52.81" y2="52.81" stroke="#000" stroke-width="0.7"/>
<text x="34" y="53.6" class="tk">10</text><text x="48.6" y="44.8" class="sup">3</text>
<text x="34" y="202.5" class="tk">10</text><text x="48.6" y="193.4" class="sup">2</text>
<line x1="105.94" x2="105.94" y1="330.7" y2="334.3" stroke="#000" stroke-width="0.9"/>
<text x="105.94" y="350" class="tk" text-anchor="middle">EVGNN</text>
<line x1="189.82" x2="189.82" y1="330.7" y2="334.3" stroke="#000" stroke-width="0.9"/>
<text x="189.82" y="350" class="tk" text-anchor="middle">Surrogate</text>
<line x1="273.71" x2="273.71" y1="330.7" y2="334.3" stroke="#000" stroke-width="0.9"/>
<text x="273.71" y="350" class="tk" text-anchor="middle">cVAE</text>
<line x1="357.59" x2="357.59" y1="330.7" y2="334.3" stroke="#000" stroke-width="0.9"/>
<text x="357.59" y="350" class="tk" text-anchor="middle">cGAN</text>
<line x1="441.47" x2="441.47" y1="330.7" y2="334.3" stroke="#000" stroke-width="0.9"/>
<text x="441.47" y="350" class="tk" text-anchor="middle">Ours</text>
<line x1="525.36" x2="525.36" y1="330.7" y2="334.3" stroke="#000" stroke-width="0.9"/>
<text x="525.36" y="350" class="tk" text-anchor="middle">Random</text>
<text x="315.6" y="26.2" class="ti" text-anchor="middle">N-k severity distribution, k in [2,15]</text>
<text transform="translate(24.3,182) rotate(-90)" class="lb" text-anchor="middle">Severity (log scale)</text>
<g clip-path="url(#cr)">
<rect x="645.10" y="279.03" width="36.4" height="51.77" fill="rgb(0,58,90)" fill-opacity="0.88" stroke="#000" stroke-opacity="0.75" stroke-width="0.8"/>
<rect x="645.10" y="180.79" width="36.4" height="98.24" fill="rgb(255,127,14)" fill-opacity="0.88" stroke="#000" stroke-opacity="0.75" stroke-width="0.8"/>
<rect x="645.10" y="109.55" width="36.4" height="71.24" fill="rgb(44,160,44)" fill-opacity="0.85" stroke="#000" stroke-opacity="0.75" stroke-width="0.8"/>
<rect x="703.28" y="307.35" width="36.4" height="23.45" fill="rgb(0,58,90)" fill-opacity="0.88" stroke="#000" stroke-opacity="0.75" stroke-width="0.8"/>
<rect x="703.28" y="146.50" width="36.4" height="160.85" fill="rgb(255,127,14)" fill-opacity="0.88" stroke="#000" stroke-opacity="0.75" stroke-width="0.8"/>
<rect x="703.28" y="109.55" width="36.4" height="36.95" fill="rgb(44,160,44)" fill-opacity="0.85" stroke="#000" stroke-opacity="0.75" stroke-width="0.8"/>
<rect x="761.46" y="280.13" width="36.4" height="50.67" fill="rgb(0,58,90)" fill-opacity="0.88" stroke="#000" stroke-opacity="0.75" stroke-width="0.8"/>
<rect x="761.46" y="166.63" width="36.4" height="113.50" fill="rgb(255,127,14)" fill-opacity="0.88" stroke="#000" stroke-opacity="0.75" stroke-width="0.8"/>
<rect x="761.46" y="109.55" width="36.4" height="57.08" fill="rgb(44,160,44)" fill-opacity="0.85" stroke="#000" stroke-opacity="0.75" stroke-width="0.8"/>
<rect x="819.64" y="281.24" width="36.4" height="49.56" fill="rgb(0,58,90)" fill-opacity="0.88" stroke="#000" stroke-opacity="0.75" stroke-width="0.8"/>
<rect x="819.64" y="167.96" width="36.4" height="113.28" fill="rgb(255,127,14)" fill-opacity="0.88" stroke="#000" stroke-opacity="0.75" stroke-width="0.8"/>
<rect x="819.64" y="109.55" width="36.4" height="58.41" fill="rgb(44,160,44)" fill-opacity="0.85" stroke="#000" stroke-opacity="0.75" stroke-width="0.8"/>
<rect x="877.82" y="311.33" width="36.4" height="19.47" fill="rgb(0,58,90)" fill-opacity="0.88" stroke="#000" stroke-opacity="0.75" stroke-width="0.8"/>
<rect x="877.82" y="141.63" width="36.4" height="169.70" fill="rgb(255,127,14)" fill-opacity="0.88" stroke="#000" stroke-opacity="0.75" stroke-width="0.8"/>
<rect x="877.82" y="109.55" width="36.4" height="32.08" fill="rgb(44,160,44)" fill-opacity="0.85" stroke="#000" stroke-opacity="0.75" stroke-width="0.8"/>
<rect x="936.00" y="230.57" width="36.4" height="100.23" fill="rgb(0,58,90)" fill-opacity="0.88" stroke="#000" stroke-opacity="0.75" stroke-width="0.8"/>
<rect x="936.00" y="209.33" width="36.4" height="21.24" fill="rgb(255,127,14)" fill-opacity="0.88" stroke="#000" stroke-opacity="0.75" stroke-width="0.8"/>
<rect x="936.00" y="109.55" width="36.4" height="99.78" fill="rgb(44,160,44)" fill-opacity="0.85" stroke="#000" stroke-opacity="0.75" stroke-width="0.8"/>
<line x1="663.30" x2="663.30" y1="330.7" y2="32.5" stroke="rgb(176,176,176)" stroke-opacity="0.33" stroke-width="1.4" stroke-dasharray="3.5 1.55"/>
<line x1="721.48" x2="721.48" y1="330.7" y2="32.5" stroke="rgb(176,176,176)" stroke-opacity="0.33" stroke-width="1.4" stroke-dasharray="3.5 1.55"/>
<line x1="779.66" x2="779.66" y1="330.7" y2="32.5" stroke="rgb(176,176,176)" stroke-opacity="0.33" stroke-width="1.4" stroke-dasharray="3.5 1.55"/>
<line x1="837.84" x2="837.84" y1="330.7" y2="32.5" stroke="rgb(176,176,176)" stroke-opacity="0.33" stroke-width="1.4" stroke-dasharray="3.5 1.55"/>
<line x1="896.02" x2="896.02" y1="330.7" y2="32.5" stroke="rgb(176,176,176)" stroke-opacity="0.33" stroke-width="1.4" stroke-dasharray="3.5 1.55"/>
<line x1="954.20" x2="954.20" y1="330.7" y2="32.5" stroke="rgb(176,176,176)" stroke-opacity="0.33" stroke-width="1.4" stroke-dasharray="3.5 1.55"/>
<line x1="629.0" x2="988.4" y1="330.80" y2="330.80" stroke="rgb(176,176,176)" stroke-opacity="0.33" stroke-width="1.4" stroke-dasharray="3.5 1.55"/>
<line x1="629.0" x2="988.4" y1="286.55" y2="286.55" stroke="rgb(176,176,176)" stroke-opacity="0.33" stroke-width="1.4" stroke-dasharray="3.5 1.55"/>
<line x1="629.0" x2="988.4" y1="242.30" y2="242.30" stroke="rgb(176,176,176)" stroke-opacity="0.33" stroke-width="1.4" stroke-dasharray="3.5 1.55"/>
<line x1="629.0" x2="988.4" y1="198.05" y2="198.05" stroke="rgb(176,176,176)" stroke-opacity="0.33" stroke-width="1.4" stroke-dasharray="3.5 1.55"/>
<line x1="629.0" x2="988.4" y1="153.80" y2="153.80" stroke="rgb(176,176,176)" stroke-opacity="0.33" stroke-width="1.4" stroke-dasharray="3.5 1.55"/>
<line x1="629.0" x2="988.4" y1="109.55" y2="109.55" stroke="rgb(176,176,176)" stroke-opacity="0.33" stroke-width="1.4" stroke-dasharray="3.5 1.55"/>
<line x1="629.0" x2="988.4" y1="65.30" y2="65.30" stroke="rgb(176,176,176)" stroke-opacity="0.33" stroke-width="1.4" stroke-dasharray="3.5 1.55"/>
</g>
<rect x="635.4" y="39" width="180.6" height="59.2" rx="3" fill="#fff" fill-opacity="0.8" stroke="rgb(204,204,204)" stroke-width="0.8"/>
<rect x="636" y="44.0" width="36.1" height="9.7" fill="rgb(5,65,95)"/>
<text x="677.9" y="53.4" class="lg">Convergent (out of band)</text>
<rect x="636" y="62.5" width="36.1" height="9.7" fill="rgb(255,127,14)"/>
<text x="677.9" y="71.9" class="lg">Convergent (in band)</text>
<rect x="636" y="81.0" width="36.1" height="9.7" fill="rgb(44,160,44)"/>
<text x="677.9" y="90.4" class="lg">Non-convergent</text>
<rect x="629.0" y="32.5" width="359.4" height="298.2" fill="none" stroke="#000" stroke-width="0.9"/>
<line x1="625.4" x2="629.0" y1="330.80" y2="330.80" stroke="#000" stroke-width="0.9"/>
<text x="620.6" y="336.30" class="tk" text-anchor="end">0.0</text>
<line x1="625.4" x2="629.0" y1="286.55" y2="286.55" stroke="#000" stroke-width="0.9"/>
<text x="620.6" y="292.05" class="tk" text-anchor="end">0.2</text>
<line x1="625.4" x2="629.0" y1="242.30" y2="242.30" stroke="#000" stroke-width="0.9"/>
<text x="620.6" y="247.80" class="tk" text-anchor="end">0.4</text>
<line x1="625.4" x2="629.0" y1="198.05" y2="198.05" stroke="#000" stroke-width="0.9"/>
<text x="620.6" y="203.55" class="tk" text-anchor="end">0.6</text>
<line x1="625.4" x2="629.0" y1="153.80" y2="153.80" stroke="#000" stroke-width="0.9"/>
<text x="620.6" y="159.30" class="tk" text-anchor="end">0.8</text>
<line x1="625.4" x2="629.0" y1="109.55" y2="109.55" stroke="#000" stroke-width="0.9"/>
<text x="620.6" y="115.05" class="tk" text-anchor="end">1.0</text>
<line x1="625.4" x2="629.0" y1="65.30" y2="65.30" stroke="#000" stroke-width="0.9"/>
<text x="620.6" y="70.80" class="tk" text-anchor="end">1.2</text>
<line x1="663.30" x2="663.30" y1="330.7" y2="334.3" stroke="#000" stroke-width="0.9"/>
<text x="663.30" y="350" class="tk" text-anchor="middle">EVGNN</text>
<line x1="721.48" x2="721.48" y1="330.7" y2="334.3" stroke="#000" stroke-width="0.9"/>
<text x="721.48" y="350" class="tk" text-anchor="middle">Surrogate</text>
<line x1="779.66" x2="779.66" y1="330.7" y2="334.3" stroke="#000" stroke-width="0.9"/>
<text x="779.66" y="350" class="tk" text-anchor="middle">cVAE</text>
<line x1="837.84" x2="837.84" y1="330.7" y2="334.3" stroke="#000" stroke-width="0.9"/>
<text x="837.84" y="350" class="tk" text-anchor="middle">cGAN</text>
<line x1="896.02" x2="896.02" y1="330.7" y2="334.3" stroke="#000" stroke-width="0.9"/>
<text x="896.02" y="350" class="tk" text-anchor="middle">Ours</text>
<line x1="954.20" x2="954.20" y1="330.7" y2="334.3" stroke="#000" stroke-width="0.9"/>
<text x="954.20" y="350" class="tk" text-anchor="middle">Random</text>
<text x="808.7" y="26.2" class="ti" text-anchor="middle">Composition</text>
<text transform="translate(592.5,181) rotate(-90)" class="lb" text-anchor="middle">Share of cases</text>
</svg>
</body></html>
